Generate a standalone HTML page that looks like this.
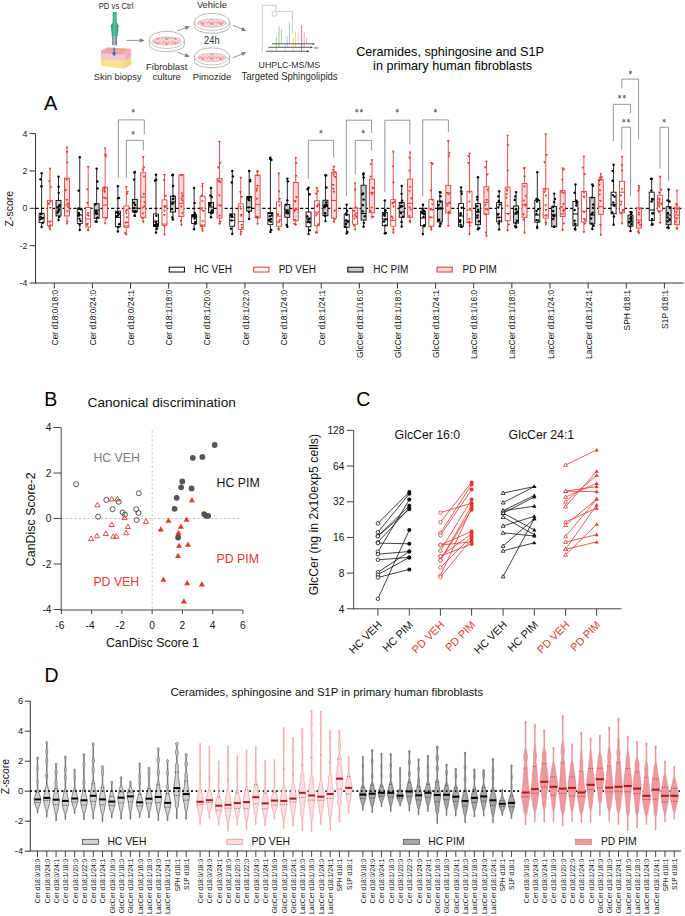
<!DOCTYPE html>
<html><head><meta charset="utf-8"><style>
html,body{margin:0;padding:0;background:#fff;overflow:hidden}
svg{display:block}
text{font-family:"Liberation Sans",sans-serif}
</style></head><body>
<svg width="685" height="916" viewBox="0 0 685 916" font-family="Liberation Sans, sans-serif">
<rect width="685" height="916" fill="#fff"/>
<text x="98.7" y="8.6" font-size="9.1" fill="#2a2a2a" text-anchor="start" textLength="34.7" lengthAdjust="spacingAndGlyphs">PD vs Ctrl</text>
<defs><linearGradient id="tg" x1="0" x2="1" y1="0" y2="0"><stop offset="0" stop-color="#2f8f74"/><stop offset="0.45" stop-color="#5cc4a2"/><stop offset="1" stop-color="#2f8f74"/></linearGradient><linearGradient id="mg" x1="0" x2="1" y1="0" y2="0"><stop offset="0" stop-color="#55707c"/><stop offset="0.45" stop-color="#b8cad2"/><stop offset="1" stop-color="#4a6470"/></linearGradient><pattern id="cells" width="9" height="5" patternUnits="userSpaceOnUse"><rect width="9" height="5" fill="#f7d3d6"/><circle cx="2.1" cy="2.7" r="0.6" fill="#ea7a84"/><circle cx="4.3" cy="2.9" r="0.7" fill="#f2a4ab"/><circle cx="2.3" cy="1.2" r="0.8" fill="#f2a4ab"/><circle cx="4.9" cy="2.7" r="0.6" fill="#ee8d95"/><circle cx="2.1" cy="0.8" r="0.8" fill="#f2a4ab"/><circle cx="6.7" cy="3.4" r="0.5" fill="#ea7a84"/><circle cx="0.4" cy="3.9" r="0.7" fill="#f2a4ab"/><circle cx="4.3" cy="3.6" r="0.8" fill="#ea7a84"/><circle cx="7.1" cy="2.1" r="0.7" fill="#ea7a84"/><circle cx="4.0" cy="4.7" r="0.8" fill="#ee8d95"/><circle cx="0.3" cy="2.5" r="0.5" fill="#ea7a84"/><circle cx="3.9" cy="3.1" r="0.6" fill="#ea7a84"/><circle cx="7.5" cy="2.9" r="0.6" fill="#f2a4ab"/><circle cx="5.3" cy="4.5" r="0.7" fill="#ee8d95"/><circle cx="7.7" cy="5.0" r="0.5" fill="#fdf3f4"/><circle cx="1.5" cy="4.3" r="0.6" fill="#fdf3f4"/><circle cx="8.1" cy="2.8" r="0.5" fill="#fdf3f4"/><circle cx="1.9" cy="4.2" r="0.5" fill="#fdf3f4"/><circle cx="2.6" cy="0.3" r="0.6" fill="#fdf3f4"/></pattern></defs>
<rect x="112.7" y="12" width="3.9" height="10.5" fill="url(#tg)"/>
<path d="M112.7,22 L110.9,25.6 L111.9,36.8 L117.6,36.8 L118.6,25.6 L116.6,22 Z" fill="url(#tg)"/>
<rect x="112.2" y="36.7" width="4.7" height="8.5" fill="url(#mg)"/>
<polygon points="101,50.5 107.5,47.6 131.2,48.8 124.6,52.2" fill="#f2a584"/>
<polygon points="101,50.5 124.6,52.2 124.6,68.6 101,65.8" fill="#f5c5cd"/>
<polygon points="101,50.5 124.6,52.2 124.6,54.6 101,53.2" fill="#ee9cbd"/>
<polygon points="101,59.8 105,59.2 110,60.3 115,59.6 120,60.6 124.6,60.2 124.6,68.6 101,65.8" fill="#f5e38e"/>
<polygon points="124.6,52.2 131.2,48.8 131.2,64.2 124.6,68.6" fill="#f0b2c0"/>
<polygon points="124.6,60.2 131.2,57.2 131.2,64.2 124.6,68.6" fill="#eedc82"/>
<line x1="114.2" y1="47.8" x2="114.2" y2="53.5" stroke="#3a66c4" stroke-width="1.4" />
<polygon points="111.9,52.6 116.5,52.6 114.2,56.6" fill="#3a66c4"/>
<line x1="126.3" y1="40.4" x2="139.6" y2="40.4" stroke="#7a7a7a" stroke-width="0.8" />
<polygon points="144.6,40.4 139.6,42.5 139.6,38.3" fill="#7a7a7a"/>
<line x1="177.2" y1="30.9" x2="185.31" y2="27.92" stroke="#7a7a7a" stroke-width="0.8" />
<polygon points="190,26.2 186.03,29.89 184.58,25.95" fill="#7a7a7a"/>
<line x1="177.2" y1="52.2" x2="185.29" y2="55.11" stroke="#7a7a7a" stroke-width="0.8" />
<polygon points="190,56.8 184.58,57.09 186,53.13" fill="#7a7a7a"/>
<line x1="232.9" y1="25.4" x2="241.76" y2="28.94" stroke="#7a7a7a" stroke-width="0.8" />
<polygon points="246.4,30.8 240.98,30.89 242.54,26.99" fill="#7a7a7a"/>
<line x1="232.9" y1="57.8" x2="241.78" y2="54.12" stroke="#7a7a7a" stroke-width="0.8" />
<polygon points="246.4,52.2 242.59,56.06 240.98,52.18" fill="#7a7a7a"/>
<text x="93.8" y="80.2" font-size="9.9" fill="#2a2a2a" text-anchor="start" textLength="47.8" lengthAdjust="spacingAndGlyphs">Skin biopsy</text>
<path d="M149.2,39.9 A17.6,8.6 0 0 1 184.4,39.9 L184.4,44.8 A17.6,6.9 0 0 1 149.2,44.8 Z" fill="#fff" stroke="#9a9a9a" stroke-width="0.7"/>
<path d="M149.2,39.9 A17.6,8.6 0 0 0 184.4,39.9" fill="none" stroke="#9a9a9a" stroke-width="0.6"/>
<ellipse cx="166.8" cy="41.1" rx="14.5" ry="4.2" fill="url(#cells)" stroke="#b0b0b0" stroke-width="0.5"/>
<path d="M194.4,21.9 A17.6,8.6 0 0 1 229.6,21.9 L229.6,26.4 A17.6,6.9 0 0 1 194.4,26.4 Z" fill="#fff" stroke="#9a9a9a" stroke-width="0.7"/>
<path d="M194.4,21.9 A17.6,8.6 0 0 0 229.6,21.9" fill="none" stroke="#9a9a9a" stroke-width="0.6"/>
<ellipse cx="212" cy="23.1" rx="14.5" ry="4.2" fill="url(#cells)" stroke="#b0b0b0" stroke-width="0.5"/>
<path d="M194.4,56.4 A17.6,8.6 0 0 1 229.6,56.4 L229.6,60.9 A17.6,6.9 0 0 1 194.4,60.9 Z" fill="#fff" stroke="#9a9a9a" stroke-width="0.7"/>
<path d="M194.4,56.4 A17.6,8.6 0 0 0 229.6,56.4" fill="none" stroke="#9a9a9a" stroke-width="0.6"/>
<ellipse cx="212" cy="57.6" rx="14.5" ry="4.2" fill="url(#cells)" stroke="#b0b0b0" stroke-width="0.5"/>
<text x="196.9" y="8" font-size="9.3" fill="#2a2a2a" text-anchor="start" textLength="30" lengthAdjust="spacingAndGlyphs">Vehicle</text>
<text x="204.1" y="43.8" font-size="10.3" fill="#2a2a2a" text-anchor="start" textLength="15.5" lengthAdjust="spacingAndGlyphs">24h</text>
<text x="146.1" y="69.6" font-size="9.8" fill="#2a2a2a" text-anchor="start" textLength="41.3" lengthAdjust="spacingAndGlyphs">Fibroblast</text>
<text x="152.4" y="79.6" font-size="9.8" fill="#2a2a2a" text-anchor="start" textLength="28.5" lengthAdjust="spacingAndGlyphs">culture</text>
<text x="192.8" y="79.6" font-size="9.8" fill="#2a2a2a" text-anchor="start" textLength="38.4" lengthAdjust="spacingAndGlyphs">Pimozide</text>
<polyline points="262.3,51.7 262.3,5.3 276,5.3 276,11.2" stroke="#bdbdbd" stroke-width="0.8" fill="none" />
<circle cx="274.5" cy="13.8" r="2.5" fill="none" stroke="#bdbdbd" stroke-width="0.8"/>
<polyline points="276.5,11.4 292.4,11.4 292.4,33" stroke="#bdbdbd" stroke-width="0.8" fill="none" />
<line x1="276.3" y1="36.8" x2="276.3" y2="51.3" stroke="#9fd39a" stroke-width="0.9" />
<line x1="279" y1="26.3" x2="279" y2="47.3" stroke="#8ccc88" stroke-width="0.9" />
<line x1="281.4" y1="28.9" x2="281.4" y2="43.8" stroke="#9fd39a" stroke-width="0.9" />
<line x1="285.1" y1="44.8" x2="285.1" y2="51.3" stroke="#a9d8ee" stroke-width="0.9" />
<line x1="287.2" y1="36" x2="287.2" y2="47.3" stroke="#a0d0ec" stroke-width="0.9" />
<line x1="289.5" y1="22.4" x2="289.5" y2="43.8" stroke="#9bcbe8" stroke-width="0.9" />
<line x1="293.3" y1="37.7" x2="293.3" y2="51.3" stroke="#f3d67a" stroke-width="0.9" />
<line x1="295.6" y1="31.2" x2="295.6" y2="47.3" stroke="#f0d070" stroke-width="0.9" />
<line x1="298.2" y1="33.3" x2="298.2" y2="43.8" stroke="#f3da88" stroke-width="0.9" />
<line x1="301.6" y1="25.4" x2="301.6" y2="51.3" stroke="#e35fb8" stroke-width="0.9" />
<line x1="304.2" y1="32.4" x2="304.2" y2="47.3" stroke="#f0a0d0" stroke-width="0.9" />
<line x1="306.5" y1="37.7" x2="306.5" y2="43.8" stroke="#f2a8d4" stroke-width="0.9" />
<line x1="272" y1="43.8" x2="312.5" y2="43.8" stroke="#333" stroke-width="0.8" />
<polygon points="315,43.8 312.5,44.9 312.5,42.7" fill="#333"/>
<line x1="268.4" y1="47.3" x2="310.5" y2="47.3" stroke="#333" stroke-width="0.8" />
<polygon points="313,47.3 310.5,48.4 310.5,46.2" fill="#333"/>
<line x1="266.2" y1="51.3" x2="307" y2="51.3" stroke="#333" stroke-width="0.8" />
<polygon points="309.5,51.3 307,52.4 307,50.2" fill="#333"/>
<text x="314" y="48.6" font-size="2.8" fill="#333" text-anchor="start" >m/z</text>
<text x="258.6" y="67.6" font-size="9.6" fill="#2a2a2a" text-anchor="start" textLength="61.5" lengthAdjust="spacingAndGlyphs">UHPLC-MS/MS</text>
<text x="241.6" y="79.7" font-size="10.3" fill="#2a2a2a" text-anchor="start" textLength="96" lengthAdjust="spacingAndGlyphs">Targeted Sphingolipids</text>
<text x="356.2" y="55.5" font-size="12.67" fill="#000" text-anchor="start" >Ceramides, sphingosine and S1P</text>
<text x="373.1" y="70.4" font-size="12.67" fill="#000" text-anchor="start" >in primary human fibroblasts</text>
<text x="43.9" y="109.7" font-size="20" fill="#000" text-anchor="start" >A</text>
<line x1="35.5" y1="133.58" x2="35.5" y2="283.5" stroke="#333" stroke-width="1" />
<line x1="35" y1="283" x2="683.7" y2="283" stroke="#333" stroke-width="1" />
<line x1="29.5" y1="133.58" x2="35.5" y2="133.58" stroke="#333" stroke-width="1" />
<text x="27.5" y="136.68" font-size="8.8" fill="#222" text-anchor="end" >4</text>
<line x1="29.5" y1="170.94" x2="35.5" y2="170.94" stroke="#333" stroke-width="1" />
<text x="27.5" y="174.04" font-size="8.8" fill="#222" text-anchor="end" >2</text>
<line x1="29.5" y1="208.3" x2="35.5" y2="208.3" stroke="#333" stroke-width="1" />
<text x="27.5" y="211.4" font-size="8.8" fill="#222" text-anchor="end" >0</text>
<line x1="29.5" y1="245.66" x2="35.5" y2="245.66" stroke="#333" stroke-width="1" />
<text x="27.5" y="248.76" font-size="8.8" fill="#222" text-anchor="end" >-2</text>
<line x1="29.5" y1="283.02" x2="35.5" y2="283.02" stroke="#333" stroke-width="1" />
<text x="27.5" y="286.12" font-size="8.8" fill="#222" text-anchor="end" >-4</text>
<text transform="translate(13.4,208.6) rotate(-90)" font-size="10.5" text-anchor="middle" fill="#111">Z-score</text>
<line x1="35.5" y1="208.3" x2="683.7" y2="208.3" stroke="#000" stroke-width="1.3" stroke-dasharray="3.2,2.2"/>
<line x1="54.3" y1="283" x2="54.3" y2="288.5" stroke="#333" stroke-width="1" />
<text transform="translate(57.9,289.8) rotate(-90) scale(0.85,1)" font-size="9.9" text-anchor="end" fill="#111">Cer d18:0/18:0</text>
<line x1="41.62" y1="173.3" x2="41.62" y2="213.3" stroke="#000" stroke-width="0.85" />
<line x1="41.62" y1="222.6" x2="41.62" y2="227" stroke="#000" stroke-width="0.85" />
<rect x="39.12" y="213.3" width="5.0" height="9.3" fill="#fff" stroke="#000" stroke-width="0.85"/>
<line x1="39.12" y1="217.7" x2="44.12" y2="217.7" stroke="#000" stroke-width="1" />
<circle cx="41.62" cy="173.3" r="1.2" fill="#000" stroke="none" stroke-width="0.8"/>
<circle cx="41.62" cy="227" r="1.2" fill="#000" stroke="none" stroke-width="0.8"/>
<circle cx="41.45" cy="186.25" r="1.2" fill="#000" stroke="none" stroke-width="0.8"/>
<circle cx="40.51" cy="179.33" r="1.2" fill="#000" stroke="none" stroke-width="0.8"/>
<circle cx="40.56" cy="219.35" r="1.2" fill="#000" stroke="none" stroke-width="0.8"/>
<circle cx="41.43" cy="213.97" r="1.2" fill="#000" stroke="none" stroke-width="0.8"/>
<circle cx="42.47" cy="218.28" r="1.2" fill="#000" stroke="none" stroke-width="0.8"/>
<circle cx="40.65" cy="216.7" r="1.2" fill="#000" stroke="none" stroke-width="0.8"/>
<circle cx="40.91" cy="213.84" r="1.2" fill="#000" stroke="none" stroke-width="0.8"/>
<circle cx="41.96" cy="218.02" r="1.2" fill="#000" stroke="none" stroke-width="0.8"/>
<circle cx="42.79" cy="222.76" r="1.2" fill="#000" stroke="none" stroke-width="0.8"/>
<line x1="50.07" y1="168.6" x2="50.07" y2="200.4" stroke="#e2392f" stroke-width="0.85" />
<line x1="50.07" y1="225.8" x2="50.07" y2="229.5" stroke="#e2392f" stroke-width="0.85" />
<rect x="47.57" y="200.4" width="5.0" height="25.4" fill="#fff" stroke="#e2392f" stroke-width="0.85"/>
<line x1="47.57" y1="221.2" x2="52.57" y2="221.2" stroke="#e2392f" stroke-width="1" />
<polygon points="48.67,167.79 51.47,167.79 50.07,170.22" fill="#e2392f" stroke="none" stroke-width="0.8"/>
<polygon points="48.67,228.69 51.47,228.69 50.07,231.12" fill="#e2392f" stroke="none" stroke-width="0.8"/>
<polygon points="49.5,186.14 52.3,186.14 50.9,188.57" fill="#e2392f" stroke="none" stroke-width="0.8"/>
<polygon points="47.84,180.41 50.64,180.41 49.24,182.83" fill="#e2392f" stroke="none" stroke-width="0.8"/>
<polygon points="48.89,224.39 51.69,224.39 50.29,226.81" fill="#e2392f" stroke="none" stroke-width="0.8"/>
<polygon points="49.04,200.77 51.84,200.77 50.44,203.2" fill="#e2392f" stroke="none" stroke-width="0.8"/>
<polygon points="48.34,221.4 51.14,221.4 49.74,223.82" fill="#e2392f" stroke="none" stroke-width="0.8"/>
<polygon points="48.8,206.95 51.6,206.95 50.2,209.37" fill="#e2392f" stroke="none" stroke-width="0.8"/>
<polygon points="47.54,203.26 50.34,203.26 48.94,205.68" fill="#e2392f" stroke="none" stroke-width="0.8"/>
<polygon points="47.53,202.58 50.33,202.58 48.93,205.01" fill="#e2392f" stroke="none" stroke-width="0.8"/>
<polygon points="47.91,226.13 50.71,226.13 49.31,228.56" fill="#e2392f" stroke="none" stroke-width="0.8"/>
<line x1="58.52" y1="176.6" x2="58.52" y2="200.5" stroke="#000" stroke-width="0.85" />
<line x1="58.52" y1="215.9" x2="58.52" y2="220" stroke="#000" stroke-width="0.85" />
<rect x="56.02" y="200.5" width="5.0" height="15.4" fill="#c9c9c9" stroke="#000" stroke-width="0.85"/>
<line x1="56.02" y1="207" x2="61.02" y2="207" stroke="#000" stroke-width="1" />
<circle cx="58.52" cy="176.6" r="1.2" fill="#000" stroke="none" stroke-width="0.8"/>
<circle cx="58.52" cy="220" r="1.2" fill="#000" stroke="none" stroke-width="0.8"/>
<circle cx="58.72" cy="192.86" r="1.2" fill="#000" stroke="none" stroke-width="0.8"/>
<circle cx="58.59" cy="186.82" r="1.2" fill="#000" stroke="none" stroke-width="0.8"/>
<circle cx="59.5" cy="205.34" r="1.2" fill="#000" stroke="none" stroke-width="0.8"/>
<circle cx="59.12" cy="209.52" r="1.2" fill="#000" stroke="none" stroke-width="0.8"/>
<circle cx="57.97" cy="207.48" r="1.2" fill="#000" stroke="none" stroke-width="0.8"/>
<circle cx="59.77" cy="205.12" r="1.2" fill="#000" stroke="none" stroke-width="0.8"/>
<circle cx="57.53" cy="212.73" r="1.2" fill="#000" stroke="none" stroke-width="0.8"/>
<circle cx="58.31" cy="211.26" r="1.2" fill="#000" stroke="none" stroke-width="0.8"/>
<circle cx="59.19" cy="216.9" r="1.2" fill="#000" stroke="none" stroke-width="0.8"/>
<line x1="66.97" y1="147.2" x2="66.97" y2="178.2" stroke="#e2392f" stroke-width="0.85" />
<line x1="66.97" y1="215.9" x2="66.97" y2="223.5" stroke="#e2392f" stroke-width="0.85" />
<rect x="64.47" y="178.2" width="5.0" height="37.7" fill="#f4d9dc" stroke="#e2392f" stroke-width="0.85"/>
<line x1="64.47" y1="205" x2="69.47" y2="205" stroke="#e2392f" stroke-width="1" />
<polygon points="65.57,146.39 68.38,146.39 66.97,148.82" fill="#e2392f" stroke="none" stroke-width="0.8"/>
<polygon points="65.57,222.69 68.38,222.69 66.97,225.12" fill="#e2392f" stroke="none" stroke-width="0.8"/>
<polygon points="65.82,151.1 68.62,151.1 67.22,153.53" fill="#e2392f" stroke="none" stroke-width="0.8"/>
<polygon points="65.78,161.55 68.58,161.55 67.18,163.97" fill="#e2392f" stroke="none" stroke-width="0.8"/>
<polygon points="65.46,178.87 68.26,178.87 66.86,181.29" fill="#e2392f" stroke="none" stroke-width="0.8"/>
<polygon points="66.46,202.58 69.26,202.58 67.86,205.01" fill="#e2392f" stroke="none" stroke-width="0.8"/>
<polygon points="66.73,206.22 69.53,206.22 68.13,208.64" fill="#e2392f" stroke="none" stroke-width="0.8"/>
<polygon points="65.51,198.99 68.31,198.99 66.91,201.42" fill="#e2392f" stroke="none" stroke-width="0.8"/>
<polygon points="66,210.4 68.8,210.4 67.4,212.82" fill="#e2392f" stroke="none" stroke-width="0.8"/>
<polygon points="64.43,189.22 67.23,189.22 65.83,191.64" fill="#e2392f" stroke="none" stroke-width="0.8"/>
<polygon points="66.1,220.38 68.9,220.38 67.5,222.8" fill="#e2392f" stroke="none" stroke-width="0.8"/>
<line x1="92.43" y1="283" x2="92.43" y2="288.5" stroke="#333" stroke-width="1" />
<text transform="translate(96.03,289.8) rotate(-90) scale(0.85,1)" font-size="9.9" text-anchor="end" fill="#111">Cer d18:0/24:0</text>
<line x1="79.76" y1="157.2" x2="79.76" y2="208.9" stroke="#000" stroke-width="0.85" />
<line x1="79.76" y1="223.5" x2="79.76" y2="230" stroke="#000" stroke-width="0.85" />
<rect x="77.26" y="208.9" width="5.0" height="14.6" fill="#fff" stroke="#000" stroke-width="0.85"/>
<line x1="77.26" y1="215" x2="82.26" y2="215" stroke="#000" stroke-width="1" />
<circle cx="79.76" cy="157.2" r="1.2" fill="#000" stroke="none" stroke-width="0.8"/>
<circle cx="79.76" cy="230" r="1.2" fill="#000" stroke="none" stroke-width="0.8"/>
<circle cx="78.76" cy="190.66" r="1.2" fill="#000" stroke="none" stroke-width="0.8"/>
<circle cx="78.61" cy="208.54" r="1.2" fill="#000" stroke="none" stroke-width="0.8"/>
<circle cx="80.45" cy="220.9" r="1.2" fill="#000" stroke="none" stroke-width="0.8"/>
<circle cx="78.79" cy="213.06" r="1.2" fill="#000" stroke="none" stroke-width="0.8"/>
<circle cx="79.1" cy="214.53" r="1.2" fill="#000" stroke="none" stroke-width="0.8"/>
<circle cx="79.47" cy="218.66" r="1.2" fill="#000" stroke="none" stroke-width="0.8"/>
<circle cx="80.72" cy="209.23" r="1.2" fill="#000" stroke="none" stroke-width="0.8"/>
<circle cx="78.66" cy="215.64" r="1.2" fill="#000" stroke="none" stroke-width="0.8"/>
<circle cx="79.62" cy="224.59" r="1.2" fill="#000" stroke="none" stroke-width="0.8"/>
<line x1="88.21" y1="166.9" x2="88.21" y2="207.5" stroke="#e2392f" stroke-width="0.85" />
<line x1="88.21" y1="227" x2="88.21" y2="230" stroke="#e2392f" stroke-width="0.85" />
<rect x="85.71" y="207.5" width="5.0" height="19.5" fill="#fff" stroke="#e2392f" stroke-width="0.85"/>
<line x1="85.71" y1="219" x2="90.71" y2="219" stroke="#e2392f" stroke-width="1" />
<polygon points="86.81,166.09 89.61,166.09 88.21,168.52" fill="#e2392f" stroke="none" stroke-width="0.8"/>
<polygon points="86.81,229.19 89.61,229.19 88.21,231.62" fill="#e2392f" stroke="none" stroke-width="0.8"/>
<polygon points="85.9,188.4 88.7,188.4 87.3,190.82" fill="#e2392f" stroke="none" stroke-width="0.8"/>
<polygon points="85.96,201.96 88.76,201.96 87.36,204.38" fill="#e2392f" stroke="none" stroke-width="0.8"/>
<polygon points="86.11,222.67 88.91,222.67 87.51,225.09" fill="#e2392f" stroke="none" stroke-width="0.8"/>
<polygon points="86.11,223.54 88.91,223.54 87.51,225.96" fill="#e2392f" stroke="none" stroke-width="0.8"/>
<polygon points="86.77,212.12 89.57,212.12 88.17,214.55" fill="#e2392f" stroke="none" stroke-width="0.8"/>
<polygon points="87.04,214.79 89.84,214.79 88.44,217.21" fill="#e2392f" stroke="none" stroke-width="0.8"/>
<polygon points="86.19,213.69 88.99,213.69 87.59,216.11" fill="#e2392f" stroke="none" stroke-width="0.8"/>
<polygon points="85.52,223.93 88.32,223.93 86.92,226.36" fill="#e2392f" stroke="none" stroke-width="0.8"/>
<polygon points="86.59,229.06 89.39,229.06 87.99,231.49" fill="#e2392f" stroke="none" stroke-width="0.8"/>
<line x1="96.66" y1="168.6" x2="96.66" y2="203.7" stroke="#000" stroke-width="0.85" />
<line x1="96.66" y1="218.3" x2="96.66" y2="221.8" stroke="#000" stroke-width="0.85" />
<rect x="94.16" y="203.7" width="5.0" height="14.6" fill="#c9c9c9" stroke="#000" stroke-width="0.85"/>
<line x1="94.16" y1="210" x2="99.16" y2="210" stroke="#000" stroke-width="1" />
<circle cx="96.66" cy="168.6" r="1.2" fill="#000" stroke="none" stroke-width="0.8"/>
<circle cx="96.66" cy="221.8" r="1.2" fill="#000" stroke="none" stroke-width="0.8"/>
<circle cx="97.38" cy="181.56" r="1.2" fill="#000" stroke="none" stroke-width="0.8"/>
<circle cx="97.63" cy="188.48" r="1.2" fill="#000" stroke="none" stroke-width="0.8"/>
<circle cx="97.43" cy="217.62" r="1.2" fill="#000" stroke="none" stroke-width="0.8"/>
<circle cx="96.38" cy="213.78" r="1.2" fill="#000" stroke="none" stroke-width="0.8"/>
<circle cx="96.39" cy="211.23" r="1.2" fill="#000" stroke="none" stroke-width="0.8"/>
<circle cx="95.62" cy="212.72" r="1.2" fill="#000" stroke="none" stroke-width="0.8"/>
<circle cx="97" cy="213.57" r="1.2" fill="#000" stroke="none" stroke-width="0.8"/>
<circle cx="95.52" cy="204.49" r="1.2" fill="#000" stroke="none" stroke-width="0.8"/>
<circle cx="95.53" cy="221.45" r="1.2" fill="#000" stroke="none" stroke-width="0.8"/>
<line x1="105.11" y1="148.2" x2="105.11" y2="187.3" stroke="#e2392f" stroke-width="0.85" />
<line x1="105.11" y1="217.7" x2="105.11" y2="223.2" stroke="#e2392f" stroke-width="0.85" />
<rect x="102.61" y="187.3" width="5.0" height="30.4" fill="#f4d9dc" stroke="#e2392f" stroke-width="0.85"/>
<line x1="102.61" y1="205" x2="107.61" y2="205" stroke="#e2392f" stroke-width="1" />
<polygon points="103.7,147.39 106.51,147.39 105.11,149.82" fill="#e2392f" stroke="none" stroke-width="0.8"/>
<polygon points="103.7,222.39 106.51,222.39 105.11,224.82" fill="#e2392f" stroke="none" stroke-width="0.8"/>
<polygon points="104.68,155.55 107.48,155.55 106.08,157.98" fill="#e2392f" stroke="none" stroke-width="0.8"/>
<polygon points="104,153.74 106.8,153.74 105.4,156.16" fill="#e2392f" stroke="none" stroke-width="0.8"/>
<polygon points="102.79,196.83 105.59,196.83 104.19,199.25" fill="#e2392f" stroke="none" stroke-width="0.8"/>
<polygon points="103.06,188.09 105.86,188.09 104.46,190.51" fill="#e2392f" stroke="none" stroke-width="0.8"/>
<polygon points="103.31,186.5 106.11,186.5 104.71,188.92" fill="#e2392f" stroke="none" stroke-width="0.8"/>
<polygon points="103.35,191.09 106.15,191.09 104.75,193.51" fill="#e2392f" stroke="none" stroke-width="0.8"/>
<polygon points="102.72,189.58 105.52,189.58 104.12,192" fill="#e2392f" stroke="none" stroke-width="0.8"/>
<polygon points="104.61,197.55 107.41,197.55 106.01,199.97" fill="#e2392f" stroke="none" stroke-width="0.8"/>
<polygon points="104.99,217.03 107.79,217.03 106.39,219.46" fill="#e2392f" stroke="none" stroke-width="0.8"/>
<line x1="130.56" y1="283" x2="130.56" y2="288.5" stroke="#333" stroke-width="1" />
<text transform="translate(134.16,289.8) rotate(-90) scale(0.85,1)" font-size="9.9" text-anchor="end" fill="#111">Cer d18:0/24:1</text>
<line x1="117.89" y1="186.3" x2="117.89" y2="211.2" stroke="#000" stroke-width="0.85" />
<line x1="117.89" y1="226.8" x2="117.89" y2="231.5" stroke="#000" stroke-width="0.85" />
<rect x="115.39" y="211.2" width="5.0" height="15.6" fill="#fff" stroke="#000" stroke-width="0.85"/>
<line x1="115.39" y1="217.3" x2="120.39" y2="217.3" stroke="#000" stroke-width="1" />
<circle cx="117.89" cy="186.3" r="1.2" fill="#000" stroke="none" stroke-width="0.8"/>
<circle cx="117.89" cy="231.5" r="1.2" fill="#000" stroke="none" stroke-width="0.8"/>
<circle cx="119.06" cy="197.9" r="1.2" fill="#000" stroke="none" stroke-width="0.8"/>
<circle cx="117.96" cy="198.35" r="1.2" fill="#000" stroke="none" stroke-width="0.8"/>
<circle cx="116.97" cy="212.54" r="1.2" fill="#000" stroke="none" stroke-width="0.8"/>
<circle cx="118" cy="212.79" r="1.2" fill="#000" stroke="none" stroke-width="0.8"/>
<circle cx="116.66" cy="216.55" r="1.2" fill="#000" stroke="none" stroke-width="0.8"/>
<circle cx="117.96" cy="215.33" r="1.2" fill="#000" stroke="none" stroke-width="0.8"/>
<circle cx="119.13" cy="224.13" r="1.2" fill="#000" stroke="none" stroke-width="0.8"/>
<circle cx="118.83" cy="213.72" r="1.2" fill="#000" stroke="none" stroke-width="0.8"/>
<circle cx="118.4" cy="226.91" r="1.2" fill="#000" stroke="none" stroke-width="0.8"/>
<line x1="126.34" y1="186.7" x2="126.34" y2="205.9" stroke="#e2392f" stroke-width="0.85" />
<line x1="126.34" y1="227.3" x2="126.34" y2="234.4" stroke="#e2392f" stroke-width="0.85" />
<rect x="123.84" y="205.9" width="5.0" height="21.4" fill="#fff" stroke="#e2392f" stroke-width="0.85"/>
<line x1="123.84" y1="226" x2="128.84" y2="226" stroke="#e2392f" stroke-width="1" />
<polygon points="124.94,185.89 127.74,185.89 126.34,188.32" fill="#e2392f" stroke="none" stroke-width="0.8"/>
<polygon points="124.94,233.59 127.74,233.59 126.34,236.02" fill="#e2392f" stroke="none" stroke-width="0.8"/>
<polygon points="126.2,190.91 129,190.91 127.6,193.33" fill="#e2392f" stroke="none" stroke-width="0.8"/>
<polygon points="125.85,192.93 128.65,192.93 127.25,195.36" fill="#e2392f" stroke="none" stroke-width="0.8"/>
<polygon points="125.73,208.67 128.53,208.67 127.13,211.09" fill="#e2392f" stroke="none" stroke-width="0.8"/>
<polygon points="125.76,221.61 128.56,221.61 127.16,224.04" fill="#e2392f" stroke="none" stroke-width="0.8"/>
<polygon points="125.56,216.49 128.36,216.49 126.96,218.91" fill="#e2392f" stroke="none" stroke-width="0.8"/>
<polygon points="124.22,221.76 127.02,221.76 125.62,224.19" fill="#e2392f" stroke="none" stroke-width="0.8"/>
<polygon points="124.98,212.15 127.78,212.15 126.38,214.57" fill="#e2392f" stroke="none" stroke-width="0.8"/>
<polygon points="124.56,209.86 127.36,209.86 125.96,212.29" fill="#e2392f" stroke="none" stroke-width="0.8"/>
<polygon points="123.71,232.25 126.51,232.25 125.11,234.68" fill="#e2392f" stroke="none" stroke-width="0.8"/>
<line x1="134.78" y1="171.9" x2="134.78" y2="199.4" stroke="#000" stroke-width="0.85" />
<line x1="134.78" y1="212" x2="134.78" y2="215.8" stroke="#000" stroke-width="0.85" />
<rect x="132.28" y="199.4" width="5.0" height="12.6" fill="#c9c9c9" stroke="#000" stroke-width="0.85"/>
<line x1="132.28" y1="208" x2="137.28" y2="208" stroke="#000" stroke-width="1" />
<circle cx="134.78" cy="171.9" r="1.2" fill="#000" stroke="none" stroke-width="0.8"/>
<circle cx="134.78" cy="215.8" r="1.2" fill="#000" stroke="none" stroke-width="0.8"/>
<circle cx="134.43" cy="172.67" r="1.2" fill="#000" stroke="none" stroke-width="0.8"/>
<circle cx="134.06" cy="179.58" r="1.2" fill="#000" stroke="none" stroke-width="0.8"/>
<circle cx="134.07" cy="202.67" r="1.2" fill="#000" stroke="none" stroke-width="0.8"/>
<circle cx="134" cy="208.13" r="1.2" fill="#000" stroke="none" stroke-width="0.8"/>
<circle cx="134.02" cy="211.45" r="1.2" fill="#000" stroke="none" stroke-width="0.8"/>
<circle cx="135.11" cy="205.04" r="1.2" fill="#000" stroke="none" stroke-width="0.8"/>
<circle cx="135.83" cy="211.21" r="1.2" fill="#000" stroke="none" stroke-width="0.8"/>
<circle cx="135.67" cy="211.85" r="1.2" fill="#000" stroke="none" stroke-width="0.8"/>
<circle cx="134.73" cy="215.63" r="1.2" fill="#000" stroke="none" stroke-width="0.8"/>
<line x1="143.24" y1="156.9" x2="143.24" y2="172.7" stroke="#e2392f" stroke-width="0.85" />
<line x1="143.24" y1="217.3" x2="143.24" y2="221.9" stroke="#e2392f" stroke-width="0.85" />
<rect x="140.74" y="172.7" width="5.0" height="44.6" fill="#f4d9dc" stroke="#e2392f" stroke-width="0.85"/>
<line x1="140.74" y1="197.1" x2="145.74" y2="197.1" stroke="#e2392f" stroke-width="1" />
<polygon points="141.84,156.09 144.64,156.09 143.24,158.52" fill="#e2392f" stroke="none" stroke-width="0.8"/>
<polygon points="141.84,221.09 144.64,221.09 143.24,223.52" fill="#e2392f" stroke="none" stroke-width="0.8"/>
<polygon points="142.59,166.41 145.39,166.41 143.99,168.83" fill="#e2392f" stroke="none" stroke-width="0.8"/>
<polygon points="141.4,168.73 144.2,168.73 142.8,171.15" fill="#e2392f" stroke="none" stroke-width="0.8"/>
<polygon points="142.62,175.67 145.42,175.67 144.02,178.1" fill="#e2392f" stroke="none" stroke-width="0.8"/>
<polygon points="143.06,201.35 145.86,201.35 144.46,203.78" fill="#e2392f" stroke="none" stroke-width="0.8"/>
<polygon points="141.56,212.47 144.36,212.47 142.96,214.89" fill="#e2392f" stroke="none" stroke-width="0.8"/>
<polygon points="141.58,206.78 144.38,206.78 142.98,209.21" fill="#e2392f" stroke="none" stroke-width="0.8"/>
<polygon points="143,205.35 145.8,205.35 144.4,207.77" fill="#e2392f" stroke="none" stroke-width="0.8"/>
<polygon points="142.42,193.21 145.22,193.21 143.82,195.64" fill="#e2392f" stroke="none" stroke-width="0.8"/>
<polygon points="140.98,217.31 143.78,217.31 142.38,219.74" fill="#e2392f" stroke="none" stroke-width="0.8"/>
<line x1="168.69" y1="283" x2="168.69" y2="288.5" stroke="#333" stroke-width="1" />
<text transform="translate(172.29,289.8) rotate(-90) scale(0.85,1)" font-size="9.9" text-anchor="end" fill="#111">Cer d18:1/18:0</text>
<line x1="156.01" y1="174.8" x2="156.01" y2="214" stroke="#000" stroke-width="0.85" />
<line x1="156.01" y1="226.5" x2="156.01" y2="232.6" stroke="#000" stroke-width="0.85" />
<rect x="153.51" y="214" width="5.0" height="12.5" fill="#fff" stroke="#000" stroke-width="0.85"/>
<line x1="153.51" y1="221" x2="158.51" y2="221" stroke="#000" stroke-width="1" />
<circle cx="156.01" cy="174.8" r="1.2" fill="#000" stroke="none" stroke-width="0.8"/>
<circle cx="156.01" cy="232.6" r="1.2" fill="#000" stroke="none" stroke-width="0.8"/>
<circle cx="156.14" cy="179.78" r="1.2" fill="#000" stroke="none" stroke-width="0.8"/>
<circle cx="155.06" cy="180.73" r="1.2" fill="#000" stroke="none" stroke-width="0.8"/>
<circle cx="154.75" cy="225.31" r="1.2" fill="#000" stroke="none" stroke-width="0.8"/>
<circle cx="157.24" cy="224.08" r="1.2" fill="#000" stroke="none" stroke-width="0.8"/>
<circle cx="156.4" cy="215.83" r="1.2" fill="#000" stroke="none" stroke-width="0.8"/>
<circle cx="156.08" cy="224.33" r="1.2" fill="#000" stroke="none" stroke-width="0.8"/>
<circle cx="157.14" cy="226.25" r="1.2" fill="#000" stroke="none" stroke-width="0.8"/>
<circle cx="155.84" cy="222.22" r="1.2" fill="#000" stroke="none" stroke-width="0.8"/>
<circle cx="156.98" cy="228.64" r="1.2" fill="#000" stroke="none" stroke-width="0.8"/>
<line x1="164.47" y1="174.8" x2="164.47" y2="199.9" stroke="#e2392f" stroke-width="0.85" />
<line x1="164.47" y1="225.3" x2="164.47" y2="234.5" stroke="#e2392f" stroke-width="0.85" />
<rect x="161.97" y="199.9" width="5.0" height="25.4" fill="#fff" stroke="#e2392f" stroke-width="0.85"/>
<line x1="161.97" y1="224" x2="166.97" y2="224" stroke="#e2392f" stroke-width="1" />
<polygon points="163.06,173.99 165.87,173.99 164.47,176.42" fill="#e2392f" stroke="none" stroke-width="0.8"/>
<polygon points="163.06,233.69 165.87,233.69 164.47,236.12" fill="#e2392f" stroke="none" stroke-width="0.8"/>
<polygon points="164.13,194.73 166.93,194.73 165.53,197.15" fill="#e2392f" stroke="none" stroke-width="0.8"/>
<polygon points="162.68,179.29 165.48,179.29 164.08,181.71" fill="#e2392f" stroke="none" stroke-width="0.8"/>
<polygon points="162.96,205.49 165.76,205.49 164.36,207.91" fill="#e2392f" stroke="none" stroke-width="0.8"/>
<polygon points="163.28,206.53 166.08,206.53 164.68,208.96" fill="#e2392f" stroke="none" stroke-width="0.8"/>
<polygon points="164.12,205.2 166.92,205.2 165.52,207.63" fill="#e2392f" stroke="none" stroke-width="0.8"/>
<polygon points="162.86,213.99 165.66,213.99 164.26,216.41" fill="#e2392f" stroke="none" stroke-width="0.8"/>
<polygon points="164.15,205.68 166.95,205.68 165.55,208.1" fill="#e2392f" stroke="none" stroke-width="0.8"/>
<polygon points="163.07,209.73 165.87,209.73 164.47,212.16" fill="#e2392f" stroke="none" stroke-width="0.8"/>
<polygon points="163.15,225.7 165.95,225.7 164.55,228.12" fill="#e2392f" stroke="none" stroke-width="0.8"/>
<line x1="172.91" y1="174.8" x2="172.91" y2="196.2" stroke="#000" stroke-width="0.85" />
<line x1="172.91" y1="212" x2="172.91" y2="219.6" stroke="#000" stroke-width="0.85" />
<rect x="170.41" y="196.2" width="5.0" height="15.8" fill="#c9c9c9" stroke="#000" stroke-width="0.85"/>
<line x1="170.41" y1="202" x2="175.41" y2="202" stroke="#000" stroke-width="1" />
<circle cx="172.91" cy="174.8" r="1.2" fill="#000" stroke="none" stroke-width="0.8"/>
<circle cx="172.91" cy="219.6" r="1.2" fill="#000" stroke="none" stroke-width="0.8"/>
<circle cx="173.06" cy="186" r="1.2" fill="#000" stroke="none" stroke-width="0.8"/>
<circle cx="172.46" cy="175.2" r="1.2" fill="#000" stroke="none" stroke-width="0.8"/>
<circle cx="172.96" cy="203.15" r="1.2" fill="#000" stroke="none" stroke-width="0.8"/>
<circle cx="173.06" cy="199.09" r="1.2" fill="#000" stroke="none" stroke-width="0.8"/>
<circle cx="173.65" cy="196.26" r="1.2" fill="#000" stroke="none" stroke-width="0.8"/>
<circle cx="171.89" cy="208.83" r="1.2" fill="#000" stroke="none" stroke-width="0.8"/>
<circle cx="173.07" cy="198.92" r="1.2" fill="#000" stroke="none" stroke-width="0.8"/>
<circle cx="172.26" cy="203.68" r="1.2" fill="#000" stroke="none" stroke-width="0.8"/>
<circle cx="172.33" cy="217.51" r="1.2" fill="#000" stroke="none" stroke-width="0.8"/>
<line x1="181.37" y1="174.8" x2="181.37" y2="174.8" stroke="#e2392f" stroke-width="0.85" />
<line x1="181.37" y1="216.6" x2="181.37" y2="225" stroke="#e2392f" stroke-width="0.85" />
<rect x="178.87" y="174.8" width="5.0" height="41.8" fill="#f4d9dc" stroke="#e2392f" stroke-width="0.85"/>
<line x1="178.87" y1="203.3" x2="183.87" y2="203.3" stroke="#e2392f" stroke-width="1" />
<polygon points="179.97,173.99 182.77,173.99 181.37,176.42" fill="#e2392f" stroke="none" stroke-width="0.8"/>
<polygon points="179.97,224.19 182.77,224.19 181.37,226.62" fill="#e2392f" stroke="none" stroke-width="0.8"/>
<polygon points="180.47,173.99 183.27,173.99 181.87,176.42" fill="#e2392f" stroke="none" stroke-width="0.8"/>
<polygon points="179.84,173.99 182.64,173.99 181.24,176.42" fill="#e2392f" stroke="none" stroke-width="0.8"/>
<polygon points="180.05,197.47 182.85,197.47 181.45,199.9" fill="#e2392f" stroke="none" stroke-width="0.8"/>
<polygon points="179.91,205.76 182.71,205.76 181.31,208.18" fill="#e2392f" stroke="none" stroke-width="0.8"/>
<polygon points="181.11,212.13 183.91,212.13 182.51,214.56" fill="#e2392f" stroke="none" stroke-width="0.8"/>
<polygon points="180.48,192.52 183.28,192.52 181.88,194.94" fill="#e2392f" stroke="none" stroke-width="0.8"/>
<polygon points="180.94,199.6 183.74,199.6 182.34,202.02" fill="#e2392f" stroke="none" stroke-width="0.8"/>
<polygon points="181.11,195.12 183.91,195.12 182.51,197.55" fill="#e2392f" stroke="none" stroke-width="0.8"/>
<polygon points="179.34,220.09 182.14,220.09 180.74,222.52" fill="#e2392f" stroke="none" stroke-width="0.8"/>
<line x1="206.82" y1="283" x2="206.82" y2="288.5" stroke="#333" stroke-width="1" />
<text transform="translate(210.42,289.8) rotate(-90) scale(0.85,1)" font-size="9.9" text-anchor="end" fill="#111">Cer d18:1/20:0</text>
<line x1="194.14" y1="188" x2="194.14" y2="214.6" stroke="#000" stroke-width="0.85" />
<line x1="194.14" y1="223.4" x2="194.14" y2="229.3" stroke="#000" stroke-width="0.85" />
<rect x="191.64" y="214.6" width="5.0" height="8.8" fill="#fff" stroke="#000" stroke-width="0.85"/>
<line x1="191.64" y1="217" x2="196.64" y2="217" stroke="#000" stroke-width="1" />
<circle cx="194.14" cy="188" r="1.2" fill="#000" stroke="none" stroke-width="0.8"/>
<circle cx="194.14" cy="229.3" r="1.2" fill="#000" stroke="none" stroke-width="0.8"/>
<circle cx="194.59" cy="202.88" r="1.2" fill="#000" stroke="none" stroke-width="0.8"/>
<circle cx="194.88" cy="213.09" r="1.2" fill="#000" stroke="none" stroke-width="0.8"/>
<circle cx="195.18" cy="221.99" r="1.2" fill="#000" stroke="none" stroke-width="0.8"/>
<circle cx="193.25" cy="215.81" r="1.2" fill="#000" stroke="none" stroke-width="0.8"/>
<circle cx="194.71" cy="215.67" r="1.2" fill="#000" stroke="none" stroke-width="0.8"/>
<circle cx="194.56" cy="218.49" r="1.2" fill="#000" stroke="none" stroke-width="0.8"/>
<circle cx="193.22" cy="215.24" r="1.2" fill="#000" stroke="none" stroke-width="0.8"/>
<circle cx="195.14" cy="216.72" r="1.2" fill="#000" stroke="none" stroke-width="0.8"/>
<circle cx="195.36" cy="223.83" r="1.2" fill="#000" stroke="none" stroke-width="0.8"/>
<line x1="202.59" y1="183.7" x2="202.59" y2="196.2" stroke="#e2392f" stroke-width="0.85" />
<line x1="202.59" y1="226.2" x2="202.59" y2="231" stroke="#e2392f" stroke-width="0.85" />
<rect x="200.09" y="196.2" width="5.0" height="30" fill="#fff" stroke="#e2392f" stroke-width="0.85"/>
<line x1="200.09" y1="225" x2="205.09" y2="225" stroke="#e2392f" stroke-width="1" />
<polygon points="201.19,182.89 204,182.89 202.59,185.32" fill="#e2392f" stroke="none" stroke-width="0.8"/>
<polygon points="201.19,230.19 204,230.19 202.59,232.62" fill="#e2392f" stroke="none" stroke-width="0.8"/>
<polygon points="200.78,185.64 203.58,185.64 202.18,188.06" fill="#e2392f" stroke="none" stroke-width="0.8"/>
<polygon points="200.4,194.8 203.2,194.8 201.8,197.22" fill="#e2392f" stroke="none" stroke-width="0.8"/>
<polygon points="200.72,207.34 203.52,207.34 202.12,209.76" fill="#e2392f" stroke="none" stroke-width="0.8"/>
<polygon points="201.77,210.01 204.57,210.01 203.17,212.43" fill="#e2392f" stroke="none" stroke-width="0.8"/>
<polygon points="199.95,225.09 202.75,225.09 201.35,227.51" fill="#e2392f" stroke="none" stroke-width="0.8"/>
<polygon points="201.34,220.37 204.14,220.37 202.74,222.79" fill="#e2392f" stroke="none" stroke-width="0.8"/>
<polygon points="201.04,200.24 203.84,200.24 202.44,202.66" fill="#e2392f" stroke="none" stroke-width="0.8"/>
<polygon points="199.94,208.34 202.74,208.34 201.34,210.76" fill="#e2392f" stroke="none" stroke-width="0.8"/>
<polygon points="200.76,227.87 203.56,227.87 202.16,230.29" fill="#e2392f" stroke="none" stroke-width="0.8"/>
<line x1="211.04" y1="188" x2="211.04" y2="202.5" stroke="#000" stroke-width="0.85" />
<line x1="211.04" y1="212.7" x2="211.04" y2="217.3" stroke="#000" stroke-width="0.85" />
<rect x="208.54" y="202.5" width="5.0" height="10.2" fill="#c9c9c9" stroke="#000" stroke-width="0.85"/>
<line x1="208.54" y1="207" x2="213.54" y2="207" stroke="#000" stroke-width="1" />
<circle cx="211.04" cy="188" r="1.2" fill="#000" stroke="none" stroke-width="0.8"/>
<circle cx="211.04" cy="217.3" r="1.2" fill="#000" stroke="none" stroke-width="0.8"/>
<circle cx="211.77" cy="197.05" r="1.2" fill="#000" stroke="none" stroke-width="0.8"/>
<circle cx="210.45" cy="195.43" r="1.2" fill="#000" stroke="none" stroke-width="0.8"/>
<circle cx="210.08" cy="203.16" r="1.2" fill="#000" stroke="none" stroke-width="0.8"/>
<circle cx="210.84" cy="212.55" r="1.2" fill="#000" stroke="none" stroke-width="0.8"/>
<circle cx="212.11" cy="210.54" r="1.2" fill="#000" stroke="none" stroke-width="0.8"/>
<circle cx="211.87" cy="212.41" r="1.2" fill="#000" stroke="none" stroke-width="0.8"/>
<circle cx="210.42" cy="203.57" r="1.2" fill="#000" stroke="none" stroke-width="0.8"/>
<circle cx="210.13" cy="205.21" r="1.2" fill="#000" stroke="none" stroke-width="0.8"/>
<circle cx="212.13" cy="212.88" r="1.2" fill="#000" stroke="none" stroke-width="0.8"/>
<line x1="219.5" y1="141.9" x2="219.5" y2="178.3" stroke="#e2392f" stroke-width="0.85" />
<line x1="219.5" y1="218.1" x2="219.5" y2="223.7" stroke="#e2392f" stroke-width="0.85" />
<rect x="217" y="178.3" width="5.0" height="39.8" fill="#f4d9dc" stroke="#e2392f" stroke-width="0.85"/>
<line x1="217" y1="205" x2="222" y2="205" stroke="#e2392f" stroke-width="1" />
<polygon points="218.09,141.09 220.9,141.09 219.5,143.52" fill="#e2392f" stroke="none" stroke-width="0.8"/>
<polygon points="218.09,222.89 220.9,222.89 219.5,225.32" fill="#e2392f" stroke="none" stroke-width="0.8"/>
<polygon points="218.88,161.86 221.68,161.86 220.28,164.29" fill="#e2392f" stroke="none" stroke-width="0.8"/>
<polygon points="217.01,166.59 219.81,166.59 218.41,169.01" fill="#e2392f" stroke="none" stroke-width="0.8"/>
<polygon points="219.02,181.05 221.82,181.05 220.42,183.48" fill="#e2392f" stroke="none" stroke-width="0.8"/>
<polygon points="216.97,179.78 219.77,179.78 218.37,182.21" fill="#e2392f" stroke="none" stroke-width="0.8"/>
<polygon points="219.04,204.88 221.84,204.88 220.44,207.31" fill="#e2392f" stroke="none" stroke-width="0.8"/>
<polygon points="217.97,194.42 220.77,194.42 219.37,196.84" fill="#e2392f" stroke="none" stroke-width="0.8"/>
<polygon points="217.68,180.37 220.48,180.37 219.08,182.8" fill="#e2392f" stroke="none" stroke-width="0.8"/>
<polygon points="218.23,214.84 221.03,214.84 219.63,217.26" fill="#e2392f" stroke="none" stroke-width="0.8"/>
<polygon points="219.2,220.84 222,220.84 220.6,223.27" fill="#e2392f" stroke="none" stroke-width="0.8"/>
<line x1="244.95" y1="283" x2="244.95" y2="288.5" stroke="#333" stroke-width="1" />
<text transform="translate(248.55,289.8) rotate(-90) scale(0.85,1)" font-size="9.9" text-anchor="end" fill="#111">Cer d18:1/22:0</text>
<line x1="232.27" y1="171" x2="232.27" y2="214" stroke="#000" stroke-width="0.85" />
<line x1="232.27" y1="226.2" x2="232.27" y2="234" stroke="#000" stroke-width="0.85" />
<rect x="229.77" y="214" width="5.0" height="12.2" fill="#fff" stroke="#000" stroke-width="0.85"/>
<line x1="229.77" y1="220.4" x2="234.77" y2="220.4" stroke="#000" stroke-width="1" />
<circle cx="232.27" cy="171" r="1.2" fill="#000" stroke="none" stroke-width="0.8"/>
<circle cx="232.27" cy="234" r="1.2" fill="#000" stroke="none" stroke-width="0.8"/>
<circle cx="231.77" cy="182.52" r="1.2" fill="#000" stroke="none" stroke-width="0.8"/>
<circle cx="232.95" cy="176.56" r="1.2" fill="#000" stroke="none" stroke-width="0.8"/>
<circle cx="231.73" cy="220.43" r="1.2" fill="#000" stroke="none" stroke-width="0.8"/>
<circle cx="232.28" cy="216.91" r="1.2" fill="#000" stroke="none" stroke-width="0.8"/>
<circle cx="231.44" cy="215.34" r="1.2" fill="#000" stroke="none" stroke-width="0.8"/>
<circle cx="231.88" cy="215.97" r="1.2" fill="#000" stroke="none" stroke-width="0.8"/>
<circle cx="231.02" cy="214.61" r="1.2" fill="#000" stroke="none" stroke-width="0.8"/>
<circle cx="231.63" cy="216.46" r="1.2" fill="#000" stroke="none" stroke-width="0.8"/>
<circle cx="231.01" cy="228.63" r="1.2" fill="#000" stroke="none" stroke-width="0.8"/>
<line x1="240.72" y1="177.6" x2="240.72" y2="203.9" stroke="#e2392f" stroke-width="0.85" />
<line x1="240.72" y1="229.3" x2="240.72" y2="234.5" stroke="#e2392f" stroke-width="0.85" />
<rect x="238.22" y="203.9" width="5.0" height="25.4" fill="#fff" stroke="#e2392f" stroke-width="0.85"/>
<line x1="238.22" y1="221.6" x2="243.22" y2="221.6" stroke="#e2392f" stroke-width="1" />
<polygon points="239.32,176.79 242.12,176.79 240.72,179.22" fill="#e2392f" stroke="none" stroke-width="0.8"/>
<polygon points="239.32,233.69 242.12,233.69 240.72,236.12" fill="#e2392f" stroke="none" stroke-width="0.8"/>
<polygon points="240.19,196.07 242.99,196.07 241.59,198.5" fill="#e2392f" stroke="none" stroke-width="0.8"/>
<polygon points="239.05,191.28 241.85,191.28 240.45,193.71" fill="#e2392f" stroke="none" stroke-width="0.8"/>
<polygon points="239.34,207.9 242.14,207.9 240.74,210.33" fill="#e2392f" stroke="none" stroke-width="0.8"/>
<polygon points="239.81,215.15 242.61,215.15 241.21,217.58" fill="#e2392f" stroke="none" stroke-width="0.8"/>
<polygon points="240.58,226.83 243.38,226.83 241.98,229.26" fill="#e2392f" stroke="none" stroke-width="0.8"/>
<polygon points="238.92,205.79 241.72,205.79 240.32,208.22" fill="#e2392f" stroke="none" stroke-width="0.8"/>
<polygon points="240.19,223.89 242.99,223.89 241.59,226.32" fill="#e2392f" stroke="none" stroke-width="0.8"/>
<polygon points="239.86,214.07 242.66,214.07 241.26,216.49" fill="#e2392f" stroke="none" stroke-width="0.8"/>
<polygon points="239.68,231.07 242.48,231.07 241.08,233.49" fill="#e2392f" stroke="none" stroke-width="0.8"/>
<line x1="249.17" y1="171" x2="249.17" y2="196.4" stroke="#000" stroke-width="0.85" />
<line x1="249.17" y1="211.2" x2="249.17" y2="218.9" stroke="#000" stroke-width="0.85" />
<rect x="246.67" y="196.4" width="5.0" height="14.8" fill="#c9c9c9" stroke="#000" stroke-width="0.85"/>
<line x1="246.67" y1="207.4" x2="251.67" y2="207.4" stroke="#000" stroke-width="1" />
<circle cx="249.17" cy="171" r="1.2" fill="#000" stroke="none" stroke-width="0.8"/>
<circle cx="249.17" cy="218.9" r="1.2" fill="#000" stroke="none" stroke-width="0.8"/>
<circle cx="250.06" cy="181.28" r="1.2" fill="#000" stroke="none" stroke-width="0.8"/>
<circle cx="250.14" cy="179.83" r="1.2" fill="#000" stroke="none" stroke-width="0.8"/>
<circle cx="249.62" cy="197.2" r="1.2" fill="#000" stroke="none" stroke-width="0.8"/>
<circle cx="248.61" cy="198.32" r="1.2" fill="#000" stroke="none" stroke-width="0.8"/>
<circle cx="248.5" cy="197.45" r="1.2" fill="#000" stroke="none" stroke-width="0.8"/>
<circle cx="248.64" cy="207.37" r="1.2" fill="#000" stroke="none" stroke-width="0.8"/>
<circle cx="249.07" cy="200.18" r="1.2" fill="#000" stroke="none" stroke-width="0.8"/>
<circle cx="248.28" cy="198.82" r="1.2" fill="#000" stroke="none" stroke-width="0.8"/>
<circle cx="249.03" cy="211.85" r="1.2" fill="#000" stroke="none" stroke-width="0.8"/>
<line x1="257.62" y1="171" x2="257.62" y2="175.3" stroke="#e2392f" stroke-width="0.85" />
<line x1="257.62" y1="218" x2="257.62" y2="223.7" stroke="#e2392f" stroke-width="0.85" />
<rect x="255.12" y="175.3" width="5.0" height="42.7" fill="#f4d9dc" stroke="#e2392f" stroke-width="0.85"/>
<line x1="255.12" y1="204.3" x2="260.12" y2="204.3" stroke="#e2392f" stroke-width="1" />
<polygon points="256.23,170.19 259.02,170.19 257.62,172.62" fill="#e2392f" stroke="none" stroke-width="0.8"/>
<polygon points="256.23,222.89 259.02,222.89 257.62,225.32" fill="#e2392f" stroke="none" stroke-width="0.8"/>
<polygon points="255.92,171.32 258.72,171.32 257.32,173.75" fill="#e2392f" stroke="none" stroke-width="0.8"/>
<polygon points="256.16,174.33 258.96,174.33 257.56,176.75" fill="#e2392f" stroke="none" stroke-width="0.8"/>
<polygon points="256.23,216.02 259.03,216.02 257.63,218.45" fill="#e2392f" stroke="none" stroke-width="0.8"/>
<polygon points="255.45,197.85 258.25,197.85 256.85,200.28" fill="#e2392f" stroke="none" stroke-width="0.8"/>
<polygon points="256.24,184.93 259.04,184.93 257.64,187.35" fill="#e2392f" stroke="none" stroke-width="0.8"/>
<polygon points="254.94,215.73 257.74,215.73 256.34,218.15" fill="#e2392f" stroke="none" stroke-width="0.8"/>
<polygon points="255.61,187.71 258.41,187.71 257.01,190.13" fill="#e2392f" stroke="none" stroke-width="0.8"/>
<polygon points="255.16,189.72 257.96,189.72 256.56,192.14" fill="#e2392f" stroke="none" stroke-width="0.8"/>
<polygon points="255.96,217.2 258.76,217.2 257.36,219.62" fill="#e2392f" stroke="none" stroke-width="0.8"/>
<line x1="283.08" y1="283" x2="283.08" y2="288.5" stroke="#333" stroke-width="1" />
<text transform="translate(286.68,289.8) rotate(-90) scale(0.85,1)" font-size="9.9" text-anchor="end" fill="#111">Cer d18:1/24:0</text>
<line x1="270.41" y1="157.7" x2="270.41" y2="212.4" stroke="#000" stroke-width="0.85" />
<line x1="270.41" y1="224.7" x2="270.41" y2="231.9" stroke="#000" stroke-width="0.85" />
<rect x="267.91" y="212.4" width="5.0" height="12.3" fill="#fff" stroke="#000" stroke-width="0.85"/>
<line x1="267.91" y1="213.5" x2="272.91" y2="213.5" stroke="#000" stroke-width="1" />
<circle cx="270.41" cy="157.7" r="1.2" fill="#000" stroke="none" stroke-width="0.8"/>
<circle cx="270.41" cy="231.9" r="1.2" fill="#000" stroke="none" stroke-width="0.8"/>
<circle cx="271.39" cy="159.98" r="1.2" fill="#000" stroke="none" stroke-width="0.8"/>
<circle cx="270.12" cy="158.93" r="1.2" fill="#000" stroke="none" stroke-width="0.8"/>
<circle cx="269.95" cy="216.14" r="1.2" fill="#000" stroke="none" stroke-width="0.8"/>
<circle cx="271.67" cy="215.26" r="1.2" fill="#000" stroke="none" stroke-width="0.8"/>
<circle cx="269.49" cy="219.6" r="1.2" fill="#000" stroke="none" stroke-width="0.8"/>
<circle cx="270.99" cy="218.91" r="1.2" fill="#000" stroke="none" stroke-width="0.8"/>
<circle cx="270.78" cy="221.63" r="1.2" fill="#000" stroke="none" stroke-width="0.8"/>
<circle cx="269.22" cy="220.49" r="1.2" fill="#000" stroke="none" stroke-width="0.8"/>
<circle cx="271.28" cy="229.86" r="1.2" fill="#000" stroke="none" stroke-width="0.8"/>
<line x1="278.86" y1="173.3" x2="278.86" y2="202" stroke="#e2392f" stroke-width="0.85" />
<line x1="278.86" y1="226.2" x2="278.86" y2="229.6" stroke="#e2392f" stroke-width="0.85" />
<rect x="276.36" y="202" width="5.0" height="24.2" fill="#fff" stroke="#e2392f" stroke-width="0.85"/>
<line x1="276.36" y1="216.1" x2="281.36" y2="216.1" stroke="#e2392f" stroke-width="1" />
<polygon points="277.46,172.49 280.25,172.49 278.86,174.92" fill="#e2392f" stroke="none" stroke-width="0.8"/>
<polygon points="277.46,228.79 280.25,228.79 278.86,231.22" fill="#e2392f" stroke="none" stroke-width="0.8"/>
<polygon points="278.3,198.09 281.1,198.09 279.7,200.52" fill="#e2392f" stroke="none" stroke-width="0.8"/>
<polygon points="277.67,190.5 280.47,190.5 279.07,192.92" fill="#e2392f" stroke="none" stroke-width="0.8"/>
<polygon points="278.48,218.95 281.28,218.95 279.88,221.38" fill="#e2392f" stroke="none" stroke-width="0.8"/>
<polygon points="277.93,220.85 280.73,220.85 279.33,223.27" fill="#e2392f" stroke="none" stroke-width="0.8"/>
<polygon points="277.96,204.56 280.76,204.56 279.36,206.99" fill="#e2392f" stroke="none" stroke-width="0.8"/>
<polygon points="276.75,213.87 279.55,213.87 278.15,216.29" fill="#e2392f" stroke="none" stroke-width="0.8"/>
<polygon points="276.24,213.4 279.04,213.4 277.64,215.82" fill="#e2392f" stroke="none" stroke-width="0.8"/>
<polygon points="276.5,221.4 279.3,221.4 277.9,223.82" fill="#e2392f" stroke="none" stroke-width="0.8"/>
<polygon points="277.09,228.13 279.89,228.13 278.49,230.55" fill="#e2392f" stroke="none" stroke-width="0.8"/>
<line x1="287.31" y1="178.6" x2="287.31" y2="204.6" stroke="#000" stroke-width="0.85" />
<line x1="287.31" y1="217.3" x2="287.31" y2="226.8" stroke="#000" stroke-width="0.85" />
<rect x="284.81" y="204.6" width="5.0" height="12.7" fill="#c9c9c9" stroke="#000" stroke-width="0.85"/>
<line x1="284.81" y1="210" x2="289.81" y2="210" stroke="#000" stroke-width="1" />
<circle cx="287.31" cy="178.6" r="1.2" fill="#000" stroke="none" stroke-width="0.8"/>
<circle cx="287.31" cy="226.8" r="1.2" fill="#000" stroke="none" stroke-width="0.8"/>
<circle cx="287.95" cy="181.33" r="1.2" fill="#000" stroke="none" stroke-width="0.8"/>
<circle cx="287.31" cy="200.33" r="1.2" fill="#000" stroke="none" stroke-width="0.8"/>
<circle cx="287.4" cy="211.69" r="1.2" fill="#000" stroke="none" stroke-width="0.8"/>
<circle cx="287.72" cy="212.57" r="1.2" fill="#000" stroke="none" stroke-width="0.8"/>
<circle cx="286.18" cy="212.55" r="1.2" fill="#000" stroke="none" stroke-width="0.8"/>
<circle cx="287.92" cy="213.24" r="1.2" fill="#000" stroke="none" stroke-width="0.8"/>
<circle cx="286.66" cy="210.81" r="1.2" fill="#000" stroke="none" stroke-width="0.8"/>
<circle cx="286.2" cy="204.64" r="1.2" fill="#000" stroke="none" stroke-width="0.8"/>
<circle cx="286.7" cy="224.88" r="1.2" fill="#000" stroke="none" stroke-width="0.8"/>
<line x1="295.76" y1="157.7" x2="295.76" y2="182.5" stroke="#e2392f" stroke-width="0.85" />
<line x1="295.76" y1="220.7" x2="295.76" y2="224.7" stroke="#e2392f" stroke-width="0.85" />
<rect x="293.26" y="182.5" width="5.0" height="38.2" fill="#f4d9dc" stroke="#e2392f" stroke-width="0.85"/>
<line x1="293.26" y1="209.4" x2="298.26" y2="209.4" stroke="#e2392f" stroke-width="1" />
<polygon points="294.36,156.89 297.16,156.89 295.76,159.32" fill="#e2392f" stroke="none" stroke-width="0.8"/>
<polygon points="294.36,223.89 297.16,223.89 295.76,226.32" fill="#e2392f" stroke="none" stroke-width="0.8"/>
<polygon points="294.66,174.98 297.46,174.98 296.06,177.4" fill="#e2392f" stroke="none" stroke-width="0.8"/>
<polygon points="294.73,161.98 297.53,161.98 296.13,164.41" fill="#e2392f" stroke="none" stroke-width="0.8"/>
<polygon points="293.26,209.95 296.06,209.95 294.66,212.38" fill="#e2392f" stroke="none" stroke-width="0.8"/>
<polygon points="293.44,218.96 296.24,218.96 294.84,221.39" fill="#e2392f" stroke="none" stroke-width="0.8"/>
<polygon points="293.72,200.56 296.52,200.56 295.12,202.99" fill="#e2392f" stroke="none" stroke-width="0.8"/>
<polygon points="294.99,196.31 297.79,196.31 296.39,198.73" fill="#e2392f" stroke="none" stroke-width="0.8"/>
<polygon points="293.85,199.99 296.65,199.99 295.25,202.41" fill="#e2392f" stroke="none" stroke-width="0.8"/>
<polygon points="294.53,207.81 297.33,207.81 295.93,210.23" fill="#e2392f" stroke="none" stroke-width="0.8"/>
<polygon points="293.09,222.96 295.89,222.96 294.49,225.38" fill="#e2392f" stroke="none" stroke-width="0.8"/>
<line x1="321.21" y1="283" x2="321.21" y2="288.5" stroke="#333" stroke-width="1" />
<text transform="translate(324.81,289.8) rotate(-90) scale(0.85,1)" font-size="9.9" text-anchor="end" fill="#111">Cer d18:1/24:1</text>
<line x1="308.54" y1="187.8" x2="308.54" y2="212" stroke="#000" stroke-width="0.85" />
<line x1="308.54" y1="226.8" x2="308.54" y2="234.1" stroke="#000" stroke-width="0.85" />
<rect x="306.04" y="212" width="5.0" height="14.8" fill="#fff" stroke="#000" stroke-width="0.85"/>
<line x1="306.04" y1="218" x2="311.04" y2="218" stroke="#000" stroke-width="1" />
<circle cx="308.54" cy="187.8" r="1.2" fill="#000" stroke="none" stroke-width="0.8"/>
<circle cx="308.54" cy="234.1" r="1.2" fill="#000" stroke="none" stroke-width="0.8"/>
<circle cx="307.54" cy="189.27" r="1.2" fill="#000" stroke="none" stroke-width="0.8"/>
<circle cx="309.56" cy="194.3" r="1.2" fill="#000" stroke="none" stroke-width="0.8"/>
<circle cx="307.75" cy="221.95" r="1.2" fill="#000" stroke="none" stroke-width="0.8"/>
<circle cx="309.78" cy="222.24" r="1.2" fill="#000" stroke="none" stroke-width="0.8"/>
<circle cx="309.67" cy="222" r="1.2" fill="#000" stroke="none" stroke-width="0.8"/>
<circle cx="307.28" cy="216.3" r="1.2" fill="#000" stroke="none" stroke-width="0.8"/>
<circle cx="308.43" cy="219.64" r="1.2" fill="#000" stroke="none" stroke-width="0.8"/>
<circle cx="309.37" cy="218.88" r="1.2" fill="#000" stroke="none" stroke-width="0.8"/>
<circle cx="309.75" cy="230.2" r="1.2" fill="#000" stroke="none" stroke-width="0.8"/>
<line x1="316.99" y1="187.8" x2="316.99" y2="200.8" stroke="#e2392f" stroke-width="0.85" />
<line x1="316.99" y1="225.7" x2="316.99" y2="232.6" stroke="#e2392f" stroke-width="0.85" />
<rect x="314.49" y="200.8" width="5.0" height="24.9" fill="#fff" stroke="#e2392f" stroke-width="0.85"/>
<line x1="314.49" y1="212" x2="319.49" y2="212" stroke="#e2392f" stroke-width="1" />
<polygon points="315.59,186.99 318.38,186.99 316.99,189.42" fill="#e2392f" stroke="none" stroke-width="0.8"/>
<polygon points="315.59,231.79 318.38,231.79 316.99,234.22" fill="#e2392f" stroke="none" stroke-width="0.8"/>
<polygon points="314.63,192.83 317.43,192.83 316.03,195.26" fill="#e2392f" stroke="none" stroke-width="0.8"/>
<polygon points="316.42,190.48 319.22,190.48 317.82,192.91" fill="#e2392f" stroke="none" stroke-width="0.8"/>
<polygon points="315.61,205.22 318.41,205.22 317.01,207.64" fill="#e2392f" stroke="none" stroke-width="0.8"/>
<polygon points="316.59,223.54 319.39,223.54 317.99,225.96" fill="#e2392f" stroke="none" stroke-width="0.8"/>
<polygon points="316.11,205.24 318.91,205.24 317.51,207.66" fill="#e2392f" stroke="none" stroke-width="0.8"/>
<polygon points="314.89,214.47 317.69,214.47 316.29,216.9" fill="#e2392f" stroke="none" stroke-width="0.8"/>
<polygon points="316.62,203.52 319.42,203.52 318.02,205.95" fill="#e2392f" stroke="none" stroke-width="0.8"/>
<polygon points="315.55,213.04 318.35,213.04 316.95,215.47" fill="#e2392f" stroke="none" stroke-width="0.8"/>
<polygon points="314.35,231.47 317.15,231.47 315.75,233.89" fill="#e2392f" stroke="none" stroke-width="0.8"/>
<line x1="325.44" y1="175.3" x2="325.44" y2="200.2" stroke="#000" stroke-width="0.85" />
<line x1="325.44" y1="215.8" x2="325.44" y2="221.1" stroke="#000" stroke-width="0.85" />
<rect x="322.94" y="200.2" width="5.0" height="15.6" fill="#c9c9c9" stroke="#000" stroke-width="0.85"/>
<line x1="322.94" y1="206.6" x2="327.94" y2="206.6" stroke="#000" stroke-width="1" />
<circle cx="325.44" cy="175.3" r="1.2" fill="#000" stroke="none" stroke-width="0.8"/>
<circle cx="325.44" cy="221.1" r="1.2" fill="#000" stroke="none" stroke-width="0.8"/>
<circle cx="326.09" cy="175.39" r="1.2" fill="#000" stroke="none" stroke-width="0.8"/>
<circle cx="326.32" cy="187.54" r="1.2" fill="#000" stroke="none" stroke-width="0.8"/>
<circle cx="324.45" cy="207.23" r="1.2" fill="#000" stroke="none" stroke-width="0.8"/>
<circle cx="326.54" cy="204.91" r="1.2" fill="#000" stroke="none" stroke-width="0.8"/>
<circle cx="325.99" cy="202.4" r="1.2" fill="#000" stroke="none" stroke-width="0.8"/>
<circle cx="326.48" cy="205.57" r="1.2" fill="#000" stroke="none" stroke-width="0.8"/>
<circle cx="324.89" cy="205.13" r="1.2" fill="#000" stroke="none" stroke-width="0.8"/>
<circle cx="325.1" cy="213.31" r="1.2" fill="#000" stroke="none" stroke-width="0.8"/>
<circle cx="325.16" cy="215.81" r="1.2" fill="#000" stroke="none" stroke-width="0.8"/>
<line x1="333.89" y1="166.6" x2="333.89" y2="172.2" stroke="#e2392f" stroke-width="0.85" />
<line x1="333.89" y1="218.1" x2="333.89" y2="221.9" stroke="#e2392f" stroke-width="0.85" />
<rect x="331.39" y="172.2" width="5.0" height="45.9" fill="#f4d9dc" stroke="#e2392f" stroke-width="0.85"/>
<line x1="331.39" y1="200.5" x2="336.39" y2="200.5" stroke="#e2392f" stroke-width="1" />
<polygon points="332.49,165.79 335.29,165.79 333.89,168.22" fill="#e2392f" stroke="none" stroke-width="0.8"/>
<polygon points="332.49,221.09 335.29,221.09 333.89,223.52" fill="#e2392f" stroke="none" stroke-width="0.8"/>
<polygon points="333.62,171.38 336.42,171.38 335.02,173.81" fill="#e2392f" stroke="none" stroke-width="0.8"/>
<polygon points="331.83,169.09 334.63,169.09 333.23,171.52" fill="#e2392f" stroke="none" stroke-width="0.8"/>
<polygon points="331.88,187.95 334.68,187.95 333.28,190.37" fill="#e2392f" stroke="none" stroke-width="0.8"/>
<polygon points="332.51,191.04 335.31,191.04 333.91,193.46" fill="#e2392f" stroke="none" stroke-width="0.8"/>
<polygon points="331.68,184.02 334.48,184.02 333.08,186.45" fill="#e2392f" stroke="none" stroke-width="0.8"/>
<polygon points="332.16,173.61 334.96,173.61 333.56,176.03" fill="#e2392f" stroke="none" stroke-width="0.8"/>
<polygon points="333.67,176.06 336.47,176.06 335.07,178.49" fill="#e2392f" stroke="none" stroke-width="0.8"/>
<polygon points="333.48,209.7 336.28,209.7 334.88,212.13" fill="#e2392f" stroke="none" stroke-width="0.8"/>
<polygon points="333.3,218.38 336.1,218.38 334.7,220.8" fill="#e2392f" stroke="none" stroke-width="0.8"/>
<line x1="359.34" y1="283" x2="359.34" y2="288.5" stroke="#333" stroke-width="1" />
<text transform="translate(362.94,289.8) rotate(-90) scale(0.85,1)" font-size="9.9" text-anchor="end" fill="#111">GlcCer d18:1/16:0</text>
<line x1="346.67" y1="204.6" x2="346.67" y2="214.3" stroke="#000" stroke-width="0.85" />
<line x1="346.67" y1="227.3" x2="346.67" y2="233.4" stroke="#000" stroke-width="0.85" />
<rect x="344.17" y="214.3" width="5.0" height="13" fill="#fff" stroke="#000" stroke-width="0.85"/>
<line x1="344.17" y1="221" x2="349.17" y2="221" stroke="#000" stroke-width="1" />
<circle cx="346.67" cy="204.6" r="1.2" fill="#000" stroke="none" stroke-width="0.8"/>
<circle cx="346.67" cy="233.4" r="1.2" fill="#000" stroke="none" stroke-width="0.8"/>
<circle cx="347.04" cy="210.72" r="1.2" fill="#000" stroke="none" stroke-width="0.8"/>
<circle cx="346.11" cy="213.46" r="1.2" fill="#000" stroke="none" stroke-width="0.8"/>
<circle cx="345.49" cy="226.53" r="1.2" fill="#000" stroke="none" stroke-width="0.8"/>
<circle cx="347.77" cy="221.44" r="1.2" fill="#000" stroke="none" stroke-width="0.8"/>
<circle cx="345.7" cy="223.65" r="1.2" fill="#000" stroke="none" stroke-width="0.8"/>
<circle cx="346.59" cy="214.94" r="1.2" fill="#000" stroke="none" stroke-width="0.8"/>
<circle cx="346.26" cy="223.82" r="1.2" fill="#000" stroke="none" stroke-width="0.8"/>
<circle cx="346.14" cy="220.16" r="1.2" fill="#000" stroke="none" stroke-width="0.8"/>
<circle cx="347.29" cy="231.89" r="1.2" fill="#000" stroke="none" stroke-width="0.8"/>
<line x1="355.12" y1="183.2" x2="355.12" y2="208.1" stroke="#e2392f" stroke-width="0.85" />
<line x1="355.12" y1="224.2" x2="355.12" y2="229.6" stroke="#e2392f" stroke-width="0.85" />
<rect x="352.62" y="208.1" width="5.0" height="16.1" fill="#fff" stroke="#e2392f" stroke-width="0.85"/>
<line x1="352.62" y1="216" x2="357.62" y2="216" stroke="#e2392f" stroke-width="1" />
<polygon points="353.72,182.39 356.51,182.39 355.12,184.82" fill="#e2392f" stroke="none" stroke-width="0.8"/>
<polygon points="353.72,228.79 356.51,228.79 355.12,231.22" fill="#e2392f" stroke="none" stroke-width="0.8"/>
<polygon points="354.77,206.7 357.57,206.7 356.17,209.13" fill="#e2392f" stroke="none" stroke-width="0.8"/>
<polygon points="353.71,188.87 356.51,188.87 355.11,191.29" fill="#e2392f" stroke="none" stroke-width="0.8"/>
<polygon points="352.99,217.85 355.79,217.85 354.39,220.28" fill="#e2392f" stroke="none" stroke-width="0.8"/>
<polygon points="354.77,212.14 357.57,212.14 356.17,214.56" fill="#e2392f" stroke="none" stroke-width="0.8"/>
<polygon points="355.01,216.26 357.81,216.26 356.41,218.69" fill="#e2392f" stroke="none" stroke-width="0.8"/>
<polygon points="353.58,213.64 356.38,213.64 354.98,216.07" fill="#e2392f" stroke="none" stroke-width="0.8"/>
<polygon points="352.78,209.99 355.58,209.99 354.18,212.41" fill="#e2392f" stroke="none" stroke-width="0.8"/>
<polygon points="352.92,209.89 355.72,209.89 354.32,212.32" fill="#e2392f" stroke="none" stroke-width="0.8"/>
<polygon points="352.65,224.51 355.45,224.51 354.05,226.94" fill="#e2392f" stroke="none" stroke-width="0.8"/>
<line x1="363.57" y1="173.4" x2="363.57" y2="185.2" stroke="#000" stroke-width="0.85" />
<line x1="363.57" y1="220.1" x2="363.57" y2="226.8" stroke="#000" stroke-width="0.85" />
<rect x="361.07" y="185.2" width="5.0" height="34.9" fill="#c9c9c9" stroke="#000" stroke-width="0.85"/>
<line x1="361.07" y1="213.5" x2="366.07" y2="213.5" stroke="#000" stroke-width="1" />
<circle cx="363.57" cy="173.4" r="1.2" fill="#000" stroke="none" stroke-width="0.8"/>
<circle cx="363.57" cy="226.8" r="1.2" fill="#000" stroke="none" stroke-width="0.8"/>
<circle cx="363.63" cy="177.44" r="1.2" fill="#000" stroke="none" stroke-width="0.8"/>
<circle cx="363.24" cy="174.47" r="1.2" fill="#000" stroke="none" stroke-width="0.8"/>
<circle cx="363.14" cy="193.55" r="1.2" fill="#000" stroke="none" stroke-width="0.8"/>
<circle cx="362.43" cy="194.22" r="1.2" fill="#000" stroke="none" stroke-width="0.8"/>
<circle cx="362.99" cy="205.08" r="1.2" fill="#000" stroke="none" stroke-width="0.8"/>
<circle cx="364.78" cy="216.17" r="1.2" fill="#000" stroke="none" stroke-width="0.8"/>
<circle cx="362.59" cy="211.36" r="1.2" fill="#000" stroke="none" stroke-width="0.8"/>
<circle cx="363.57" cy="199.61" r="1.2" fill="#000" stroke="none" stroke-width="0.8"/>
<circle cx="363.9" cy="222.87" r="1.2" fill="#000" stroke="none" stroke-width="0.8"/>
<line x1="372.02" y1="160" x2="372.02" y2="179.1" stroke="#e2392f" stroke-width="0.85" />
<line x1="372.02" y1="212.7" x2="372.02" y2="217.3" stroke="#e2392f" stroke-width="0.85" />
<rect x="369.52" y="179.1" width="5.0" height="33.6" fill="#f4d9dc" stroke="#e2392f" stroke-width="0.85"/>
<line x1="369.52" y1="192.9" x2="374.52" y2="192.9" stroke="#e2392f" stroke-width="1" />
<polygon points="370.62,159.19 373.42,159.19 372.02,161.62" fill="#e2392f" stroke="none" stroke-width="0.8"/>
<polygon points="370.62,216.49 373.42,216.49 372.02,218.92" fill="#e2392f" stroke="none" stroke-width="0.8"/>
<polygon points="369.37,175.67 372.17,175.67 370.77,178.1" fill="#e2392f" stroke="none" stroke-width="0.8"/>
<polygon points="369.4,163.32 372.2,163.32 370.8,165.74" fill="#e2392f" stroke="none" stroke-width="0.8"/>
<polygon points="371.16,187.4 373.96,187.4 372.56,189.82" fill="#e2392f" stroke="none" stroke-width="0.8"/>
<polygon points="371.64,186.64 374.44,186.64 373.04,189.06" fill="#e2392f" stroke="none" stroke-width="0.8"/>
<polygon points="370.55,191.72 373.35,191.72 371.95,194.15" fill="#e2392f" stroke="none" stroke-width="0.8"/>
<polygon points="370.84,193.27 373.64,193.27 372.24,195.7" fill="#e2392f" stroke="none" stroke-width="0.8"/>
<polygon points="369.32,210.34 372.12,210.34 370.72,212.77" fill="#e2392f" stroke="none" stroke-width="0.8"/>
<polygon points="370.33,206.81 373.13,206.81 371.73,209.23" fill="#e2392f" stroke="none" stroke-width="0.8"/>
<polygon points="371.72,215.91 374.52,215.91 373.12,218.33" fill="#e2392f" stroke="none" stroke-width="0.8"/>
<line x1="397.47" y1="283" x2="397.47" y2="288.5" stroke="#333" stroke-width="1" />
<text transform="translate(401.07,289.8) rotate(-90) scale(0.85,1)" font-size="9.9" text-anchor="end" fill="#111">GlcCer d18:1/18:0</text>
<line x1="384.8" y1="200.5" x2="384.8" y2="212.4" stroke="#000" stroke-width="0.85" />
<line x1="384.8" y1="225.7" x2="384.8" y2="233.4" stroke="#000" stroke-width="0.85" />
<rect x="382.3" y="212.4" width="5.0" height="13.3" fill="#fff" stroke="#000" stroke-width="0.85"/>
<line x1="382.3" y1="219" x2="387.3" y2="219" stroke="#000" stroke-width="1" />
<circle cx="384.8" cy="200.5" r="1.2" fill="#000" stroke="none" stroke-width="0.8"/>
<circle cx="384.8" cy="233.4" r="1.2" fill="#000" stroke="none" stroke-width="0.8"/>
<circle cx="385.37" cy="210.32" r="1.2" fill="#000" stroke="none" stroke-width="0.8"/>
<circle cx="385.18" cy="210.68" r="1.2" fill="#000" stroke="none" stroke-width="0.8"/>
<circle cx="385.48" cy="225.33" r="1.2" fill="#000" stroke="none" stroke-width="0.8"/>
<circle cx="384.68" cy="215.7" r="1.2" fill="#000" stroke="none" stroke-width="0.8"/>
<circle cx="384.93" cy="213.85" r="1.2" fill="#000" stroke="none" stroke-width="0.8"/>
<circle cx="383.6" cy="214.45" r="1.2" fill="#000" stroke="none" stroke-width="0.8"/>
<circle cx="385.53" cy="219.35" r="1.2" fill="#000" stroke="none" stroke-width="0.8"/>
<circle cx="384.1" cy="221.47" r="1.2" fill="#000" stroke="none" stroke-width="0.8"/>
<circle cx="385.89" cy="232.95" r="1.2" fill="#000" stroke="none" stroke-width="0.8"/>
<line x1="393.25" y1="151.6" x2="393.25" y2="199.7" stroke="#e2392f" stroke-width="0.85" />
<line x1="393.25" y1="226.2" x2="393.25" y2="232.6" stroke="#e2392f" stroke-width="0.85" />
<rect x="390.75" y="199.7" width="5.0" height="26.5" fill="#fff" stroke="#e2392f" stroke-width="0.85"/>
<line x1="390.75" y1="220.4" x2="395.75" y2="220.4" stroke="#e2392f" stroke-width="1" />
<polygon points="391.85,150.79 394.64,150.79 393.25,153.22" fill="#e2392f" stroke="none" stroke-width="0.8"/>
<polygon points="391.85,231.79 394.64,231.79 393.25,234.22" fill="#e2392f" stroke="none" stroke-width="0.8"/>
<polygon points="392.06,181.84 394.86,181.84 393.46,184.27" fill="#e2392f" stroke="none" stroke-width="0.8"/>
<polygon points="391.55,165.4 394.35,165.4 392.95,167.83" fill="#e2392f" stroke="none" stroke-width="0.8"/>
<polygon points="391.13,202.28 393.93,202.28 392.53,204.71" fill="#e2392f" stroke="none" stroke-width="0.8"/>
<polygon points="392.11,205.56 394.91,205.56 393.51,207.99" fill="#e2392f" stroke="none" stroke-width="0.8"/>
<polygon points="390.57,215.75 393.37,215.75 391.97,218.18" fill="#e2392f" stroke="none" stroke-width="0.8"/>
<polygon points="391.33,217.4 394.13,217.4 392.73,219.83" fill="#e2392f" stroke="none" stroke-width="0.8"/>
<polygon points="391.74,201.86 394.54,201.86 393.14,204.29" fill="#e2392f" stroke="none" stroke-width="0.8"/>
<polygon points="393.04,200.76 395.84,200.76 394.44,203.18" fill="#e2392f" stroke="none" stroke-width="0.8"/>
<polygon points="392.22,228.75 395.02,228.75 393.62,231.17" fill="#e2392f" stroke="none" stroke-width="0.8"/>
<line x1="401.7" y1="186" x2="401.7" y2="202.5" stroke="#000" stroke-width="0.85" />
<line x1="401.7" y1="217.3" x2="401.7" y2="226.5" stroke="#000" stroke-width="0.85" />
<rect x="399.2" y="202.5" width="5.0" height="14.8" fill="#c9c9c9" stroke="#000" stroke-width="0.85"/>
<line x1="399.2" y1="212" x2="404.2" y2="212" stroke="#000" stroke-width="1" />
<circle cx="401.7" cy="186" r="1.2" fill="#000" stroke="none" stroke-width="0.8"/>
<circle cx="401.7" cy="226.5" r="1.2" fill="#000" stroke="none" stroke-width="0.8"/>
<circle cx="402.15" cy="200.58" r="1.2" fill="#000" stroke="none" stroke-width="0.8"/>
<circle cx="401.49" cy="193.84" r="1.2" fill="#000" stroke="none" stroke-width="0.8"/>
<circle cx="401.06" cy="205.97" r="1.2" fill="#000" stroke="none" stroke-width="0.8"/>
<circle cx="402.13" cy="206.16" r="1.2" fill="#000" stroke="none" stroke-width="0.8"/>
<circle cx="402.8" cy="216.72" r="1.2" fill="#000" stroke="none" stroke-width="0.8"/>
<circle cx="400.98" cy="212.93" r="1.2" fill="#000" stroke="none" stroke-width="0.8"/>
<circle cx="400.48" cy="207.05" r="1.2" fill="#000" stroke="none" stroke-width="0.8"/>
<circle cx="401.27" cy="202.82" r="1.2" fill="#000" stroke="none" stroke-width="0.8"/>
<circle cx="401.49" cy="221.88" r="1.2" fill="#000" stroke="none" stroke-width="0.8"/>
<line x1="410.15" y1="152.3" x2="410.15" y2="179.1" stroke="#e2392f" stroke-width="0.85" />
<line x1="410.15" y1="217.3" x2="410.15" y2="221.9" stroke="#e2392f" stroke-width="0.85" />
<rect x="407.65" y="179.1" width="5.0" height="38.2" fill="#f4d9dc" stroke="#e2392f" stroke-width="0.85"/>
<line x1="407.65" y1="203.3" x2="412.65" y2="203.3" stroke="#e2392f" stroke-width="1" />
<polygon points="408.75,151.49 411.55,151.49 410.15,153.92" fill="#e2392f" stroke="none" stroke-width="0.8"/>
<polygon points="408.75,221.09 411.55,221.09 410.15,223.52" fill="#e2392f" stroke="none" stroke-width="0.8"/>
<polygon points="408.05,169.78 410.85,169.78 409.45,172.21" fill="#e2392f" stroke="none" stroke-width="0.8"/>
<polygon points="408.02,156.8 410.82,156.8 409.42,159.23" fill="#e2392f" stroke="none" stroke-width="0.8"/>
<polygon points="409.42,208.74 412.22,208.74 410.82,211.16" fill="#e2392f" stroke="none" stroke-width="0.8"/>
<polygon points="408.21,206.53 411.01,206.53 409.61,208.95" fill="#e2392f" stroke="none" stroke-width="0.8"/>
<polygon points="409.92,197.58 412.72,197.58 411.32,200" fill="#e2392f" stroke="none" stroke-width="0.8"/>
<polygon points="408.73,186.13 411.53,186.13 410.13,188.56" fill="#e2392f" stroke="none" stroke-width="0.8"/>
<polygon points="407.93,215.34 410.73,215.34 409.33,217.77" fill="#e2392f" stroke="none" stroke-width="0.8"/>
<polygon points="408.03,190.2 410.83,190.2 409.43,192.62" fill="#e2392f" stroke="none" stroke-width="0.8"/>
<polygon points="408.53,220.26 411.33,220.26 409.93,222.69" fill="#e2392f" stroke="none" stroke-width="0.8"/>
<line x1="435.6" y1="283" x2="435.6" y2="288.5" stroke="#333" stroke-width="1" />
<text transform="translate(439.2,289.8) rotate(-90) scale(0.85,1)" font-size="9.9" text-anchor="end" fill="#111">GlcCer d18:1/24:1</text>
<line x1="422.93" y1="204.8" x2="422.93" y2="211.2" stroke="#000" stroke-width="0.85" />
<line x1="422.93" y1="225.7" x2="422.93" y2="234.1" stroke="#000" stroke-width="0.85" />
<rect x="420.43" y="211.2" width="5.0" height="14.5" fill="#fff" stroke="#000" stroke-width="0.85"/>
<line x1="420.43" y1="218" x2="425.43" y2="218" stroke="#000" stroke-width="1" />
<circle cx="422.93" cy="204.8" r="1.2" fill="#000" stroke="none" stroke-width="0.8"/>
<circle cx="422.93" cy="234.1" r="1.2" fill="#000" stroke="none" stroke-width="0.8"/>
<circle cx="422.65" cy="209.06" r="1.2" fill="#000" stroke="none" stroke-width="0.8"/>
<circle cx="423.96" cy="210.87" r="1.2" fill="#000" stroke="none" stroke-width="0.8"/>
<circle cx="423.92" cy="213.32" r="1.2" fill="#000" stroke="none" stroke-width="0.8"/>
<circle cx="423.53" cy="216.91" r="1.2" fill="#000" stroke="none" stroke-width="0.8"/>
<circle cx="424.22" cy="214.29" r="1.2" fill="#000" stroke="none" stroke-width="0.8"/>
<circle cx="424.05" cy="225.32" r="1.2" fill="#000" stroke="none" stroke-width="0.8"/>
<circle cx="422.48" cy="213.26" r="1.2" fill="#000" stroke="none" stroke-width="0.8"/>
<circle cx="422.11" cy="211.95" r="1.2" fill="#000" stroke="none" stroke-width="0.8"/>
<circle cx="424.06" cy="226.21" r="1.2" fill="#000" stroke="none" stroke-width="0.8"/>
<line x1="431.38" y1="162.7" x2="431.38" y2="199.7" stroke="#e2392f" stroke-width="0.85" />
<line x1="431.38" y1="226.2" x2="431.38" y2="229.6" stroke="#e2392f" stroke-width="0.85" />
<rect x="428.88" y="199.7" width="5.0" height="26.5" fill="#fff" stroke="#e2392f" stroke-width="0.85"/>
<line x1="428.88" y1="217.3" x2="433.88" y2="217.3" stroke="#e2392f" stroke-width="1" />
<polygon points="429.98,161.89 432.77,161.89 431.38,164.32" fill="#e2392f" stroke="none" stroke-width="0.8"/>
<polygon points="429.98,228.79 432.77,228.79 431.38,231.22" fill="#e2392f" stroke="none" stroke-width="0.8"/>
<polygon points="429.59,189.51 432.39,189.51 430.99,191.93" fill="#e2392f" stroke="none" stroke-width="0.8"/>
<polygon points="431.16,163.07 433.96,163.07 432.56,165.5" fill="#e2392f" stroke="none" stroke-width="0.8"/>
<polygon points="429,216.5 431.8,216.5 430.4,218.92" fill="#e2392f" stroke="none" stroke-width="0.8"/>
<polygon points="431.18,208.93 433.98,208.93 432.58,211.35" fill="#e2392f" stroke="none" stroke-width="0.8"/>
<polygon points="429.21,208.8 432.01,208.8 430.61,211.22" fill="#e2392f" stroke="none" stroke-width="0.8"/>
<polygon points="429.6,207.68 432.4,207.68 431,210.11" fill="#e2392f" stroke="none" stroke-width="0.8"/>
<polygon points="430.81,203.38 433.61,203.38 432.21,205.8" fill="#e2392f" stroke="none" stroke-width="0.8"/>
<polygon points="430.81,198.97 433.61,198.97 432.21,201.39" fill="#e2392f" stroke="none" stroke-width="0.8"/>
<polygon points="429.8,226.34 432.6,226.34 431.2,228.77" fill="#e2392f" stroke="none" stroke-width="0.8"/>
<line x1="439.83" y1="192.1" x2="439.83" y2="201" stroke="#000" stroke-width="0.85" />
<line x1="439.83" y1="221.9" x2="439.83" y2="226.2" stroke="#000" stroke-width="0.85" />
<rect x="437.33" y="201" width="5.0" height="20.9" fill="#c9c9c9" stroke="#000" stroke-width="0.85"/>
<line x1="437.33" y1="208" x2="442.33" y2="208" stroke="#000" stroke-width="1" />
<circle cx="439.83" cy="192.1" r="1.2" fill="#000" stroke="none" stroke-width="0.8"/>
<circle cx="439.83" cy="226.2" r="1.2" fill="#000" stroke="none" stroke-width="0.8"/>
<circle cx="440.64" cy="192.54" r="1.2" fill="#000" stroke="none" stroke-width="0.8"/>
<circle cx="440.52" cy="196.31" r="1.2" fill="#000" stroke="none" stroke-width="0.8"/>
<circle cx="438.63" cy="208.79" r="1.2" fill="#000" stroke="none" stroke-width="0.8"/>
<circle cx="438.62" cy="220.22" r="1.2" fill="#000" stroke="none" stroke-width="0.8"/>
<circle cx="438.69" cy="205.03" r="1.2" fill="#000" stroke="none" stroke-width="0.8"/>
<circle cx="440.92" cy="208.61" r="1.2" fill="#000" stroke="none" stroke-width="0.8"/>
<circle cx="439.19" cy="219.75" r="1.2" fill="#000" stroke="none" stroke-width="0.8"/>
<circle cx="440.47" cy="201.63" r="1.2" fill="#000" stroke="none" stroke-width="0.8"/>
<circle cx="440.86" cy="223.67" r="1.2" fill="#000" stroke="none" stroke-width="0.8"/>
<line x1="448.28" y1="140.9" x2="448.28" y2="185.5" stroke="#e2392f" stroke-width="0.85" />
<line x1="448.28" y1="213" x2="448.28" y2="225.7" stroke="#e2392f" stroke-width="0.85" />
<rect x="445.78" y="185.5" width="5.0" height="27.5" fill="#f4d9dc" stroke="#e2392f" stroke-width="0.85"/>
<line x1="445.78" y1="203.3" x2="450.78" y2="203.3" stroke="#e2392f" stroke-width="1" />
<polygon points="446.88,140.09 449.68,140.09 448.28,142.52" fill="#e2392f" stroke="none" stroke-width="0.8"/>
<polygon points="446.88,224.89 449.68,224.89 448.28,227.32" fill="#e2392f" stroke="none" stroke-width="0.8"/>
<polygon points="447.54,155.21 450.34,155.21 448.94,157.64" fill="#e2392f" stroke="none" stroke-width="0.8"/>
<polygon points="447.96,152.24 450.76,152.24 449.36,154.66" fill="#e2392f" stroke="none" stroke-width="0.8"/>
<polygon points="447.22,211.03 450.02,211.03 448.62,213.45" fill="#e2392f" stroke="none" stroke-width="0.8"/>
<polygon points="448.03,201.66 450.83,201.66 449.43,204.08" fill="#e2392f" stroke="none" stroke-width="0.8"/>
<polygon points="445.64,191.9 448.44,191.9 447.04,194.33" fill="#e2392f" stroke="none" stroke-width="0.8"/>
<polygon points="446.18,204.4 448.98,204.4 447.58,206.82" fill="#e2392f" stroke="none" stroke-width="0.8"/>
<polygon points="446.81,193.4 449.61,193.4 448.21,195.82" fill="#e2392f" stroke="none" stroke-width="0.8"/>
<polygon points="448.06,192.27 450.86,192.27 449.46,194.7" fill="#e2392f" stroke="none" stroke-width="0.8"/>
<polygon points="448.06,212.24 450.86,212.24 449.46,214.66" fill="#e2392f" stroke="none" stroke-width="0.8"/>
<line x1="473.73" y1="283" x2="473.73" y2="288.5" stroke="#333" stroke-width="1" />
<text transform="translate(477.33,289.8) rotate(-90) scale(0.85,1)" font-size="9.9" text-anchor="end" fill="#111">LacCer d18:1/16:0</text>
<line x1="461.06" y1="187.5" x2="461.06" y2="203.6" stroke="#000" stroke-width="0.85" />
<line x1="461.06" y1="226.2" x2="461.06" y2="226.8" stroke="#000" stroke-width="0.85" />
<rect x="458.56" y="203.6" width="5.0" height="22.6" fill="#fff" stroke="#000" stroke-width="0.85"/>
<line x1="458.56" y1="216" x2="463.56" y2="216" stroke="#000" stroke-width="1" />
<circle cx="461.06" cy="187.5" r="1.2" fill="#000" stroke="none" stroke-width="0.8"/>
<circle cx="461.06" cy="226.8" r="1.2" fill="#000" stroke="none" stroke-width="0.8"/>
<circle cx="461.76" cy="193.72" r="1.2" fill="#000" stroke="none" stroke-width="0.8"/>
<circle cx="461.33" cy="191.54" r="1.2" fill="#000" stroke="none" stroke-width="0.8"/>
<circle cx="460.61" cy="213.32" r="1.2" fill="#000" stroke="none" stroke-width="0.8"/>
<circle cx="460.59" cy="214.75" r="1.2" fill="#000" stroke="none" stroke-width="0.8"/>
<circle cx="460.7" cy="224.58" r="1.2" fill="#000" stroke="none" stroke-width="0.8"/>
<circle cx="461.79" cy="207.73" r="1.2" fill="#000" stroke="none" stroke-width="0.8"/>
<circle cx="459.96" cy="221.74" r="1.2" fill="#000" stroke="none" stroke-width="0.8"/>
<circle cx="460.27" cy="220.29" r="1.2" fill="#000" stroke="none" stroke-width="0.8"/>
<circle cx="461.71" cy="226.69" r="1.2" fill="#000" stroke="none" stroke-width="0.8"/>
<line x1="469.5" y1="153.6" x2="469.5" y2="191.3" stroke="#e2392f" stroke-width="0.85" />
<line x1="469.5" y1="222.7" x2="469.5" y2="234.1" stroke="#e2392f" stroke-width="0.85" />
<rect x="467" y="191.3" width="5.0" height="31.4" fill="#fff" stroke="#e2392f" stroke-width="0.85"/>
<line x1="467" y1="210" x2="472" y2="210" stroke="#e2392f" stroke-width="1" />
<polygon points="468.11,152.79 470.9,152.79 469.5,155.22" fill="#e2392f" stroke="none" stroke-width="0.8"/>
<polygon points="468.11,233.29 470.9,233.29 469.5,235.72" fill="#e2392f" stroke="none" stroke-width="0.8"/>
<polygon points="467.02,162.12 469.82,162.12 468.42,164.54" fill="#e2392f" stroke="none" stroke-width="0.8"/>
<polygon points="467.06,155.23 469.86,155.23 468.46,157.66" fill="#e2392f" stroke="none" stroke-width="0.8"/>
<polygon points="468.1,191.56 470.9,191.56 469.5,193.98" fill="#e2392f" stroke="none" stroke-width="0.8"/>
<polygon points="468.65,207.84 471.45,207.84 470.05,210.27" fill="#e2392f" stroke="none" stroke-width="0.8"/>
<polygon points="467.97,200.72 470.77,200.72 469.37,203.15" fill="#e2392f" stroke="none" stroke-width="0.8"/>
<polygon points="467.41,221.27 470.21,221.27 468.81,223.7" fill="#e2392f" stroke="none" stroke-width="0.8"/>
<polygon points="467.89,218.23 470.69,218.23 469.29,220.66" fill="#e2392f" stroke="none" stroke-width="0.8"/>
<polygon points="468.42,221.51 471.22,221.51 469.82,223.93" fill="#e2392f" stroke="none" stroke-width="0.8"/>
<polygon points="468.56,224.91 471.36,224.91 469.96,227.34" fill="#e2392f" stroke="none" stroke-width="0.8"/>
<line x1="477.96" y1="177.3" x2="477.96" y2="203.6" stroke="#000" stroke-width="0.85" />
<line x1="477.96" y1="224.7" x2="477.96" y2="229.3" stroke="#000" stroke-width="0.85" />
<rect x="475.46" y="203.6" width="5.0" height="21.1" fill="#c9c9c9" stroke="#000" stroke-width="0.85"/>
<line x1="475.46" y1="212" x2="480.46" y2="212" stroke="#000" stroke-width="1" />
<circle cx="477.96" cy="177.3" r="1.2" fill="#000" stroke="none" stroke-width="0.8"/>
<circle cx="477.96" cy="229.3" r="1.2" fill="#000" stroke="none" stroke-width="0.8"/>
<circle cx="477.17" cy="196.97" r="1.2" fill="#000" stroke="none" stroke-width="0.8"/>
<circle cx="477.3" cy="199.58" r="1.2" fill="#000" stroke="none" stroke-width="0.8"/>
<circle cx="477.29" cy="217.62" r="1.2" fill="#000" stroke="none" stroke-width="0.8"/>
<circle cx="477.05" cy="206.16" r="1.2" fill="#000" stroke="none" stroke-width="0.8"/>
<circle cx="478.95" cy="221.34" r="1.2" fill="#000" stroke="none" stroke-width="0.8"/>
<circle cx="478.16" cy="209.8" r="1.2" fill="#000" stroke="none" stroke-width="0.8"/>
<circle cx="477.5" cy="215.56" r="1.2" fill="#000" stroke="none" stroke-width="0.8"/>
<circle cx="477.68" cy="211.47" r="1.2" fill="#000" stroke="none" stroke-width="0.8"/>
<circle cx="479.24" cy="228.1" r="1.2" fill="#000" stroke="none" stroke-width="0.8"/>
<line x1="486.41" y1="161.5" x2="486.41" y2="186.7" stroke="#e2392f" stroke-width="0.85" />
<line x1="486.41" y1="214.3" x2="486.41" y2="236" stroke="#e2392f" stroke-width="0.85" />
<rect x="483.91" y="186.7" width="5.0" height="27.6" fill="#f4d9dc" stroke="#e2392f" stroke-width="0.85"/>
<line x1="483.91" y1="202.3" x2="488.91" y2="202.3" stroke="#e2392f" stroke-width="1" />
<polygon points="485.01,160.69 487.81,160.69 486.41,163.12" fill="#e2392f" stroke="none" stroke-width="0.8"/>
<polygon points="485.01,235.19 487.81,235.19 486.41,237.62" fill="#e2392f" stroke="none" stroke-width="0.8"/>
<polygon points="486.08,173.48 488.88,173.48 487.48,175.9" fill="#e2392f" stroke="none" stroke-width="0.8"/>
<polygon points="483.81,166.52 486.61,166.52 485.21,168.95" fill="#e2392f" stroke="none" stroke-width="0.8"/>
<polygon points="484.47,208.2 487.27,208.2 485.87,210.63" fill="#e2392f" stroke="none" stroke-width="0.8"/>
<polygon points="484.01,203.92 486.81,203.92 485.41,206.35" fill="#e2392f" stroke="none" stroke-width="0.8"/>
<polygon points="484.2,213.24 487,213.24 485.6,215.67" fill="#e2392f" stroke="none" stroke-width="0.8"/>
<polygon points="486.23,188.72 489.03,188.72 487.63,191.14" fill="#e2392f" stroke="none" stroke-width="0.8"/>
<polygon points="485.22,199 488.02,199 486.62,201.42" fill="#e2392f" stroke="none" stroke-width="0.8"/>
<polygon points="486.12,208.5 488.92,208.5 487.52,210.92" fill="#e2392f" stroke="none" stroke-width="0.8"/>
<polygon points="484.67,231.73 487.47,231.73 486.07,234.16" fill="#e2392f" stroke="none" stroke-width="0.8"/>
<line x1="511.86" y1="283" x2="511.86" y2="288.5" stroke="#333" stroke-width="1" />
<text transform="translate(515.46,289.8) rotate(-90) scale(0.85,1)" font-size="9.9" text-anchor="end" fill="#111">LacCer d18:1/18:0</text>
<line x1="499.19" y1="191.3" x2="499.19" y2="202.5" stroke="#000" stroke-width="0.85" />
<line x1="499.19" y1="221.9" x2="499.19" y2="229.6" stroke="#000" stroke-width="0.85" />
<rect x="496.69" y="202.5" width="5.0" height="19.4" fill="#fff" stroke="#000" stroke-width="0.85"/>
<line x1="496.69" y1="217.3" x2="501.69" y2="217.3" stroke="#000" stroke-width="1" />
<circle cx="499.19" cy="191.3" r="1.2" fill="#000" stroke="none" stroke-width="0.8"/>
<circle cx="499.19" cy="229.6" r="1.2" fill="#000" stroke="none" stroke-width="0.8"/>
<circle cx="498.84" cy="201" r="1.2" fill="#000" stroke="none" stroke-width="0.8"/>
<circle cx="498.25" cy="196.33" r="1.2" fill="#000" stroke="none" stroke-width="0.8"/>
<circle cx="498.42" cy="207.54" r="1.2" fill="#000" stroke="none" stroke-width="0.8"/>
<circle cx="498.55" cy="217.59" r="1.2" fill="#000" stroke="none" stroke-width="0.8"/>
<circle cx="499.44" cy="220.85" r="1.2" fill="#000" stroke="none" stroke-width="0.8"/>
<circle cx="499.58" cy="204.55" r="1.2" fill="#000" stroke="none" stroke-width="0.8"/>
<circle cx="498.41" cy="214.07" r="1.2" fill="#000" stroke="none" stroke-width="0.8"/>
<circle cx="497.91" cy="214.53" r="1.2" fill="#000" stroke="none" stroke-width="0.8"/>
<circle cx="498.74" cy="223.58" r="1.2" fill="#000" stroke="none" stroke-width="0.8"/>
<line x1="507.64" y1="135.5" x2="507.64" y2="187.2" stroke="#e2392f" stroke-width="0.85" />
<line x1="507.64" y1="220.7" x2="507.64" y2="230.3" stroke="#e2392f" stroke-width="0.85" />
<rect x="505.14" y="187.2" width="5.0" height="33.5" fill="#fff" stroke="#e2392f" stroke-width="0.85"/>
<line x1="505.14" y1="213.5" x2="510.14" y2="213.5" stroke="#e2392f" stroke-width="1" />
<polygon points="506.24,134.69 509.04,134.69 507.64,137.12" fill="#e2392f" stroke="none" stroke-width="0.8"/>
<polygon points="506.24,229.49 509.04,229.49 507.64,231.92" fill="#e2392f" stroke="none" stroke-width="0.8"/>
<polygon points="506.37,169.76 509.17,169.76 507.77,172.19" fill="#e2392f" stroke="none" stroke-width="0.8"/>
<polygon points="506.6,144.26 509.4,144.26 508,146.69" fill="#e2392f" stroke="none" stroke-width="0.8"/>
<polygon points="505.17,196.85 507.97,196.85 506.57,199.28" fill="#e2392f" stroke="none" stroke-width="0.8"/>
<polygon points="505.36,193.21 508.16,193.21 506.76,195.63" fill="#e2392f" stroke="none" stroke-width="0.8"/>
<polygon points="506.74,213.03 509.54,213.03 508.14,215.46" fill="#e2392f" stroke="none" stroke-width="0.8"/>
<polygon points="506,204.75 508.8,204.75 507.4,207.18" fill="#e2392f" stroke="none" stroke-width="0.8"/>
<polygon points="505.67,188.51 508.47,188.51 507.07,190.94" fill="#e2392f" stroke="none" stroke-width="0.8"/>
<polygon points="505.73,189.79 508.53,189.79 507.13,192.21" fill="#e2392f" stroke="none" stroke-width="0.8"/>
<polygon points="507.41,223.69 510.21,223.69 508.81,226.11" fill="#e2392f" stroke="none" stroke-width="0.8"/>
<line x1="516.09" y1="192.1" x2="516.09" y2="205.9" stroke="#000" stroke-width="0.85" />
<line x1="516.09" y1="223.1" x2="516.09" y2="227.3" stroke="#000" stroke-width="0.85" />
<rect x="513.59" y="205.9" width="5.0" height="17.2" fill="#c9c9c9" stroke="#000" stroke-width="0.85"/>
<line x1="513.59" y1="214" x2="518.59" y2="214" stroke="#000" stroke-width="1" />
<circle cx="516.09" cy="192.1" r="1.2" fill="#000" stroke="none" stroke-width="0.8"/>
<circle cx="516.09" cy="227.3" r="1.2" fill="#000" stroke="none" stroke-width="0.8"/>
<circle cx="515.31" cy="196.41" r="1.2" fill="#000" stroke="none" stroke-width="0.8"/>
<circle cx="514.8" cy="199.92" r="1.2" fill="#000" stroke="none" stroke-width="0.8"/>
<circle cx="517.13" cy="212.04" r="1.2" fill="#000" stroke="none" stroke-width="0.8"/>
<circle cx="515.89" cy="213.06" r="1.2" fill="#000" stroke="none" stroke-width="0.8"/>
<circle cx="516.92" cy="220.77" r="1.2" fill="#000" stroke="none" stroke-width="0.8"/>
<circle cx="515.84" cy="223.04" r="1.2" fill="#000" stroke="none" stroke-width="0.8"/>
<circle cx="517.08" cy="212.16" r="1.2" fill="#000" stroke="none" stroke-width="0.8"/>
<circle cx="515.98" cy="209.29" r="1.2" fill="#000" stroke="none" stroke-width="0.8"/>
<circle cx="515.21" cy="226.16" r="1.2" fill="#000" stroke="none" stroke-width="0.8"/>
<line x1="524.54" y1="168.1" x2="524.54" y2="183.4" stroke="#e2392f" stroke-width="0.85" />
<line x1="524.54" y1="217.3" x2="524.54" y2="232.6" stroke="#e2392f" stroke-width="0.85" />
<rect x="522.04" y="183.4" width="5.0" height="33.9" fill="#f4d9dc" stroke="#e2392f" stroke-width="0.85"/>
<line x1="522.04" y1="205" x2="527.04" y2="205" stroke="#e2392f" stroke-width="1" />
<polygon points="523.14,167.29 525.94,167.29 524.54,169.72" fill="#e2392f" stroke="none" stroke-width="0.8"/>
<polygon points="523.14,231.79 525.94,231.79 524.54,234.22" fill="#e2392f" stroke="none" stroke-width="0.8"/>
<polygon points="522.57,167.52 525.37,167.52 523.97,169.94" fill="#e2392f" stroke="none" stroke-width="0.8"/>
<polygon points="523.19,175.73 525.99,175.73 524.59,178.16" fill="#e2392f" stroke="none" stroke-width="0.8"/>
<polygon points="524.24,204.31 527.04,204.31 525.64,206.74" fill="#e2392f" stroke="none" stroke-width="0.8"/>
<polygon points="522.12,213.43 524.92,213.43 523.52,215.86" fill="#e2392f" stroke="none" stroke-width="0.8"/>
<polygon points="523.11,185.61 525.91,185.61 524.51,188.03" fill="#e2392f" stroke="none" stroke-width="0.8"/>
<polygon points="523.93,203.68 526.73,203.68 525.33,206.11" fill="#e2392f" stroke="none" stroke-width="0.8"/>
<polygon points="524.35,195.16 527.15,195.16 525.75,197.59" fill="#e2392f" stroke="none" stroke-width="0.8"/>
<polygon points="522.35,199.69 525.15,199.69 523.75,202.12" fill="#e2392f" stroke="none" stroke-width="0.8"/>
<polygon points="522.16,218.72 524.96,218.72 523.56,221.15" fill="#e2392f" stroke="none" stroke-width="0.8"/>
<line x1="549.99" y1="283" x2="549.99" y2="288.5" stroke="#333" stroke-width="1" />
<text transform="translate(553.59,289.8) rotate(-90) scale(0.85,1)" font-size="9.9" text-anchor="end" fill="#111">LacCer d18:1/24:0</text>
<line x1="537.32" y1="172.2" x2="537.32" y2="200.5" stroke="#000" stroke-width="0.85" />
<line x1="537.32" y1="222.2" x2="537.32" y2="228" stroke="#000" stroke-width="0.85" />
<rect x="534.82" y="200.5" width="5.0" height="21.7" fill="#fff" stroke="#000" stroke-width="0.85"/>
<line x1="534.82" y1="215" x2="539.82" y2="215" stroke="#000" stroke-width="1" />
<circle cx="537.32" cy="172.2" r="1.2" fill="#000" stroke="none" stroke-width="0.8"/>
<circle cx="537.32" cy="228" r="1.2" fill="#000" stroke="none" stroke-width="0.8"/>
<circle cx="536.43" cy="198.89" r="1.2" fill="#000" stroke="none" stroke-width="0.8"/>
<circle cx="538.06" cy="199.81" r="1.2" fill="#000" stroke="none" stroke-width="0.8"/>
<circle cx="536.59" cy="210.98" r="1.2" fill="#000" stroke="none" stroke-width="0.8"/>
<circle cx="537.07" cy="201.66" r="1.2" fill="#000" stroke="none" stroke-width="0.8"/>
<circle cx="538.22" cy="220.6" r="1.2" fill="#000" stroke="none" stroke-width="0.8"/>
<circle cx="538.17" cy="208.92" r="1.2" fill="#000" stroke="none" stroke-width="0.8"/>
<circle cx="536.49" cy="220.12" r="1.2" fill="#000" stroke="none" stroke-width="0.8"/>
<circle cx="536.58" cy="213.96" r="1.2" fill="#000" stroke="none" stroke-width="0.8"/>
<circle cx="537.05" cy="226.98" r="1.2" fill="#000" stroke="none" stroke-width="0.8"/>
<line x1="545.76" y1="134" x2="545.76" y2="188.3" stroke="#e2392f" stroke-width="0.85" />
<line x1="545.76" y1="218.1" x2="545.76" y2="224.2" stroke="#e2392f" stroke-width="0.85" />
<rect x="543.26" y="188.3" width="5.0" height="29.8" fill="#fff" stroke="#e2392f" stroke-width="0.85"/>
<line x1="543.26" y1="215.8" x2="548.26" y2="215.8" stroke="#e2392f" stroke-width="1" />
<polygon points="544.37,133.19 547.16,133.19 545.76,135.62" fill="#e2392f" stroke="none" stroke-width="0.8"/>
<polygon points="544.37,223.39 547.16,223.39 545.76,225.82" fill="#e2392f" stroke="none" stroke-width="0.8"/>
<polygon points="543.16,161.31 545.96,161.31 544.56,163.74" fill="#e2392f" stroke="none" stroke-width="0.8"/>
<polygon points="545.24,154.02 548.04,154.02 546.64,156.44" fill="#e2392f" stroke="none" stroke-width="0.8"/>
<polygon points="543.37,191.16 546.17,191.16 544.77,193.58" fill="#e2392f" stroke="none" stroke-width="0.8"/>
<polygon points="544.62,194.85 547.42,194.85 546.02,197.28" fill="#e2392f" stroke="none" stroke-width="0.8"/>
<polygon points="544.5,209.09 547.3,209.09 545.9,211.52" fill="#e2392f" stroke="none" stroke-width="0.8"/>
<polygon points="544.7,214.23 547.5,214.23 546.1,216.66" fill="#e2392f" stroke="none" stroke-width="0.8"/>
<polygon points="543.86,188.72 546.66,188.72 545.26,191.14" fill="#e2392f" stroke="none" stroke-width="0.8"/>
<polygon points="544.16,204.25 546.96,204.25 545.56,206.67" fill="#e2392f" stroke="none" stroke-width="0.8"/>
<polygon points="544.58,221.91 547.38,221.91 545.98,224.34" fill="#e2392f" stroke="none" stroke-width="0.8"/>
<line x1="554.22" y1="193.6" x2="554.22" y2="206.3" stroke="#000" stroke-width="0.85" />
<line x1="554.22" y1="226.8" x2="554.22" y2="226.8" stroke="#000" stroke-width="0.85" />
<rect x="551.72" y="206.3" width="5.0" height="20.5" fill="#c9c9c9" stroke="#000" stroke-width="0.85"/>
<line x1="551.72" y1="215" x2="556.72" y2="215" stroke="#000" stroke-width="1" />
<circle cx="554.22" cy="193.6" r="1.2" fill="#000" stroke="none" stroke-width="0.8"/>
<circle cx="554.22" cy="226.8" r="1.2" fill="#000" stroke="none" stroke-width="0.8"/>
<circle cx="554.94" cy="199.01" r="1.2" fill="#000" stroke="none" stroke-width="0.8"/>
<circle cx="554.11" cy="201.97" r="1.2" fill="#000" stroke="none" stroke-width="0.8"/>
<circle cx="553.38" cy="215.46" r="1.2" fill="#000" stroke="none" stroke-width="0.8"/>
<circle cx="554.15" cy="215.29" r="1.2" fill="#000" stroke="none" stroke-width="0.8"/>
<circle cx="553.19" cy="206.78" r="1.2" fill="#000" stroke="none" stroke-width="0.8"/>
<circle cx="553.25" cy="218.99" r="1.2" fill="#000" stroke="none" stroke-width="0.8"/>
<circle cx="554.03" cy="216.33" r="1.2" fill="#000" stroke="none" stroke-width="0.8"/>
<circle cx="553.15" cy="211.12" r="1.2" fill="#000" stroke="none" stroke-width="0.8"/>
<circle cx="554.06" cy="226.8" r="1.2" fill="#000" stroke="none" stroke-width="0.8"/>
<line x1="562.66" y1="168.4" x2="562.66" y2="190.6" stroke="#e2392f" stroke-width="0.85" />
<line x1="562.66" y1="216.6" x2="562.66" y2="229.9" stroke="#e2392f" stroke-width="0.85" />
<rect x="560.16" y="190.6" width="5.0" height="26" fill="#f4d9dc" stroke="#e2392f" stroke-width="0.85"/>
<line x1="560.16" y1="214" x2="565.16" y2="214" stroke="#e2392f" stroke-width="1" />
<polygon points="561.26,167.59 564.06,167.59 562.66,170.02" fill="#e2392f" stroke="none" stroke-width="0.8"/>
<polygon points="561.26,229.09 564.06,229.09 562.66,231.52" fill="#e2392f" stroke="none" stroke-width="0.8"/>
<polygon points="560.95,178.92 563.75,178.92 562.35,181.34" fill="#e2392f" stroke="none" stroke-width="0.8"/>
<polygon points="562.44,168.5 565.24,168.5 563.84,170.92" fill="#e2392f" stroke="none" stroke-width="0.8"/>
<polygon points="560.32,206.34 563.12,206.34 561.72,208.76" fill="#e2392f" stroke="none" stroke-width="0.8"/>
<polygon points="562.19,191.93 564.99,191.93 563.59,194.35" fill="#e2392f" stroke="none" stroke-width="0.8"/>
<polygon points="562.55,208.86 565.35,208.86 563.95,211.29" fill="#e2392f" stroke="none" stroke-width="0.8"/>
<polygon points="561.87,210.01 564.67,210.01 563.27,212.44" fill="#e2392f" stroke="none" stroke-width="0.8"/>
<polygon points="562.08,203.09 564.88,203.09 563.48,205.52" fill="#e2392f" stroke="none" stroke-width="0.8"/>
<polygon points="560.47,191.2 563.27,191.2 561.87,193.63" fill="#e2392f" stroke="none" stroke-width="0.8"/>
<polygon points="562.52,222.49 565.32,222.49 563.92,224.92" fill="#e2392f" stroke="none" stroke-width="0.8"/>
<line x1="588.12" y1="283" x2="588.12" y2="288.5" stroke="#333" stroke-width="1" />
<text transform="translate(591.72,289.8) rotate(-90) scale(0.85,1)" font-size="9.9" text-anchor="end" fill="#111">LacCer d18:1/24:1</text>
<line x1="575.45" y1="184.5" x2="575.45" y2="201.4" stroke="#000" stroke-width="0.85" />
<line x1="575.45" y1="225.8" x2="575.45" y2="229.6" stroke="#000" stroke-width="0.85" />
<rect x="572.95" y="201.4" width="5.0" height="24.4" fill="#fff" stroke="#000" stroke-width="0.85"/>
<line x1="572.95" y1="214" x2="577.95" y2="214" stroke="#000" stroke-width="1" />
<circle cx="575.45" cy="184.5" r="1.2" fill="#000" stroke="none" stroke-width="0.8"/>
<circle cx="575.45" cy="229.6" r="1.2" fill="#000" stroke="none" stroke-width="0.8"/>
<circle cx="574.56" cy="192.81" r="1.2" fill="#000" stroke="none" stroke-width="0.8"/>
<circle cx="576.48" cy="200.67" r="1.2" fill="#000" stroke="none" stroke-width="0.8"/>
<circle cx="574.86" cy="223.75" r="1.2" fill="#000" stroke="none" stroke-width="0.8"/>
<circle cx="576.27" cy="205.43" r="1.2" fill="#000" stroke="none" stroke-width="0.8"/>
<circle cx="574.52" cy="220.64" r="1.2" fill="#000" stroke="none" stroke-width="0.8"/>
<circle cx="575.45" cy="224.11" r="1.2" fill="#000" stroke="none" stroke-width="0.8"/>
<circle cx="576.54" cy="203" r="1.2" fill="#000" stroke="none" stroke-width="0.8"/>
<circle cx="574.69" cy="209.96" r="1.2" fill="#000" stroke="none" stroke-width="0.8"/>
<circle cx="574.83" cy="228.67" r="1.2" fill="#000" stroke="none" stroke-width="0.8"/>
<line x1="583.89" y1="156.5" x2="583.89" y2="191.4" stroke="#e2392f" stroke-width="0.85" />
<line x1="583.89" y1="222" x2="583.89" y2="232" stroke="#e2392f" stroke-width="0.85" />
<rect x="581.39" y="191.4" width="5.0" height="30.6" fill="#fff" stroke="#e2392f" stroke-width="0.85"/>
<line x1="581.39" y1="211.3" x2="586.39" y2="211.3" stroke="#e2392f" stroke-width="1" />
<polygon points="582.5,155.69 585.29,155.69 583.89,158.12" fill="#e2392f" stroke="none" stroke-width="0.8"/>
<polygon points="582.5,231.19 585.29,231.19 583.89,233.62" fill="#e2392f" stroke="none" stroke-width="0.8"/>
<polygon points="583.24,173.35 586.04,173.35 584.64,175.78" fill="#e2392f" stroke="none" stroke-width="0.8"/>
<polygon points="581.49,166.83 584.29,166.83 582.89,169.25" fill="#e2392f" stroke="none" stroke-width="0.8"/>
<polygon points="582.57,191.72 585.37,191.72 583.97,194.14" fill="#e2392f" stroke="none" stroke-width="0.8"/>
<polygon points="582.85,196.16 585.65,196.16 584.25,198.59" fill="#e2392f" stroke="none" stroke-width="0.8"/>
<polygon points="582.13,195.53 584.93,195.53 583.53,197.95" fill="#e2392f" stroke="none" stroke-width="0.8"/>
<polygon points="583.46,219.25 586.26,219.25 584.86,221.67" fill="#e2392f" stroke="none" stroke-width="0.8"/>
<polygon points="582.64,211.39 585.44,211.39 584.04,213.81" fill="#e2392f" stroke="none" stroke-width="0.8"/>
<polygon points="582.7,217.99 585.5,217.99 584.1,220.42" fill="#e2392f" stroke="none" stroke-width="0.8"/>
<polygon points="583.49,222.88 586.29,222.88 584.89,225.3" fill="#e2392f" stroke="none" stroke-width="0.8"/>
<line x1="592.35" y1="184.5" x2="592.35" y2="197.5" stroke="#000" stroke-width="0.85" />
<line x1="592.35" y1="223.9" x2="592.35" y2="229" stroke="#000" stroke-width="0.85" />
<rect x="589.85" y="197.5" width="5.0" height="26.4" fill="#c9c9c9" stroke="#000" stroke-width="0.85"/>
<line x1="589.85" y1="215" x2="594.85" y2="215" stroke="#000" stroke-width="1" />
<circle cx="592.35" cy="184.5" r="1.2" fill="#000" stroke="none" stroke-width="0.8"/>
<circle cx="592.35" cy="229" r="1.2" fill="#000" stroke="none" stroke-width="0.8"/>
<circle cx="593.03" cy="185.86" r="1.2" fill="#000" stroke="none" stroke-width="0.8"/>
<circle cx="592.19" cy="197.41" r="1.2" fill="#000" stroke="none" stroke-width="0.8"/>
<circle cx="591.5" cy="214.13" r="1.2" fill="#000" stroke="none" stroke-width="0.8"/>
<circle cx="592.98" cy="207.91" r="1.2" fill="#000" stroke="none" stroke-width="0.8"/>
<circle cx="591.17" cy="218.56" r="1.2" fill="#000" stroke="none" stroke-width="0.8"/>
<circle cx="593.18" cy="204.49" r="1.2" fill="#000" stroke="none" stroke-width="0.8"/>
<circle cx="591.7" cy="223.65" r="1.2" fill="#000" stroke="none" stroke-width="0.8"/>
<circle cx="592.71" cy="212.74" r="1.2" fill="#000" stroke="none" stroke-width="0.8"/>
<circle cx="593.6" cy="225.74" r="1.2" fill="#000" stroke="none" stroke-width="0.8"/>
<line x1="600.79" y1="173.7" x2="600.79" y2="179.4" stroke="#e2392f" stroke-width="0.85" />
<line x1="600.79" y1="214.3" x2="600.79" y2="234.8" stroke="#e2392f" stroke-width="0.85" />
<rect x="598.29" y="179.4" width="5.0" height="34.9" fill="#f4d9dc" stroke="#e2392f" stroke-width="0.85"/>
<line x1="598.29" y1="206.7" x2="603.29" y2="206.7" stroke="#e2392f" stroke-width="1" />
<polygon points="599.39,172.89 602.19,172.89 600.79,175.32" fill="#e2392f" stroke="none" stroke-width="0.8"/>
<polygon points="599.39,233.99 602.19,233.99 600.79,236.42" fill="#e2392f" stroke="none" stroke-width="0.8"/>
<polygon points="600.42,176.23 603.22,176.23 601.82,178.66" fill="#e2392f" stroke="none" stroke-width="0.8"/>
<polygon points="598.44,176.67 601.24,176.67 599.84,179.1" fill="#e2392f" stroke="none" stroke-width="0.8"/>
<polygon points="598.69,189.5 601.49,189.5 600.09,191.93" fill="#e2392f" stroke="none" stroke-width="0.8"/>
<polygon points="599.79,178.65 602.59,178.65 601.19,181.08" fill="#e2392f" stroke="none" stroke-width="0.8"/>
<polygon points="598.15,179.77 600.95,179.77 599.55,182.2" fill="#e2392f" stroke="none" stroke-width="0.8"/>
<polygon points="598.1,183.8 600.9,183.8 599.5,186.23" fill="#e2392f" stroke="none" stroke-width="0.8"/>
<polygon points="599.02,200.09 601.82,200.09 600.42,202.52" fill="#e2392f" stroke="none" stroke-width="0.8"/>
<polygon points="598.37,193.68 601.17,193.68 599.77,196.1" fill="#e2392f" stroke="none" stroke-width="0.8"/>
<polygon points="599.02,224 601.82,224 600.42,226.43" fill="#e2392f" stroke="none" stroke-width="0.8"/>
<line x1="626.25" y1="283" x2="626.25" y2="288.5" stroke="#333" stroke-width="1" />
<text transform="translate(629.85,289.8) rotate(-90) scale(0.85,1)" font-size="9.9" text-anchor="end" fill="#111">SPH d18:1</text>
<line x1="613.58" y1="164.7" x2="613.58" y2="192.2" stroke="#000" stroke-width="0.85" />
<line x1="613.58" y1="213.8" x2="613.58" y2="224.7" stroke="#000" stroke-width="0.85" />
<rect x="611.08" y="192.2" width="5.0" height="21.6" fill="#fff" stroke="#000" stroke-width="0.85"/>
<line x1="611.08" y1="204.8" x2="616.08" y2="204.8" stroke="#000" stroke-width="1" />
<circle cx="613.58" cy="164.7" r="1.2" fill="#000" stroke="none" stroke-width="0.8"/>
<circle cx="613.58" cy="224.7" r="1.2" fill="#000" stroke="none" stroke-width="0.8"/>
<circle cx="612.66" cy="170.87" r="1.2" fill="#000" stroke="none" stroke-width="0.8"/>
<circle cx="612.52" cy="180.75" r="1.2" fill="#000" stroke="none" stroke-width="0.8"/>
<circle cx="613.93" cy="204.92" r="1.2" fill="#000" stroke="none" stroke-width="0.8"/>
<circle cx="614.54" cy="196.61" r="1.2" fill="#000" stroke="none" stroke-width="0.8"/>
<circle cx="614.31" cy="205.68" r="1.2" fill="#000" stroke="none" stroke-width="0.8"/>
<circle cx="613.32" cy="202.46" r="1.2" fill="#000" stroke="none" stroke-width="0.8"/>
<circle cx="612.96" cy="195.11" r="1.2" fill="#000" stroke="none" stroke-width="0.8"/>
<circle cx="612.3" cy="212.43" r="1.2" fill="#000" stroke="none" stroke-width="0.8"/>
<circle cx="613.95" cy="216.46" r="1.2" fill="#000" stroke="none" stroke-width="0.8"/>
<line x1="622.02" y1="156.5" x2="622.02" y2="181.3" stroke="#e2392f" stroke-width="0.85" />
<line x1="622.02" y1="212.8" x2="622.02" y2="223.3" stroke="#e2392f" stroke-width="0.85" />
<rect x="619.52" y="181.3" width="5.0" height="31.5" fill="#fff" stroke="#e2392f" stroke-width="0.85"/>
<line x1="619.52" y1="192.2" x2="624.52" y2="192.2" stroke="#e2392f" stroke-width="1" />
<polygon points="620.62,155.69 623.42,155.69 622.02,158.12" fill="#e2392f" stroke="none" stroke-width="0.8"/>
<polygon points="620.62,222.49 623.42,222.49 622.02,224.92" fill="#e2392f" stroke="none" stroke-width="0.8"/>
<polygon points="620.71,169.64 623.51,169.64 622.11,172.06" fill="#e2392f" stroke="none" stroke-width="0.8"/>
<polygon points="620.38,164.38 623.18,164.38 621.78,166.8" fill="#e2392f" stroke="none" stroke-width="0.8"/>
<polygon points="619.94,200.83 622.74,200.83 621.34,203.25" fill="#e2392f" stroke="none" stroke-width="0.8"/>
<polygon points="619.48,194.47 622.28,194.47 620.88,196.89" fill="#e2392f" stroke="none" stroke-width="0.8"/>
<polygon points="621.35,210.01 624.15,210.01 622.75,212.44" fill="#e2392f" stroke="none" stroke-width="0.8"/>
<polygon points="619.36,203.6 622.16,203.6 620.76,206.02" fill="#e2392f" stroke="none" stroke-width="0.8"/>
<polygon points="620.76,188.32 623.56,188.32 622.16,190.74" fill="#e2392f" stroke="none" stroke-width="0.8"/>
<polygon points="621.77,208.95 624.57,208.95 623.17,211.38" fill="#e2392f" stroke="none" stroke-width="0.8"/>
<polygon points="619.69,212.45 622.49,212.45 621.09,214.88" fill="#e2392f" stroke="none" stroke-width="0.8"/>
<line x1="630.48" y1="211.9" x2="630.48" y2="215.1" stroke="#000" stroke-width="0.85" />
<line x1="630.48" y1="226.2" x2="630.48" y2="231" stroke="#000" stroke-width="0.85" />
<rect x="627.98" y="215.1" width="5.0" height="11.1" fill="#c9c9c9" stroke="#000" stroke-width="0.85"/>
<line x1="627.98" y1="222" x2="632.98" y2="222" stroke="#000" stroke-width="1" />
<circle cx="630.48" cy="211.9" r="1.2" fill="#000" stroke="none" stroke-width="0.8"/>
<circle cx="630.48" cy="231" r="1.2" fill="#000" stroke="none" stroke-width="0.8"/>
<circle cx="631.49" cy="212.54" r="1.2" fill="#000" stroke="none" stroke-width="0.8"/>
<circle cx="631.21" cy="213.85" r="1.2" fill="#000" stroke="none" stroke-width="0.8"/>
<circle cx="631.04" cy="220.73" r="1.2" fill="#000" stroke="none" stroke-width="0.8"/>
<circle cx="629.19" cy="222.22" r="1.2" fill="#000" stroke="none" stroke-width="0.8"/>
<circle cx="631.37" cy="224.13" r="1.2" fill="#000" stroke="none" stroke-width="0.8"/>
<circle cx="631.11" cy="217.04" r="1.2" fill="#000" stroke="none" stroke-width="0.8"/>
<circle cx="630.38" cy="218.53" r="1.2" fill="#000" stroke="none" stroke-width="0.8"/>
<circle cx="631.1" cy="218.43" r="1.2" fill="#000" stroke="none" stroke-width="0.8"/>
<circle cx="630.35" cy="226.43" r="1.2" fill="#000" stroke="none" stroke-width="0.8"/>
<line x1="638.92" y1="185.7" x2="638.92" y2="208" stroke="#e2392f" stroke-width="0.85" />
<line x1="638.92" y1="228.1" x2="638.92" y2="232.9" stroke="#e2392f" stroke-width="0.85" />
<rect x="636.42" y="208" width="5.0" height="20.1" fill="#f4d9dc" stroke="#e2392f" stroke-width="0.85"/>
<line x1="636.42" y1="220" x2="641.42" y2="220" stroke="#e2392f" stroke-width="1" />
<polygon points="637.52,184.89 640.32,184.89 638.92,187.32" fill="#e2392f" stroke="none" stroke-width="0.8"/>
<polygon points="637.52,232.09 640.32,232.09 638.92,234.52" fill="#e2392f" stroke="none" stroke-width="0.8"/>
<polygon points="636.92,189.93 639.72,189.93 638.32,192.36" fill="#e2392f" stroke="none" stroke-width="0.8"/>
<polygon points="637.66,187.24 640.46,187.24 639.06,189.66" fill="#e2392f" stroke="none" stroke-width="0.8"/>
<polygon points="637.36,211.86 640.16,211.86 638.76,214.29" fill="#e2392f" stroke="none" stroke-width="0.8"/>
<polygon points="638.27,207.97 641.07,207.97 639.67,210.4" fill="#e2392f" stroke="none" stroke-width="0.8"/>
<polygon points="637.59,213.94 640.39,213.94 638.99,216.36" fill="#e2392f" stroke="none" stroke-width="0.8"/>
<polygon points="636.91,222.26 639.71,222.26 638.31,224.68" fill="#e2392f" stroke="none" stroke-width="0.8"/>
<polygon points="637.89,221.16 640.69,221.16 639.29,223.59" fill="#e2392f" stroke="none" stroke-width="0.8"/>
<polygon points="638.73,224.18 641.53,224.18 640.13,226.61" fill="#e2392f" stroke="none" stroke-width="0.8"/>
<polygon points="636.79,230.71 639.59,230.71 638.19,233.13" fill="#e2392f" stroke="none" stroke-width="0.8"/>
<line x1="664.38" y1="283" x2="664.38" y2="288.5" stroke="#333" stroke-width="1" />
<text transform="translate(667.98,289.8) rotate(-90) scale(0.85,1)" font-size="9.9" text-anchor="end" fill="#111">S1P d18:1</text>
<line x1="651.71" y1="178.8" x2="651.71" y2="192.2" stroke="#000" stroke-width="0.85" />
<line x1="651.71" y1="220.5" x2="651.71" y2="224.7" stroke="#000" stroke-width="0.85" />
<rect x="649.21" y="192.2" width="5.0" height="28.3" fill="#fff" stroke="#000" stroke-width="0.85"/>
<line x1="649.21" y1="210" x2="654.21" y2="210" stroke="#000" stroke-width="1" />
<circle cx="651.71" cy="178.8" r="1.2" fill="#000" stroke="none" stroke-width="0.8"/>
<circle cx="651.71" cy="224.7" r="1.2" fill="#000" stroke="none" stroke-width="0.8"/>
<circle cx="651.26" cy="190.59" r="1.2" fill="#000" stroke="none" stroke-width="0.8"/>
<circle cx="651.03" cy="179" r="1.2" fill="#000" stroke="none" stroke-width="0.8"/>
<circle cx="652.76" cy="199.57" r="1.2" fill="#000" stroke="none" stroke-width="0.8"/>
<circle cx="652.04" cy="198.88" r="1.2" fill="#000" stroke="none" stroke-width="0.8"/>
<circle cx="652.21" cy="213.25" r="1.2" fill="#000" stroke="none" stroke-width="0.8"/>
<circle cx="652.13" cy="218.93" r="1.2" fill="#000" stroke="none" stroke-width="0.8"/>
<circle cx="652.95" cy="213.32" r="1.2" fill="#000" stroke="none" stroke-width="0.8"/>
<circle cx="651.63" cy="201.45" r="1.2" fill="#000" stroke="none" stroke-width="0.8"/>
<circle cx="652.59" cy="224.2" r="1.2" fill="#000" stroke="none" stroke-width="0.8"/>
<line x1="660.15" y1="176.5" x2="660.15" y2="195.2" stroke="#e2392f" stroke-width="0.85" />
<line x1="660.15" y1="210.9" x2="660.15" y2="222.8" stroke="#e2392f" stroke-width="0.85" />
<rect x="657.65" y="195.2" width="5.0" height="15.7" fill="#fff" stroke="#e2392f" stroke-width="0.85"/>
<line x1="657.65" y1="203" x2="662.65" y2="203" stroke="#e2392f" stroke-width="1" />
<polygon points="658.75,175.69 661.55,175.69 660.15,178.12" fill="#e2392f" stroke="none" stroke-width="0.8"/>
<polygon points="658.75,221.99 661.55,221.99 660.15,224.42" fill="#e2392f" stroke="none" stroke-width="0.8"/>
<polygon points="659.82,188.74 662.62,188.74 661.22,191.16" fill="#e2392f" stroke="none" stroke-width="0.8"/>
<polygon points="657.83,191.73 660.63,191.73 659.23,194.15" fill="#e2392f" stroke="none" stroke-width="0.8"/>
<polygon points="657.52,201.26 660.32,201.26 658.92,203.68" fill="#e2392f" stroke="none" stroke-width="0.8"/>
<polygon points="657.73,205.77 660.53,205.77 659.13,208.19" fill="#e2392f" stroke="none" stroke-width="0.8"/>
<polygon points="659.87,203.35 662.67,203.35 661.27,205.77" fill="#e2392f" stroke="none" stroke-width="0.8"/>
<polygon points="658.35,199.22 661.15,199.22 659.75,201.65" fill="#e2392f" stroke="none" stroke-width="0.8"/>
<polygon points="657.82,197.72 660.62,197.72 659.22,200.14" fill="#e2392f" stroke="none" stroke-width="0.8"/>
<polygon points="657.53,204.17 660.33,204.17 658.93,206.59" fill="#e2392f" stroke="none" stroke-width="0.8"/>
<polygon points="657.56,211.02 660.36,211.02 658.96,213.44" fill="#e2392f" stroke="none" stroke-width="0.8"/>
<line x1="668.61" y1="189.5" x2="668.61" y2="206.7" stroke="#000" stroke-width="0.85" />
<line x1="668.61" y1="224.7" x2="668.61" y2="228" stroke="#000" stroke-width="0.85" />
<rect x="666.11" y="206.7" width="5.0" height="18" fill="#c9c9c9" stroke="#000" stroke-width="0.85"/>
<line x1="666.11" y1="215" x2="671.11" y2="215" stroke="#000" stroke-width="1" />
<circle cx="668.61" cy="189.5" r="1.2" fill="#000" stroke="none" stroke-width="0.8"/>
<circle cx="668.61" cy="228" r="1.2" fill="#000" stroke="none" stroke-width="0.8"/>
<circle cx="669.62" cy="201.41" r="1.2" fill="#000" stroke="none" stroke-width="0.8"/>
<circle cx="667.48" cy="200.4" r="1.2" fill="#000" stroke="none" stroke-width="0.8"/>
<circle cx="669.56" cy="219.25" r="1.2" fill="#000" stroke="none" stroke-width="0.8"/>
<circle cx="669.68" cy="219.96" r="1.2" fill="#000" stroke="none" stroke-width="0.8"/>
<circle cx="669.76" cy="207.88" r="1.2" fill="#000" stroke="none" stroke-width="0.8"/>
<circle cx="667.58" cy="217.33" r="1.2" fill="#000" stroke="none" stroke-width="0.8"/>
<circle cx="667.84" cy="213.24" r="1.2" fill="#000" stroke="none" stroke-width="0.8"/>
<circle cx="667.6" cy="221.42" r="1.2" fill="#000" stroke="none" stroke-width="0.8"/>
<circle cx="667.39" cy="227.4" r="1.2" fill="#000" stroke="none" stroke-width="0.8"/>
<line x1="677.05" y1="190.5" x2="677.05" y2="207.1" stroke="#e2392f" stroke-width="0.85" />
<line x1="677.05" y1="224.7" x2="677.05" y2="229" stroke="#e2392f" stroke-width="0.85" />
<rect x="674.55" y="207.1" width="5.0" height="17.6" fill="#f4d9dc" stroke="#e2392f" stroke-width="0.85"/>
<line x1="674.55" y1="215" x2="679.55" y2="215" stroke="#e2392f" stroke-width="1" />
<polygon points="675.65,189.69 678.45,189.69 677.05,192.12" fill="#e2392f" stroke="none" stroke-width="0.8"/>
<polygon points="675.65,228.19 678.45,228.19 677.05,230.62" fill="#e2392f" stroke="none" stroke-width="0.8"/>
<polygon points="674.89,203.76 677.69,203.76 676.29,206.19" fill="#e2392f" stroke="none" stroke-width="0.8"/>
<polygon points="675.18,203.17 677.98,203.17 676.58,205.6" fill="#e2392f" stroke="none" stroke-width="0.8"/>
<polygon points="675.46,217.45 678.26,217.45 676.86,219.88" fill="#e2392f" stroke="none" stroke-width="0.8"/>
<polygon points="674.41,220.81 677.21,220.81 675.81,223.24" fill="#e2392f" stroke="none" stroke-width="0.8"/>
<polygon points="675.02,217.41 677.82,217.41 676.42,219.83" fill="#e2392f" stroke="none" stroke-width="0.8"/>
<polygon points="675.09,211.35 677.89,211.35 676.49,213.77" fill="#e2392f" stroke="none" stroke-width="0.8"/>
<polygon points="676.22,208.05 679.02,208.05 677.62,210.47" fill="#e2392f" stroke="none" stroke-width="0.8"/>
<polygon points="675.31,208.01 678.11,208.01 676.71,210.44" fill="#e2392f" stroke="none" stroke-width="0.8"/>
<polygon points="675.19,227.15 677.99,227.15 676.59,229.57" fill="#e2392f" stroke="none" stroke-width="0.8"/>
<polyline points="118.4,177.6 118.4,119.9 144.3,119.9 144.3,134.4" stroke="#8a8a8a" stroke-width="0.9" fill="none" />
<line x1="133.2" y1="108.9" x2="133.2" y2="112.5" stroke="#6e6e6e" stroke-width="1.0" />
<line x1="131.64" y1="109.8" x2="134.76" y2="111.6" stroke="#6e6e6e" stroke-width="1.0" />
<line x1="134.76" y1="109.8" x2="131.64" y2="111.6" stroke="#6e6e6e" stroke-width="1.0" />
<polyline points="126.4,177.6 126.4,140.3 143.3,140.3 143.3,150.4" stroke="#8a8a8a" stroke-width="0.9" fill="none" />
<line x1="133.2" y1="131" x2="133.2" y2="134.6" stroke="#6e6e6e" stroke-width="1.0" />
<line x1="131.64" y1="131.9" x2="134.76" y2="133.7" stroke="#6e6e6e" stroke-width="1.0" />
<line x1="134.76" y1="131.9" x2="131.64" y2="133.7" stroke="#6e6e6e" stroke-width="1.0" />
<polyline points="308.3,179.1 308.3,140.3 333.6,140.3 333.6,157.7" stroke="#8a8a8a" stroke-width="0.9" fill="none" />
<line x1="321" y1="129.9" x2="321" y2="133.5" stroke="#6e6e6e" stroke-width="1.0" />
<line x1="319.44" y1="130.8" x2="322.56" y2="132.6" stroke="#6e6e6e" stroke-width="1.0" />
<line x1="322.56" y1="130.8" x2="319.44" y2="132.6" stroke="#6e6e6e" stroke-width="1.0" />
<polyline points="346.4,195.9 346.4,120.2 371.6,120.2 371.6,132.9" stroke="#8a8a8a" stroke-width="0.9" fill="none" />
<line x1="356.8" y1="108.9" x2="356.8" y2="112.5" stroke="#6e6e6e" stroke-width="1.0" />
<line x1="355.24" y1="109.8" x2="358.36" y2="111.6" stroke="#6e6e6e" stroke-width="1.0" />
<line x1="358.36" y1="109.8" x2="355.24" y2="111.6" stroke="#6e6e6e" stroke-width="1.0" />
<line x1="361.4" y1="108.9" x2="361.4" y2="112.5" stroke="#6e6e6e" stroke-width="1.0" />
<line x1="359.84" y1="109.8" x2="362.96" y2="111.6" stroke="#6e6e6e" stroke-width="1.0" />
<line x1="362.96" y1="109.8" x2="359.84" y2="111.6" stroke="#6e6e6e" stroke-width="1.0" />
<polyline points="355.3,174.5 355.3,140.4 371.6,140.4 371.6,150.4" stroke="#8a8a8a" stroke-width="0.9" fill="none" />
<line x1="363.2" y1="129.9" x2="363.2" y2="133.5" stroke="#6e6e6e" stroke-width="1.0" />
<line x1="361.64" y1="130.8" x2="364.76" y2="132.6" stroke="#6e6e6e" stroke-width="1.0" />
<line x1="364.76" y1="130.8" x2="361.64" y2="132.6" stroke="#6e6e6e" stroke-width="1.0" />
<polyline points="384.9,192.1 384.9,120.2 409.9,120.2 409.9,144.7" stroke="#8a8a8a" stroke-width="0.9" fill="none" />
<line x1="397.3" y1="108.9" x2="397.3" y2="112.5" stroke="#6e6e6e" stroke-width="1.0" />
<line x1="395.74" y1="109.8" x2="398.86" y2="111.6" stroke="#6e6e6e" stroke-width="1.0" />
<line x1="398.86" y1="109.8" x2="395.74" y2="111.6" stroke="#6e6e6e" stroke-width="1.0" />
<polyline points="422.7,196.7 422.7,119.9 448.4,119.9 448.4,132.2" stroke="#8a8a8a" stroke-width="0.9" fill="none" />
<line x1="435.4" y1="108.9" x2="435.4" y2="112.5" stroke="#6e6e6e" stroke-width="1.0" />
<line x1="433.84" y1="109.8" x2="436.96" y2="111.6" stroke="#6e6e6e" stroke-width="1.0" />
<line x1="436.96" y1="109.8" x2="433.84" y2="111.6" stroke="#6e6e6e" stroke-width="1.0" />
<polyline points="621.8,88.3 621.8,79.1 638.6,79.1 638.6,139.3" stroke="#8a8a8a" stroke-width="0.9" fill="none" />
<line x1="630.4" y1="70.6" x2="630.4" y2="74.2" stroke="#6e6e6e" stroke-width="1.0" />
<line x1="628.84" y1="71.5" x2="631.96" y2="73.3" stroke="#6e6e6e" stroke-width="1.0" />
<line x1="631.96" y1="71.5" x2="628.84" y2="73.3" stroke="#6e6e6e" stroke-width="1.0" />
<polyline points="613.4,141.2 613.4,104.3 630.6,104.3 630.6,113.1" stroke="#8a8a8a" stroke-width="0.9" fill="none" />
<line x1="619.7" y1="94.9" x2="619.7" y2="98.5" stroke="#6e6e6e" stroke-width="1.0" />
<line x1="618.14" y1="95.8" x2="621.26" y2="97.6" stroke="#6e6e6e" stroke-width="1.0" />
<line x1="621.26" y1="95.8" x2="618.14" y2="97.6" stroke="#6e6e6e" stroke-width="1.0" />
<line x1="624.3" y1="94.9" x2="624.3" y2="98.5" stroke="#6e6e6e" stroke-width="1.0" />
<line x1="622.74" y1="95.8" x2="625.86" y2="97.6" stroke="#6e6e6e" stroke-width="1.0" />
<line x1="625.86" y1="95.8" x2="622.74" y2="97.6" stroke="#6e6e6e" stroke-width="1.0" />
<polyline points="621.8,149.8 621.8,127.2 630.6,127.2 630.6,196" stroke="#8a8a8a" stroke-width="0.9" fill="none" />
<line x1="623.9" y1="118.9" x2="623.9" y2="122.5" stroke="#6e6e6e" stroke-width="1.0" />
<line x1="622.34" y1="119.8" x2="625.46" y2="121.6" stroke="#6e6e6e" stroke-width="1.0" />
<line x1="625.46" y1="119.8" x2="622.34" y2="121.6" stroke="#6e6e6e" stroke-width="1.0" />
<line x1="628.5" y1="118.9" x2="628.5" y2="122.5" stroke="#6e6e6e" stroke-width="1.0" />
<line x1="626.94" y1="119.8" x2="630.06" y2="121.6" stroke="#6e6e6e" stroke-width="1.0" />
<line x1="630.06" y1="119.8" x2="626.94" y2="121.6" stroke="#6e6e6e" stroke-width="1.0" />
<polyline points="660,168.5 660,127.2 668.6,127.2 668.6,180.7" stroke="#8a8a8a" stroke-width="0.9" fill="none" />
<line x1="664.2" y1="118.9" x2="664.2" y2="122.5" stroke="#6e6e6e" stroke-width="1.0" />
<line x1="662.64" y1="119.8" x2="665.76" y2="121.6" stroke="#6e6e6e" stroke-width="1.0" />
<line x1="665.76" y1="119.8" x2="662.64" y2="121.6" stroke="#6e6e6e" stroke-width="1.0" />
<rect x="169.2" y="267.2" width="15.2" height="4.8" fill="#fff" stroke="#000" stroke-width="1"/>
<text x="194.3" y="272.7" font-size="10" fill="#111" text-anchor="start" >HC VEH</text>
<rect x="253.7" y="267.2" width="15.2" height="4.8" fill="#fff" stroke="#e2392f" stroke-width="1"/>
<text x="278.7" y="272.7" font-size="10" fill="#111" text-anchor="start" >PD VEH</text>
<rect x="347.8" y="267.2" width="15.2" height="4.8" fill="#c9c9c9" stroke="#000" stroke-width="1"/>
<text x="373.3" y="272.7" font-size="10" fill="#111" text-anchor="start" >HC PIM</text>
<rect x="437.0" y="267.2" width="15.2" height="4.8" fill="#f4d9dc" stroke="#e2392f" stroke-width="1"/>
<text x="462.5" y="272.7" font-size="10" fill="#111" text-anchor="start" >PD PIM</text>
<text x="44.3" y="405.8" font-size="19.5" fill="#000" text-anchor="start" >B</text>
<text x="87.5" y="407.4" font-size="13.7" fill="#111" text-anchor="start" >Canonical discrimination</text>
<line x1="152.15" y1="430.5" x2="152.15" y2="610" stroke="#c4c4c4" stroke-width="1" stroke-dasharray="2.2,2.2"/>
<line x1="61.2" y1="518.5" x2="241" y2="518.5" stroke="#c4c4c4" stroke-width="1" stroke-dasharray="2.2,2.2"/>
<line x1="61.2" y1="427.5" x2="61.2" y2="610.5" stroke="#444" stroke-width="1" />
<line x1="60.7" y1="610" x2="242.8" y2="610" stroke="#444" stroke-width="1" />
<line x1="53.5" y1="427.5" x2="61.2" y2="427.5" stroke="#444" stroke-width="1" />
<text x="51.3" y="431.2" font-size="10.2" fill="#111" text-anchor="end" >4</text>
<line x1="53.5" y1="473" x2="61.2" y2="473" stroke="#444" stroke-width="1" />
<text x="51.3" y="476.7" font-size="10.2" fill="#111" text-anchor="end" >2</text>
<line x1="53.5" y1="518.5" x2="61.2" y2="518.5" stroke="#444" stroke-width="1" />
<text x="51.3" y="522.2" font-size="10.2" fill="#111" text-anchor="end" >0</text>
<line x1="53.5" y1="564" x2="61.2" y2="564" stroke="#444" stroke-width="1" />
<text x="51.3" y="567.7" font-size="10.2" fill="#111" text-anchor="end" >-2</text>
<line x1="53.5" y1="609.5" x2="61.2" y2="609.5" stroke="#444" stroke-width="1" />
<text x="51.3" y="613.2" font-size="10.2" fill="#111" text-anchor="end" >-4</text>
<line x1="61.37" y1="610" x2="61.37" y2="614" stroke="#444" stroke-width="1" />
<text x="59.77" y="629.3" font-size="10.2" fill="#111" text-anchor="middle" >-6</text>
<line x1="91.63" y1="610" x2="91.63" y2="614" stroke="#444" stroke-width="1" />
<text x="90.03" y="629.3" font-size="10.2" fill="#111" text-anchor="middle" >-4</text>
<line x1="121.89" y1="610" x2="121.89" y2="614" stroke="#444" stroke-width="1" />
<text x="120.29" y="629.3" font-size="10.2" fill="#111" text-anchor="middle" >-2</text>
<line x1="152.15" y1="610" x2="152.15" y2="614" stroke="#444" stroke-width="1" />
<text x="152.15" y="629.3" font-size="10.2" fill="#111" text-anchor="middle" >0</text>
<line x1="182.41" y1="610" x2="182.41" y2="614" stroke="#444" stroke-width="1" />
<text x="182.41" y="629.3" font-size="10.2" fill="#111" text-anchor="middle" >2</text>
<line x1="212.67" y1="610" x2="212.67" y2="614" stroke="#444" stroke-width="1" />
<text x="212.67" y="629.3" font-size="10.2" fill="#111" text-anchor="middle" >4</text>
<line x1="242.93" y1="610" x2="242.93" y2="614" stroke="#444" stroke-width="1" />
<text x="242.93" y="629.3" font-size="10.2" fill="#111" text-anchor="middle" >6</text>
<text x="152.4" y="646.6" font-size="12.4" fill="#111" text-anchor="middle" >CanDisc Score 1</text>
<text transform="translate(35.4,519.3) rotate(-90)" font-size="12.4" text-anchor="middle" fill="#111">CanDisc Score-2</text>
<text x="93.4" y="461.6" font-size="12.3" fill="#7d7d7d" text-anchor="start" >HC VEH</text>
<text x="93.4" y="585.8" font-size="12.3" fill="#e2392f" text-anchor="start" >PD VEH</text>
<text x="216.6" y="487.3" font-size="12.3" fill="#111" text-anchor="start" >HC PIM</text>
<text x="216.6" y="562.5" font-size="12.3" fill="#e2392f" text-anchor="start" >PD PIM</text>
<circle cx="76.1" cy="484.2" r="2.5" fill="none" stroke="#444" stroke-width="0.9"/>
<circle cx="106.3" cy="499.9" r="2.5" fill="none" stroke="#444" stroke-width="0.9"/>
<circle cx="118.7" cy="501.8" r="2.5" fill="none" stroke="#444" stroke-width="0.9"/>
<circle cx="112.6" cy="509.2" r="2.5" fill="none" stroke="#444" stroke-width="0.9"/>
<circle cx="98.1" cy="516.7" r="2.5" fill="none" stroke="#444" stroke-width="0.9"/>
<circle cx="122.6" cy="512.5" r="2.5" fill="none" stroke="#444" stroke-width="0.9"/>
<circle cx="125" cy="514.6" r="2.5" fill="none" stroke="#444" stroke-width="0.9"/>
<circle cx="136.2" cy="509.2" r="2.5" fill="none" stroke="#444" stroke-width="0.9"/>
<circle cx="138.5" cy="513" r="2.5" fill="none" stroke="#444" stroke-width="0.9"/>
<circle cx="138.8" cy="493.3" r="2.5" fill="none" stroke="#444" stroke-width="0.9"/>
<circle cx="136.7" cy="520" r="2.5" fill="none" stroke="#444" stroke-width="0.9"/>
<polygon points="94.8,506.8 100,506.8 97.4,502.3" fill="none" stroke="#e2392f" stroke-width="0.9"/>
<polygon points="109.1,500.9 114.3,500.9 111.7,496.4" fill="none" stroke="#e2392f" stroke-width="0.9"/>
<polygon points="114.7,500.9 119.9,500.9 117.3,496.4" fill="none" stroke="#e2392f" stroke-width="0.9"/>
<polygon points="109.1,526.6 114.3,526.6 111.7,522.1" fill="none" stroke="#e2392f" stroke-width="0.9"/>
<polygon points="121.9,519.6 127.1,519.6 124.5,515.1" fill="none" stroke="#e2392f" stroke-width="0.9"/>
<polygon points="125.4,528.5 130.6,528.5 128,524" fill="none" stroke="#e2392f" stroke-width="0.9"/>
<polygon points="123.5,534.8 128.7,534.8 126.1,530.3" fill="none" stroke="#e2392f" stroke-width="0.9"/>
<polygon points="143.4,523.3 148.6,523.3 146,518.8" fill="none" stroke="#e2392f" stroke-width="0.9"/>
<polygon points="103.2,535.5 108.4,535.5 105.8,531" fill="none" stroke="#e2392f" stroke-width="0.9"/>
<polygon points="94.3,537.8 99.5,537.8 96.9,533.3" fill="none" stroke="#e2392f" stroke-width="0.9"/>
<polygon points="88.5,540.6 93.7,540.6 91.1,536.1" fill="none" stroke="#e2392f" stroke-width="0.9"/>
<polygon points="110.7,538.3 115.9,538.3 113.3,533.8" fill="none" stroke="#e2392f" stroke-width="0.9"/>
<polygon points="113.7,538.3 118.9,538.3 116.3,533.8" fill="none" stroke="#e2392f" stroke-width="0.9"/>
<circle cx="214.7" cy="445" r="2.9" fill="#555" stroke="none" stroke-width="0.8"/>
<circle cx="192.8" cy="457.8" r="2.9" fill="#555" stroke="none" stroke-width="0.8"/>
<circle cx="202.4" cy="456.9" r="2.9" fill="#555" stroke="none" stroke-width="0.8"/>
<circle cx="182.3" cy="481.4" r="2.9" fill="#555" stroke="none" stroke-width="0.8"/>
<circle cx="181.1" cy="487.3" r="2.9" fill="#555" stroke="none" stroke-width="0.8"/>
<circle cx="191.6" cy="488.4" r="2.9" fill="#555" stroke="none" stroke-width="0.8"/>
<circle cx="176.7" cy="497.8" r="2.9" fill="#555" stroke="none" stroke-width="0.8"/>
<circle cx="174.6" cy="508.8" r="2.9" fill="#555" stroke="none" stroke-width="0.8"/>
<circle cx="204.2" cy="514.1" r="2.9" fill="#555" stroke="none" stroke-width="0.8"/>
<circle cx="208.2" cy="515.8" r="2.9" fill="#555" stroke="none" stroke-width="0.8"/>
<circle cx="206.1" cy="515.8" r="2.9" fill="#555" stroke="none" stroke-width="0.8"/>
<circle cx="178.1" cy="537.5" r="2.9" fill="#555" stroke="none" stroke-width="0.8"/>
<polygon points="188.9,502.33 194.9,502.33 191.9,497.14" fill="#e2392f" stroke="none" stroke-width="0.8"/>
<polygon points="165.5,522.63 171.5,522.63 168.5,517.44" fill="#e2392f" stroke="none" stroke-width="0.8"/>
<polygon points="183.7,521.73 189.7,521.73 186.7,516.54" fill="#e2392f" stroke="none" stroke-width="0.8"/>
<polygon points="157.8,531.53 163.8,531.53 160.8,526.34" fill="#e2392f" stroke="none" stroke-width="0.8"/>
<polygon points="177.9,528.73 183.9,528.73 180.9,523.54" fill="#e2392f" stroke="none" stroke-width="0.8"/>
<polygon points="175.5,535.03 181.5,535.03 178.5,529.84" fill="#e2392f" stroke="none" stroke-width="0.8"/>
<polygon points="176,547.83 182,547.83 179,542.64" fill="#e2392f" stroke="none" stroke-width="0.8"/>
<polygon points="184.9,546.73 190.9,546.73 187.9,541.54" fill="#e2392f" stroke="none" stroke-width="0.8"/>
<polygon points="175.1,557.93 181.1,557.93 178.1,552.74" fill="#e2392f" stroke="none" stroke-width="0.8"/>
<polygon points="160.4,581.73 166.4,581.73 163.4,576.54" fill="#e2392f" stroke="none" stroke-width="0.8"/>
<polygon points="184.2,585.23 190.2,585.23 187.2,580.04" fill="#e2392f" stroke="none" stroke-width="0.8"/>
<polygon points="198.9,586.43 204.9,586.43 201.9,581.24" fill="#e2392f" stroke="none" stroke-width="0.8"/>
<polygon points="180.9,603.43 186.9,603.43 183.9,598.24" fill="#e2392f" stroke="none" stroke-width="0.8"/>
<text x="356.3" y="406.3" font-size="19.5" fill="#000" text-anchor="start" >C</text>
<text x="394.6" y="439.1" font-size="12.3" fill="#111" text-anchor="start" >GlcCer 16:0</text>
<text x="508.6" y="439.1" font-size="12.3" fill="#111" text-anchor="start" >GlcCer 24:1</text>
<line x1="353.7" y1="430.4" x2="353.7" y2="609.3" stroke="#444" stroke-width="1" />
<line x1="353.2" y1="608.8" x2="621.6" y2="608.8" stroke="#444" stroke-width="1" />
<line x1="346.9" y1="430.4" x2="353.7" y2="430.4" stroke="#444" stroke-width="1" />
<text x="344.4" y="434.1" font-size="10.2" fill="#111" text-anchor="end" >128</text>
<line x1="346.9" y1="466.08" x2="353.7" y2="466.08" stroke="#444" stroke-width="1" />
<text x="344.4" y="469.78" font-size="10.2" fill="#111" text-anchor="end" >64</text>
<line x1="346.9" y1="501.76" x2="353.7" y2="501.76" stroke="#444" stroke-width="1" />
<text x="344.4" y="505.46" font-size="10.2" fill="#111" text-anchor="end" >32</text>
<line x1="346.9" y1="537.44" x2="353.7" y2="537.44" stroke="#444" stroke-width="1" />
<text x="344.4" y="541.14" font-size="10.2" fill="#111" text-anchor="end" >16</text>
<line x1="346.9" y1="573.12" x2="353.7" y2="573.12" stroke="#444" stroke-width="1" />
<text x="344.4" y="576.82" font-size="10.2" fill="#111" text-anchor="end" >8</text>
<line x1="346.9" y1="608.8" x2="353.7" y2="608.8" stroke="#444" stroke-width="1" />
<text x="344.4" y="612.5" font-size="10.2" fill="#111" text-anchor="end" >4</text>
<text transform="translate(317.6,514.6) rotate(-90)" font-size="12.3" text-anchor="middle" fill="#111">GlcCer (ng in 2x10exp5 cells)</text>
<line x1="377.9" y1="608.8" x2="377.9" y2="615.8" stroke="#444" stroke-width="1" />
<text transform="translate(382.5,625.5) rotate(-45)" font-size="10.9" text-anchor="end" fill="#111">HC VEH</text>
<line x1="409.3" y1="608.8" x2="409.3" y2="615.8" stroke="#444" stroke-width="1" />
<text transform="translate(413.9,625.5) rotate(-45)" font-size="10.9" text-anchor="end" fill="#111">HC PIM</text>
<line x1="440.4" y1="608.8" x2="440.4" y2="615.8" stroke="#444" stroke-width="1" />
<text transform="translate(445,625.5) rotate(-45)" font-size="10.9" text-anchor="end" fill="#e2392f">PD VEH</text>
<line x1="471.6" y1="608.8" x2="471.6" y2="615.8" stroke="#444" stroke-width="1" />
<text transform="translate(476.2,625.5) rotate(-45)" font-size="10.9" text-anchor="end" fill="#e2392f">PD PIM</text>
<line x1="503.1" y1="608.8" x2="503.1" y2="615.8" stroke="#444" stroke-width="1" />
<text transform="translate(507.7,625.5) rotate(-45)" font-size="10.9" text-anchor="end" fill="#111">HC VEH</text>
<line x1="534.3" y1="608.8" x2="534.3" y2="615.8" stroke="#444" stroke-width="1" />
<text transform="translate(538.9,625.5) rotate(-45)" font-size="10.9" text-anchor="end" fill="#111">HC PIM</text>
<line x1="565.6" y1="608.8" x2="565.6" y2="615.8" stroke="#444" stroke-width="1" />
<text transform="translate(570.2,625.5) rotate(-45)" font-size="10.9" text-anchor="end" fill="#e2392f">PD VEH</text>
<line x1="596.7" y1="608.8" x2="596.7" y2="615.8" stroke="#444" stroke-width="1" />
<text transform="translate(601.3,625.5) rotate(-45)" font-size="10.9" text-anchor="end" fill="#e2392f">PD PIM</text>
<line x1="377.9" y1="523.4" x2="409.3" y2="492" stroke="#111" stroke-width="0.8" />
<line x1="377.9" y1="532.2" x2="409.3" y2="493.7" stroke="#111" stroke-width="0.8" />
<line x1="377.9" y1="536.2" x2="409.3" y2="505.7" stroke="#111" stroke-width="0.8" />
<line x1="377.9" y1="542.3" x2="409.3" y2="508.1" stroke="#111" stroke-width="0.8" />
<line x1="377.9" y1="543.1" x2="409.3" y2="543.8" stroke="#111" stroke-width="0.8" />
<line x1="377.9" y1="551.8" x2="409.3" y2="499.6" stroke="#111" stroke-width="0.8" />
<line x1="377.9" y1="554.2" x2="409.3" y2="551.5" stroke="#111" stroke-width="0.8" />
<line x1="377.9" y1="559.8" x2="409.3" y2="557.4" stroke="#111" stroke-width="0.8" />
<line x1="377.9" y1="572.3" x2="409.3" y2="551.5" stroke="#111" stroke-width="0.8" />
<line x1="377.9" y1="574.7" x2="409.3" y2="557.4" stroke="#111" stroke-width="0.8" />
<line x1="377.9" y1="577.5" x2="409.3" y2="569.4" stroke="#111" stroke-width="0.8" />
<line x1="377.9" y1="598.8" x2="409.3" y2="530.1" stroke="#111" stroke-width="0.8" />
<line x1="377.9" y1="536.2" x2="409.3" y2="509.2" stroke="#111" stroke-width="0.8" />
<circle cx="377.9" cy="523.4" r="1.75" fill="#fff" stroke="#111" stroke-width="0.8"/>
<circle cx="409.3" cy="492" r="2" fill="#111" stroke="none" stroke-width="0.8"/>
<circle cx="377.9" cy="532.2" r="1.75" fill="#fff" stroke="#111" stroke-width="0.8"/>
<circle cx="409.3" cy="493.7" r="2" fill="#111" stroke="none" stroke-width="0.8"/>
<circle cx="377.9" cy="536.2" r="1.75" fill="#fff" stroke="#111" stroke-width="0.8"/>
<circle cx="409.3" cy="505.7" r="2" fill="#111" stroke="none" stroke-width="0.8"/>
<circle cx="377.9" cy="542.3" r="1.75" fill="#fff" stroke="#111" stroke-width="0.8"/>
<circle cx="409.3" cy="508.1" r="2" fill="#111" stroke="none" stroke-width="0.8"/>
<circle cx="377.9" cy="543.1" r="1.75" fill="#fff" stroke="#111" stroke-width="0.8"/>
<circle cx="409.3" cy="543.8" r="2" fill="#111" stroke="none" stroke-width="0.8"/>
<circle cx="377.9" cy="551.8" r="1.75" fill="#fff" stroke="#111" stroke-width="0.8"/>
<circle cx="409.3" cy="499.6" r="2" fill="#111" stroke="none" stroke-width="0.8"/>
<circle cx="377.9" cy="554.2" r="1.75" fill="#fff" stroke="#111" stroke-width="0.8"/>
<circle cx="409.3" cy="551.5" r="2" fill="#111" stroke="none" stroke-width="0.8"/>
<circle cx="377.9" cy="559.8" r="1.75" fill="#fff" stroke="#111" stroke-width="0.8"/>
<circle cx="409.3" cy="557.4" r="2" fill="#111" stroke="none" stroke-width="0.8"/>
<circle cx="377.9" cy="572.3" r="1.75" fill="#fff" stroke="#111" stroke-width="0.8"/>
<circle cx="409.3" cy="551.5" r="2" fill="#111" stroke="none" stroke-width="0.8"/>
<circle cx="377.9" cy="574.7" r="1.75" fill="#fff" stroke="#111" stroke-width="0.8"/>
<circle cx="409.3" cy="557.4" r="2" fill="#111" stroke="none" stroke-width="0.8"/>
<circle cx="377.9" cy="577.5" r="1.75" fill="#fff" stroke="#111" stroke-width="0.8"/>
<circle cx="409.3" cy="569.4" r="2" fill="#111" stroke="none" stroke-width="0.8"/>
<circle cx="377.9" cy="598.8" r="1.75" fill="#fff" stroke="#111" stroke-width="0.8"/>
<circle cx="409.3" cy="530.1" r="2" fill="#111" stroke="none" stroke-width="0.8"/>
<circle cx="377.9" cy="536.2" r="1.75" fill="#fff" stroke="#111" stroke-width="0.8"/>
<circle cx="409.3" cy="509.2" r="2" fill="#111" stroke="none" stroke-width="0.8"/>
<line x1="440.4" y1="512.6" x2="471.6" y2="503.3" stroke="#e2392f" stroke-width="0.8" />
<line x1="440.4" y1="522.2" x2="471.6" y2="482.4" stroke="#e2392f" stroke-width="0.8" />
<line x1="440.4" y1="533" x2="471.6" y2="484.5" stroke="#e2392f" stroke-width="0.8" />
<line x1="440.4" y1="535.4" x2="471.6" y2="489.6" stroke="#e2392f" stroke-width="0.8" />
<line x1="440.4" y1="545" x2="471.6" y2="531.4" stroke="#e2392f" stroke-width="0.8" />
<line x1="440.4" y1="550.7" x2="471.6" y2="499.6" stroke="#e2392f" stroke-width="0.8" />
<line x1="440.4" y1="556.3" x2="471.6" y2="533.8" stroke="#e2392f" stroke-width="0.8" />
<line x1="440.4" y1="560.3" x2="471.6" y2="505.7" stroke="#e2392f" stroke-width="0.8" />
<line x1="440.4" y1="567.5" x2="471.6" y2="536.2" stroke="#e2392f" stroke-width="0.8" />
<line x1="440.4" y1="575.6" x2="471.6" y2="508.1" stroke="#e2392f" stroke-width="0.8" />
<line x1="440.4" y1="577.2" x2="471.6" y2="539.1" stroke="#e2392f" stroke-width="0.8" />
<line x1="440.4" y1="545" x2="471.6" y2="541.8" stroke="#e2392f" stroke-width="0.8" />
<line x1="440.4" y1="556.3" x2="471.6" y2="543.9" stroke="#e2392f" stroke-width="0.8" />
<line x1="440.4" y1="560.3" x2="471.6" y2="509.7" stroke="#e2392f" stroke-width="0.8" />
<circle cx="440.4" cy="512.6" r="1.75" fill="#fff" stroke="#e2392f" stroke-width="0.8"/>
<circle cx="471.6" cy="503.3" r="2" fill="#e2392f" stroke="none" stroke-width="0.8"/>
<circle cx="440.4" cy="522.2" r="1.75" fill="#fff" stroke="#e2392f" stroke-width="0.8"/>
<circle cx="471.6" cy="482.4" r="2" fill="#e2392f" stroke="none" stroke-width="0.8"/>
<circle cx="440.4" cy="533" r="1.75" fill="#fff" stroke="#e2392f" stroke-width="0.8"/>
<circle cx="471.6" cy="484.5" r="2" fill="#e2392f" stroke="none" stroke-width="0.8"/>
<circle cx="440.4" cy="535.4" r="1.75" fill="#fff" stroke="#e2392f" stroke-width="0.8"/>
<circle cx="471.6" cy="489.6" r="2" fill="#e2392f" stroke="none" stroke-width="0.8"/>
<circle cx="440.4" cy="545" r="1.75" fill="#fff" stroke="#e2392f" stroke-width="0.8"/>
<circle cx="471.6" cy="531.4" r="2" fill="#e2392f" stroke="none" stroke-width="0.8"/>
<circle cx="440.4" cy="550.7" r="1.75" fill="#fff" stroke="#e2392f" stroke-width="0.8"/>
<circle cx="471.6" cy="499.6" r="2" fill="#e2392f" stroke="none" stroke-width="0.8"/>
<circle cx="440.4" cy="556.3" r="1.75" fill="#fff" stroke="#e2392f" stroke-width="0.8"/>
<circle cx="471.6" cy="533.8" r="2" fill="#e2392f" stroke="none" stroke-width="0.8"/>
<circle cx="440.4" cy="560.3" r="1.75" fill="#fff" stroke="#e2392f" stroke-width="0.8"/>
<circle cx="471.6" cy="505.7" r="2" fill="#e2392f" stroke="none" stroke-width="0.8"/>
<circle cx="440.4" cy="567.5" r="1.75" fill="#fff" stroke="#e2392f" stroke-width="0.8"/>
<circle cx="471.6" cy="536.2" r="2" fill="#e2392f" stroke="none" stroke-width="0.8"/>
<circle cx="440.4" cy="575.6" r="1.75" fill="#fff" stroke="#e2392f" stroke-width="0.8"/>
<circle cx="471.6" cy="508.1" r="2" fill="#e2392f" stroke="none" stroke-width="0.8"/>
<circle cx="440.4" cy="577.2" r="1.75" fill="#fff" stroke="#e2392f" stroke-width="0.8"/>
<circle cx="471.6" cy="539.1" r="2" fill="#e2392f" stroke="none" stroke-width="0.8"/>
<circle cx="440.4" cy="545" r="1.75" fill="#fff" stroke="#e2392f" stroke-width="0.8"/>
<circle cx="471.6" cy="541.8" r="2" fill="#e2392f" stroke="none" stroke-width="0.8"/>
<circle cx="440.4" cy="556.3" r="1.75" fill="#fff" stroke="#e2392f" stroke-width="0.8"/>
<circle cx="471.6" cy="543.9" r="2" fill="#e2392f" stroke="none" stroke-width="0.8"/>
<circle cx="440.4" cy="560.3" r="1.75" fill="#fff" stroke="#e2392f" stroke-width="0.8"/>
<circle cx="471.6" cy="509.7" r="2" fill="#e2392f" stroke="none" stroke-width="0.8"/>
<line x1="503.1" y1="493" x2="534.3" y2="486.6" stroke="#111" stroke-width="0.8" />
<line x1="503.1" y1="502.6" x2="534.3" y2="486.6" stroke="#111" stroke-width="0.8" />
<line x1="503.1" y1="510.7" x2="534.3" y2="495.4" stroke="#111" stroke-width="0.8" />
<line x1="503.1" y1="513.1" x2="534.3" y2="497" stroke="#111" stroke-width="0.8" />
<line x1="503.1" y1="510.7" x2="534.3" y2="506.2" stroke="#111" stroke-width="0.8" />
<line x1="503.1" y1="513.1" x2="534.3" y2="529.9" stroke="#111" stroke-width="0.8" />
<line x1="503.1" y1="517.1" x2="534.3" y2="534.7" stroke="#111" stroke-width="0.8" />
<line x1="503.1" y1="525.9" x2="534.3" y2="516.3" stroke="#111" stroke-width="0.8" />
<line x1="503.1" y1="532.8" x2="534.3" y2="536" stroke="#111" stroke-width="0.8" />
<line x1="503.1" y1="546" x2="534.3" y2="518.7" stroke="#111" stroke-width="0.8" />
<line x1="503.1" y1="550.8" x2="534.3" y2="542.8" stroke="#111" stroke-width="0.8" />
<line x1="503.1" y1="576.5" x2="534.3" y2="518.7" stroke="#111" stroke-width="0.8" />
<polygon points="501.15,494.43 505.05,494.43 503.1,491.05" fill="#fff" stroke="#111" stroke-width="0.8"/>
<polygon points="532.2,488.11 536.4,488.11 534.3,484.48" fill="#111" stroke="none" stroke-width="0.8"/>
<polygon points="501.15,504.03 505.05,504.03 503.1,500.65" fill="#fff" stroke="#111" stroke-width="0.8"/>
<polygon points="532.2,488.11 536.4,488.11 534.3,484.48" fill="#111" stroke="none" stroke-width="0.8"/>
<polygon points="501.15,512.13 505.05,512.13 503.1,508.75" fill="#fff" stroke="#111" stroke-width="0.8"/>
<polygon points="532.2,496.91 536.4,496.91 534.3,493.28" fill="#111" stroke="none" stroke-width="0.8"/>
<polygon points="501.15,514.53 505.05,514.53 503.1,511.15" fill="#fff" stroke="#111" stroke-width="0.8"/>
<polygon points="532.2,498.51 536.4,498.51 534.3,494.88" fill="#111" stroke="none" stroke-width="0.8"/>
<polygon points="501.15,512.13 505.05,512.13 503.1,508.75" fill="#fff" stroke="#111" stroke-width="0.8"/>
<polygon points="532.2,507.71 536.4,507.71 534.3,504.08" fill="#111" stroke="none" stroke-width="0.8"/>
<polygon points="501.15,514.53 505.05,514.53 503.1,511.15" fill="#fff" stroke="#111" stroke-width="0.8"/>
<polygon points="532.2,531.41 536.4,531.41 534.3,527.78" fill="#111" stroke="none" stroke-width="0.8"/>
<polygon points="501.15,518.53 505.05,518.53 503.1,515.15" fill="#fff" stroke="#111" stroke-width="0.8"/>
<polygon points="532.2,536.21 536.4,536.21 534.3,532.58" fill="#111" stroke="none" stroke-width="0.8"/>
<polygon points="501.15,527.33 505.05,527.33 503.1,523.95" fill="#fff" stroke="#111" stroke-width="0.8"/>
<polygon points="532.2,517.81 536.4,517.81 534.3,514.18" fill="#111" stroke="none" stroke-width="0.8"/>
<polygon points="501.15,534.23 505.05,534.23 503.1,530.85" fill="#fff" stroke="#111" stroke-width="0.8"/>
<polygon points="532.2,537.51 536.4,537.51 534.3,533.88" fill="#111" stroke="none" stroke-width="0.8"/>
<polygon points="501.15,547.43 505.05,547.43 503.1,544.05" fill="#fff" stroke="#111" stroke-width="0.8"/>
<polygon points="532.2,520.21 536.4,520.21 534.3,516.58" fill="#111" stroke="none" stroke-width="0.8"/>
<polygon points="501.15,552.23 505.05,552.23 503.1,548.85" fill="#fff" stroke="#111" stroke-width="0.8"/>
<polygon points="532.2,544.31 536.4,544.31 534.3,540.68" fill="#111" stroke="none" stroke-width="0.8"/>
<polygon points="501.15,577.93 505.05,577.93 503.1,574.55" fill="#fff" stroke="#111" stroke-width="0.8"/>
<polygon points="532.2,520.21 536.4,520.21 534.3,516.58" fill="#111" stroke="none" stroke-width="0.8"/>
<line x1="565.6" y1="464.9" x2="596.7" y2="450" stroke="#e2392f" stroke-width="0.8" />
<line x1="565.6" y1="491.1" x2="596.7" y2="486.6" stroke="#e2392f" stroke-width="0.8" />
<line x1="565.6" y1="497" x2="596.7" y2="483.4" stroke="#e2392f" stroke-width="0.8" />
<line x1="565.6" y1="501.8" x2="596.7" y2="475.3" stroke="#e2392f" stroke-width="0.8" />
<line x1="565.6" y1="506.6" x2="596.7" y2="471.3" stroke="#e2392f" stroke-width="0.8" />
<line x1="565.6" y1="521.9" x2="596.7" y2="508.2" stroke="#e2392f" stroke-width="0.8" />
<line x1="565.6" y1="525.1" x2="596.7" y2="499.1" stroke="#e2392f" stroke-width="0.8" />
<line x1="565.6" y1="536.4" x2="596.7" y2="499.1" stroke="#e2392f" stroke-width="0.8" />
<line x1="565.6" y1="542" x2="596.7" y2="534.7" stroke="#e2392f" stroke-width="0.8" />
<line x1="565.6" y1="549.2" x2="596.7" y2="505" stroke="#e2392f" stroke-width="0.8" />
<line x1="565.6" y1="554.8" x2="596.7" y2="524.3" stroke="#e2392f" stroke-width="0.8" />
<line x1="565.6" y1="549.2" x2="596.7" y2="542" stroke="#e2392f" stroke-width="0.8" />
<line x1="565.6" y1="491.1" x2="596.7" y2="491.7" stroke="#e2392f" stroke-width="0.8" />
<polygon points="563.65,466.33 567.55,466.33 565.6,462.95" fill="#fff" stroke="#e2392f" stroke-width="0.8"/>
<polygon points="594.6,451.51 598.8,451.51 596.7,447.88" fill="#e2392f" stroke="none" stroke-width="0.8"/>
<polygon points="563.65,492.53 567.55,492.53 565.6,489.15" fill="#fff" stroke="#e2392f" stroke-width="0.8"/>
<polygon points="594.6,488.11 598.8,488.11 596.7,484.48" fill="#e2392f" stroke="none" stroke-width="0.8"/>
<polygon points="563.65,498.43 567.55,498.43 565.6,495.05" fill="#fff" stroke="#e2392f" stroke-width="0.8"/>
<polygon points="594.6,484.91 598.8,484.91 596.7,481.28" fill="#e2392f" stroke="none" stroke-width="0.8"/>
<polygon points="563.65,503.23 567.55,503.23 565.6,499.85" fill="#fff" stroke="#e2392f" stroke-width="0.8"/>
<polygon points="594.6,476.81 598.8,476.81 596.7,473.18" fill="#e2392f" stroke="none" stroke-width="0.8"/>
<polygon points="563.65,508.03 567.55,508.03 565.6,504.65" fill="#fff" stroke="#e2392f" stroke-width="0.8"/>
<polygon points="594.6,472.81 598.8,472.81 596.7,469.18" fill="#e2392f" stroke="none" stroke-width="0.8"/>
<polygon points="563.65,523.33 567.55,523.33 565.6,519.95" fill="#fff" stroke="#e2392f" stroke-width="0.8"/>
<polygon points="594.6,509.71 598.8,509.71 596.7,506.08" fill="#e2392f" stroke="none" stroke-width="0.8"/>
<polygon points="563.65,526.53 567.55,526.53 565.6,523.15" fill="#fff" stroke="#e2392f" stroke-width="0.8"/>
<polygon points="594.6,500.61 598.8,500.61 596.7,496.98" fill="#e2392f" stroke="none" stroke-width="0.8"/>
<polygon points="563.65,537.83 567.55,537.83 565.6,534.45" fill="#fff" stroke="#e2392f" stroke-width="0.8"/>
<polygon points="594.6,500.61 598.8,500.61 596.7,496.98" fill="#e2392f" stroke="none" stroke-width="0.8"/>
<polygon points="563.65,543.43 567.55,543.43 565.6,540.05" fill="#fff" stroke="#e2392f" stroke-width="0.8"/>
<polygon points="594.6,536.21 598.8,536.21 596.7,532.58" fill="#e2392f" stroke="none" stroke-width="0.8"/>
<polygon points="563.65,550.63 567.55,550.63 565.6,547.25" fill="#fff" stroke="#e2392f" stroke-width="0.8"/>
<polygon points="594.6,506.51 598.8,506.51 596.7,502.88" fill="#e2392f" stroke="none" stroke-width="0.8"/>
<polygon points="563.65,556.23 567.55,556.23 565.6,552.85" fill="#fff" stroke="#e2392f" stroke-width="0.8"/>
<polygon points="594.6,525.81 598.8,525.81 596.7,522.18" fill="#e2392f" stroke="none" stroke-width="0.8"/>
<polygon points="563.65,550.63 567.55,550.63 565.6,547.25" fill="#fff" stroke="#e2392f" stroke-width="0.8"/>
<polygon points="594.6,543.51 598.8,543.51 596.7,539.88" fill="#e2392f" stroke="none" stroke-width="0.8"/>
<polygon points="563.65,492.53 567.55,492.53 565.6,489.15" fill="#fff" stroke="#e2392f" stroke-width="0.8"/>
<polygon points="594.6,493.21 598.8,493.21 596.7,489.58" fill="#e2392f" stroke="none" stroke-width="0.8"/>
<text x="44.6" y="681.8" font-size="19.5" fill="#000" text-anchor="start" >D</text>
<text x="170.6" y="695.9" font-size="11.3" fill="#111" text-anchor="start" >Ceramides, sphingosine and S1P in primary human fibroblasts</text>
<line x1="30.3" y1="701.2" x2="30.3" y2="851.5" stroke="#333" stroke-width="1" />
<line x1="29.8" y1="851" x2="681" y2="851" stroke="#333" stroke-width="1" />
<line x1="24.8" y1="701.2" x2="30.3" y2="701.2" stroke="#333" stroke-width="1" />
<text x="23" y="704.4" font-size="9.2" fill="#222" text-anchor="end" >6</text>
<line x1="24.8" y1="731.2" x2="30.3" y2="731.2" stroke="#333" stroke-width="1" />
<text x="23" y="734.4" font-size="9.2" fill="#222" text-anchor="end" >4</text>
<line x1="24.8" y1="761.2" x2="30.3" y2="761.2" stroke="#333" stroke-width="1" />
<text x="23" y="764.4" font-size="9.2" fill="#222" text-anchor="end" >2</text>
<line x1="24.8" y1="791.2" x2="30.3" y2="791.2" stroke="#333" stroke-width="1" />
<text x="23" y="794.4" font-size="9.2" fill="#222" text-anchor="end" >0</text>
<line x1="24.8" y1="821.2" x2="30.3" y2="821.2" stroke="#333" stroke-width="1" />
<text x="23" y="824.4" font-size="9.2" fill="#222" text-anchor="end" >-2</text>
<line x1="24.8" y1="851.2" x2="30.3" y2="851.2" stroke="#333" stroke-width="1" />
<text x="23" y="854.4" font-size="9.2" fill="#222" text-anchor="end" >-4</text>
<text transform="translate(9.3,776.6) rotate(-90)" font-size="10.4" text-anchor="middle" fill="#111">Z-score</text>
<line x1="30.3" y1="791.2" x2="681" y2="791.2" stroke="#111" stroke-width="1.7" stroke-dasharray="1.6,2.87"/>
<path d="M37.2,757L36.8,757.8L36.9,758.6L37.1,759.4L37.2,760.2L37.2,761L37.2,761.8L37.2,762.6L37.2,763.4L37.2,764.2L37.2,765L37.1,765.8L37,766.6L36.8,767.4L36.8,768.2L36.8,769L36.9,769.8L37,770.6L37.2,771.4L37.2,772.2L37.2,773L37.2,773.8L37.2,774.6L37.2,775.4L37.2,776.2L37.2,777L37.2,777.8L37.1,778.6L37,779.4L36.9,780.2L36.8,781L36.8,781.8L36.9,782.6L37,783.4L37.1,784.2L37.2,785L37.2,785.8L37.2,786.6L37.2,787.4L37.2,788.2L37.2,789L37,789.8L36.8,790.6L36.5,791.4L36.2,792.2L36,793L35.7,793.8L35.5,794.6L35.2,795.4L35,796.2L34.7,797L34.5,797.8L34.3,798.6L34.2,799.4L34.2,800.2L34.2,801L34.4,801.8L34.6,802.6L34.8,803.4L35.1,804.2L35.3,805L35.6,805.8L35.9,806.6L36.2,807.4L36.5,808.2L36.8,809L37.1,809.8L37.2,810.6L37.2,811.4L37.2,812.2L37.2,812.9L37.8,812.9L37.8,812.2L37.8,811.4L37.8,810.6L37.9,809.8L38.2,809L38.5,808.2L38.8,807.4L39.1,806.6L39.4,805.8L39.7,805L39.9,804.2L40.2,803.4L40.4,802.6L40.6,801.8L40.8,801L40.8,800.2L40.8,799.4L40.7,798.6L40.5,797.8L40.3,797L40,796.2L39.8,795.4L39.5,794.6L39.3,793.8L39,793L38.8,792.2L38.5,791.4L38.2,790.6L38,789.8L37.8,789L37.8,788.2L37.8,787.4L37.8,786.6L37.8,785.8L37.8,785L37.9,784.2L38,783.4L38.1,782.6L38.2,781.8L38.2,781L38.1,780.2L38,779.4L37.9,778.6L37.8,777.8L37.8,777L37.8,776.2L37.8,775.4L37.8,774.6L37.8,773.8L37.8,773L37.8,772.2L37.8,771.4L38,770.6L38.1,769.8L38.2,769L38.2,768.2L38.2,767.4L38,766.6L37.9,765.8L37.8,765L37.8,764.2L37.8,763.4L37.8,762.6L37.8,761.8L37.8,761L37.8,760.2L37.9,759.4L38.1,758.6L38.2,757.8L37.8,757Z" fill="#d3d3d3" stroke="#3a3a3a" stroke-width="0.6"/>
<line x1="34.23" y1="799.4" x2="40.77" y2="799.4" stroke="#000" stroke-width="2.0" />
<line x1="34.57" y1="802.62" x2="40.43" y2="802.62" stroke="#222" stroke-width="0.8" stroke-dasharray="0.9,0.9"/>
<line x1="36.23" y1="792.42" x2="38.77" y2="792.42" stroke="#222" stroke-width="0.8" stroke-dasharray="0.9,0.9"/>
<path d="M46.5,741.4L45.9,742.2L46,743L46.2,743.8L46.4,744.6L46.5,745.4L46.5,746.2L46.5,747L46.5,747.8L46.4,748.6L46.2,749.4L46,750.2L45.9,751L45.8,751.8L45.9,752.6L46,753.4L46.2,754.2L46.3,755L46.4,755.8L46.4,756.6L46.4,757.4L46.2,758.2L46,759L45.9,759.8L45.8,760.6L45.9,761.4L46,762.2L46.2,763L46.4,763.8L46.5,764.6L46.5,765.4L46.5,766.2L46.5,767L46.5,767.8L46.5,768.6L46.5,769.4L46.5,770.2L46.5,771L46.5,771.8L46.4,772.6L46.2,773.4L46,774.2L45.9,775L45.8,775.8L45.9,776.6L46,777.4L46.2,778.2L46.4,779L46.5,779.8L46.5,780.6L46.5,781.4L46.5,782.2L46.5,783L46.5,783.8L46.4,784.6L46.2,785.4L45.9,786.2L45.7,787L45.5,787.8L45.3,788.6L45.2,789.4L45.1,790.2L45,791L44.8,791.8L44.6,792.6L44.4,793.4L44.3,794.2L44.1,795L43.9,795.8L43.7,796.6L43.6,797.4L43.5,798.2L43.5,799L43.5,799.8L43.6,800.6L43.8,801.4L43.9,802.2L44.1,803L44.3,803.8L44.5,804.6L44.7,805.4L44.8,806.2L45,807L45.2,807.8L45.4,808.6L45.6,809.4L45.9,810.2L46.1,811L46.4,811.8L46.5,812.6L46.5,813.4L46.5,814.2L46.5,815L46.5,815.8L46.5,816.6L46.5,817.1L47,817.1L47.1,816.6L47.1,815.8L47.1,815L47.1,814.2L47.1,813.4L47.1,812.6L47.2,811.8L47.5,811L47.7,810.2L48,809.4L48.2,808.6L48.4,807.8L48.6,807L48.8,806.2L48.9,805.4L49.1,804.6L49.3,803.8L49.5,803L49.7,802.2L49.8,801.4L50,800.6L50.1,799.8L50.1,799L50.1,798.2L50,797.4L49.8,796.6L49.7,795.8L49.5,795L49.3,794.2L49.1,793.4L48.9,792.6L48.8,791.8L48.6,791L48.5,790.2L48.4,789.4L48.3,788.6L48.1,787.8L47.9,787L47.7,786.2L47.4,785.4L47.2,784.6L47.1,783.8L47.1,783L47.1,782.2L47.1,781.4L47.1,780.6L47.1,779.8L47.2,779L47.4,778.2L47.6,777.4L47.7,776.6L47.7,775.8L47.7,775L47.5,774.2L47.3,773.4L47.2,772.6L47.1,771.8L47.1,771L47.1,770.2L47.1,769.4L47.1,768.6L47.1,767.8L47.1,767L47.1,766.2L47.1,765.4L47.1,764.6L47.2,763.8L47.4,763L47.6,762.2L47.7,761.4L47.7,760.6L47.7,759.8L47.5,759L47.4,758.2L47.2,757.4L47.1,756.6L47.1,755.8L47.2,755L47.4,754.2L47.6,753.4L47.7,752.6L47.7,751.8L47.7,751L47.6,750.2L47.4,749.4L47.2,748.6L47.1,747.8L47.1,747L47.1,746.2L47.1,745.4L47.2,744.6L47.4,743.8L47.5,743L47.7,742.2L47,741.4Z" fill="#d3d3d3" stroke="#3a3a3a" stroke-width="0.6"/>
<line x1="43.52" y1="797.9" x2="50.06" y2="797.9" stroke="#000" stroke-width="2.0" />
<line x1="43.62" y1="800.36" x2="49.96" y2="800.36" stroke="#222" stroke-width="0.8" stroke-dasharray="0.9,0.9"/>
<line x1="45.84" y1="775.87" x2="47.74" y2="775.87" stroke="#222" stroke-width="0.8" stroke-dasharray="0.9,0.9"/>
<path d="M55.8,763L55.1,763.8L55.3,764.6L55.4,765.4L55.6,766.2L55.7,767L55.8,767.8L55.7,768.6L55.6,769.4L55.4,770.2L55.2,771L55.1,771.8L55.1,772.6L55.1,773.4L55.3,774.2L55.5,775L55.7,775.8L55.8,776.6L55.8,777.4L55.8,778.2L55.7,779L55.6,779.8L55.4,780.6L55.2,781.4L55,782.2L55,783L55.1,783.8L55.1,784.6L55.2,785.4L55.1,786.2L55,787L54.9,787.8L54.7,788.6L54.6,789.4L54.5,790.2L54.5,791L54.4,791.8L54.2,792.6L54.1,793.4L53.9,794.2L53.7,795L53.6,795.8L53.4,796.6L53.2,797.4L53.1,798.2L52.9,799L52.8,799.8L52.8,800.6L52.8,801.4L52.9,802.2L53,803L53.1,803.8L53.3,804.6L53.5,805.4L53.6,806.2L53.8,807L54,807.8L54.1,808.6L54.3,809.4L54.4,810.2L54.5,811L54.7,811.8L55,812.6L55.3,813.4L55.5,814.2L55.7,815L55.8,815.8L55.8,816.6L55.8,817.4L55.8,818.2L55.8,819L55.8,819.8L55.8,820.6L55.8,820.7L56.3,820.7L56.4,820.6L56.4,819.8L56.4,819L56.4,818.2L56.4,817.4L56.4,816.6L56.4,815.8L56.4,815L56.7,814.2L56.9,813.4L57.2,812.6L57.4,811.8L57.6,811L57.8,810.2L57.9,809.4L58,808.6L58.2,807.8L58.4,807L58.5,806.2L58.7,805.4L58.9,804.6L59,803.8L59.2,803L59.3,802.2L59.4,801.4L59.4,800.6L59.3,799.8L59.2,799L59.1,798.2L58.9,797.4L58.8,796.6L58.6,795.8L58.4,795L58.3,794.2L58.1,793.4L57.9,792.6L57.8,791.8L57.7,791L57.6,790.2L57.6,789.4L57.4,788.6L57.3,787.8L57.2,787L57,786.2L57,785.4L57,784.6L57.1,783.8L57.1,783L57.1,782.2L57,781.4L56.8,780.6L56.6,779.8L56.4,779L56.4,778.2L56.4,777.4L56.4,776.6L56.5,775.8L56.7,775L56.9,774.2L57,773.4L57.1,772.6L57.1,771.8L56.9,771L56.8,770.2L56.6,769.4L56.4,768.6L56.4,767.8L56.4,767L56.5,766.2L56.7,765.4L56.9,764.6L57,763.8L56.3,763Z" fill="#d3d3d3" stroke="#3a3a3a" stroke-width="0.6"/>
<line x1="52.83" y1="799.7" x2="59.33" y2="799.7" stroke="#000" stroke-width="2.0" />
<line x1="53.28" y1="804.71" x2="58.88" y2="804.71" stroke="#222" stroke-width="0.8" stroke-dasharray="0.9,0.9"/>
<line x1="54.72" y1="788.84" x2="57.44" y2="788.84" stroke="#222" stroke-width="0.8" stroke-dasharray="0.9,0.9"/>
<path d="M65.1,755.8L64.5,756.6L64.6,757.4L64.8,758.2L65,759L65.1,759.8L65.1,760.6L65.1,761.4L65.1,762.2L65.1,763L65.1,763.8L65.1,764.6L65.1,765.4L65,766.2L64.8,767L64.6,767.8L64.5,768.6L64.4,769.4L64.5,770.2L64.6,771L64.8,771.8L64.9,772.6L65,773.4L64.9,774.2L64.8,775L64.7,775.8L64.5,776.6L64.4,777.4L64.5,778.2L64.6,779L64.8,779.8L64.9,780.6L65.1,781.4L65.1,782.2L65.1,783L65.1,783.8L65.1,784.6L65.1,785.4L65.1,786.2L65.1,787L65,787.8L64.8,788.6L64.6,789.4L64.3,790.2L64.1,791L63.9,791.8L63.8,792.6L63.7,793.4L63.5,794.2L63.4,795L63.2,795.8L63,796.6L62.8,797.4L62.6,798.2L62.4,799L62.3,799.8L62.1,800.6L62.1,801.4L62.1,802.2L62.1,803L62.2,803.8L62.4,804.6L62.6,805.4L62.8,806.2L62.9,807L63.1,807.8L63.3,808.6L63.5,809.4L63.7,810.2L63.9,811L64.1,811.8L64.4,812.6L64.6,813.4L64.9,814.2L65.1,815L65.1,815.8L65.1,816.6L65.1,817.4L65.1,818.2L65.1,819L65.1,819.5L65.6,819.5L65.7,819L65.7,818.2L65.7,817.4L65.7,816.6L65.7,815.8L65.7,815L65.9,814.2L66.1,813.4L66.4,812.6L66.6,811.8L66.9,811L67.1,810.2L67.2,809.4L67.4,808.6L67.6,807.8L67.8,807L68,806.2L68.2,805.4L68.4,804.6L68.5,803.8L68.6,803L68.7,802.2L68.7,801.4L68.6,800.6L68.5,799.8L68.3,799L68.1,798.2L67.9,797.4L67.7,796.6L67.6,795.8L67.4,795L67.2,794.2L67.1,793.4L67,792.6L66.8,791.8L66.6,791L66.4,790.2L66.2,789.4L65.9,788.6L65.7,787.8L65.7,787L65.7,786.2L65.7,785.4L65.7,784.6L65.7,783.8L65.7,783L65.7,782.2L65.7,781.4L65.8,780.6L66,779.8L66.2,779L66.3,778.2L66.3,777.4L66.2,776.6L66.1,775.8L65.9,775L65.8,774.2L65.8,773.4L65.8,772.6L65.9,771.8L66.1,771L66.2,770.2L66.3,769.4L66.3,768.6L66.1,767.8L66,767L65.8,766.2L65.7,765.4L65.7,764.6L65.7,763.8L65.7,763L65.7,762.2L65.7,761.4L65.7,760.6L65.7,759.8L65.8,759L65.9,758.2L66.1,757.4L66.2,756.6L65.6,755.8Z" fill="#d3d3d3" stroke="#3a3a3a" stroke-width="0.6"/>
<line x1="62.15" y1="800.9" x2="68.59" y2="800.9" stroke="#000" stroke-width="2.0" />
<line x1="62.56" y1="805.33" x2="68.18" y2="805.33" stroke="#222" stroke-width="0.8" stroke-dasharray="0.9,0.9"/>
<line x1="64.1" y1="791.28" x2="66.64" y2="791.28" stroke="#222" stroke-width="0.8" stroke-dasharray="0.9,0.9"/>
<path d="M74.4,769L73.9,769.8L74,770.6L74.1,771.4L74.2,772.2L74.3,773L74.2,773.8L74.1,774.6L74,775.4L73.9,776.2L73.9,777L73.9,777.8L74,778.6L74.2,779.4L74.3,780.2L74.4,781L74.4,781.8L74.4,782.6L74.4,783.4L74.4,784.2L74.4,785L74.4,785.8L74.4,786.6L74.3,787.4L74.1,788.2L73.9,789L73.6,789.8L73.4,790.6L73.1,791.4L72.9,792.2L72.7,793L72.5,793.8L72.3,794.6L72.1,795.4L71.9,796.2L71.7,797L71.5,797.8L71.4,798.6L71.4,799.4L71.4,800.2L71.5,801L71.7,801.8L71.9,802.6L72.1,803.4L72.4,804.2L72.6,805L72.9,805.8L73.1,806.6L73.4,807.4L73.7,808.2L74,809L74.2,809.8L74.4,810.6L74.4,811.4L74.4,812.2L74.4,813L74.4,813.5L74.9,813.5L75,813L75,812.2L75,811.4L75,810.6L75.1,809.8L75.3,809L75.6,808.2L75.9,807.4L76.2,806.6L76.5,805.8L76.7,805L77,804.2L77.2,803.4L77.4,802.6L77.6,801.8L77.8,801L77.9,800.2L78,799.4L77.9,798.6L77.8,797.8L77.7,797L77.5,796.2L77.2,795.4L77,794.6L76.8,793.8L76.6,793L76.4,792.2L76.2,791.4L75.9,790.6L75.7,789.8L75.4,789L75.2,788.2L75,787.4L75,786.6L75,785.8L75,785L75,784.2L75,783.4L75,782.6L75,781.8L75,781L75,780.2L75.1,779.4L75.3,778.6L75.4,777.8L75.4,777L75.4,776.2L75.3,775.4L75.2,774.6L75.1,773.8L75,773L75.1,772.2L75.2,771.4L75.3,770.6L75.4,769.8L74.9,769Z" fill="#d3d3d3" stroke="#3a3a3a" stroke-width="0.6"/>
<line x1="71.39" y1="798.5" x2="77.93" y2="798.5" stroke="#000" stroke-width="2.0" />
<line x1="71.7" y1="802.08" x2="77.62" y2="802.08" stroke="#222" stroke-width="0.8" stroke-dasharray="0.9,0.9"/>
<line x1="73.37" y1="790.74" x2="75.95" y2="790.74" stroke="#222" stroke-width="0.8" stroke-dasharray="0.9,0.9"/>
<path d="M83.7,753.4L83.1,754.2L83.2,755L83.4,755.8L83.6,756.6L83.6,757.4L83.6,758.2L83.6,759L83.6,759.8L83.6,760.6L83.6,761.4L83.4,762.2L83.2,763L83.1,763.8L83,764.6L83,765.4L83.2,766.2L83.3,767L83.5,767.8L83.6,768.6L83.6,769.4L83.6,770.2L83.6,771L83.6,771.8L83.6,772.6L83.6,773.4L83.6,774.2L83.6,775L83.6,775.8L83.6,776.6L83.6,777.4L83.6,778.2L83.6,779L83.4,779.8L83.2,780.6L83.1,781.4L83,782.2L83,783L83.1,783.8L83.3,784.6L83.4,785.4L83.4,786.2L83.4,787L83.3,787.8L83.1,788.6L82.8,789.4L82.6,790.2L82.5,791L82.4,791.8L82.3,792.6L82.1,793.4L82,794.2L81.8,795L81.6,795.8L81.4,796.6L81.2,797.4L81.1,798.2L80.9,799L80.8,799.8L80.7,800.6L80.6,801.4L80.7,802.2L80.8,803L80.9,803.8L81.1,804.6L81.3,805.4L81.5,806.2L81.6,807L81.8,807.8L82,808.6L82.2,809.4L82.3,810.2L82.5,811L82.8,811.8L83,812.6L83.3,813.4L83.5,814.2L83.6,815L83.6,815.8L83.6,816.6L83.6,817.4L83.6,818.2L83.6,819L83.7,819.5L84.2,819.5L84.2,819L84.2,818.2L84.2,817.4L84.2,816.6L84.2,815.8L84.2,815L84.4,814.2L84.6,813.4L84.9,812.6L85.1,811.8L85.4,811L85.6,810.2L85.7,809.4L85.9,808.6L86.1,807.8L86.3,807L86.4,806.2L86.6,805.4L86.8,804.6L87,803.8L87.1,803L87.2,802.2L87.2,801.4L87.2,800.6L87.1,799.8L87,799L86.8,798.2L86.7,797.4L86.5,796.6L86.3,795.8L86.1,795L85.9,794.2L85.8,793.4L85.6,792.6L85.5,791.8L85.4,791L85.3,790.2L85.1,789.4L84.8,788.6L84.6,787.8L84.5,787L84.5,786.2L84.5,785.4L84.6,784.6L84.8,783.8L84.9,783L84.9,782.2L84.8,781.4L84.7,780.6L84.5,779.8L84.3,779L84.2,778.2L84.2,777.4L84.2,776.6L84.2,775.8L84.2,775L84.2,774.2L84.2,773.4L84.2,772.6L84.2,771.8L84.2,771L84.2,770.2L84.2,769.4L84.2,768.6L84.4,767.8L84.6,767L84.7,766.2L84.9,765.4L84.9,764.6L84.8,763.8L84.7,763L84.5,762.2L84.3,761.4L84.2,760.6L84.2,759.8L84.2,759L84.2,758.2L84.2,757.4L84.3,756.6L84.5,755.8L84.7,755L84.8,754.2L84.2,753.4Z" fill="#d3d3d3" stroke="#3a3a3a" stroke-width="0.6"/>
<line x1="80.68" y1="800.3" x2="87.22" y2="800.3" stroke="#000" stroke-width="2.0" />
<line x1="81.08" y1="804.88" x2="86.82" y2="804.88" stroke="#222" stroke-width="0.8" stroke-dasharray="0.9,0.9"/>
<line x1="82.64" y1="790.37" x2="85.26" y2="790.37" stroke="#222" stroke-width="0.8" stroke-dasharray="0.9,0.9"/>
<path d="M93,742.6L92.2,743.4L92.4,744.2L92.6,745L92.8,745.8L92.9,746.6L92.9,747.4L92.9,748.2L92.9,749L92.9,749.8L92.9,750.6L92.9,751.4L92.9,752.2L92.9,753L92.9,753.8L92.9,754.6L92.9,755.4L92.9,756.2L92.9,757L92.7,757.8L92.5,758.6L92.3,759.4L92.2,760.2L92.1,761L92.2,761.8L92.4,762.6L92.6,763.4L92.8,764.2L92.9,765L92.9,765.8L92.8,766.6L92.6,767.4L92.4,768.2L92.2,769L92.1,769.8L92.2,770.6L92.3,771.4L92.5,772.2L92.7,773L92.9,773.8L92.9,774.6L92.9,775.4L92.9,776.2L92.9,777L92.9,777.8L92.9,778.6L92.9,779.4L92.9,780.2L92.6,781L92.4,781.8L92.1,782.6L91.9,783.4L91.8,784.2L91.7,785L91.7,785.8L91.6,786.6L91.5,787.4L91.4,788.2L91.2,789L91.1,789.8L90.9,790.6L90.8,791.4L90.6,792.2L90.5,793L90.3,793.8L90.2,794.6L90,795.4L90,796.2L89.9,797L90,797.8L90,798.6L90.2,799.4L90.3,800.2L90.4,801L90.6,801.8L90.8,802.6L90.9,803.4L91.1,804.2L91.2,805L91.4,805.8L91.5,806.6L91.6,807.4L91.7,808.2L91.8,809L92.1,809.8L92.3,810.6L92.6,811.4L92.8,812.2L92.9,813L92.9,813.8L92.9,814.6L92.9,815.4L92.9,816.2L92.9,817L92.9,817.8L92.9,818.6L93,818.9L93.5,818.9L93.5,818.6L93.5,817.8L93.5,817L93.5,816.2L93.5,815.4L93.5,814.6L93.5,813.8L93.5,813L93.6,812.2L93.9,811.4L94.1,810.6L94.4,809.8L94.6,809L94.8,808.2L94.9,807.4L95,806.6L95.1,805.8L95.2,805L95.4,804.2L95.6,803.4L95.7,802.6L95.9,801.8L96,801L96.2,800.2L96.3,799.4L96.4,798.6L96.5,797.8L96.5,797L96.5,796.2L96.4,795.4L96.3,794.6L96.2,793.8L96,793L95.9,792.2L95.7,791.4L95.6,790.6L95.4,789.8L95.2,789L95.1,788.2L94.9,787.4L94.8,786.6L94.8,785.8L94.7,785L94.7,784.2L94.6,783.4L94.4,782.6L94.1,781.8L93.9,781L93.6,780.2L93.5,779.4L93.5,778.6L93.5,777.8L93.5,777L93.5,776.2L93.5,775.4L93.5,774.6L93.6,773.8L93.8,773L94,772.2L94.2,771.4L94.3,770.6L94.3,769.8L94.2,769L94.1,768.2L93.9,767.4L93.7,766.6L93.6,765.8L93.6,765L93.7,764.2L93.9,763.4L94.1,762.6L94.3,761.8L94.3,761L94.3,760.2L94.2,759.4L94,758.6L93.7,757.8L93.6,757L93.5,756.2L93.5,755.4L93.5,754.6L93.5,753.8L93.5,753L93.5,752.2L93.5,751.4L93.5,750.6L93.5,749.8L93.5,749L93.5,748.2L93.5,747.4L93.5,746.6L93.7,745.8L93.9,745L94.1,744.2L94.3,743.4L93.5,742.6Z" fill="#d3d3d3" stroke="#3a3a3a" stroke-width="0.6"/>
<line x1="89.97" y1="795.8" x2="96.51" y2="795.8" stroke="#000" stroke-width="2.0" />
<line x1="90.45" y1="801.31" x2="96.03" y2="801.31" stroke="#222" stroke-width="0.8" stroke-dasharray="0.9,0.9"/>
<line x1="91.79" y1="783.85" x2="94.69" y2="783.85" stroke="#222" stroke-width="0.8" stroke-dasharray="0.9,0.9"/>
<path d="M102.3,765.4L101.5,766.2L101.6,767L101.8,767.8L101.9,768.6L101.9,769.4L101.9,770.2L101.7,771L101.6,771.8L101.5,772.6L101.5,773.4L101.6,774.2L101.7,775L101.9,775.8L102.2,776.6L102.2,777.4L102.2,778.2L102.2,779L102.2,779.8L102.2,780.6L102.2,781.4L102.2,782.2L102.2,783L102.2,783.8L102,784.6L101.8,785.4L101.5,786.2L101.3,787L101.1,787.8L101,788.6L101,789.4L100.9,790.2L100.8,791L100.7,791.8L100.5,792.6L100.4,793.4L100.2,794.2L100.1,795L99.9,795.8L99.8,796.6L99.6,797.4L99.5,798.2L99.3,799L99.3,799.8L99.2,800.6L99.3,801.4L99.3,802.2L99.5,803L99.6,803.8L99.8,804.6L99.9,805.4L100.1,806.2L100.2,807L100.4,807.8L100.6,808.6L100.7,809.4L100.8,810.2L100.9,811L101,811.8L101.2,812.6L101.5,813.4L101.8,814.2L102,815L102.2,815.8L102.2,816.6L102.2,817.4L102.2,818.2L102.2,819L102.2,819.8L102.2,820.6L102.2,821.4L102.3,821.9L102.8,821.9L102.8,821.4L102.8,820.6L102.8,819.8L102.8,819L102.8,818.2L102.8,817.4L102.8,816.6L102.8,815.8L103,815L103.3,814.2L103.6,813.4L103.8,812.6L104,811.8L104.2,811L104.3,810.2L104.4,809.4L104.5,808.6L104.7,807.8L104.8,807L105,806.2L105.2,805.4L105.3,804.6L105.5,803.8L105.6,803L105.7,802.2L105.8,801.4L105.8,800.6L105.8,799.8L105.7,799L105.6,798.2L105.5,797.4L105.3,796.6L105.1,795.8L105,795L104.8,794.2L104.7,793.4L104.5,792.6L104.4,791.8L104.2,791L104.1,790.2L104.1,789.4L104,788.6L103.9,787.8L103.8,787L103.5,786.2L103.3,785.4L103,784.6L102.8,783.8L102.8,783L102.8,782.2L102.8,781.4L102.8,780.6L102.8,779.8L102.8,779L102.8,778.2L102.8,777.4L102.9,776.6L103.1,775.8L103.3,775L103.5,774.2L103.6,773.4L103.6,772.6L103.5,771.8L103.3,771L103.2,770.2L103.1,769.4L103.2,768.6L103.3,767.8L103.4,767L103.6,766.2L102.8,765.4Z" fill="#d3d3d3" stroke="#3a3a3a" stroke-width="0.6"/>
<line x1="99.26" y1="799.4" x2="105.8" y2="799.4" stroke="#000" stroke-width="2.0" />
<line x1="99.75" y1="804.76" x2="105.31" y2="804.76" stroke="#222" stroke-width="0.8" stroke-dasharray="0.9,0.9"/>
<line x1="101.13" y1="787.76" x2="103.93" y2="787.76" stroke="#222" stroke-width="0.8" stroke-dasharray="0.9,0.9"/>
<path d="M111.6,781.2L111,782L111.2,782.8L111.3,783.6L111.5,784.4L111.5,785.2L111.5,786L111.5,786.8L111.5,787.6L111.5,788.4L111.5,789.2L111.4,790L111.2,790.8L110.9,791.6L110.7,792.4L110.5,793.2L110.3,794L110.1,794.8L109.9,795.6L109.7,796.4L109.5,797.2L109.3,798L109.1,798.8L108.9,799.6L108.7,800.4L108.6,801.2L108.5,802L108.5,802.8L108.6,803.6L108.7,804.4L108.9,805.2L109.1,806L109.3,806.8L109.5,807.6L109.7,808.4L109.9,809.2L110.2,810L110.4,810.8L110.7,811.6L111,812.4L111.2,813.2L111.4,814L111.5,814.8L111.5,815.6L111.5,816.4L111.5,817.2L111.5,818L111.6,818L112.1,818L112.1,818L112.1,817.2L112.1,816.4L112.1,815.6L112.1,814.8L112.2,814L112.4,813.2L112.7,812.4L113,811.6L113.2,810.8L113.5,810L113.7,809.2L113.9,808.4L114.1,807.6L114.4,806.8L114.6,806L114.8,805.2L114.9,804.4L115.1,803.6L115.1,802.8L115.1,802L115,801.2L114.9,800.4L114.7,799.6L114.5,798.8L114.3,798L114.1,797.2L113.9,796.4L113.7,795.6L113.5,794.8L113.4,794L113.2,793.2L112.9,792.4L112.7,791.6L112.5,790.8L112.2,790L112.1,789.2L112.1,788.4L112.1,787.6L112.1,786.8L112.1,786L112.1,785.2L112.2,784.4L112.3,783.6L112.5,782.8L112.6,782L112.1,781.2Z" fill="#d3d3d3" stroke="#3a3a3a" stroke-width="0.6"/>
<line x1="108.53" y1="801.6" x2="115.11" y2="801.6" stroke="#000" stroke-width="2.0" />
<line x1="108.88" y1="805.51" x2="114.76" y2="805.51" stroke="#222" stroke-width="0.8" stroke-dasharray="0.9,0.9"/>
<line x1="109.74" y1="796.51" x2="113.9" y2="796.51" stroke="#222" stroke-width="0.8" stroke-dasharray="0.9,0.9"/>
<path d="M120.9,776.6L120.2,777.4L120.3,778.2L120.5,779L120.7,779.8L120.8,780.6L120.8,781.4L120.8,782.2L120.8,783L120.8,783.8L120.7,784.6L120.5,785.4L120.3,786.2L120,787L119.8,787.8L119.6,788.6L119.4,789.4L119.3,790.2L119.1,791L118.9,791.8L118.8,792.6L118.6,793.4L118.4,794.2L118.2,795L118,795.8L117.9,796.6L117.8,797.4L117.8,798.2L117.8,799L117.9,799.8L118,800.6L118.2,801.4L118.3,802.2L118.5,803L118.7,803.8L118.8,804.6L119,805.4L119.1,806.2L119.3,807L119.4,807.8L119.5,808.6L119.7,809.4L119.8,810.2L120.1,811L120.3,811.8L120.6,812.6L120.8,813.4L120.8,814.2L120.8,815L120.8,815.8L120.8,816.6L120.8,817.4L120.8,818.2L120.8,819L120.9,819.3L121.4,819.3L121.4,819L121.4,818.2L121.4,817.4L121.4,816.6L121.4,815.8L121.4,815L121.4,814.2L121.4,813.4L121.6,812.6L121.9,811.8L122.1,811L122.4,810.2L122.6,809.4L122.7,808.6L122.8,807.8L122.9,807L123.1,806.2L123.2,805.4L123.4,804.6L123.6,803.8L123.7,803L123.9,802.2L124,801.4L124.2,800.6L124.3,799.8L124.4,799L124.4,798.2L124.4,797.4L124.3,796.6L124.2,795.8L124,795L123.8,794.2L123.7,793.4L123.5,792.6L123.3,791.8L123.1,791L123,790.2L122.8,789.4L122.7,788.6L122.5,787.8L122.2,787L122,786.2L121.7,785.4L121.5,784.6L121.4,783.8L121.4,783L121.4,782.2L121.4,781.4L121.4,780.6L121.5,779.8L121.7,779L121.9,778.2L122.1,777.4L121.4,776.6Z" fill="#d3d3d3" stroke="#3a3a3a" stroke-width="0.6"/>
<line x1="117.84" y1="797.7" x2="124.38" y2="797.7" stroke="#000" stroke-width="2.0" />
<line x1="118.5" y1="802.85" x2="123.72" y2="802.85" stroke="#222" stroke-width="0.8" stroke-dasharray="0.9,0.9"/>
<line x1="118.94" y1="791.97" x2="123.28" y2="791.97" stroke="#222" stroke-width="0.8" stroke-dasharray="0.9,0.9"/>
<path d="M130.1,781.2L129.6,782L129.7,782.8L129.8,783.6L129.9,784.4L130,785.2L129.9,786L129.7,786.8L129.5,787.6L129.2,788.4L128.8,789.2L128.5,790L128.2,790.8L127.9,791.6L127.7,792.4L127.5,793.2L127.3,794L127.1,794.8L127.1,795.6L127.1,796.4L127.2,797.2L127.4,798L127.5,798.8L127.7,799.6L127.9,800.4L128.1,801.2L128.2,802L128.3,802.8L128.5,803.6L128.6,804.4L128.7,805.2L128.9,806L128.9,806.8L129,807.6L129.1,808.4L129.2,809.2L129.4,810L129.6,810.8L129.8,811.6L130,812.4L130.1,813.2L130.1,814L130.1,814.8L130.1,815.6L130.1,816.4L130.1,817.2L130.1,818L130.1,818.8L130.1,819.3L130.6,819.3L130.7,818.8L130.7,818L130.7,817.2L130.7,816.4L130.7,815.6L130.7,814.8L130.7,814L130.7,813.2L130.8,812.4L131,811.6L131.2,810.8L131.4,810L131.6,809.2L131.7,808.4L131.8,807.6L131.9,806.8L131.9,806L132.1,805.2L132.2,804.4L132.3,803.6L132.5,802.8L132.6,802L132.7,801.2L132.9,800.4L133.1,799.6L133.3,798.8L133.4,798L133.6,797.2L133.7,796.4L133.7,795.6L133.7,794.8L133.5,794L133.3,793.2L133.1,792.4L132.9,791.6L132.6,790.8L132.3,790L132,789.2L131.6,788.4L131.3,787.6L131.1,786.8L130.9,786L130.8,785.2L130.9,784.4L131,783.6L131.1,782.8L131.2,782L130.6,781.2Z" fill="#d3d3d3" stroke="#3a3a3a" stroke-width="0.6"/>
<line x1="127.13" y1="796.4" x2="133.67" y2="796.4" stroke="#000" stroke-width="2.0" />
<line x1="128.2" y1="801.86" x2="132.6" y2="801.86" stroke="#222" stroke-width="0.8" stroke-dasharray="0.9,0.9"/>
<line x1="127.68" y1="792.28" x2="133.12" y2="792.28" stroke="#222" stroke-width="0.8" stroke-dasharray="0.9,0.9"/>
<path d="M139.4,762.8L139,763.6L139.1,764.4L139.2,765.2L139.4,766L139.4,766.8L139.4,767.6L139.4,768.4L139.4,769.2L139.4,770L139.4,770.8L139.4,771.6L139.4,772.4L139.3,773.2L139.1,774L139,774.8L138.9,775.6L138.9,776.4L139,777.2L139.1,778L139.1,778.8L139.2,779.6L139.1,780.4L139,781.2L139,782L138.9,782.8L138.9,783.6L139,784.4L139.2,785.2L139.3,786L139.4,786.8L139.4,787.6L139.4,788.4L139.4,789.2L139.4,790L139.4,790.8L139.2,791.6L139,792.4L138.8,793.2L138.5,794L138.3,794.8L138.1,795.6L137.9,796.4L137.7,797.2L137.4,798L137.2,798.8L137,799.6L136.8,800.4L136.6,801.2L136.5,802L136.4,802.8L136.4,803.6L136.5,804.4L136.6,805.2L136.8,806L137,806.8L137.3,807.6L137.5,808.4L137.8,809.2L138,810L138.3,810.8L138.6,811.6L138.9,812.4L139.1,813.2L139.3,814L139.4,814.8L139.4,815.6L139.4,816.4L139.4,817.2L139.4,817.4L139.9,817.4L140,817.2L140,816.4L140,815.6L140,814.8L140.1,814L140.3,813.2L140.5,812.4L140.8,811.6L141.1,810.8L141.4,810L141.6,809.2L141.9,808.4L142.1,807.6L142.3,806.8L142.6,806L142.8,805.2L142.9,804.4L143,803.6L143,802.8L142.9,802L142.8,801.2L142.6,800.4L142.4,799.6L142.2,798.8L141.9,798L141.7,797.2L141.5,796.4L141.3,795.6L141.1,794.8L140.9,794L140.6,793.2L140.4,792.4L140.2,791.6L140,790.8L140,790L140,789.2L140,788.4L140,787.6L140,786.8L140.1,786L140.2,785.2L140.4,784.4L140.5,783.6L140.5,782.8L140.4,782L140.3,781.2L140.2,780.4L140.2,779.6L140.2,778.8L140.3,778L140.4,777.2L140.5,776.4L140.5,775.6L140.4,774.8L140.3,774L140.1,773.2L140,772.4L140,771.6L140,770.8L140,770L140,769.2L140,768.4L140,767.6L140,766.8L140,766L140.2,765.2L140.3,764.4L140.4,763.6L139.9,762.8Z" fill="#d3d3d3" stroke="#3a3a3a" stroke-width="0.6"/>
<line x1="136.46" y1="802.3" x2="142.92" y2="802.3" stroke="#000" stroke-width="2.0" />
<line x1="136.82" y1="805.9" x2="142.56" y2="805.9" stroke="#222" stroke-width="0.8" stroke-dasharray="0.9,0.9"/>
<line x1="138.27" y1="794.49" x2="141.11" y2="794.49" stroke="#222" stroke-width="0.8" stroke-dasharray="0.9,0.9"/>
<path d="M148.7,767.4L148,768.2L148.1,769L148.2,769.8L148.3,770.6L148.3,771.4L148.2,772.2L148.1,773L148,773.8L148,774.6L148.1,775.4L148.3,776.2L148.5,777L148.6,777.8L148.7,778.6L148.7,779.4L148.7,780.2L148.7,781L148.7,781.8L148.7,782.6L148.7,783.4L148.7,784.2L148.7,785L148.5,785.8L148.2,786.6L148,787.4L147.8,788.2L147.6,789L147.4,789.8L147.3,790.6L147.2,791.4L147.1,792.2L146.9,793L146.7,793.8L146.5,794.6L146.4,795.4L146.2,796.2L146,797L145.8,797.8L145.7,798.6L145.7,799.4L145.7,800.2L145.8,801L145.9,801.8L146,802.6L146.2,803.4L146.4,804.2L146.6,805L146.8,805.8L146.9,806.6L147.1,807.4L147.3,808.2L147.4,809L147.6,809.8L147.9,810.6L148.2,811.4L148.4,812.2L148.6,813L148.7,813.8L148.7,814.6L148.7,815.4L148.7,816.2L148.7,817L148.7,817.8L148.7,818L149.2,818L149.3,817.8L149.3,817L149.3,816.2L149.3,815.4L149.3,814.6L149.3,813.8L149.3,813L149.5,812.2L149.8,811.4L150.1,810.6L150.3,809.8L150.5,809L150.7,808.2L150.9,807.4L151,806.6L151.2,805.8L151.4,805L151.6,804.2L151.8,803.4L151.9,802.6L152.1,801.8L152.2,801L152.3,800.2L152.3,799.4L152.2,798.6L152.1,797.8L152,797L151.8,796.2L151.6,795.4L151.4,794.6L151.2,793.8L151.1,793L150.9,792.2L150.7,791.4L150.6,790.6L150.5,789.8L150.4,789L150.2,788.2L150,787.4L149.7,786.6L149.5,785.8L149.3,785L149.3,784.2L149.3,783.4L149.3,782.6L149.3,781.8L149.3,781L149.3,780.2L149.3,779.4L149.3,778.6L149.3,777.8L149.5,777L149.7,776.2L149.8,775.4L149.9,774.6L149.9,773.8L149.9,773L149.7,772.2L149.7,771.4L149.7,770.6L149.7,769.8L149.8,769L149.9,768.2L149.2,767.4Z" fill="#d3d3d3" stroke="#3a3a3a" stroke-width="0.6"/>
<line x1="145.74" y1="798.7" x2="152.22" y2="798.7" stroke="#000" stroke-width="2.0" />
<line x1="146.19" y1="803.3" x2="151.77" y2="803.3" stroke="#222" stroke-width="0.8" stroke-dasharray="0.9,0.9"/>
<line x1="147.58" y1="788.72" x2="150.38" y2="788.72" stroke="#222" stroke-width="0.8" stroke-dasharray="0.9,0.9"/>
<path d="M158,747.7L157.2,748.5L157.4,749.3L157.6,750.1L157.8,750.9L158,751.7L158,752.5L158,753.3L158,754.1L158,754.9L158,755.7L157.8,756.5L157.6,757.3L157.4,758.1L157.2,758.9L157.1,759.7L157.2,760.5L157.3,761.3L157.5,762.1L157.8,762.9L158,763.7L158,764.5L158,765.3L158,766.1L158,766.9L158,767.7L158,768.5L157.8,769.3L157.6,770.1L157.4,770.9L157.2,771.7L157.1,772.5L157.2,773.3L157.4,774.1L157.6,774.9L157.8,775.7L158,776.5L158,777.3L158,778.1L158,778.9L158,779.7L158,780.5L157.8,781.3L157.6,782.1L157.3,782.9L157.1,783.7L156.9,784.5L156.8,785.3L156.8,786.1L156.7,786.9L156.7,787.7L156.6,788.5L156.4,789.3L156.3,790.1L156.1,790.9L156,791.7L155.8,792.5L155.7,793.3L155.5,794.1L155.4,794.9L155.2,795.7L155.1,796.5L155,797.3L155,798.1L155,798.9L155.1,799.7L155.2,800.5L155.3,801.3L155.4,802.1L155.6,802.9L155.7,803.7L155.9,804.5L156.1,805.3L156.2,806.1L156.4,806.9L156.5,807.7L156.6,808.5L156.6,809.3L156.8,810.1L157,810.9L157.2,811.7L157.5,812.5L157.7,813.3L158,814.1L158,814.9L158,815.7L158,816.5L158,817.3L158,818.1L158,818.9L158,819.7L158,820.5L158,820.7L158.5,820.7L158.6,820.5L158.6,819.7L158.6,818.9L158.6,818.1L158.6,817.3L158.6,816.5L158.6,815.7L158.6,814.9L158.6,814.1L158.8,813.3L159.1,812.5L159.3,811.7L159.6,810.9L159.8,810.1L159.9,809.3L160,808.5L160.1,807.7L160.2,806.9L160.3,806.1L160.5,805.3L160.6,804.5L160.8,803.7L161,802.9L161.1,802.1L161.2,801.3L161.4,800.5L161.5,799.7L161.6,798.9L161.6,798.1L161.5,797.3L161.4,796.5L161.3,795.7L161.2,794.9L161,794.1L160.9,793.3L160.7,792.5L160.6,791.7L160.4,790.9L160.3,790.1L160.1,789.3L160,788.5L159.9,787.7L159.8,786.9L159.8,786.1L159.7,785.3L159.6,784.5L159.5,783.7L159.2,782.9L159,782.1L158.7,781.3L158.6,780.5L158.6,779.7L158.6,778.9L158.6,778.1L158.6,777.3L158.6,776.5L158.7,775.7L158.9,774.9L159.2,774.1L159.3,773.3L159.4,772.5L159.3,771.7L159.2,770.9L159,770.1L158.7,769.3L158.6,768.5L158.6,767.7L158.6,766.9L158.6,766.1L158.6,765.3L158.6,764.5L158.6,763.7L158.8,762.9L159,762.1L159.2,761.3L159.4,760.5L159.4,759.7L159.3,758.9L159.1,758.1L158.9,757.3L158.7,756.5L158.6,755.7L158.6,754.9L158.6,754.1L158.6,753.3L158.6,752.5L158.6,751.7L158.7,750.9L159,750.1L159.2,749.3L159.3,748.5L158.5,747.7Z" fill="#d3d3d3" stroke="#3a3a3a" stroke-width="0.6"/>
<line x1="155.01" y1="797" x2="161.53" y2="797" stroke="#000" stroke-width="2.0" />
<line x1="155.59" y1="802.65" x2="160.95" y2="802.65" stroke="#222" stroke-width="0.8" stroke-dasharray="0.9,0.9"/>
<line x1="156.89" y1="784.74" x2="159.65" y2="784.74" stroke="#222" stroke-width="0.8" stroke-dasharray="0.9,0.9"/>
<path d="M167.3,759.6L166.7,760.4L166.8,761.2L167,762L167.2,762.8L167.3,763.6L167.3,764.4L167.3,765.2L167.3,766L167.3,766.8L167.3,767.6L167.3,768.4L167.3,769.2L167.2,770L167,770.8L166.8,771.6L166.7,772.4L166.7,773.2L166.7,774L166.9,774.8L167.1,775.6L167.2,776.4L167.3,777.2L167.3,778L167.3,778.8L167.3,779.6L167.3,780.4L167.3,781.2L167.3,782L167.3,782.8L167.1,783.6L167,784.4L166.8,785.2L166.7,786L166.7,786.8L166.7,787.6L166.8,788.4L166.9,789.2L166.9,790L166.9,790.8L166.7,791.6L166.5,792.4L166.3,793.2L166.2,794L166,794.8L165.9,795.6L165.7,796.4L165.5,797.2L165.4,798L165.2,798.8L165,799.6L164.8,800.4L164.6,801.2L164.4,802L164.3,802.8L164.3,803.6L164.3,804.4L164.3,805.2L164.5,806L164.6,806.8L164.8,807.6L165,808.4L165.2,809.2L165.4,810L165.6,810.8L165.8,811.6L166,812.4L166.3,813.2L166.5,814L166.8,814.8L167,815.6L167.2,816.4L167.3,817.2L167.3,818L167.3,818.8L167.3,819.6L167.3,820.4L167.3,820.7L167.8,820.7L167.9,820.4L167.9,819.6L167.9,818.8L167.9,818L167.9,817.2L167.9,816.4L168.1,815.6L168.3,814.8L168.6,814L168.9,813.2L169.1,812.4L169.3,811.6L169.5,810.8L169.7,810L169.9,809.2L170.1,808.4L170.3,807.6L170.5,806.8L170.6,806L170.8,805.2L170.8,804.4L170.9,803.6L170.8,802.8L170.7,802L170.5,801.2L170.4,800.4L170.2,799.6L170,798.8L169.8,798L169.6,797.2L169.4,796.4L169.3,795.6L169.1,794.8L169,794L168.8,793.2L168.6,792.4L168.4,791.6L168.3,790.8L168.2,790L168.2,789.2L168.3,788.4L168.4,787.6L168.5,786.8L168.4,786L168.3,785.2L168.1,784.4L168,783.6L167.9,782.8L167.9,782L167.9,781.2L167.9,780.4L167.9,779.6L167.9,778.8L167.9,778L167.9,777.2L167.9,776.4L168.1,775.6L168.2,774.8L168.4,774L168.4,773.2L168.4,772.4L168.3,771.6L168.1,770.8L168,770L167.9,769.2L167.9,768.4L167.9,767.6L167.9,766.8L167.9,766L167.9,765.2L167.9,764.4L167.9,763.6L167.9,762.8L168.1,762L168.3,761.2L168.4,760.4L167.8,759.6Z" fill="#d3d3d3" stroke="#3a3a3a" stroke-width="0.6"/>
<line x1="164.31" y1="802.9" x2="170.81" y2="802.9" stroke="#000" stroke-width="2.0" />
<line x1="164.64" y1="807.14" x2="170.48" y2="807.14" stroke="#222" stroke-width="0.8" stroke-dasharray="0.9,0.9"/>
<line x1="166.15" y1="793.69" x2="168.97" y2="793.69" stroke="#222" stroke-width="0.8" stroke-dasharray="0.9,0.9"/>
<path d="M176.6,742.5L175.5,743.3L175.7,744.1L176,744.9L176.2,745.7L176.4,746.5L176.5,747.3L176.5,748.1L176.3,748.9L176.1,749.7L175.8,750.5L175.6,751.3L175.4,752.1L175.5,752.9L175.6,753.7L175.9,754.5L176.2,755.3L176.4,756.1L176.5,756.9L176.5,757.7L176.5,758.5L176.5,759.3L176.5,760.1L176.5,760.9L176.5,761.7L176.4,762.5L176.1,763.3L175.8,764.1L175.6,764.9L175.4,765.7L175.4,766.5L175.5,767.3L175.5,768.1L175.6,768.9L175.5,769.7L175.4,770.5L175.3,771.3L175.2,772.1L175.2,772.9L175.3,773.7L175.5,774.5L175.5,775.3L175.5,776.1L175.3,776.9L175.1,777.7L175,778.5L174.8,779.3L174.7,780.1L174.7,780.9L174.6,781.7L174.5,782.5L174.4,783.3L174.2,784.1L174.1,784.9L174,785.7L173.9,786.5L173.7,787.3L173.6,788.1L173.6,788.9L173.5,789.7L173.6,790.5L173.6,791.3L173.7,792.1L173.9,792.9L174,793.7L174.1,794.5L174.2,795.3L174.3,796.1L174.4,796.9L174.5,797.7L174.6,798.5L174.8,799.3L174.9,800.1L175.1,800.9L175.2,801.7L175.3,802.5L175.2,803.3L175.2,804.1L175.2,804.9L175.3,805.7L175.5,806.5L175.8,807.3L176.2,808.1L176.4,808.9L176.5,809.7L176.5,810.5L176.5,811.3L176.5,812.1L176.5,812.9L176.5,813.7L176.5,814.5L176.5,815.3L176.5,816.1L176.5,816.9L176.5,817.7L176.5,818.5L176.6,818.7L177.1,818.7L177.2,818.5L177.2,817.7L177.2,816.9L177.2,816.1L177.2,815.3L177.2,814.5L177.2,813.7L177.2,812.9L177.2,812.1L177.2,811.3L177.2,810.5L177.2,809.7L177.3,808.9L177.5,808.1L177.9,807.3L178.2,806.5L178.4,805.7L178.5,804.9L178.5,804.1L178.5,803.3L178.4,802.5L178.5,801.7L178.6,800.9L178.8,800.1L178.9,799.3L179.1,798.5L179.2,797.7L179.3,796.9L179.4,796.1L179.5,795.3L179.6,794.5L179.7,793.7L179.8,792.9L180,792.1L180.1,791.3L180.1,790.5L180.2,789.7L180.1,788.9L180.1,788.1L180,787.3L179.8,786.5L179.7,785.7L179.6,784.9L179.5,784.1L179.3,783.3L179.2,782.5L179.1,781.7L179,780.9L179,780.1L178.9,779.3L178.7,778.5L178.6,777.7L178.4,776.9L178.2,776.1L178.2,775.3L178.2,774.5L178.4,773.7L178.5,772.9L178.5,772.1L178.4,771.3L178.3,770.5L178.2,769.7L178.1,768.9L178.2,768.1L178.2,767.3L178.3,766.5L178.3,765.7L178.1,764.9L177.9,764.1L177.6,763.3L177.3,762.5L177.2,761.7L177.2,760.9L177.2,760.1L177.2,759.3L177.2,758.5L177.2,757.7L177.2,756.9L177.3,756.1L177.5,755.3L177.8,754.5L178.1,753.7L178.2,752.9L178.3,752.1L178.1,751.3L177.9,750.5L177.6,749.7L177.4,748.9L177.2,748.1L177.2,747.3L177.3,746.5L177.5,745.7L177.7,744.9L178,744.1L178.2,743.3L177.1,742.5Z" fill="#d3d3d3" stroke="#3a3a3a" stroke-width="0.6"/>
<line x1="173.64" y1="788.1" x2="180.06" y2="788.1" stroke="#000" stroke-width="2.0" />
<line x1="174.22" y1="795.4" x2="179.48" y2="795.4" stroke="#222" stroke-width="0.8" stroke-dasharray="0.9,0.9"/>
<line x1="175.2" y1="772.27" x2="178.5" y2="772.27" stroke="#222" stroke-width="0.8" stroke-dasharray="0.9,0.9"/>
<path d="M185.9,753.6L185,754.4L185.2,755.2L185.4,756L185.6,756.8L185.8,757.6L185.8,758.4L185.8,759.2L185.8,760L185.7,760.8L185.4,761.6L185.2,762.4L185,763.2L184.9,764L185,764.8L185.2,765.6L185.4,766.4L185.6,767.2L185.8,768L185.8,768.8L185.8,769.6L185.8,770.4L185.8,771.2L185.6,772L185.3,772.8L185.1,773.6L185,774.4L184.9,775.2L184.9,776L185,776.8L185,777.6L185,778.4L184.9,779.2L184.8,780L184.7,780.8L184.6,781.6L184.6,782.4L184.6,783.2L184.6,784L184.5,784.8L184.4,785.6L184.2,786.4L184.1,787.2L183.9,788L183.8,788.8L183.7,789.6L183.5,790.4L183.4,791.2L183.2,792L183.1,792.8L183,793.6L182.9,794.4L182.8,795.2L182.9,796L182.9,796.8L183,797.6L183.1,798.4L183.3,799.2L183.4,800L183.6,800.8L183.7,801.6L183.8,802.4L184,803.2L184.2,804L184.3,804.8L184.4,805.6L184.5,806.4L184.5,807.2L184.6,808L184.8,808.8L185,809.6L185.3,810.4L185.6,811.2L185.8,812L185.8,812.8L185.8,813.6L185.8,814.4L185.8,815.2L185.8,816L185.8,816.8L185.8,817.6L185.8,818.4L185.8,819.2L185.9,819.3L186.4,819.3L186.4,819.2L186.4,818.4L186.4,817.6L186.4,816.8L186.4,816L186.4,815.2L186.4,814.4L186.4,813.6L186.4,812.8L186.5,812L186.7,811.2L187,810.4L187.3,809.6L187.5,808.8L187.7,808L187.8,807.2L187.8,806.4L187.9,805.6L188,804.8L188.1,804L188.3,803.2L188.4,802.4L188.6,801.6L188.7,800.8L188.9,800L189,799.2L189.1,798.4L189.3,797.6L189.4,796.8L189.4,796L189.4,795.2L189.4,794.4L189.3,793.6L189.2,792.8L189,792L188.9,791.2L188.8,790.4L188.6,789.6L188.5,788.8L188.4,788L188.2,787.2L188.1,786.4L187.9,785.6L187.8,784.8L187.7,784L187.6,783.2L187.7,782.4L187.7,781.6L187.6,780.8L187.5,780L187.4,779.2L187.3,778.4L187.3,777.6L187.3,776.8L187.4,776L187.4,775.2L187.3,774.4L187.2,773.6L186.9,772.8L186.7,772L186.5,771.2L186.4,770.4L186.4,769.6L186.4,768.8L186.5,768L186.7,767.2L186.9,766.4L187.1,765.6L187.3,764.8L187.3,764L187.3,763.2L187.1,762.4L186.8,761.6L186.6,760.8L186.5,760L186.4,759.2L186.4,758.4L186.5,757.6L186.6,756.8L186.9,756L187.1,755.2L187.3,754.4L186.4,753.6Z" fill="#d3d3d3" stroke="#3a3a3a" stroke-width="0.6"/>
<line x1="182.88" y1="794.1" x2="189.4" y2="794.1" stroke="#000" stroke-width="2.0" />
<line x1="183.42" y1="800.11" x2="188.86" y2="800.11" stroke="#222" stroke-width="0.8" stroke-dasharray="0.9,0.9"/>
<line x1="184.66" y1="781.07" x2="187.62" y2="781.07" stroke="#222" stroke-width="0.8" stroke-dasharray="0.9,0.9"/>
<path d="M199.8,743.3L199.7,744.1L199.7,744.9L199.8,745.7L199.8,746.5L199.8,747.3L199.8,748.1L199.8,748.9L199.8,749.7L199.8,750.5L199.8,751.3L199.8,752.1L199.8,752.9L199.7,753.7L199.6,754.5L199.6,755.3L199.6,756.1L199.6,756.9L199.6,757.7L199.6,758.5L199.6,759.3L199.6,760.1L199.6,760.9L199.6,761.7L199.6,762.5L199.7,763.3L199.7,764.1L199.8,764.9L199.8,765.7L199.8,766.5L199.8,767.3L199.8,768.1L199.8,768.9L199.8,769.7L199.8,770.5L199.8,771.3L199.7,772.1L199.7,772.9L199.6,773.7L199.6,774.5L199.7,775.3L199.7,776.1L199.8,776.9L199.8,777.7L199.8,778.5L199.8,779.3L199.8,780.1L199.8,780.9L199.8,781.7L199.8,782.5L199.8,783.3L199.8,784.1L199.8,784.9L199.8,785.7L199.8,786.5L199.7,787.3L199.5,788.1L199.3,788.9L199.1,789.7L198.9,790.5L198.7,791.3L198.5,792.1L198.3,792.9L198.2,793.7L198,794.5L197.9,795.3L197.7,796.1L197.5,796.9L197.3,797.7L197.2,798.5L197,799.3L196.9,800.1L196.8,800.9L196.7,801.7L196.7,802.5L196.7,803.3L196.8,804.1L196.9,804.9L197,805.7L197.2,806.5L197.3,807.3L197.5,808.1L197.6,808.9L197.8,809.7L197.9,810.5L198.1,811.3L198.2,812.1L198.4,812.9L198.5,813.7L198.7,814.5L198.9,815.3L199.1,816.1L199.3,816.9L199.5,817.7L199.7,818.5L199.8,819.3L199.8,820.1L199.8,820.9L199.8,821.7L199.8,822.5L199.8,823.3L199.8,824.1L199.8,824.7L200.3,824.7L200.4,824.1L200.4,823.3L200.4,822.5L200.4,821.7L200.4,820.9L200.4,820.1L200.4,819.3L200.5,818.5L200.7,817.7L200.9,816.9L201.1,816.1L201.3,815.3L201.5,814.5L201.7,813.7L201.8,812.9L202,812.1L202.1,811.3L202.3,810.5L202.4,809.7L202.6,808.9L202.7,808.1L202.9,807.3L203,806.5L203.2,805.7L203.3,804.9L203.4,804.1L203.5,803.3L203.5,802.5L203.5,801.7L203.4,800.9L203.3,800.1L203.2,799.3L203,798.5L202.9,797.7L202.7,796.9L202.5,796.1L202.3,795.3L202.2,794.5L202,793.7L201.9,792.9L201.7,792.1L201.5,791.3L201.3,790.5L201.1,789.7L200.9,788.9L200.7,788.1L200.5,787.3L200.4,786.5L200.4,785.7L200.4,784.9L200.4,784.1L200.4,783.3L200.4,782.5L200.4,781.7L200.4,780.9L200.4,780.1L200.4,779.3L200.4,778.5L200.4,777.7L200.4,776.9L200.5,776.1L200.5,775.3L200.6,774.5L200.6,773.7L200.5,772.9L200.5,772.1L200.4,771.3L200.4,770.5L200.4,769.7L200.4,768.9L200.4,768.1L200.4,767.3L200.4,766.5L200.4,765.7L200.4,764.9L200.5,764.1L200.5,763.3L200.6,762.5L200.6,761.7L200.6,760.9L200.6,760.1L200.6,759.3L200.6,758.5L200.6,757.7L200.6,756.9L200.6,756.1L200.6,755.3L200.6,754.5L200.5,753.7L200.4,752.9L200.4,752.1L200.4,751.3L200.4,750.5L200.4,749.7L200.4,748.9L200.4,748.1L200.4,747.3L200.4,746.5L200.4,745.7L200.5,744.9L200.5,744.1L200.3,743.3Z" fill="#f8dfe1" stroke="#ec8f8d" stroke-width="0.6"/>
<line x1="196.72" y1="801.8" x2="203.48" y2="801.8" stroke="#a61c1c" stroke-width="2.0" />
<line x1="196.89" y1="804.74" x2="203.31" y2="804.74" stroke="#c23a3a" stroke-width="0.8" stroke-dasharray="0.9,0.9"/>
<line x1="199.64" y1="774.02" x2="200.56" y2="774.02" stroke="#c23a3a" stroke-width="0.8" stroke-dasharray="0.9,0.9"/>
<path d="M209.1,746.2L209,747L209.1,747.8L209.1,748.6L209.1,749.4L209.1,750.2L209.1,751L209.1,751.8L209.1,752.6L209.1,753.4L209.1,754.2L209,755L209,755.8L209,756.6L209,757.4L209.1,758.2L209.1,759L209.1,759.8L209.1,760.6L209.1,761.4L209.1,762.2L209.1,763L209.1,763.8L209.1,764.6L209,765.4L209,766.2L209,767L209.1,767.8L209.1,768.6L209.1,769.4L209.1,770.2L209.1,771L209.1,771.8L209.1,772.6L209.1,773.4L209.1,774.2L209.1,775L209.1,775.8L209,776.6L209,777.4L209,778.2L209,779L209.1,779.8L209.1,780.6L209.1,781.4L209.1,782.2L209.1,783L209.1,783.8L209.1,784.6L209.1,785.4L209.1,786.2L209.1,787L209,787.8L208.9,788.6L208.7,789.4L208.5,790.2L208.2,791L208,791.8L207.7,792.6L207.5,793.4L207.3,794.2L207,795L206.8,795.8L206.6,796.6L206.4,797.4L206.3,798.2L206.1,799L206,799.8L206,800.6L206,801.4L206.1,802.2L206.2,803L206.3,803.8L206.5,804.6L206.7,805.4L206.9,806.2L207.1,807L207.3,807.8L207.5,808.6L207.7,809.4L207.9,810.2L208.2,811L208.4,811.8L208.6,812.6L208.8,813.4L209,814.2L209.1,815L209.1,815.8L209.1,816.6L209.1,817.4L209.1,818.2L209.1,818.4L209.6,818.4L209.7,818.2L209.7,817.4L209.7,816.6L209.7,815.8L209.7,815L209.8,814.2L209.9,813.4L210.2,812.6L210.4,811.8L210.6,811L210.9,810.2L211.1,809.4L211.3,808.6L211.5,807.8L211.7,807L211.9,806.2L212.1,805.4L212.3,804.6L212.4,803.8L212.6,803L212.7,802.2L212.8,801.4L212.8,800.6L212.8,799.8L212.7,799L212.5,798.2L212.4,797.4L212.2,796.6L211.9,795.8L211.7,795L211.5,794.2L211.3,793.4L211.1,792.6L210.8,791.8L210.6,791L210.3,790.2L210.1,789.4L209.9,788.6L209.7,787.8L209.7,787L209.7,786.2L209.7,785.4L209.7,784.6L209.7,783.8L209.7,783L209.7,782.2L209.7,781.4L209.7,780.6L209.7,779.8L209.7,779L209.8,778.2L209.8,777.4L209.7,776.6L209.7,775.8L209.7,775L209.7,774.2L209.7,773.4L209.7,772.6L209.7,771.8L209.7,771L209.7,770.2L209.7,769.4L209.7,768.6L209.7,767.8L209.8,767L209.8,766.2L209.8,765.4L209.7,764.6L209.7,763.8L209.7,763L209.7,762.2L209.7,761.4L209.7,760.6L209.7,759.8L209.7,759L209.7,758.2L209.7,757.4L209.8,756.6L209.8,755.8L209.8,755L209.7,754.2L209.7,753.4L209.7,752.6L209.7,751.8L209.7,751L209.7,750.2L209.7,749.4L209.7,748.6L209.7,747.8L209.8,747L209.6,746.2Z" fill="#f8dfe1" stroke="#ec8f8d" stroke-width="0.6"/>
<line x1="205.99" y1="800.2" x2="212.79" y2="800.2" stroke="#a61c1c" stroke-width="2.0" />
<line x1="206.07" y1="802.53" x2="212.71" y2="802.53" stroke="#c23a3a" stroke-width="0.8" stroke-dasharray="0.9,0.9"/>
<line x1="209.01" y1="777.9" x2="209.77" y2="777.9" stroke="#c23a3a" stroke-width="0.8" stroke-dasharray="0.9,0.9"/>
<path d="M218.4,760.8L218.3,761.6L218.3,762.4L218.4,763.2L218.4,764L218.4,764.8L218.4,765.6L218.4,766.4L218.4,767.2L218.4,768L218.4,768.8L218.4,769.6L218.4,770.4L218.3,771.2L218.3,772L218.3,772.8L218.3,773.6L218.3,774.4L218.4,775.2L218.4,776L218.4,776.8L218.4,777.6L218.4,778.4L218.4,779.2L218.4,780L218.4,780.8L218.4,781.6L218.3,782.4L218.3,783.2L218.3,784L218.3,784.8L218.3,785.6L218.4,786.4L218.4,787.2L218.4,788L218.4,788.8L218.4,789.6L218.4,790.4L218.4,791.2L218.4,792L218.4,792.8L218.2,793.6L218,794.4L217.8,795.2L217.5,796L217.3,796.8L217.1,797.6L216.8,798.4L216.6,799.2L216.4,800L216.2,800.8L216,801.6L215.8,802.4L215.6,803.2L215.5,804L215.4,804.8L215.3,805.6L215.3,806.4L215.3,807.2L215.4,808L215.5,808.8L215.7,809.6L215.8,810.4L216,811.2L216.2,812L216.4,812.8L216.6,813.6L216.8,814.4L217,815.2L217.2,816L217.4,816.8L217.6,817.6L217.9,818.4L218.1,819.2L218.3,820L218.4,820.8L218.4,821.6L218.4,822.4L218.4,823.2L218.4,824L218.4,824.7L218.9,824.7L219,824L219,823.2L219,822.4L219,821.6L219,820.8L219.1,820L219.3,819.2L219.5,818.4L219.7,817.6L220,816.8L220.2,816L220.4,815.2L220.6,814.4L220.8,813.6L221,812.8L221.1,812L221.3,811.2L221.5,810.4L221.7,809.6L221.8,808.8L222,808L222,807.2L222.1,806.4L222.1,805.6L222,804.8L221.9,804L221.7,803.2L221.5,802.4L221.3,801.6L221.1,800.8L220.9,800L220.7,799.2L220.5,798.4L220.3,797.6L220.1,796.8L219.8,796L219.6,795.2L219.4,794.4L219.2,793.6L219,792.8L219,792L219,791.2L219,790.4L219,789.6L219,788.8L219,788L219,787.2L219,786.4L219,785.6L219.1,784.8L219.1,784L219.1,783.2L219,782.4L219,781.6L219,780.8L219,780L219,779.2L219,778.4L219,777.6L219,776.8L219,776L219,775.2L219,774.4L219.1,773.6L219.1,772.8L219.1,772L219,771.2L219,770.4L219,769.6L219,768.8L219,768L219,767.2L219,766.4L219,765.6L219,764.8L219,764L219,763.2L219,762.4L219.1,761.6L218.9,760.8Z" fill="#f8dfe1" stroke="#ec8f8d" stroke-width="0.6"/>
<line x1="215.3" y1="805.7" x2="222.06" y2="805.7" stroke="#a61c1c" stroke-width="2.0" />
<line x1="215.84" y1="810.23" x2="221.52" y2="810.23" stroke="#c23a3a" stroke-width="0.8" stroke-dasharray="0.9,0.9"/>
<line x1="217.3" y1="797.1" x2="220.06" y2="797.1" stroke="#c23a3a" stroke-width="0.8" stroke-dasharray="0.9,0.9"/>
<path d="M227.7,746.2L227.4,747L227.5,747.8L227.5,748.6L227.5,749.4L227.6,750.2L227.5,751L227.5,751.8L227.5,752.6L227.4,753.4L227.4,754.2L227.4,755L227.5,755.8L227.5,756.6L227.6,757.4L227.6,758.2L227.6,759L227.5,759.8L227.5,760.6L227.4,761.4L227.4,762.2L227.5,763L227.5,763.8L227.6,764.6L227.7,765.4L227.7,766.2L227.7,767L227.7,767.8L227.7,768.6L227.7,769.4L227.7,770.2L227.7,771L227.7,771.8L227.7,772.6L227.7,773.4L227.7,774.2L227.7,775L227.7,775.8L227.7,776.6L227.7,777.4L227.6,778.2L227.5,779L227.5,779.8L227.4,780.6L227.5,781.4L227.5,782.2L227.6,783L227.7,783.8L227.7,784.6L227.7,785.4L227.7,786.2L227.7,787L227.7,787.8L227.5,788.6L227.4,789.4L227.1,790.2L226.9,791L226.7,791.8L226.5,792.6L226.4,793.4L226.3,794.2L226.2,795L226,795.8L225.9,796.6L225.8,797.4L225.6,798.2L225.5,799L225.3,799.8L225.2,800.6L225,801.4L224.9,802.2L224.8,803L224.7,803.8L224.6,804.6L224.6,805.4L224.6,806.2L224.6,807L224.7,807.8L224.8,808.6L224.9,809.4L225.1,810.2L225.2,811L225.3,811.8L225.5,812.6L225.6,813.4L225.8,814.2L225.9,815L226,815.8L226.1,816.6L226.2,817.4L226.3,818.2L226.4,819L226.6,819.8L226.8,820.6L227,821.4L227.2,822.2L227.4,823L227.6,823.8L227.7,824.6L227.7,825.4L227.7,826.2L227.7,827L227.7,827.8L227.7,828.6L227.7,829.4L227.7,830.2L227.7,831L227.7,831.3L228.2,831.3L228.3,831L228.3,830.2L228.3,829.4L228.3,828.6L228.3,827.8L228.3,827L228.3,826.2L228.3,825.4L228.3,824.6L228.4,823.8L228.5,823L228.7,822.2L229,821.4L229.2,820.6L229.4,819.8L229.5,819L229.6,818.2L229.7,817.4L229.8,816.6L229.9,815.8L230,815L230.2,814.2L230.3,813.4L230.5,812.6L230.6,811.8L230.7,811L230.9,810.2L231,809.4L231.1,808.6L231.2,807.8L231.3,807L231.4,806.2L231.4,805.4L231.3,804.6L231.3,803.8L231.2,803L231.1,802.2L230.9,801.4L230.8,800.6L230.6,799.8L230.5,799L230.3,798.2L230.2,797.4L230,796.6L229.9,795.8L229.8,795L229.7,794.2L229.6,793.4L229.4,792.6L229.2,791.8L229,791L228.8,790.2L228.6,789.4L228.4,788.6L228.3,787.8L228.3,787L228.3,786.2L228.3,785.4L228.3,784.6L228.3,783.8L228.3,783L228.4,782.2L228.5,781.4L228.5,780.6L228.5,779.8L228.4,779L228.3,778.2L228.3,777.4L228.3,776.6L228.3,775.8L228.3,775L228.3,774.2L228.3,773.4L228.3,772.6L228.3,771.8L228.3,771L228.3,770.2L228.3,769.4L228.3,768.6L228.3,767.8L228.3,767L228.3,766.2L228.3,765.4L228.3,764.6L228.4,763.8L228.5,763L228.5,762.2L228.5,761.4L228.5,760.6L228.4,759.8L228.4,759L228.4,758.2L228.4,757.4L228.4,756.6L228.5,755.8L228.5,755L228.5,754.2L228.5,753.4L228.5,752.6L228.4,751.8L228.4,751L228.4,750.2L228.4,749.4L228.4,748.6L228.5,747.8L228.5,747L228.2,746.2Z" fill="#f8dfe1" stroke="#ec8f8d" stroke-width="0.6"/>
<line x1="224.6" y1="804.8" x2="231.34" y2="804.8" stroke="#a61c1c" stroke-width="2.0" />
<line x1="224.72" y1="808.2" x2="231.22" y2="808.2" stroke="#c23a3a" stroke-width="0.8" stroke-dasharray="0.9,0.9"/>
<line x1="227.45" y1="780.57" x2="228.49" y2="780.57" stroke="#c23a3a" stroke-width="0.8" stroke-dasharray="0.9,0.9"/>
<path d="M237,755.6L236.8,756.4L236.9,757.2L236.9,758L237,758.8L237,759.6L237,760.4L237,761.2L237,762L237,762.8L237,763.6L237,764.4L237,765.2L237,766L237,766.8L237,767.6L237,768.4L237,769.2L236.9,770L236.8,770.8L236.8,771.6L236.8,772.4L236.7,773.2L236.7,774L236.8,774.8L236.8,775.6L236.8,776.4L236.7,777.2L236.8,778L236.8,778.8L236.8,779.6L236.9,780.4L237,781.2L237,782L237,782.8L237,783.6L237,784.4L237,785.2L237,786L237,786.8L237,787.6L237,788.4L236.8,789.2L236.6,790L236.4,790.8L236.2,791.6L236,792.4L235.8,793.2L235.6,794L235.4,794.8L235.2,795.6L235.1,796.4L234.9,797.2L234.7,798L234.6,798.8L234.4,799.6L234.2,800.4L234.1,801.2L234,802L233.9,802.8L233.9,803.6L233.9,804.4L233.9,805.2L234,806L234.2,806.8L234.3,807.6L234.4,808.4L234.6,809.2L234.8,810L234.9,810.8L235.1,811.6L235.2,812.4L235.4,813.2L235.5,814L235.7,814.8L235.9,815.6L236.1,816.4L236.3,817.2L236.5,818L236.7,818.8L236.9,819.6L237,820.4L237,821.2L237,822L237,822.8L237,823.6L237,824.4L237,825.2L237,825.4L237.5,825.4L237.6,825.2L237.6,824.4L237.6,823.6L237.6,822.8L237.6,822L237.6,821.2L237.6,820.4L237.6,819.6L237.8,818.8L238,818L238.2,817.2L238.5,816.4L238.7,815.6L238.8,814.8L239,814L239.1,813.2L239.3,812.4L239.4,811.6L239.6,810.8L239.7,810L239.9,809.2L240.1,808.4L240.2,807.6L240.4,806.8L240.5,806L240.6,805.2L240.6,804.4L240.7,803.6L240.6,802.8L240.6,802L240.4,801.2L240.3,800.4L240.1,799.6L240,798.8L239.8,798L239.6,797.2L239.4,796.4L239.3,795.6L239.1,794.8L238.9,794L238.8,793.2L238.6,792.4L238.3,791.6L238.1,790.8L237.9,790L237.7,789.2L237.6,788.4L237.6,787.6L237.6,786.8L237.6,786L237.6,785.2L237.6,784.4L237.6,783.6L237.6,782.8L237.6,782L237.6,781.2L237.6,780.4L237.7,779.6L237.7,778.8L237.8,778L237.8,777.2L237.8,776.4L237.8,775.6L237.8,774.8L237.8,774L237.8,773.2L237.8,772.4L237.7,771.6L237.7,770.8L237.6,770L237.6,769.2L237.6,768.4L237.6,767.6L237.6,766.8L237.6,766L237.6,765.2L237.6,764.4L237.6,763.6L237.6,762.8L237.6,762L237.6,761.2L237.6,760.4L237.6,759.6L237.6,758.8L237.6,758L237.6,757.2L237.7,756.4L237.5,755.6Z" fill="#f8dfe1" stroke="#ec8f8d" stroke-width="0.6"/>
<line x1="233.89" y1="803.1" x2="240.63" y2="803.1" stroke="#a61c1c" stroke-width="2.0" />
<line x1="234.45" y1="808.42" x2="240.07" y2="808.42" stroke="#c23a3a" stroke-width="0.8" stroke-dasharray="0.9,0.9"/>
<line x1="235.75" y1="793.01" x2="238.77" y2="793.01" stroke="#c23a3a" stroke-width="0.8" stroke-dasharray="0.9,0.9"/>
<path d="M246.3,749.8L246,750.6L246.1,751.4L246.2,752.2L246.2,753L246.2,753.8L246.2,754.6L246.2,755.4L246.2,756.2L246.2,757L246.2,757.8L246.2,758.6L246.2,759.4L246.2,760.2L246.1,761L246.1,761.8L246,762.6L246,763.4L246.1,764.2L246.1,765L246.2,765.8L246.2,766.6L246.2,767.4L246.2,768.2L246.2,769L246.2,769.8L246.2,770.6L246.2,771.4L246.2,772.2L246.1,773L246,773.8L246,774.6L246,775.4L246.1,776.2L246.2,777L246.2,777.8L246.2,778.6L246.2,779.4L246.2,780.2L246.2,781L246.2,781.8L246.2,782.6L246.2,783.4L246.2,784.2L246.2,785L246.1,785.8L245.9,786.6L245.7,787.4L245.4,788.2L245.2,789L245.1,789.8L244.9,790.6L244.8,791.4L244.7,792.2L244.6,793L244.5,793.8L244.4,794.6L244.2,795.4L244,796.2L243.9,797L243.7,797.8L243.6,798.6L243.5,799.4L243.3,800.2L243.2,801L243.2,801.8L243.1,802.6L243.2,803.4L243.2,804.2L243.3,805L243.4,805.8L243.5,806.6L243.6,807.4L243.8,808.2L243.9,809L244,809.8L244.2,810.6L244.3,811.4L244.4,812.2L244.6,813L244.7,813.8L244.8,814.6L244.9,815.4L244.9,816.2L245.1,817L245.2,817.8L245.4,818.6L245.6,819.4L245.8,820.2L246,821L246.2,821.8L246.2,822.6L246.2,823.4L246.2,824.2L246.2,825L246.2,825.8L246.2,826.6L246.2,827.4L246.2,828.2L246.2,829L246.3,829.3L246.8,829.3L246.8,829L246.8,828.2L246.8,827.4L246.8,826.6L246.8,825.8L246.8,825L246.8,824.2L246.8,823.4L246.8,822.6L246.9,821.8L247.1,821L247.3,820.2L247.5,819.4L247.7,818.6L247.9,817.8L248,817L248.2,816.2L248.2,815.4L248.3,814.6L248.4,813.8L248.5,813L248.7,812.2L248.8,811.4L248.9,810.6L249.1,809.8L249.2,809L249.3,808.2L249.5,807.4L249.6,806.6L249.7,805.8L249.8,805L249.9,804.2L249.9,803.4L249.9,802.6L249.9,801.8L249.9,801L249.8,800.2L249.6,799.4L249.5,798.6L249.4,797.8L249.2,797L249.1,796.2L248.9,795.4L248.7,794.6L248.6,793.8L248.5,793L248.4,792.2L248.3,791.4L248.2,790.6L248,789.8L247.9,789L247.7,788.2L247.4,787.4L247.2,786.6L247,785.8L246.9,785L246.8,784.2L246.8,783.4L246.8,782.6L246.8,781.8L246.8,781L246.8,780.2L246.8,779.4L246.8,778.6L246.8,777.8L246.9,777L247,776.2L247.1,775.4L247.1,774.6L247.1,773.8L247,773L246.9,772.2L246.9,771.4L246.8,770.6L246.8,769.8L246.8,769L246.8,768.2L246.8,767.4L246.8,766.6L246.9,765.8L247,765L247,764.2L247.1,763.4L247.1,762.6L247,761.8L247,761L246.9,760.2L246.8,759.4L246.8,758.6L246.8,757.8L246.8,757L246.8,756.2L246.8,755.4L246.8,754.6L246.8,753.8L246.8,753L246.9,752.2L247,751.4L247.1,750.6L246.8,749.8Z" fill="#f8dfe1" stroke="#ec8f8d" stroke-width="0.6"/>
<line x1="243.18" y1="802.1" x2="249.92" y2="802.1" stroke="#a61c1c" stroke-width="2.0" />
<line x1="243.76" y1="808.59" x2="249.34" y2="808.59" stroke="#c23a3a" stroke-width="0.8" stroke-dasharray="0.9,0.9"/>
<line x1="245.06" y1="789.79" x2="248.04" y2="789.79" stroke="#c23a3a" stroke-width="0.8" stroke-dasharray="0.9,0.9"/>
<path d="M255.6,746.2L255.3,747L255.4,747.8L255.5,748.6L255.5,749.4L255.5,750.2L255.5,751L255.5,751.8L255.5,752.6L255.5,753.4L255.5,754.2L255.5,755L255.5,755.8L255.5,756.6L255.5,757.4L255.5,758.2L255.5,759L255.5,759.8L255.4,760.6L255.3,761.4L255.3,762.2L255.3,763L255.4,763.8L255.4,764.6L255.5,765.4L255.5,766.2L255.5,767L255.5,767.8L255.5,768.6L255.5,769.4L255.4,770.2L255.3,771L255.3,771.8L255.3,772.6L255.3,773.4L255.4,774.2L255.5,775L255.5,775.8L255.5,776.6L255.5,777.4L255.5,778.2L255.5,779L255.5,779.8L255.4,780.6L255.2,781.4L255,782.2L254.8,783L254.5,783.8L254.4,784.6L254.2,785.4L254.1,786.2L254,787L253.9,787.8L253.8,788.6L253.7,789.4L253.5,790.2L253.4,791L253.2,791.8L253.1,792.6L252.9,793.4L252.8,794.2L252.7,795L252.6,795.8L252.5,796.6L252.4,797.4L252.4,798.2L252.5,799L252.5,799.8L252.6,800.6L252.7,801.4L252.9,802.2L253,803L253.1,803.8L253.3,804.6L253.4,805.4L253.5,806.2L253.7,807L253.8,807.8L253.9,808.6L254,809.4L254.1,810.2L254.2,811L254.3,811.8L254.4,812.6L254.6,813.4L254.8,814.2L255,815L255.2,815.8L255.4,816.6L255.5,817.4L255.5,818.2L255.5,819L255.5,819.8L255.5,820.6L255.5,821.4L255.5,822.2L255.5,823L255.5,823.8L255.5,824.6L255.6,824.7L256.1,824.7L256.1,824.6L256.1,823.8L256.1,823L256.1,822.2L256.1,821.4L256.1,820.6L256.1,819.8L256.1,819L256.1,818.2L256.1,817.4L256.3,816.6L256.5,815.8L256.7,815L256.9,814.2L257.1,813.4L257.3,812.6L257.4,811.8L257.5,811L257.6,810.2L257.7,809.4L257.8,808.6L257.9,807.8L258,807L258.2,806.2L258.3,805.4L258.4,804.6L258.6,803.8L258.7,803L258.8,802.2L258.9,801.4L259.1,800.6L259.1,799.8L259.2,799L259.2,798.2L259.2,797.4L259.2,796.6L259.1,795.8L259,795L258.9,794.2L258.7,793.4L258.6,792.6L258.4,791.8L258.3,791L258.1,790.2L258,789.4L257.9,788.6L257.7,787.8L257.6,787L257.5,786.2L257.4,785.4L257.3,784.6L257.1,783.8L256.9,783L256.7,782.2L256.5,781.4L256.3,780.6L256.1,779.8L256.1,779L256.1,778.2L256.1,777.4L256.1,776.6L256.1,775.8L256.2,775L256.3,774.2L256.3,773.4L256.4,772.6L256.4,771.8L256.3,771L256.3,770.2L256.2,769.4L256.1,768.6L256.1,767.8L256.1,767L256.1,766.2L256.2,765.4L256.2,764.6L256.3,763.8L256.4,763L256.4,762.2L256.4,761.4L256.3,760.6L256.2,759.8L256.1,759L256.1,758.2L256.1,757.4L256.1,756.6L256.1,755.8L256.1,755L256.1,754.2L256.1,753.4L256.1,752.6L256.1,751.8L256.1,751L256.1,750.2L256.1,749.4L256.2,748.6L256.3,747.8L256.4,747L256.1,746.2Z" fill="#f8dfe1" stroke="#ec8f8d" stroke-width="0.6"/>
<line x1="252.45" y1="797.2" x2="259.23" y2="797.2" stroke="#a61c1c" stroke-width="2.0" />
<line x1="253.12" y1="803.76" x2="258.56" y2="803.76" stroke="#c23a3a" stroke-width="0.8" stroke-dasharray="0.9,0.9"/>
<line x1="254.37" y1="784.76" x2="257.31" y2="784.76" stroke="#c23a3a" stroke-width="0.8" stroke-dasharray="0.9,0.9"/>
<path d="M264.9,759.9L264.7,760.7L264.7,761.5L264.8,762.3L264.8,763.1L264.8,763.9L264.8,764.7L264.8,765.5L264.8,766.3L264.8,767.1L264.8,767.9L264.8,768.7L264.8,769.5L264.8,770.3L264.7,771.1L264.7,771.9L264.7,772.7L264.7,773.5L264.8,774.3L264.8,775.1L264.8,775.9L264.8,776.7L264.8,777.5L264.8,778.3L264.8,779.1L264.8,779.9L264.7,780.7L264.7,781.5L264.7,782.3L264.7,783.1L264.8,783.9L264.8,784.7L264.8,785.5L264.8,786.3L264.8,787.1L264.8,787.9L264.8,788.7L264.6,789.5L264.4,790.3L264.2,791.1L264,791.9L263.8,792.7L263.6,793.5L263.4,794.3L263.3,795.1L263.1,795.9L262.9,796.7L262.8,797.5L262.6,798.3L262.4,799.1L262.2,799.9L262.1,800.7L261.9,801.5L261.8,802.3L261.8,803.1L261.7,803.9L261.7,804.7L261.8,805.5L261.9,806.3L262,807.1L262.2,807.9L262.3,808.7L262.5,809.5L262.6,810.3L262.8,811.1L262.9,811.9L263.1,812.7L263.2,813.5L263.4,814.3L263.5,815.1L263.7,815.9L263.9,816.7L264.1,817.5L264.3,818.3L264.5,819.1L264.7,819.9L264.8,820.7L264.8,821.5L264.8,822.3L264.8,823.1L264.8,823.9L264.8,824.7L264.8,825.5L264.9,826L265.4,826L265.4,825.5L265.4,824.7L265.4,823.9L265.4,823.1L265.4,822.3L265.4,821.5L265.4,820.7L265.5,819.9L265.7,819.1L265.9,818.3L266.2,817.5L266.4,816.7L266.6,815.9L266.7,815.1L266.9,814.3L267,813.5L267.2,812.7L267.3,811.9L267.5,811.1L267.6,810.3L267.8,809.5L267.9,808.7L268.1,807.9L268.2,807.1L268.4,806.3L268.5,805.5L268.5,804.7L268.5,803.9L268.5,803.1L268.4,802.3L268.3,801.5L268.2,800.7L268,799.9L267.8,799.1L267.7,798.3L267.5,797.5L267.3,796.7L267.2,795.9L267,795.1L266.8,794.3L266.7,793.5L266.5,792.7L266.3,791.9L266,791.1L265.8,790.3L265.6,789.5L265.5,788.7L265.4,787.9L265.4,787.1L265.4,786.3L265.4,785.5L265.4,784.7L265.5,783.9L265.6,783.1L265.6,782.3L265.6,781.5L265.6,780.7L265.5,779.9L265.4,779.1L265.4,778.3L265.4,777.5L265.4,776.7L265.4,775.9L265.4,775.1L265.5,774.3L265.6,773.5L265.6,772.7L265.6,771.9L265.6,771.1L265.5,770.3L265.4,769.5L265.4,768.7L265.4,767.9L265.4,767.1L265.4,766.3L265.4,765.5L265.4,764.7L265.4,763.9L265.4,763.1L265.5,762.3L265.5,761.5L265.6,760.7L265.4,759.9Z" fill="#f8dfe1" stroke="#ec8f8d" stroke-width="0.6"/>
<line x1="261.76" y1="803.4" x2="268.5" y2="803.4" stroke="#a61c1c" stroke-width="2.0" />
<line x1="262.31" y1="808.79" x2="267.95" y2="808.79" stroke="#c23a3a" stroke-width="0.8" stroke-dasharray="0.9,0.9"/>
<line x1="263.59" y1="793.17" x2="266.67" y2="793.17" stroke="#c23a3a" stroke-width="0.8" stroke-dasharray="0.9,0.9"/>
<path d="M274.2,759.6L274,760.4L274.1,761.2L274.1,762L274.1,762.8L274.1,763.6L274.1,764.4L274.1,765.2L274.1,766L274.1,766.8L274.1,767.6L274.1,768.4L274.1,769.2L274.1,770L274.1,770.8L274,771.6L274,772.4L274,773.2L274.1,774L274.1,774.8L274.1,775.6L274.1,776.4L274.1,777.2L274.1,778L274.1,778.8L274.1,779.6L274.1,780.4L274,781.2L274,782L274,782.8L274.1,783.6L274.1,784.4L274.1,785.2L274.1,786L274.1,786.8L274.1,787.6L274,788.4L273.8,789.2L273.6,790L273.4,790.8L273.1,791.6L272.9,792.4L272.7,793.2L272.4,794L272.2,794.8L272,795.6L271.8,796.4L271.6,797.2L271.4,798L271.2,798.8L271.1,799.6L271,800.4L271,801.2L271,802L271.1,802.8L271.2,803.6L271.4,804.4L271.6,805.2L271.8,806L272,806.8L272.1,807.6L272.3,808.4L272.5,809.2L272.7,810L273,810.8L273.2,811.6L273.4,812.4L273.6,813.2L273.9,814L274,814.8L274.1,815.6L274.1,816.4L274.1,817.2L274.1,818L274.1,818.8L274.2,819.2L274.7,819.2L274.7,818.8L274.7,818L274.7,817.2L274.7,816.4L274.7,815.6L274.8,814.8L275,814L275.2,813.2L275.4,812.4L275.7,811.6L275.9,810.8L276.1,810L276.3,809.2L276.5,808.4L276.7,807.6L276.9,806.8L277.1,806L277.3,805.2L277.4,804.4L277.6,803.6L277.7,802.8L277.8,802L277.8,801.2L277.8,800.4L277.7,799.6L277.6,798.8L277.4,798L277.2,797.2L277,796.4L276.8,795.6L276.6,794.8L276.4,794L276.2,793.2L276,792.4L275.7,791.6L275.5,790.8L275.2,790L275,789.2L274.9,788.4L274.7,787.6L274.7,786.8L274.7,786L274.7,785.2L274.7,784.4L274.8,783.6L274.8,782.8L274.8,782L274.8,781.2L274.8,780.4L274.7,779.6L274.7,778.8L274.7,778L274.7,777.2L274.7,776.4L274.7,775.6L274.7,774.8L274.8,774L274.8,773.2L274.8,772.4L274.8,771.6L274.8,770.8L274.7,770L274.7,769.2L274.7,768.4L274.7,767.6L274.7,766.8L274.7,766L274.7,765.2L274.7,764.4L274.7,763.6L274.7,762.8L274.7,762L274.8,761.2L274.8,760.4L274.7,759.6Z" fill="#f8dfe1" stroke="#ec8f8d" stroke-width="0.6"/>
<line x1="271.04" y1="800.6" x2="277.8" y2="800.6" stroke="#a61c1c" stroke-width="2.0" />
<line x1="271.58" y1="805.03" x2="277.26" y2="805.03" stroke="#c23a3a" stroke-width="0.8" stroke-dasharray="0.9,0.9"/>
<line x1="272.88" y1="792.18" x2="275.96" y2="792.18" stroke="#c23a3a" stroke-width="0.8" stroke-dasharray="0.9,0.9"/>
<path d="M283.5,727.5L283.2,728.3L283.2,729.1L283.3,729.9L283.4,730.7L283.4,731.5L283.4,732.3L283.4,733.1L283.4,733.9L283.4,734.7L283.4,735.5L283.3,736.3L283.2,737.1L283.2,737.9L283.2,738.7L283.2,739.5L283.2,740.3L283.3,741.1L283.4,741.9L283.4,742.7L283.4,743.5L283.4,744.3L283.3,745.1L283.2,745.9L283.2,746.7L283.2,747.5L283.2,748.3L283.2,749.1L283.3,749.9L283.4,750.7L283.4,751.5L283.4,752.3L283.4,753.1L283.4,753.9L283.4,754.7L283.4,755.5L283.4,756.3L283.4,757.1L283.4,757.9L283.4,758.7L283.4,759.5L283.4,760.3L283.4,761.1L283.4,761.9L283.4,762.7L283.4,763.5L283.4,764.3L283.4,765.1L283.4,765.9L283.3,766.7L283.3,767.5L283.2,768.3L283.2,769.1L283.2,769.9L283.2,770.7L283.3,771.5L283.4,772.3L283.4,773.1L283.4,773.9L283.4,774.7L283.4,775.5L283.4,776.3L283.4,777.1L283.4,777.9L283.4,778.7L283.4,779.5L283.4,780.3L283.4,781.1L283.4,781.9L283.4,782.7L283.4,783.5L283.3,784.3L283.1,785.1L282.9,785.9L282.6,786.7L282.4,787.5L282.2,788.3L282.1,789.1L282,789.9L281.9,790.7L281.8,791.5L281.7,792.3L281.6,793.1L281.4,793.9L281.3,794.7L281.1,795.5L280.9,796.3L280.8,797.1L280.7,797.9L280.5,798.7L280.4,799.5L280.4,800.3L280.3,801.1L280.3,801.9L280.3,802.7L280.4,803.5L280.5,804.3L280.6,805.1L280.7,805.9L280.9,806.7L281,807.5L281.1,808.3L281.3,809.1L281.4,809.9L281.5,810.7L281.7,811.5L281.8,812.3L281.9,813.1L282,813.9L282.1,814.7L282.1,815.5L282.3,816.3L282.4,817.1L282.6,817.9L282.9,818.7L283.1,819.5L283.3,820.3L283.4,821.1L283.4,821.9L283.4,822.7L283.4,823.5L283.4,824.3L283.4,825.1L283.4,825.9L283.4,826.7L283.4,827.5L283.4,828.3L283.5,828.4L284,828.4L284,828.3L284,827.5L284,826.7L284,825.9L284,825.1L284,824.3L284,823.5L284,822.7L284,821.9L284,821.1L284.1,820.3L284.3,819.5L284.6,818.7L284.8,817.9L285,817.1L285.1,816.3L285.3,815.5L285.4,814.7L285.5,813.9L285.5,813.1L285.6,812.3L285.8,811.5L285.9,810.7L286,809.9L286.2,809.1L286.3,808.3L286.4,807.5L286.6,806.7L286.7,805.9L286.8,805.1L286.9,804.3L287,803.5L287.1,802.7L287.1,801.9L287.1,801.1L287.1,800.3L287,799.5L286.9,798.7L286.8,797.9L286.6,797.1L286.5,796.3L286.3,795.5L286.2,794.7L286,793.9L285.9,793.1L285.7,792.3L285.6,791.5L285.5,790.7L285.4,789.9L285.3,789.1L285.2,788.3L285,787.5L284.8,786.7L284.6,785.9L284.3,785.1L284.1,784.3L284,783.5L284,782.7L284,781.9L284,781.1L284,780.3L284,779.5L284,778.7L284,777.9L284,777.1L284,776.3L284,775.5L284,774.7L284,773.9L284,773.1L284,772.3L284.1,771.5L284.2,770.7L284.2,769.9L284.3,769.1L284.2,768.3L284.2,767.5L284.1,766.7L284,765.9L284,765.1L284,764.3L284,763.5L284,762.7L284,761.9L284,761.1L284,760.3L284,759.5L284,758.7L284,757.9L284,757.1L284,756.3L284,755.5L284,754.7L284,753.9L284,753.1L284,752.3L284,751.5L284,750.7L284.1,749.9L284.2,749.1L284.2,748.3L284.3,747.5L284.2,746.7L284.2,745.9L284.1,745.1L284.1,744.3L284,743.5L284,742.7L284.1,741.9L284.1,741.1L284.2,740.3L284.2,739.5L284.3,738.7L284.2,737.9L284.2,737.1L284.1,736.3L284,735.5L284,734.7L284,733.9L284,733.1L284,732.3L284,731.5L284,730.7L284.1,729.9L284.2,729.1L284.2,728.3L284,727.5Z" fill="#f8dfe1" stroke="#ec8f8d" stroke-width="0.6"/>
<line x1="280.32" y1="800.9" x2="287.1" y2="800.9" stroke="#a61c1c" stroke-width="2.0" />
<line x1="280.5" y1="804.43" x2="286.92" y2="804.43" stroke="#c23a3a" stroke-width="0.8" stroke-dasharray="0.9,0.9"/>
<line x1="283.17" y1="769.27" x2="284.25" y2="769.27" stroke="#c23a3a" stroke-width="0.8" stroke-dasharray="0.9,0.9"/>
<path d="M292.8,737L292.5,737.8L292.5,738.6L292.6,739.4L292.7,740.2L292.7,741L292.7,741.8L292.7,742.6L292.7,743.4L292.7,744.2L292.6,745L292.5,745.8L292.4,746.6L292.3,747.4L292.3,748.2L292.3,749L292.2,749.8L292.2,750.6L292.3,751.4L292.3,752.2L292.4,753L292.4,753.8L292.5,754.6L292.7,755.4L292.7,756.2L292.7,757L292.7,757.8L292.7,758.6L292.7,759.4L292.7,760.2L292.7,761L292.7,761.8L292.7,762.6L292.7,763.4L292.7,764.2L292.7,765L292.7,765.8L292.7,766.6L292.7,767.4L292.7,768.2L292.7,769L292.7,769.8L292.7,770.6L292.7,771.4L292.6,772.2L292.5,773L292.5,773.8L292.5,774.6L292.5,775.4L292.5,776.2L292.6,777L292.7,777.8L292.7,778.6L292.7,779.4L292.7,780.2L292.7,781L292.6,781.8L292.4,782.6L292.2,783.4L292,784.2L291.8,785L291.6,785.8L291.4,786.6L291.3,787.4L291.2,788.2L291.1,789L291,789.8L290.9,790.6L290.7,791.4L290.6,792.2L290.4,793L290.3,793.8L290.1,794.6L290,795.4L289.9,796.2L289.8,797L289.7,797.8L289.6,798.6L289.6,799.4L289.6,800.2L289.7,801L289.8,801.8L289.9,802.6L290,803.4L290.1,804.2L290.3,805L290.4,805.8L290.5,806.6L290.6,807.4L290.8,808.2L290.9,809L291,809.8L291.2,810.6L291.2,811.4L291.3,812.2L291.4,813L291.5,813.8L291.7,814.6L291.9,815.4L292.1,816.2L292.3,817L292.5,817.8L292.7,818.6L292.7,819.4L292.7,820.2L292.7,821L292.7,821.8L292.7,822.6L292.7,823.4L292.7,824.2L292.7,825L292.7,825.8L292.8,826.1L293.2,826.1L293.3,825.8L293.3,825L293.3,824.2L293.3,823.4L293.3,822.6L293.3,821.8L293.3,821L293.3,820.2L293.3,819.4L293.3,818.6L293.5,817.8L293.7,817L293.9,816.2L294.1,815.4L294.3,814.6L294.5,813.8L294.6,813L294.7,812.2L294.8,811.4L294.8,810.6L295,809.8L295.1,809L295.2,808.2L295.4,807.4L295.5,806.6L295.6,805.8L295.7,805L295.9,804.2L296,803.4L296.1,802.6L296.2,801.8L296.3,801L296.4,800.2L296.4,799.4L296.4,798.6L296.3,797.8L296.2,797L296.1,796.2L296,795.4L295.9,794.6L295.7,793.8L295.6,793L295.4,792.2L295.3,791.4L295.1,790.6L295,789.8L294.9,789L294.8,788.2L294.7,787.4L294.6,786.6L294.4,785.8L294.2,785L294,784.2L293.8,783.4L293.6,782.6L293.4,781.8L293.3,781L293.3,780.2L293.3,779.4L293.3,778.6L293.3,777.8L293.4,777L293.5,776.2L293.5,775.4L293.5,774.6L293.5,773.8L293.5,773L293.4,772.2L293.3,771.4L293.3,770.6L293.3,769.8L293.3,769L293.3,768.2L293.3,767.4L293.3,766.6L293.3,765.8L293.3,765L293.3,764.2L293.3,763.4L293.3,762.6L293.3,761.8L293.3,761L293.3,760.2L293.3,759.4L293.3,758.6L293.3,757.8L293.3,757L293.3,756.2L293.3,755.4L293.5,754.6L293.6,753.8L293.6,753L293.7,752.2L293.7,751.4L293.8,750.6L293.8,749.8L293.7,749L293.7,748.2L293.7,747.4L293.6,746.6L293.5,745.8L293.4,745L293.3,744.2L293.3,743.4L293.3,742.6L293.3,741.8L293.3,741L293.3,740.2L293.4,739.4L293.5,738.6L293.5,737.8L293.2,737Z" fill="#f8dfe1" stroke="#ec8f8d" stroke-width="0.6"/>
<line x1="289.62" y1="798.6" x2="296.38" y2="798.6" stroke="#a61c1c" stroke-width="2.0" />
<line x1="289.76" y1="802.13" x2="296.24" y2="802.13" stroke="#c23a3a" stroke-width="0.8" stroke-dasharray="0.9,0.9"/>
<line x1="292.46" y1="774.54" x2="293.54" y2="774.54" stroke="#c23a3a" stroke-width="0.8" stroke-dasharray="0.9,0.9"/>
<path d="M302,728.3L301.6,729.1L301.6,729.9L301.7,730.7L301.8,731.5L301.8,732.3L301.9,733.1L301.8,733.9L301.7,734.7L301.7,735.5L301.6,736.3L301.6,737.1L301.6,737.9L301.6,738.7L301.7,739.5L301.8,740.3L301.9,741.1L302,741.9L302,742.7L301.9,743.5L301.8,744.3L301.7,745.1L301.6,745.9L301.6,746.7L301.6,747.5L301.6,748.3L301.7,749.1L301.8,749.9L301.9,750.7L302,751.5L302,752.3L302,753.1L302,753.9L302,754.7L302,755.5L302,756.3L302,757.1L302,757.9L302,758.7L302,759.5L302,760.3L302,761.1L301.9,761.9L301.8,762.7L301.7,763.5L301.6,764.3L301.6,765.1L301.6,765.9L301.7,766.7L301.8,767.5L301.9,768.3L301.9,769.1L301.9,769.9L301.8,770.7L301.7,771.5L301.4,772.3L301.2,773.1L300.9,773.9L300.7,774.7L300.6,775.5L300.6,776.3L300.6,777.1L300.7,777.9L300.7,778.7L300.7,779.5L300.6,780.3L300.4,781.1L300.3,781.9L300.1,782.7L300,783.5L299.9,784.3L299.8,785.1L299.7,785.9L299.6,786.7L299.5,787.5L299.4,788.3L299.3,789.1L299.2,789.9L299.1,790.7L299,791.5L298.9,792.3L298.9,793.1L298.9,793.9L298.9,794.7L298.9,795.5L299,796.3L299.1,797.1L299.2,797.9L299.3,798.7L299.4,799.5L299.5,800.3L299.6,801.1L299.7,801.9L299.8,802.7L299.9,803.5L299.9,804.3L300,805.1L300.1,805.9L300.2,806.7L300.4,807.5L300.5,808.3L300.6,809.1L300.7,809.9L300.7,810.7L300.7,811.5L300.6,812.3L300.6,813.1L300.6,813.9L300.7,814.7L300.9,815.5L301.2,816.3L301.5,817.1L301.7,817.9L301.9,818.7L302,819.5L302,820.3L302,821.1L302,821.9L302,822.7L302,823.5L302,824.3L302,825.1L302,825.9L302,826.7L302,827.5L302,828.3L302,829.1L302,829.9L302,830.7L302,830.7L302.5,830.7L302.6,830.7L302.6,829.9L302.6,829.1L302.6,828.3L302.6,827.5L302.6,826.7L302.6,825.9L302.6,825.1L302.6,824.3L302.6,823.5L302.6,822.7L302.6,821.9L302.6,821.1L302.6,820.3L302.6,819.5L302.7,818.7L302.9,817.9L303.1,817.1L303.4,816.3L303.6,815.5L303.8,814.7L304,813.9L304,813.1L303.9,812.3L303.9,811.5L303.8,810.7L303.9,809.9L303.9,809.1L304.1,808.3L304.2,807.5L304.4,806.7L304.5,805.9L304.6,805.1L304.6,804.3L304.7,803.5L304.8,802.7L304.9,801.9L305,801.1L305.1,800.3L305.2,799.5L305.3,798.7L305.4,797.9L305.5,797.1L305.6,796.3L305.6,795.5L305.7,794.7L305.7,793.9L305.7,793.1L305.6,792.3L305.6,791.5L305.5,790.7L305.4,789.9L305.3,789.1L305.2,788.3L305.1,787.5L305,786.7L304.9,785.9L304.8,785.1L304.7,784.3L304.6,783.5L304.4,782.7L304.3,781.9L304.1,781.1L304,780.3L303.9,779.5L303.9,778.7L303.9,777.9L304,777.1L304,776.3L304,775.5L303.8,774.7L303.6,773.9L303.4,773.1L303.1,772.3L302.9,771.5L302.8,770.7L302.7,769.9L302.7,769.1L302.7,768.3L302.8,767.5L302.9,766.7L303,765.9L303,765.1L303,764.3L302.9,763.5L302.8,762.7L302.7,761.9L302.6,761.1L302.6,760.3L302.6,759.5L302.6,758.7L302.6,757.9L302.6,757.1L302.6,756.3L302.6,755.5L302.6,754.7L302.6,753.9L302.6,753.1L302.6,752.3L302.6,751.5L302.6,750.7L302.8,749.9L302.9,749.1L303,748.3L303,747.5L303,746.7L302.9,745.9L302.9,745.1L302.8,744.3L302.7,743.5L302.6,742.7L302.6,741.9L302.7,741.1L302.7,740.3L302.8,739.5L302.9,738.7L303,737.9L303,737.1L303,736.3L302.9,735.5L302.8,734.7L302.8,733.9L302.7,733.1L302.7,732.3L302.8,731.5L302.9,730.7L302.9,729.9L303,729.1L302.5,728.3Z" fill="#f8dfe1" stroke="#ec8f8d" stroke-width="0.6"/>
<line x1="298.91" y1="792.8" x2="305.67" y2="792.8" stroke="#a61c1c" stroke-width="2.0" />
<line x1="299.21" y1="797.66" x2="305.37" y2="797.66" stroke="#c23a3a" stroke-width="0.8" stroke-dasharray="0.9,0.9"/>
<line x1="301.57" y1="764.99" x2="303.01" y2="764.99" stroke="#c23a3a" stroke-width="0.8" stroke-dasharray="0.9,0.9"/>
<path d="M311.3,710.4L310.9,711.2L311,712L311.1,712.8L311.2,713.6L311.3,714.4L311.3,715.2L311.3,716L311.3,716.8L311.3,717.6L311.3,718.4L311.3,719.2L311.2,720L311.1,720.8L311,721.6L310.9,722.4L310.9,723.2L310.9,724L311,724.8L311.1,725.6L311.2,726.4L311.3,727.2L311.3,728L311.3,728.8L311.3,729.6L311.3,730.4L311.3,731.2L311.2,732L311.1,732.8L311,733.6L310.9,734.4L310.9,735.2L310.9,736L311,736.8L311.1,737.6L311.2,738.4L311.3,739.2L311.3,740L311.3,740.8L311.3,741.6L311.3,742.4L311.3,743.2L311.3,744L311.3,744.8L311.3,745.6L311.3,746.4L311.3,747.2L311.3,748L311.3,748.8L311.3,749.6L311.3,750.4L311.3,751.2L311.3,752L311.3,752.8L311.3,753.6L311.2,754.4L311.1,755.2L311,756L310.9,756.8L310.9,757.6L310.9,758.4L311,759.2L311.1,760L311.2,760.8L311.3,761.6L311.3,762.4L311.3,763.2L311.3,764L311.3,764.8L311.3,765.6L311.3,766.4L311.3,767.2L311.3,768L311.3,768.8L311.3,769.6L311.3,770.4L311.3,771.2L311.3,772L311.3,772.8L311.3,773.6L311.2,774.4L311,775.2L310.8,776L310.5,776.8L310.3,777.6L310.1,778.4L309.9,779.2L309.9,780L309.9,780.8L309.9,781.6L309.9,782.4L309.9,783.2L309.8,784L309.6,784.8L309.5,785.6L309.3,786.4L309.2,787.2L309.1,788L309,788.8L308.9,789.6L308.8,790.4L308.7,791.2L308.6,792L308.5,792.8L308.4,793.6L308.3,794.4L308.2,795.2L308.2,796L308.2,796.8L308.2,797.6L308.3,798.4L308.3,799.2L308.4,800L308.5,800.8L308.7,801.6L308.8,802.4L308.9,803.2L309,804L309,804.8L309.1,805.6L309.2,806.4L309.3,807.2L309.4,808L309.5,808.8L309.7,809.6L309.8,810.4L309.9,811.2L310,812L310,812.8L309.9,813.6L309.9,814.4L309.9,815.2L310,816L310.2,816.8L310.4,817.6L310.7,818.4L311,819.2L311.2,820L311.3,820.8L311.3,821.6L311.3,822.4L311.3,823.2L311.3,824L311.3,824.8L311.3,825.6L311.3,826.4L311.3,827.2L311.3,828L311.3,828.8L311.3,829.6L311.3,830.4L311.3,831.2L311.3,831.4L311.8,831.4L311.9,831.2L311.9,830.4L311.9,829.6L311.9,828.8L311.9,828L311.9,827.2L311.9,826.4L311.9,825.6L311.9,824.8L311.9,824L311.9,823.2L311.9,822.4L311.9,821.6L311.9,820.8L312,820L312.2,819.2L312.5,818.4L312.7,817.6L312.9,816.8L313.1,816L313.2,815.2L313.2,814.4L313.2,813.6L313.2,812.8L313.2,812L313.2,811.2L313.3,810.4L313.5,809.6L313.6,808.8L313.8,808L313.9,807.2L313.9,806.4L314,805.6L314.1,804.8L314.2,804L314.3,803.2L314.4,802.4L314.5,801.6L314.6,800.8L314.7,800L314.8,799.2L314.9,798.4L315,797.6L315,796.8L315,796L314.9,795.2L314.9,794.4L314.8,793.6L314.7,792.8L314.6,792L314.5,791.2L314.4,790.4L314.3,789.6L314.2,788.8L314.1,788L313.9,787.2L313.8,786.4L313.7,785.6L313.5,784.8L313.4,784L313.3,783.2L313.2,782.4L313.2,781.6L313.3,780.8L313.3,780L313.2,779.2L313.1,778.4L312.9,777.6L312.7,776.8L312.4,776L312.2,775.2L312,774.4L311.9,773.6L311.9,772.8L311.9,772L311.9,771.2L311.9,770.4L311.9,769.6L311.9,768.8L311.9,768L311.9,767.2L311.9,766.4L311.9,765.6L311.9,764.8L311.9,764L311.9,763.2L311.9,762.4L311.9,761.6L311.9,760.8L312,760L312.2,759.2L312.2,758.4L312.3,757.6L312.2,756.8L312.2,756L312.1,755.2L312,754.4L311.9,753.6L311.9,752.8L311.9,752L311.9,751.2L311.9,750.4L311.9,749.6L311.9,748.8L311.9,748L311.9,747.2L311.9,746.4L311.9,745.6L311.9,744.8L311.9,744L311.9,743.2L311.9,742.4L311.9,741.6L311.9,740.8L311.9,740L311.9,739.2L311.9,738.4L312,737.6L312.1,736.8L312.2,736L312.3,735.2L312.3,734.4L312.2,733.6L312.1,732.8L312,732L311.9,731.2L311.9,730.4L311.9,729.6L311.9,728.8L311.9,728L311.9,727.2L312,726.4L312.1,725.6L312.2,724.8L312.3,724L312.3,723.2L312.2,722.4L312.1,721.6L312,720.8L311.9,720L311.9,719.2L311.9,718.4L311.9,717.6L311.9,716.8L311.9,716L311.9,715.2L311.9,714.4L312,713.6L312.1,712.8L312.2,712L312.2,711.2L311.8,710.4Z" fill="#f8dfe1" stroke="#ec8f8d" stroke-width="0.6"/>
<line x1="308.22" y1="795.5" x2="314.94" y2="795.5" stroke="#a61c1c" stroke-width="2.0" />
<line x1="308.44" y1="800.1" x2="314.72" y2="800.1" stroke="#c23a3a" stroke-width="0.8" stroke-dasharray="0.9,0.9"/>
<line x1="310.9" y1="757.48" x2="312.26" y2="757.48" stroke="#c23a3a" stroke-width="0.8" stroke-dasharray="0.9,0.9"/>
<path d="M320.6,711L320.3,711.8L320.4,712.6L320.5,713.4L320.6,714.2L320.6,715L320.6,715.8L320.6,716.6L320.6,717.4L320.6,718.2L320.6,719L320.6,719.8L320.6,720.6L320.6,721.4L320.6,722.2L320.5,723L320.4,723.8L320.3,724.6L320.3,725.4L320.3,726.2L320.4,727L320.5,727.8L320.6,728.6L320.6,729.4L320.6,730.2L320.6,731L320.6,731.8L320.6,732.6L320.6,733.4L320.6,734.2L320.6,735L320.6,735.8L320.6,736.6L320.5,737.4L320.4,738.2L320.4,739L320.3,739.8L320.3,740.6L320.4,741.4L320.4,742.2L320.5,743L320.6,743.8L320.6,744.6L320.6,745.4L320.6,746.2L320.6,747L320.6,747.8L320.6,748.6L320.6,749.4L320.6,750.2L320.6,751L320.6,751.8L320.5,752.6L320.4,753.4L320.3,754.2L320.3,755L320.3,755.8L320.4,756.6L320.5,757.4L320.6,758.2L320.6,759L320.6,759.8L320.6,760.6L320.6,761.4L320.6,762.2L320.6,763L320.6,763.8L320.6,764.6L320.6,765.4L320.6,766.2L320.6,767L320.6,767.8L320.6,768.6L320.6,769.4L320.6,770.2L320.6,771L320.6,771.8L320.6,772.6L320.6,773.4L320.6,774.2L320.6,775L320.6,775.8L320.6,776.6L320.6,777.4L320.6,778.2L320.6,779L320.5,779.8L320.3,780.6L320.1,781.4L319.8,782.2L319.6,783L319.4,783.8L319.3,784.6L319.2,785.4L319.1,786.2L319,787L318.9,787.8L318.8,788.6L318.6,789.4L318.5,790.2L318.3,791L318.2,791.8L318,792.6L317.9,793.4L317.7,794.2L317.6,795L317.6,795.8L317.5,796.6L317.5,797.4L317.5,798.2L317.5,799L317.6,799.8L317.7,800.6L317.8,801.4L318,802.2L318.1,803L318.2,803.8L318.4,804.6L318.5,805.4L318.6,806.2L318.8,807L318.9,807.8L319,808.6L319.1,809.4L319.2,810.2L319.2,811L319.4,811.8L319.5,812.6L319.7,813.4L319.9,814.2L320.1,815L320.3,815.8L320.5,816.6L320.6,817.4L320.6,818.2L320.6,819L320.6,819.8L320.6,820.6L320.6,821.4L320.6,822.2L320.6,823L320.6,823.8L320.6,824.5L321.1,824.5L321.2,823.8L321.2,823L321.2,822.2L321.2,821.4L321.2,820.6L321.2,819.8L321.2,819L321.2,818.2L321.2,817.4L321.2,816.6L321.4,815.8L321.6,815L321.8,814.2L322.1,813.4L322.2,812.6L322.4,811.8L322.5,811L322.6,810.2L322.7,809.4L322.7,808.6L322.9,807.8L323,807L323.1,806.2L323.3,805.4L323.4,804.6L323.5,803.8L323.6,803L323.8,802.2L323.9,801.4L324,800.6L324.1,799.8L324.2,799L324.3,798.2L324.3,797.4L324.2,796.6L324.2,795.8L324.1,795L324,794.2L323.9,793.4L323.7,792.6L323.6,791.8L323.4,791L323.3,790.2L323.1,789.4L323,788.6L322.8,787.8L322.7,787L322.6,786.2L322.6,785.4L322.4,784.6L322.3,783.8L322.1,783L321.9,782.2L321.7,781.4L321.5,780.6L321.3,779.8L321.2,779L321.2,778.2L321.2,777.4L321.2,776.6L321.2,775.8L321.2,775L321.2,774.2L321.2,773.4L321.2,772.6L321.2,771.8L321.2,771L321.2,770.2L321.2,769.4L321.2,768.6L321.2,767.8L321.2,767L321.2,766.2L321.2,765.4L321.2,764.6L321.2,763.8L321.2,763L321.2,762.2L321.2,761.4L321.2,760.6L321.2,759.8L321.2,759L321.2,758.2L321.2,757.4L321.3,756.6L321.4,755.8L321.4,755L321.4,754.2L321.3,753.4L321.3,752.6L321.2,751.8L321.2,751L321.2,750.2L321.2,749.4L321.2,748.6L321.2,747.8L321.2,747L321.2,746.2L321.2,745.4L321.2,744.6L321.2,743.8L321.2,743L321.3,742.2L321.4,741.4L321.4,740.6L321.4,739.8L321.4,739L321.3,738.2L321.2,737.4L321.2,736.6L321.2,735.8L321.2,735L321.2,734.2L321.2,733.4L321.2,732.6L321.2,731.8L321.2,731L321.2,730.2L321.2,729.4L321.2,728.6L321.3,727.8L321.3,727L321.4,726.2L321.4,725.4L321.4,724.6L321.3,723.8L321.3,723L321.2,722.2L321.2,721.4L321.2,720.6L321.2,719.8L321.2,719L321.2,718.2L321.2,717.4L321.2,716.6L321.2,715.8L321.2,715L321.2,714.2L321.3,713.4L321.3,712.6L321.4,711.8L321.1,711Z" fill="#f8dfe1" stroke="#ec8f8d" stroke-width="0.6"/>
<line x1="317.49" y1="796.7" x2="324.25" y2="796.7" stroke="#a61c1c" stroke-width="2.0" />
<line x1="317.72" y1="800.26" x2="324.02" y2="800.26" stroke="#c23a3a" stroke-width="0.8" stroke-dasharray="0.9,0.9"/>
<line x1="320.32" y1="754.93" x2="321.42" y2="754.93" stroke="#c23a3a" stroke-width="0.8" stroke-dasharray="0.9,0.9"/>
<path d="M329.9,730.3L329.4,731.1L329.5,731.9L329.5,732.7L329.5,733.5L329.5,734.3L329.5,735.1L329.5,735.9L329.4,736.7L329.4,737.5L329.5,738.3L329.6,739.1L329.7,739.9L329.8,740.7L329.9,741.5L329.9,742.3L329.9,743.1L329.9,743.9L329.8,744.7L329.7,745.5L329.6,746.3L329.5,747.1L329.5,747.9L329.5,748.7L329.5,749.5L329.6,750.3L329.7,751.1L329.8,751.9L329.9,752.7L329.9,753.5L329.9,754.3L329.9,755.1L329.9,755.9L329.9,756.7L329.9,757.5L329.9,758.3L329.7,759.1L329.6,759.9L329.5,760.7L329.5,761.5L329.5,762.3L329.5,763.1L329.6,763.9L329.7,764.7L329.8,765.5L329.9,766.3L329.9,767.1L329.9,767.9L329.9,768.7L329.9,769.5L329.9,770.3L329.9,771.1L329.9,771.9L329.8,772.7L329.6,773.5L329.4,774.3L329.2,775.1L328.9,775.9L328.7,776.7L328.6,777.5L328.5,778.3L328.5,779.1L328.5,779.9L328.5,780.7L328.5,781.5L328.4,782.3L328.2,783.1L328.1,783.9L328,784.7L327.8,785.5L327.7,786.3L327.6,787.1L327.5,787.9L327.4,788.7L327.3,789.5L327.2,790.3L327.1,791.1L327,791.9L326.9,792.7L326.8,793.5L326.8,794.3L326.8,795.1L326.8,795.9L326.8,796.7L326.9,797.5L327,798.3L327.1,799.1L327.2,799.9L327.3,800.7L327.4,801.5L327.5,802.3L327.6,803.1L327.7,803.9L327.8,804.7L327.9,805.5L328,806.3L328.1,807.1L328.2,807.9L328.4,808.7L328.5,809.5L328.5,810.3L328.6,811.1L328.5,811.9L328.5,812.7L328.5,813.5L328.6,814.3L328.7,815.1L329,815.9L329.2,816.7L329.5,817.5L329.7,818.3L329.9,819.1L329.9,819.9L329.9,820.7L329.9,821.5L329.9,822.3L329.9,823.1L329.9,823.9L329.9,824.7L329.9,825.5L329.9,826.3L329.9,827.1L329.9,827.9L329.9,828.7L329.9,829.5L329.9,829.9L330.4,829.9L330.5,829.5L330.5,828.7L330.5,827.9L330.5,827.1L330.5,826.3L330.5,825.5L330.5,824.7L330.5,823.9L330.5,823.1L330.5,822.3L330.5,821.5L330.5,820.7L330.5,819.9L330.5,819.1L330.6,818.3L330.8,817.5L331.1,816.7L331.4,815.9L331.6,815.1L331.7,814.3L331.8,813.5L331.8,812.7L331.8,811.9L331.8,811.1L331.8,810.3L331.8,809.5L332,808.7L332.1,807.9L332.2,807.1L332.4,806.3L332.5,805.5L332.5,804.7L332.6,803.9L332.7,803.1L332.8,802.3L332.9,801.5L333,800.7L333.1,799.9L333.2,799.1L333.3,798.3L333.4,797.5L333.5,796.7L333.5,795.9L333.6,795.1L333.5,794.3L333.5,793.5L333.4,792.7L333.4,791.9L333.3,791.1L333.1,790.3L333,789.5L332.9,788.7L332.8,787.9L332.7,787.1L332.6,786.3L332.5,785.5L332.4,784.7L332.2,783.9L332.1,783.1L331.9,782.3L331.8,781.5L331.8,780.7L331.8,779.9L331.8,779.1L331.8,778.3L331.8,777.5L331.6,776.7L331.4,775.9L331.2,775.1L330.9,774.3L330.7,773.5L330.5,772.7L330.5,771.9L330.5,771.1L330.5,770.3L330.5,769.5L330.5,768.7L330.5,767.9L330.5,767.1L330.5,766.3L330.5,765.5L330.6,764.7L330.7,763.9L330.8,763.1L330.8,762.3L330.8,761.5L330.8,760.7L330.7,759.9L330.6,759.1L330.5,758.3L330.5,757.5L330.5,756.7L330.5,755.9L330.5,755.1L330.5,754.3L330.5,753.5L330.5,752.7L330.5,751.9L330.6,751.1L330.7,750.3L330.8,749.5L330.8,748.7L330.8,747.9L330.8,747.1L330.7,746.3L330.6,745.5L330.5,744.7L330.5,743.9L330.5,743.1L330.5,742.3L330.5,741.5L330.6,740.7L330.7,739.9L330.8,739.1L330.8,738.3L330.9,737.5L330.9,736.7L330.8,735.9L330.8,735.1L330.8,734.3L330.8,733.5L330.8,732.7L330.9,731.9L330.9,731.1L330.4,730.3Z" fill="#f8dfe1" stroke="#ec8f8d" stroke-width="0.6"/>
<line x1="326.77" y1="794" x2="333.55" y2="794" stroke="#a61c1c" stroke-width="2.0" />
<line x1="326.99" y1="798.6" x2="333.33" y2="798.6" stroke="#c23a3a" stroke-width="0.8" stroke-dasharray="0.9,0.9"/>
<line x1="329.48" y1="761.99" x2="330.84" y2="761.99" stroke="#c23a3a" stroke-width="0.8" stroke-dasharray="0.9,0.9"/>
<path d="M339.2,730.3L338.7,731.1L338.8,731.9L338.9,732.7L339,733.5L339.1,734.3L339.1,735.1L339.1,735.9L339.1,736.7L339.1,737.5L339.1,738.3L338.9,739.1L338.8,739.9L338.7,740.7L338.6,741.5L338.5,742.3L338.5,743.1L338.4,743.9L338.4,744.7L338.4,745.5L338.5,746.3L338.5,747.1L338.6,747.9L338.7,748.7L338.8,749.5L338.9,750.3L339,751.1L339.1,751.9L339.1,752.7L339.1,753.5L338.9,754.3L338.7,755.1L338.4,755.9L338.1,756.7L337.9,757.5L337.7,758.3L337.6,759.1L337.6,759.9L337.7,760.7L337.9,761.5L338,762.3L338,763.1L337.9,763.9L337.8,764.7L337.6,765.5L337.4,766.3L337.3,767.1L337.2,767.9L337.1,768.7L337,769.5L337,770.3L336.9,771.1L336.8,771.9L336.7,772.7L336.6,773.5L336.5,774.3L336.4,775.1L336.3,775.9L336.2,776.7L336.2,777.5L336.1,778.3L336.1,779.1L336.1,779.9L336.1,780.7L336.1,781.5L336.1,782.3L336.2,783.1L336.3,783.9L336.4,784.7L336.5,785.5L336.6,786.3L336.7,787.1L336.8,787.9L336.9,788.7L336.9,789.5L337,790.3L337.1,791.1L337.1,791.9L337.2,792.7L337.2,793.5L337.3,794.3L337.4,795.1L337.6,795.9L337.8,796.7L337.9,797.5L338.1,798.3L338.1,799.1L338,799.9L337.8,800.7L337.7,801.5L337.6,802.3L337.6,803.1L337.8,803.9L338,804.7L338.3,805.5L338.6,806.3L338.9,807.1L339.1,807.9L339.1,808.7L339.1,809.5L339.1,810.3L339.1,811.1L339.1,811.9L339.1,812.7L339.1,813.5L339.1,814.3L339.1,815.1L339.1,815.9L339.1,816.7L339.1,817.5L339.1,818.3L339.1,819.1L339.1,819.9L339.1,820.7L339.1,821.5L339.2,822.2L339.7,822.2L339.8,821.5L339.8,820.7L339.8,819.9L339.8,819.1L339.8,818.3L339.8,817.5L339.8,816.7L339.8,815.9L339.8,815.1L339.8,814.3L339.8,813.5L339.8,812.7L339.8,811.9L339.8,811.1L339.8,810.3L339.8,809.5L339.8,808.7L339.8,807.9L340,807.1L340.3,806.3L340.6,805.5L340.9,804.7L341.1,803.9L341.3,803.1L341.3,802.3L341.2,801.5L341.1,800.7L340.9,799.9L340.8,799.1L340.8,798.3L341,797.5L341.1,796.7L341.3,795.9L341.5,795.1L341.6,794.3L341.7,793.5L341.7,792.7L341.8,791.9L341.8,791.1L341.9,790.3L342,789.5L342,788.7L342.1,787.9L342.2,787.1L342.3,786.3L342.4,785.5L342.5,784.7L342.6,783.9L342.7,783.1L342.8,782.3L342.8,781.5L342.8,780.7L342.8,779.9L342.8,779.1L342.8,778.3L342.7,777.5L342.7,776.7L342.6,775.9L342.5,775.1L342.4,774.3L342.3,773.5L342.2,772.7L342.1,771.9L342,771.1L341.9,770.3L341.9,769.5L341.8,768.7L341.7,767.9L341.6,767.1L341.5,766.3L341.3,765.5L341.1,764.7L341,763.9L340.9,763.1L340.9,762.3L341,761.5L341.2,760.7L341.3,759.9L341.3,759.1L341.2,758.3L341,757.5L340.8,756.7L340.5,755.9L340.2,755.1L340,754.3L339.8,753.5L339.8,752.7L339.8,751.9L339.9,751.1L340,750.3L340.1,749.5L340.2,748.7L340.3,747.9L340.4,747.1L340.4,746.3L340.5,745.5L340.5,744.7L340.5,743.9L340.4,743.1L340.4,742.3L340.3,741.5L340.2,740.7L340.1,739.9L340,739.1L339.8,738.3L339.8,737.5L339.8,736.7L339.8,735.9L339.8,735.1L339.8,734.3L339.9,733.5L340,732.7L340.1,731.9L340.2,731.1L339.7,730.3Z" fill="#f8dfe1" stroke="#ec8f8d" stroke-width="0.6"/>
<line x1="336.07" y1="778.7" x2="342.83" y2="778.7" stroke="#a61c1c" stroke-width="2.0" />
<line x1="336.86" y1="789.07" x2="342.04" y2="789.07" stroke="#c23a3a" stroke-width="0.8" stroke-dasharray="0.9,0.9"/>
<line x1="337.6" y1="759.02" x2="341.3" y2="759.02" stroke="#c23a3a" stroke-width="0.8" stroke-dasharray="0.9,0.9"/>
<path d="M348.5,755.8L348.2,756.6L348.3,757.4L348.3,758.2L348.3,759L348.3,759.8L348.3,760.6L348.3,761.4L348.3,762.2L348.2,763L348.2,763.8L348.3,764.6L348.3,765.4L348.4,766.2L348.4,767L348.4,767.8L348.4,768.6L348.4,769.4L348.4,770.2L348.4,771L348.4,771.8L348.3,772.6L348.1,773.4L347.9,774.2L347.6,775L347.4,775.8L347.2,776.6L347.1,777.4L347,778.2L346.8,779L346.7,779.8L346.6,780.6L346.4,781.4L346.3,782.2L346.1,783L345.9,783.8L345.8,784.6L345.6,785.4L345.5,786.2L345.4,787L345.4,787.8L345.3,788.6L345.4,789.4L345.4,790.2L345.5,791L345.6,791.8L345.8,792.6L345.9,793.4L346,794.2L346.2,795L346.3,795.8L346.5,796.6L346.6,797.4L346.7,798.2L346.9,799L347,799.8L347.1,800.6L347.2,801.4L347.4,802.2L347.6,803L347.8,803.8L348,804.6L348.2,805.4L348.4,806.2L348.4,807L348.4,807.8L348.4,808.6L348.4,809.4L348.4,810.2L348.4,811L348.4,811.8L348.4,812.6L348.5,813.1L349,813.1L349,812.6L349,811.8L349,811L349,810.2L349,809.4L349,808.6L349,807.8L349,807L349.1,806.2L349.3,805.4L349.5,804.6L349.7,803.8L349.9,803L350.1,802.2L350.3,801.4L350.4,800.6L350.5,799.8L350.6,799L350.7,798.2L350.9,797.4L351,796.6L351.2,795.8L351.3,795L351.4,794.2L351.6,793.4L351.7,792.6L351.9,791.8L352,791L352.1,790.2L352.1,789.4L352.1,788.6L352.1,787.8L352.1,787L352,786.2L351.8,785.4L351.7,784.6L351.6,783.8L351.4,783L351.2,782.2L351.1,781.4L350.9,780.6L350.8,779.8L350.6,779L350.5,778.2L350.4,777.4L350.2,776.6L350.1,775.8L349.9,775L349.6,774.2L349.4,773.4L349.2,772.6L349.1,771.8L349,771L349,770.2L349,769.4L349,768.6L349,767.8L349,767L349.1,766.2L349.2,765.4L349.2,764.6L349.3,763.8L349.2,763L349.2,762.2L349.2,761.4L349.1,760.6L349.1,759.8L349.1,759L349.2,758.2L349.2,757.4L349.2,756.6L349,755.8Z" fill="#f8dfe1" stroke="#ec8f8d" stroke-width="0.6"/>
<line x1="345.36" y1="787.9" x2="352.12" y2="787.9" stroke="#a61c1c" stroke-width="2.0" />
<line x1="346.04" y1="793.91" x2="351.44" y2="793.91" stroke="#c23a3a" stroke-width="0.8" stroke-dasharray="0.9,0.9"/>
<line x1="347.24" y1="776.5" x2="350.24" y2="776.5" stroke="#c23a3a" stroke-width="0.8" stroke-dasharray="0.9,0.9"/>
<path d="M362.6,756.3L362.2,757.1L362.3,757.9L362.5,758.7L362.6,759.5L362.6,760.3L362.6,761.1L362.6,761.9L362.6,762.7L362.5,763.5L362.4,764.3L362.3,765.1L362.2,765.9L362.2,766.7L362.3,767.5L362.4,768.3L362.5,769.1L362.6,769.9L362.6,770.7L362.6,771.5L362.6,772.3L362.6,773.1L362.6,773.9L362.6,774.7L362.6,775.5L362.5,776.3L362.4,777.1L362.3,777.9L362.2,778.7L362.2,779.5L362.3,780.3L362.4,781.1L362.5,781.9L362.6,782.7L362.6,783.5L362.4,784.3L362.2,785.1L362,785.9L361.7,786.7L361.5,787.5L361.2,788.3L360.9,789.1L360.7,789.9L360.5,790.7L360.2,791.5L360,792.3L359.8,793.1L359.7,793.9L359.6,794.7L359.6,795.5L359.7,796.3L359.8,797.1L360,797.9L360.2,798.7L360.4,799.5L360.6,800.3L360.9,801.1L361.1,801.9L361.3,802.7L361.6,803.5L361.8,804.3L362.1,805.1L362.3,805.9L362.5,806.7L362.6,807.5L362.6,808.3L362.6,809.1L362.6,809.9L362.6,810.4L363.1,810.4L363.2,809.9L363.2,809.1L363.2,808.3L363.2,807.5L363.3,806.7L363.5,805.9L363.7,805.1L364,804.3L364.2,803.5L364.5,802.7L364.7,801.9L364.9,801.1L365.2,800.3L365.4,799.5L365.6,798.7L365.8,797.9L366,797.1L366.1,796.3L366.2,795.5L366.2,794.7L366.1,793.9L366,793.1L365.8,792.3L365.6,791.5L365.3,790.7L365.1,789.9L364.9,789.1L364.6,788.3L364.3,787.5L364.1,786.7L363.8,785.9L363.6,785.1L363.4,784.3L363.2,783.5L363.2,782.7L363.3,781.9L363.4,781.1L363.5,780.3L363.6,779.5L363.6,778.7L363.5,777.9L363.4,777.1L363.3,776.3L363.2,775.5L363.2,774.7L363.2,773.9L363.2,773.1L363.2,772.3L363.2,771.5L363.2,770.7L363.2,769.9L363.3,769.1L363.4,768.3L363.5,767.5L363.6,766.7L363.6,765.9L363.5,765.1L363.4,764.3L363.3,763.5L363.2,762.7L363.2,761.9L363.2,761.1L363.2,760.3L363.2,759.5L363.3,758.7L363.5,757.9L363.6,757.1L363.1,756.3Z" fill="#a8a8a8" stroke="#4a4a4a" stroke-width="0.6"/>
<line x1="359.6" y1="794.6" x2="366.2" y2="794.6" stroke="#000" stroke-width="2.0" />
<line x1="360.19" y1="798.37" x2="365.61" y2="798.37" stroke="#222" stroke-width="0.8" stroke-dasharray="0.9,0.9"/>
<line x1="361.45" y1="787.45" x2="364.35" y2="787.45" stroke="#222" stroke-width="0.8" stroke-dasharray="0.9,0.9"/>
<path d="M371.9,749.4L371.4,750.2L371.6,751L371.7,751.8L371.9,752.6L371.9,753.4L371.9,754.2L371.9,755L371.9,755.8L371.9,756.6L371.9,757.4L371.8,758.2L371.6,759L371.5,759.8L371.4,760.6L371.4,761.4L371.5,762.2L371.6,763L371.8,763.8L371.9,764.6L371.9,765.4L371.9,766.2L371.9,767L371.9,767.8L371.9,768.6L371.9,769.4L371.9,770.2L371.9,771L371.9,771.8L371.9,772.6L371.7,773.4L371.6,774.2L371.5,775L371.4,775.8L371.4,776.6L371.5,777.4L371.7,778.2L371.8,779L371.9,779.8L371.9,780.6L371.8,781.4L371.7,782.2L371.5,783L371.2,783.8L370.9,784.6L370.7,785.4L370.5,786.2L370.3,787L370.1,787.8L370,788.6L369.7,789.4L369.5,790.2L369.3,791L369.2,791.8L369,792.6L368.9,793.4L368.9,794.2L368.9,795L369,795.8L369.1,796.6L369.3,797.4L369.5,798.2L369.7,799L369.9,799.8L370,800.6L370.2,801.4L370.4,802.2L370.5,803L370.7,803.8L370.9,804.6L371.2,805.4L371.4,806.2L371.7,807L371.9,807.8L371.9,808.6L371.9,809.4L371.9,810.2L371.9,811L371.9,811.8L371.9,812.5L372.4,812.5L372.5,811.8L372.5,811L372.5,810.2L372.5,809.4L372.5,808.6L372.5,807.8L372.7,807L372.9,806.2L373.2,805.4L373.4,804.6L373.7,803.8L373.8,803L374,802.2L374.2,801.4L374.3,800.6L374.5,799.8L374.7,799L374.9,798.2L375.1,797.4L375.2,796.6L375.4,795.8L375.5,795L375.5,794.2L375.5,793.4L375.4,792.6L375.2,791.8L375,791L374.8,790.2L374.6,789.4L374.4,788.6L374.2,787.8L374.1,787L373.9,786.2L373.7,785.4L373.4,784.6L373.2,783.8L372.9,783L372.7,782.2L372.5,781.4L372.5,780.6L372.5,779.8L372.6,779L372.7,778.2L372.9,777.4L373,776.6L373,775.8L372.9,775L372.8,774.2L372.6,773.4L372.5,772.6L372.5,771.8L372.5,771L372.5,770.2L372.5,769.4L372.5,768.6L372.5,767.8L372.5,767L372.5,766.2L372.5,765.4L372.5,764.6L372.6,763.8L372.8,763L372.9,762.2L373,761.4L373,760.6L372.9,759.8L372.7,759L372.6,758.2L372.5,757.4L372.5,756.6L372.5,755.8L372.5,755L372.5,754.2L372.5,753.4L372.5,752.6L372.7,751.8L372.8,751L372.9,750.2L372.4,749.4Z" fill="#a8a8a8" stroke="#4a4a4a" stroke-width="0.6"/>
<line x1="368.92" y1="793.7" x2="375.46" y2="793.7" stroke="#000" stroke-width="2.0" />
<line x1="369.48" y1="798.18" x2="374.9" y2="798.18" stroke="#222" stroke-width="0.8" stroke-dasharray="0.9,0.9"/>
<line x1="370.71" y1="785.19" x2="373.67" y2="785.19" stroke="#222" stroke-width="0.8" stroke-dasharray="0.9,0.9"/>
<path d="M381.2,753L380.9,753.8L381,754.6L381.1,755.4L381.2,756.2L381.2,757L381.2,757.8L381.2,758.6L381.2,759.4L381.2,760.2L381.2,761L381.2,761.8L381.2,762.6L381.1,763.4L381,764.2L380.9,765L380.9,765.8L380.9,766.6L380.9,767.4L381.1,768.2L381.2,769L381.2,769.8L381.2,770.6L381.2,771.4L381.2,772.2L381.1,773L381,773.8L380.9,774.6L380.8,775.4L380.9,776.2L380.9,777L381.1,777.8L381.2,778.6L381.2,779.4L381.2,780.2L381.2,781L381.2,781.8L381.2,782.6L381.1,783.4L380.8,784.2L380.6,785L380.3,785.8L380,786.6L379.7,787.4L379.4,788.2L379.1,789L378.8,789.8L378.6,790.6L378.4,791.4L378.2,792.2L378.2,793L378.2,793.8L378.3,794.6L378.4,795.4L378.7,796.2L378.9,797L379.1,797.8L379.4,798.6L379.7,799.4L379.9,800.2L380.2,801L380.5,801.8L380.8,802.6L381,803.4L381.2,804.2L381.2,805L381.2,805.8L381.2,806.6L381.2,806.9L381.7,806.9L381.8,806.6L381.8,805.8L381.8,805L381.8,804.2L382,803.4L382.2,802.6L382.5,801.8L382.7,801L383,800.2L383.3,799.4L383.6,798.6L383.8,797.8L384.1,797L384.3,796.2L384.5,795.4L384.7,794.6L384.8,793.8L384.8,793L384.7,792.2L384.6,791.4L384.4,790.6L384.1,789.8L383.9,789L383.6,788.2L383.3,787.4L383,786.6L382.7,785.8L382.4,785L382.1,784.2L381.9,783.4L381.8,782.6L381.8,781.8L381.8,781L381.8,780.2L381.8,779.4L381.8,778.6L381.9,777.8L382,777L382.1,776.2L382.1,775.4L382.1,774.6L382,773.8L381.8,773L381.8,772.2L381.8,771.4L381.8,770.6L381.8,769.8L381.8,769L381.9,768.2L382,767.4L382.1,766.6L382.1,765.8L382.1,765L381.9,764.2L381.8,763.4L381.8,762.6L381.8,761.8L381.8,761L381.8,760.2L381.8,759.4L381.8,758.6L381.8,757.8L381.8,757L381.8,756.2L381.9,755.4L382,754.6L382.1,753.8L381.7,753Z" fill="#a8a8a8" stroke="#4a4a4a" stroke-width="0.6"/>
<line x1="378.18" y1="792.8" x2="384.78" y2="792.8" stroke="#000" stroke-width="2.0" />
<line x1="378.65" y1="796.16" x2="384.31" y2="796.16" stroke="#222" stroke-width="0.8" stroke-dasharray="0.9,0.9"/>
<line x1="379.96" y1="786.42" x2="383" y2="786.42" stroke="#222" stroke-width="0.8" stroke-dasharray="0.9,0.9"/>
<path d="M390.5,753.4L390,754.2L390.1,755L390.3,755.8L390.4,756.6L390.5,757.4L390.5,758.2L390.5,759L390.5,759.8L390.5,760.6L390.5,761.4L390.5,762.2L390.3,763L390.2,763.8L390,764.6L390,765.4L390,766.2L390.1,767L390.3,767.8L390.4,768.6L390.5,769.4L390.5,770.2L390.5,771L390.5,771.8L390.4,772.6L390.2,773.4L390.1,774.2L390,775L390,775.8L390.1,776.6L390.2,777.4L390.3,778.2L390.4,779L390.4,779.8L390.4,780.6L390.2,781.4L390,782.2L389.8,783L389.5,783.8L389.3,784.6L389.1,785.4L388.9,786.2L388.7,787L388.5,787.8L388.3,788.6L388.1,789.4L387.9,790.2L387.7,791L387.6,791.8L387.5,792.6L387.5,793.4L387.5,794.2L387.6,795L387.7,795.8L387.9,796.6L388.1,797.4L388.3,798.2L388.5,799L388.6,799.8L388.8,800.6L389,801.4L389.2,802.2L389.3,803L389.6,803.8L389.8,804.6L390.1,805.4L390.3,806.2L390.5,807L390.5,807.8L390.5,808.6L390.5,809.4L390.5,810.2L390.5,811L390.5,811.5L391,811.5L391.1,811L391.1,810.2L391.1,809.4L391.1,808.6L391.1,807.8L391.1,807L391.2,806.2L391.5,805.4L391.7,804.6L392,803.8L392.2,803L392.4,802.2L392.6,801.4L392.7,800.6L392.9,799.8L393.1,799L393.3,798.2L393.5,797.4L393.6,796.6L393.8,795.8L393.9,795L394,794.2L394.1,793.4L394,792.6L394,791.8L393.8,791L393.6,790.2L393.4,789.4L393.2,788.6L393,787.8L392.8,787L392.6,786.2L392.5,785.4L392.3,784.6L392,783.8L391.8,783L391.5,782.2L391.3,781.4L391.2,780.6L391.1,779.8L391.1,779L391.2,778.2L391.4,777.4L391.5,776.6L391.6,775.8L391.5,775L391.5,774.2L391.3,773.4L391.2,772.6L391.1,771.8L391.1,771L391.1,770.2L391.1,769.4L391.1,768.6L391.3,767.8L391.4,767L391.5,766.2L391.6,765.4L391.5,764.6L391.4,763.8L391.2,763L391.1,762.2L391.1,761.4L391.1,760.6L391.1,759.8L391.1,759L391.1,758.2L391.1,757.4L391.1,756.6L391.3,755.8L391.4,755L391.5,754.2L391,753.4Z" fill="#a8a8a8" stroke="#4a4a4a" stroke-width="0.6"/>
<line x1="387.5" y1="792.8" x2="394.04" y2="792.8" stroke="#000" stroke-width="2.0" />
<line x1="388.08" y1="797.26" x2="393.46" y2="797.26" stroke="#222" stroke-width="0.8" stroke-dasharray="0.9,0.9"/>
<line x1="389.28" y1="784.34" x2="392.26" y2="784.34" stroke="#222" stroke-width="0.8" stroke-dasharray="0.9,0.9"/>
<path d="M399.8,767.4L399.6,768.2L399.6,769L399.7,769.8L399.7,770.6L399.7,771.4L399.7,772.2L399.6,773L399.6,773.8L399.5,774.6L399.6,775.4L399.7,776.2L399.8,777L399.8,777.8L399.8,778.6L399.8,779.4L399.8,780.2L399.8,781L399.8,781.8L399.8,782.6L399.8,783.4L399.8,784.2L399.8,785L399.8,785.8L399.8,786.6L399.8,787.4L399.6,788.2L399.3,789L399,789.8L398.6,790.6L398.3,791.4L397.9,792.2L397.5,793L397.2,793.8L396.9,794.6L396.8,795.4L396.8,796.2L396.8,797L397,797.8L397.3,798.6L397.6,799.4L397.9,800.2L398.3,801L398.7,801.8L399,802.6L399.3,803.4L399.6,804.2L399.8,805L399.8,805.8L399.8,806.2L400.3,806.2L400.4,805.8L400.4,805L400.5,804.2L400.8,803.4L401.1,802.6L401.5,801.8L401.8,801L402.2,800.2L402.5,799.4L402.9,798.6L403.1,797.8L403.3,797L403.4,796.2L403.3,795.4L403.2,794.6L402.9,793.8L402.6,793L402.3,792.2L401.9,791.4L401.5,790.6L401.1,789.8L400.8,789L400.5,788.2L400.4,787.4L400.4,786.6L400.4,785.8L400.4,785L400.4,784.2L400.4,783.4L400.4,782.6L400.4,781.8L400.4,781L400.4,780.2L400.4,779.4L400.4,778.6L400.4,777.8L400.4,777L400.5,776.2L400.5,775.4L400.6,774.6L400.6,773.8L400.5,773L400.4,772.2L400.4,771.4L400.4,770.6L400.4,769.8L400.5,769L400.6,768.2L400.3,767.4Z" fill="#a8a8a8" stroke="#4a4a4a" stroke-width="0.6"/>
<line x1="396.8" y1="795.7" x2="403.32" y2="795.7" stroke="#000" stroke-width="2.0" />
<line x1="397.26" y1="798.2" x2="402.86" y2="798.2" stroke="#222" stroke-width="0.8" stroke-dasharray="0.9,0.9"/>
<line x1="398.64" y1="790.95" x2="401.48" y2="790.95" stroke="#222" stroke-width="0.8" stroke-dasharray="0.9,0.9"/>
<path d="M409.1,750.4L408.6,751.2L408.7,752L408.8,752.8L409,753.6L409,754.4L409,755.2L409,756L409,756.8L409,757.6L409,758.4L409,759.2L408.9,760L408.7,760.8L408.6,761.6L408.5,762.4L408.5,763.2L408.7,764L408.8,764.8L409,765.6L409,766.4L409,767.2L409,768L409,768.8L409,769.6L409,770.4L408.9,771.2L408.7,772L408.6,772.8L408.5,773.6L408.6,774.4L408.7,775.2L408.8,776L408.9,776.8L409,777.6L409,778.4L408.9,779.2L408.7,780L408.5,780.8L408.2,781.6L408,782.4L407.8,783.2L407.6,784L407.4,784.8L407.3,785.6L407.1,786.4L406.9,787.2L406.7,788L406.5,788.8L406.3,789.6L406.2,790.4L406.1,791.2L406,792L406.1,792.8L406.2,793.6L406.3,794.4L406.4,795.2L406.6,796L406.8,796.8L407,797.6L407.1,798.4L407.3,799.2L407.5,800L407.6,800.8L407.8,801.6L408,802.4L408.2,803.2L408.4,804L408.7,804.8L408.9,805.6L409,806.4L409,807.2L409,808L409,808.8L409,809.6L409,810.4L409,811.2L409.1,811.2L409.6,811.2L409.6,811.2L409.6,810.4L409.6,809.6L409.6,808.8L409.6,808L409.6,807.2L409.6,806.4L409.8,805.6L410,804.8L410.3,804L410.5,803.2L410.7,802.4L410.9,801.6L411.1,800.8L411.2,800L411.4,799.2L411.6,798.4L411.7,797.6L411.9,796.8L412.1,796L412.3,795.2L412.4,794.4L412.5,793.6L412.6,792.8L412.6,792L412.6,791.2L412.5,790.4L412.4,789.6L412.2,788.8L412,788L411.8,787.2L411.6,786.4L411.4,785.6L411.3,784.8L411.1,784L410.9,783.2L410.7,782.4L410.5,781.6L410.2,780.8L410,780L409.8,779.2L409.7,778.4L409.7,777.6L409.8,776.8L409.9,776L410,775.2L410.1,774.4L410.2,773.6L410.1,772.8L410,772L409.8,771.2L409.7,770.4L409.6,769.6L409.6,768.8L409.6,768L409.6,767.2L409.6,766.4L409.7,765.6L409.9,764.8L410,764L410.2,763.2L410.2,762.4L410.1,761.6L410,760.8L409.8,760L409.7,759.2L409.6,758.4L409.6,757.6L409.6,756.8L409.6,756L409.6,755.2L409.6,754.4L409.7,753.6L409.9,752.8L410,752L410.1,751.2L409.6,750.4Z" fill="#a8a8a8" stroke="#4a4a4a" stroke-width="0.6"/>
<line x1="406.08" y1="791.5" x2="412.62" y2="791.5" stroke="#000" stroke-width="2.0" />
<line x1="406.61" y1="796.2" x2="412.09" y2="796.2" stroke="#222" stroke-width="0.8" stroke-dasharray="0.9,0.9"/>
<line x1="407.98" y1="782.59" x2="410.72" y2="782.59" stroke="#222" stroke-width="0.8" stroke-dasharray="0.9,0.9"/>
<path d="M418.4,758.6L417.9,759.4L418,760.2L418.1,761L418.3,761.8L418.3,762.6L418.3,763.4L418.3,764.2L418.3,765L418.3,765.8L418.2,766.6L418,767.4L417.9,768.2L417.8,769L417.9,769.8L418,770.6L418.1,771.4L418.3,772.2L418.3,773L418.3,773.8L418.3,774.6L418.3,775.4L418.3,776.2L418.3,777L418.1,777.8L418,778.6L417.9,779.4L417.8,780.2L417.8,781L417.8,781.8L417.9,782.6L417.8,783.4L417.7,784.2L417.6,785L417.4,785.8L417.2,786.6L417,787.4L416.8,788.2L416.7,789L416.5,789.8L416.3,790.6L416.1,791.4L415.9,792.2L415.7,793L415.5,793.8L415.4,794.6L415.3,795.4L415.3,796.2L415.4,797L415.5,797.8L415.6,798.6L415.8,799.4L416,800.2L416.2,801L416.4,801.8L416.5,802.6L416.7,803.4L416.9,804.2L417,805L417.2,805.8L417.4,806.6L417.6,807.4L417.9,808.2L418.1,809L418.3,809.8L418.3,810.6L418.3,811.4L418.3,812.2L418.3,813L418.3,813.8L418.3,814.6L418.4,814.7L418.9,814.7L418.9,814.6L418.9,813.8L418.9,813L418.9,812.2L418.9,811.4L418.9,810.6L418.9,809.8L419.1,809L419.4,808.2L419.6,807.4L419.9,806.6L420.1,805.8L420.3,805L420.4,804.2L420.6,803.4L420.7,802.6L420.9,801.8L421.1,801L421.3,800.2L421.5,799.4L421.6,798.6L421.8,797.8L421.9,797L421.9,796.2L421.9,795.4L421.9,794.6L421.8,793.8L421.6,793L421.4,792.2L421.2,791.4L421,790.6L420.8,789.8L420.6,789L420.5,788.2L420.3,787.4L420.1,786.6L419.9,785.8L419.7,785L419.5,784.2L419.4,783.4L419.4,782.6L419.4,781.8L419.5,781L419.5,780.2L419.4,779.4L419.3,778.6L419.1,777.8L419,777L418.9,776.2L418.9,775.4L418.9,774.6L418.9,773.8L418.9,773L419,772.2L419.2,771.4L419.3,770.6L419.4,769.8L419.5,769L419.4,768.2L419.3,767.4L419.1,766.6L419,765.8L418.9,765L418.9,764.2L418.9,763.4L418.9,762.6L419,761.8L419.1,761L419.3,760.2L419.4,759.4L418.9,758.6Z" fill="#a8a8a8" stroke="#4a4a4a" stroke-width="0.6"/>
<line x1="415.34" y1="795.3" x2="421.94" y2="795.3" stroke="#000" stroke-width="2.0" />
<line x1="415.99" y1="799.93" x2="421.29" y2="799.93" stroke="#222" stroke-width="0.8" stroke-dasharray="0.9,0.9"/>
<line x1="417.17" y1="786.52" x2="420.11" y2="786.52" stroke="#222" stroke-width="0.8" stroke-dasharray="0.9,0.9"/>
<path d="M427.7,755.2L427.2,756L427.3,756.8L427.4,757.6L427.6,758.4L427.6,759.2L427.6,760L427.6,760.8L427.6,761.6L427.6,762.4L427.6,763.2L427.6,764L427.4,764.8L427.3,765.6L427.2,766.4L427.1,767.2L427.2,768L427.3,768.8L427.4,769.6L427.5,770.4L427.5,771.2L427.4,772L427.3,772.8L427.2,773.6L427.1,774.4L427.1,775.2L427.2,776L427.4,776.8L427.5,777.6L427.6,778.4L427.6,779.2L427.6,780L427.5,780.8L427.4,781.6L427.1,782.4L426.9,783.2L426.6,784L426.4,784.8L426.2,785.6L426,786.4L425.8,787.2L425.6,788L425.4,788.8L425.2,789.6L425,790.4L424.8,791.2L424.7,792L424.6,792.8L424.6,793.6L424.7,794.4L424.8,795.2L424.9,796L425.1,796.8L425.3,797.6L425.5,798.4L425.7,799.2L425.8,800L426,800.8L426.2,801.6L426.4,802.4L426.6,803.2L426.8,804L427,804.8L427.3,805.6L427.5,806.4L427.6,807.2L427.6,808L427.6,808.8L427.6,809.6L427.6,810.4L427.6,811.2L427.7,811.5L428.2,811.5L428.2,811.2L428.2,810.4L428.2,809.6L428.2,808.8L428.2,808L428.2,807.2L428.3,806.4L428.6,805.6L428.8,804.8L429.1,804L429.3,803.2L429.5,802.4L429.7,801.6L429.8,800.8L430,800L430.2,799.2L430.4,798.4L430.6,797.6L430.8,796.8L430.9,796L431.1,795.2L431.2,794.4L431.2,793.6L431.2,792.8L431.1,792L431,791.2L430.9,790.4L430.7,789.6L430.5,788.8L430.2,788L430,787.2L429.9,786.4L429.7,785.6L429.5,784.8L429.3,784L429,783.2L428.7,782.4L428.5,781.6L428.3,780.8L428.2,780L428.2,779.2L428.2,778.4L428.4,777.6L428.5,776.8L428.6,776L428.7,775.2L428.7,774.4L428.6,773.6L428.5,772.8L428.4,772L428.4,771.2L428.4,770.4L428.5,769.6L428.6,768.8L428.7,768L428.7,767.2L428.7,766.4L428.6,765.6L428.4,764.8L428.3,764L428.2,763.2L428.2,762.4L428.2,761.6L428.2,760.8L428.2,760L428.2,759.2L428.3,758.4L428.4,757.6L428.6,756.8L428.7,756L428.2,755.2Z" fill="#a8a8a8" stroke="#4a4a4a" stroke-width="0.6"/>
<line x1="424.64" y1="792.8" x2="431.22" y2="792.8" stroke="#000" stroke-width="2.0" />
<line x1="425.29" y1="797.26" x2="430.57" y2="797.26" stroke="#222" stroke-width="0.8" stroke-dasharray="0.9,0.9"/>
<line x1="426.61" y1="784.34" x2="429.25" y2="784.34" stroke="#222" stroke-width="0.8" stroke-dasharray="0.9,0.9"/>
<path d="M437,746L436.1,746.8L436.3,747.6L436.5,748.4L436.8,749.2L436.9,750L436.9,750.8L436.9,751.6L436.9,752.4L436.9,753.2L436.9,754L436.8,754.8L436.5,755.6L436.3,756.4L436.2,757.2L436.1,758L436.1,758.8L436.3,759.6L436.5,760.4L436.7,761.2L436.9,762L436.9,762.8L436.9,763.6L436.9,764.4L436.8,765.2L436.6,766L436.3,766.8L436.2,767.6L436.1,768.4L436.1,769.2L436.3,770L436.5,770.8L436.7,771.6L436.9,772.4L436.9,773.2L436.9,774L436.9,774.8L436.9,775.6L436.9,776.4L436.9,777.2L436.9,778L436.7,778.8L436.4,779.6L436.1,780.4L435.8,781.2L435.7,782L435.6,782.8L435.6,783.6L435.6,784.4L435.5,785.2L435.4,786L435.2,786.8L435.1,787.6L434.9,788.4L434.8,789.2L434.7,790L434.5,790.8L434.4,791.6L434.3,792.4L434.1,793.2L434,794L434,794.8L433.9,795.6L433.9,796.4L434,797.2L434.1,798L434.2,798.8L434.3,799.6L434.5,800.4L434.6,801.2L434.7,802L434.8,802.8L434.9,803.6L435,804.4L435.2,805.2L435.3,806L435.5,806.8L435.6,807.6L435.6,808.4L435.6,809.2L435.6,810L435.7,810.8L435.8,811.6L436.1,812.4L436.4,813.2L436.6,814L436.9,814.8L436.9,815.6L436.9,816.4L436.9,817.2L436.9,818L436.9,818.8L436.9,819.6L436.9,820.4L436.9,821.2L436.9,822L436.9,822.8L437,823.5L437.5,823.5L437.5,822.8L437.5,822L437.5,821.2L437.5,820.4L437.5,819.6L437.5,818.8L437.5,818L437.5,817.2L437.5,816.4L437.5,815.6L437.6,814.8L437.8,814L438.1,813.2L438.4,812.4L438.6,811.6L438.8,810.8L438.8,810L438.8,809.2L438.8,808.4L438.9,807.6L439,806.8L439.1,806L439.3,805.2L439.4,804.4L439.5,803.6L439.6,802.8L439.7,802L439.9,801.2L440,800.4L440.1,799.6L440.2,798.8L440.4,798L440.5,797.2L440.5,796.4L440.5,795.6L440.5,794.8L440.4,794L440.3,793.2L440.2,792.4L440.1,791.6L439.9,790.8L439.8,790L439.7,789.2L439.5,788.4L439.4,787.6L439.2,786.8L439,786L438.9,785.2L438.9,784.4L438.8,783.6L438.8,782.8L438.8,782L438.6,781.2L438.3,780.4L438.1,779.6L437.8,778.8L437.6,778L437.5,777.2L437.5,776.4L437.5,775.6L437.5,774.8L437.5,774L437.5,773.2L437.5,772.4L437.7,771.6L437.9,770.8L438.2,770L438.3,769.2L438.4,768.4L438.3,767.6L438.1,766.8L437.9,766L437.7,765.2L437.5,764.4L437.5,763.6L437.5,762.8L437.5,762L437.7,761.2L437.9,760.4L438.1,759.6L438.3,758.8L438.4,758L438.3,757.2L438.1,756.4L437.9,755.6L437.7,754.8L437.5,754L437.5,753.2L437.5,752.4L437.5,751.6L437.5,750.8L437.5,750L437.7,749.2L437.9,748.4L438.1,747.6L438.3,746.8L437.5,746Z" fill="#a8a8a8" stroke="#4a4a4a" stroke-width="0.6"/>
<line x1="433.95" y1="795" x2="440.49" y2="795" stroke="#000" stroke-width="2.0" />
<line x1="434.69" y1="801.8" x2="439.75" y2="801.8" stroke="#222" stroke-width="0.8" stroke-dasharray="0.9,0.9"/>
<line x1="435.67" y1="782.1" x2="438.77" y2="782.1" stroke="#222" stroke-width="0.8" stroke-dasharray="0.9,0.9"/>
<path d="M446.3,763.9L445.7,764.7L445.8,765.5L446,766.3L446.1,767.1L446.2,767.9L446.2,768.7L446.1,769.5L446,770.3L445.8,771.1L445.7,771.9L445.6,772.7L445.7,773.5L445.8,774.3L445.9,775.1L446.1,775.9L446.2,776.7L446.2,777.5L446.2,778.3L446.2,779.1L446.2,779.9L446.2,780.7L446.2,781.5L446,782.3L445.8,783.1L445.5,783.9L445.2,784.7L445,785.5L444.9,786.3L444.7,787.1L444.6,787.9L444.4,788.7L444.2,789.5L444,790.3L443.8,791.1L443.7,791.9L443.5,792.7L443.4,793.5L443.3,794.3L443.2,795.1L443.2,795.9L443.3,796.7L443.4,797.5L443.5,798.3L443.7,799.1L443.9,799.9L444,800.7L444.2,801.5L444.4,802.3L444.5,803.1L444.7,803.9L444.8,804.7L444.9,805.5L445.1,806.3L445.3,807.1L445.5,807.9L445.8,808.7L446,809.5L446.2,810.3L446.2,811.1L446.2,811.9L446.2,812.7L446.2,813.5L446.2,814.3L446.2,815.1L446.3,815.7L446.8,815.7L446.8,815.1L446.8,814.3L446.8,813.5L446.8,812.7L446.8,811.9L446.8,811.1L446.8,810.3L447,809.5L447.2,808.7L447.5,807.9L447.7,807.1L447.9,806.3L448.1,805.5L448.2,804.7L448.3,803.9L448.5,803.1L448.7,802.3L448.8,801.5L449,800.7L449.2,799.9L449.3,799.1L449.5,798.3L449.6,797.5L449.7,796.7L449.8,795.9L449.8,795.1L449.8,794.3L449.7,793.5L449.5,792.7L449.4,791.9L449.2,791.1L449,790.3L448.8,789.5L448.6,788.7L448.4,787.9L448.3,787.1L448.1,786.3L448,785.5L447.8,784.7L447.5,783.9L447.3,783.1L447,782.3L446.8,781.5L446.8,780.7L446.8,779.9L446.8,779.1L446.8,778.3L446.8,777.5L446.8,776.7L446.9,775.9L447.1,775.1L447.2,774.3L447.4,773.5L447.4,772.7L447.3,771.9L447.2,771.1L447,770.3L446.9,769.5L446.8,768.7L446.8,767.9L446.9,767.1L447.1,766.3L447.2,765.5L447.3,764.7L446.8,763.9Z" fill="#a8a8a8" stroke="#4a4a4a" stroke-width="0.6"/>
<line x1="443.21" y1="794.8" x2="449.81" y2="794.8" stroke="#000" stroke-width="2.0" />
<line x1="443.86" y1="799.78" x2="449.16" y2="799.78" stroke="#222" stroke-width="0.8" stroke-dasharray="0.9,0.9"/>
<line x1="445.04" y1="785.34" x2="447.98" y2="785.34" stroke="#222" stroke-width="0.8" stroke-dasharray="0.9,0.9"/>
<path d="M455.5,768.1L455,768.9L455.1,769.7L455.2,770.5L455.4,771.3L455.4,772.1L455.3,772.9L455.2,773.7L455.1,774.5L455,775.3L455,776.1L455,776.9L455.1,777.7L455.3,778.5L455.5,779.3L455.5,780.1L455.5,780.9L455.5,781.7L455.5,782.5L455.5,783.3L455.5,784.1L455.3,784.9L455.1,785.7L454.8,786.5L454.6,787.3L454.3,788.1L454.1,788.9L454,789.7L453.8,790.5L453.6,791.3L453.4,792.1L453.2,792.9L453,793.7L452.8,794.5L452.7,795.3L452.6,796.1L452.5,796.9L452.5,797.7L452.6,798.5L452.7,799.3L452.8,800.1L453,800.9L453.2,801.7L453.4,802.5L453.5,803.3L453.7,804.1L453.9,804.9L454,805.7L454.2,806.5L454.4,807.3L454.6,808.1L454.8,808.9L455.1,809.7L455.3,810.5L455.5,811.3L455.5,812.1L455.5,812.9L455.5,813.7L455.5,814.5L455.5,815.3L455.5,816.1L455.5,816.1L456,816.1L456.1,816.1L456.1,815.3L456.1,814.5L456.1,813.7L456.1,812.9L456.1,812.1L456.1,811.3L456.3,810.5L456.5,809.7L456.8,808.9L457,808.1L457.2,807.3L457.4,806.5L457.6,805.7L457.7,804.9L457.9,804.1L458.1,803.3L458.2,802.5L458.4,801.7L458.6,800.9L458.8,800.1L458.9,799.3L459,798.5L459.1,797.7L459.1,796.9L459,796.1L458.9,795.3L458.8,794.5L458.6,793.7L458.4,792.9L458.2,792.1L458,791.3L457.8,790.5L457.6,789.7L457.5,788.9L457.3,788.1L457,787.3L456.8,786.5L456.5,785.7L456.3,784.9L456.1,784.1L456.1,783.3L456.1,782.5L456.1,781.7L456.1,780.9L456.1,780.1L456.1,779.3L456.3,778.5L456.5,777.7L456.6,776.9L456.6,776.1L456.6,775.3L456.5,774.5L456.4,773.7L456.3,772.9L456.2,772.1L456.2,771.3L456.4,770.5L456.5,769.7L456.6,768.9L456,768.1Z" fill="#a8a8a8" stroke="#4a4a4a" stroke-width="0.6"/>
<line x1="452.5" y1="796.7" x2="459.1" y2="796.7" stroke="#000" stroke-width="2.0" />
<line x1="453.18" y1="801.33" x2="458.42" y2="801.33" stroke="#222" stroke-width="0.8" stroke-dasharray="0.9,0.9"/>
<line x1="454.33" y1="787.92" x2="457.27" y2="787.92" stroke="#222" stroke-width="0.8" stroke-dasharray="0.9,0.9"/>
<path d="M464.8,752.1L464.2,752.9L464.4,753.7L464.5,754.5L464.7,755.3L464.8,756.1L464.8,756.9L464.8,757.7L464.8,758.5L464.8,759.3L464.8,760.1L464.8,760.9L464.8,761.7L464.8,762.5L464.8,763.3L464.7,764.1L464.6,764.9L464.4,765.7L464.3,766.5L464.2,767.3L464.2,768.1L464.4,768.9L464.5,769.7L464.7,770.5L464.8,771.3L464.8,772.1L464.8,772.9L464.8,773.7L464.8,774.5L464.8,775.3L464.7,776.1L464.5,776.9L464.3,777.7L464.2,778.5L464.2,779.3L464.3,780.1L464.4,780.9L464.6,781.7L464.8,782.5L464.8,783.3L464.8,784.1L464.8,784.9L464.8,785.7L464.8,786.5L464.8,787.3L464.6,788.1L464.4,788.9L464.1,789.7L463.8,790.5L463.6,791.3L463.5,792.1L463.3,792.9L463.2,793.7L463.1,794.5L462.9,795.3L462.7,796.1L462.5,796.9L462.3,797.7L462.2,798.5L462,799.3L461.9,800.1L461.8,800.9L461.8,801.7L461.8,802.5L461.9,803.3L462,804.1L462.2,804.9L462.3,805.7L462.5,806.5L462.7,807.3L462.8,808.1L463,808.9L463.1,809.7L463.3,810.5L463.4,811.3L463.5,812.1L463.7,812.9L463.9,813.7L464.1,814.5L464.4,815.3L464.6,816.1L464.8,816.9L464.8,817.7L464.8,818.5L464.8,819.3L464.8,820.1L464.8,820.9L464.8,821.7L464.8,822.5L464.8,822.6L465.3,822.6L465.4,822.5L465.4,821.7L465.4,820.9L465.4,820.1L465.4,819.3L465.4,818.5L465.4,817.7L465.4,816.9L465.6,816.1L465.8,815.3L466.1,814.5L466.3,813.7L466.5,812.9L466.7,812.1L466.8,811.3L466.9,810.5L467,809.7L467.2,808.9L467.4,808.1L467.5,807.3L467.7,806.5L467.8,805.7L468,804.9L468.1,804.1L468.3,803.3L468.4,802.5L468.4,801.7L468.4,800.9L468.3,800.1L468.2,799.3L468,798.5L467.9,797.7L467.7,796.9L467.5,796.1L467.3,795.3L467.1,794.5L467,793.7L466.8,792.9L466.7,792.1L466.5,791.3L466.3,790.5L466.1,789.7L465.8,788.9L465.6,788.1L465.4,787.3L465.4,786.5L465.4,785.7L465.4,784.9L465.4,784.1L465.4,783.3L465.4,782.5L465.6,781.7L465.7,780.9L465.9,780.1L466,779.3L466,778.5L465.9,777.7L465.7,776.9L465.5,776.1L465.4,775.3L465.4,774.5L465.4,773.7L465.4,772.9L465.4,772.1L465.4,771.3L465.5,770.5L465.7,769.7L465.8,768.9L465.9,768.1L466,767.3L465.9,766.5L465.8,765.7L465.6,764.9L465.4,764.1L465.4,763.3L465.4,762.5L465.4,761.7L465.4,760.9L465.4,760.1L465.4,759.3L465.4,758.5L465.4,757.7L465.4,756.9L465.4,756.1L465.5,755.3L465.6,754.5L465.8,753.7L465.9,752.9L465.3,752.1Z" fill="#a8a8a8" stroke="#4a4a4a" stroke-width="0.6"/>
<line x1="461.81" y1="801" x2="468.37" y2="801" stroke="#000" stroke-width="2.0" />
<line x1="462.5" y1="806.15" x2="467.68" y2="806.15" stroke="#222" stroke-width="0.8" stroke-dasharray="0.9,0.9"/>
<line x1="463.64" y1="791.23" x2="466.54" y2="791.23" stroke="#222" stroke-width="0.8" stroke-dasharray="0.9,0.9"/>
<path d="M474.1,768.8L473.6,769.6L473.7,770.4L473.8,771.2L473.9,772L473.9,772.8L473.9,773.6L473.8,774.4L473.7,775.2L473.6,776L473.6,776.8L473.7,777.6L473.8,778.4L474,779.2L474.1,780L474.1,780.8L474.1,781.6L474.1,782.4L474.1,783.2L474.1,784L474.1,784.8L474.1,785.6L473.9,786.4L473.7,787.2L473.4,788L473.1,788.8L472.9,789.6L472.7,790.4L472.5,791.2L472.3,792L472.1,792.8L471.9,793.6L471.7,794.4L471.5,795.2L471.4,796L471.2,796.8L471.1,797.6L471.1,798.4L471.1,799.2L471.2,800L471.3,800.8L471.5,801.6L471.7,802.4L471.9,803.2L472,804L472.2,804.8L472.4,805.6L472.6,806.4L472.7,807.2L472.9,808L473.1,808.8L473.4,809.6L473.6,810.4L473.9,811.2L474.1,812L474.1,812.8L474.1,813.6L474.1,814.4L474.1,815.2L474.1,816L474.1,816.7L474.6,816.7L474.7,816L474.7,815.2L474.7,814.4L474.7,813.6L474.7,812.8L474.7,812L474.9,811.2L475.1,810.4L475.4,809.6L475.6,808.8L475.8,808L476,807.2L476.2,806.4L476.4,805.6L476.5,804.8L476.7,804L476.9,803.2L477.1,802.4L477.3,801.6L477.4,800.8L477.6,800L477.7,799.2L477.7,798.4L477.6,797.6L477.6,796.8L477.4,796L477.2,795.2L477,794.4L476.8,793.6L476.6,792.8L476.4,792L476.2,791.2L476.1,790.4L475.9,789.6L475.6,788.8L475.4,788L475.1,787.2L474.9,786.4L474.7,785.6L474.7,784.8L474.7,784L474.7,783.2L474.7,782.4L474.7,781.6L474.7,780.8L474.7,780L474.8,779.2L475,778.4L475.1,777.6L475.2,776.8L475.2,776L475.1,775.2L475,774.4L474.9,773.6L474.8,772.8L474.8,772L474.9,771.2L475,770.4L475.1,769.6L474.6,768.8Z" fill="#a8a8a8" stroke="#4a4a4a" stroke-width="0.6"/>
<line x1="471.11" y1="797.9" x2="477.65" y2="797.9" stroke="#000" stroke-width="2.0" />
<line x1="471.67" y1="802.38" x2="477.09" y2="802.38" stroke="#222" stroke-width="0.8" stroke-dasharray="0.9,0.9"/>
<line x1="472.9" y1="789.39" x2="475.86" y2="789.39" stroke="#222" stroke-width="0.8" stroke-dasharray="0.9,0.9"/>
<path d="M483.4,769.4L482.8,770.2L482.9,771L482.9,771.8L482.9,772.6L482.9,773.4L482.8,774.2L482.8,775L482.8,775.8L482.9,776.6L483.1,777.4L483.2,778.2L483.4,779L483.4,779.8L483.4,780.6L483.4,781.4L483.4,782.2L483.4,783L483.3,783.8L483.1,784.6L482.9,785.4L482.6,786.2L482.4,787L482.2,787.8L482,788.6L481.8,789.4L481.6,790.2L481.5,791L481.3,791.8L481.1,792.6L480.9,793.4L480.7,794.2L480.5,795L480.4,795.8L480.4,796.6L480.4,797.4L480.4,798.2L480.5,799L480.7,799.8L480.9,800.6L481,801.4L481.2,802.2L481.4,803L481.6,803.8L481.7,804.6L481.9,805.4L482,806.2L482.2,807L482.4,807.8L482.6,808.6L482.9,809.4L483.1,810.2L483.3,811L483.4,811.8L483.4,812.6L483.4,813.4L483.4,814.2L483.4,815L483.4,815.8L483.4,816.1L483.9,816.1L484,815.8L484,815L484,814.2L484,813.4L484,812.6L484,811.8L484,811L484.2,810.2L484.4,809.4L484.7,808.6L484.9,807.8L485.1,807L485.3,806.2L485.5,805.4L485.6,804.6L485.8,803.8L485.9,803L486.1,802.2L486.3,801.4L486.5,800.6L486.6,799.8L486.8,799L486.9,798.2L487,797.4L487,796.6L486.9,795.8L486.8,795L486.7,794.2L486.5,793.4L486.3,792.6L486.1,791.8L485.9,791L485.7,790.2L485.5,789.4L485.4,788.6L485.2,787.8L485,787L484.7,786.2L484.4,785.4L484.2,784.6L484,783.8L484,783L484,782.2L484,781.4L484,780.6L484,779.8L484,779L484.1,778.2L484.3,777.4L484.4,776.6L484.5,775.8L484.5,775L484.5,774.2L484.5,773.4L484.4,772.6L484.4,771.8L484.5,771L484.5,770.2L483.9,769.4Z" fill="#a8a8a8" stroke="#4a4a4a" stroke-width="0.6"/>
<line x1="480.37" y1="796.4" x2="486.97" y2="796.4" stroke="#000" stroke-width="2.0" />
<line x1="481.04" y1="801.1" x2="486.3" y2="801.1" stroke="#222" stroke-width="0.8" stroke-dasharray="0.9,0.9"/>
<line x1="482.16" y1="787.49" x2="485.18" y2="787.49" stroke="#222" stroke-width="0.8" stroke-dasharray="0.9,0.9"/>
<path d="M492.7,758.2L492.1,759L492.2,759.8L492.4,760.6L492.6,761.4L492.7,762.2L492.7,763L492.7,763.8L492.7,764.6L492.7,765.4L492.7,766.2L492.6,767L492.4,767.8L492.3,768.6L492.1,769.4L492,770.2L492.1,771L492.2,771.8L492.3,772.6L492.4,773.4L492.5,774.2L492.5,775L492.4,775.8L492.2,776.6L492.1,777.4L492,778.2L492.1,779L492.2,779.8L492.4,780.6L492.6,781.4L492.7,782.2L492.7,783L492.7,783.8L492.7,784.6L492.7,785.4L492.7,786.2L492.5,787L492.2,787.8L492,788.6L491.7,789.4L491.5,790.2L491.4,791L491.2,791.8L491.1,792.6L491,793.4L490.8,794.2L490.6,795L490.4,795.8L490.3,796.6L490.1,797.4L489.9,798.2L489.8,799L489.7,799.8L489.7,800.6L489.7,801.4L489.7,802.2L489.8,803L490,803.8L490.1,804.6L490.3,805.4L490.4,806.2L490.6,807L490.7,807.8L490.9,808.6L491.1,809.4L491.2,810.2L491.3,811L491.4,811.8L491.5,812.6L491.7,813.4L492,814.2L492.2,815L492.5,815.8L492.7,816.6L492.7,817.4L492.7,818.2L492.7,819L492.7,819.8L492.7,820.6L492.7,821.4L492.7,822.2L492.7,822.6L493.2,822.6L493.3,822.2L493.3,821.4L493.3,820.6L493.3,819.8L493.3,819L493.3,818.2L493.3,817.4L493.3,816.6L493.5,815.8L493.7,815L494,814.2L494.2,813.4L494.4,812.6L494.5,811.8L494.6,811L494.7,810.2L494.9,809.4L495,808.6L495.2,807.8L495.3,807L495.5,806.2L495.7,805.4L495.8,804.6L496,803.8L496.1,803L496.2,802.2L496.3,801.4L496.3,800.6L496.2,799.8L496.1,799L496,798.2L495.8,797.4L495.7,796.6L495.5,795.8L495.3,795L495.1,794.2L494.9,793.4L494.8,792.6L494.7,791.8L494.6,791L494.4,790.2L494.2,789.4L494,788.6L493.7,787.8L493.4,787L493.3,786.2L493.3,785.4L493.3,784.6L493.3,783.8L493.3,783L493.3,782.2L493.4,781.4L493.5,780.6L493.7,779.8L493.8,779L493.9,778.2L493.8,777.4L493.7,776.6L493.6,775.8L493.5,775L493.4,774.2L493.5,773.4L493.6,772.6L493.7,771.8L493.9,771L493.9,770.2L493.8,769.4L493.7,768.6L493.5,767.8L493.3,767L493.3,766.2L493.3,765.4L493.3,764.6L493.3,763.8L493.3,763L493.3,762.2L493.3,761.4L493.5,760.6L493.7,759.8L493.8,759L493.2,758.2Z" fill="#a8a8a8" stroke="#4a4a4a" stroke-width="0.6"/>
<line x1="489.66" y1="800.3" x2="496.26" y2="800.3" stroke="#000" stroke-width="2.0" />
<line x1="490.26" y1="805.62" x2="495.66" y2="805.62" stroke="#222" stroke-width="0.8" stroke-dasharray="0.9,0.9"/>
<line x1="491.51" y1="790.21" x2="494.41" y2="790.21" stroke="#222" stroke-width="0.8" stroke-dasharray="0.9,0.9"/>
<path d="M502,789.1L501.7,789.9L501.8,790.7L501.9,791.5L501.9,792.3L501.9,793.1L501.9,793.9L501.9,794.7L501.8,795.5L501.6,796.3L501.3,797.1L501,797.9L500.7,798.7L500.3,799.5L499.9,800.3L499.6,801.1L499.3,801.9L499.1,802.7L499,803.5L498.9,804.3L499,805.1L499.2,805.9L499.4,806.7L499.7,807.5L500,808.3L500.3,809.1L500.6,809.9L501,810.7L501.3,811.5L501.6,812.3L501.8,813.1L501.9,813.9L501.9,814.7L502,815.4L502.5,815.4L502.6,814.7L502.6,813.9L502.7,813.1L502.9,812.3L503.2,811.5L503.5,810.7L503.9,809.9L504.2,809.1L504.5,808.3L504.8,807.5L505.1,806.7L505.3,805.9L505.5,805.1L505.6,804.3L505.5,803.5L505.4,802.7L505.2,801.9L504.9,801.1L504.6,800.3L504.2,799.5L503.8,798.7L503.5,797.9L503.2,797.1L502.9,796.3L502.7,795.5L502.6,794.7L502.6,793.9L502.6,793.1L502.6,792.3L502.6,791.5L502.7,790.7L502.8,789.9L502.5,789.1Z" fill="#a8a8a8" stroke="#4a4a4a" stroke-width="0.6"/>
<line x1="498.99" y1="803.8" x2="505.51" y2="803.8" stroke="#000" stroke-width="2.0" />
<line x1="499.39" y1="806.57" x2="505.11" y2="806.57" stroke="#222" stroke-width="0.8" stroke-dasharray="0.9,0.9"/>
<line x1="499.94" y1="800.65" x2="504.56" y2="800.65" stroke="#222" stroke-width="0.8" stroke-dasharray="0.9,0.9"/>
<path d="M511.3,764.8L510.9,765.6L511,766.4L511.1,767.2L511.2,768L511.2,768.8L511.2,769.6L511.2,770.4L511.2,771.2L511.2,772L511.2,772.8L511.2,773.6L511.1,774.4L511,775.2L510.9,776L510.9,776.8L510.9,777.6L511,778.4L511.1,779.2L511.2,780L511.2,780.8L511.2,781.6L511.2,782.4L511.2,783.2L511.2,784L511.1,784.8L511,785.6L510.9,786.4L510.8,787.2L510.9,788L511,788.8L511.1,789.6L511.2,790.4L511.2,791.2L511.2,792L511,792.8L510.8,793.6L510.6,794.4L510.3,795.2L510,796L509.8,796.8L509.5,797.6L509.3,798.4L509,799.2L508.8,800L508.6,800.8L508.4,801.6L508.3,802.4L508.2,803.2L508.3,804L508.4,804.8L508.5,805.6L508.7,806.4L508.9,807.2L509.1,808L509.3,808.8L509.5,809.6L509.8,810.4L510,811.2L510.3,812L510.5,812.8L510.8,813.6L511,814.4L511.2,815.2L511.2,816L511.2,816.8L511.2,817.6L511.2,818.4L511.3,818.7L511.8,818.7L511.8,818.4L511.8,817.6L511.8,816.8L511.8,816L511.9,815.2L512,814.4L512.3,813.6L512.5,812.8L512.8,812L513.1,811.2L513.3,810.4L513.5,809.6L513.7,808.8L514,808L514.2,807.2L514.4,806.4L514.6,805.6L514.7,804.8L514.8,804L514.8,803.2L514.8,802.4L514.7,801.6L514.5,800.8L514.3,800L514,799.2L513.8,798.4L513.6,797.6L513.3,796.8L513.1,796L512.8,795.2L512.5,794.4L512.2,793.6L512,792.8L511.9,792L511.9,791.2L511.9,790.4L512,789.6L512.1,788.8L512.2,788L512.2,787.2L512.2,786.4L512.1,785.6L512,784.8L511.8,784L511.8,783.2L511.8,782.4L511.8,781.6L511.8,780.8L511.9,780L512,779.2L512.1,778.4L512.2,777.6L512.2,776.8L512.2,776L512.1,775.2L511.9,774.4L511.8,773.6L511.8,772.8L511.8,772L511.8,771.2L511.8,770.4L511.8,769.6L511.8,768.8L511.8,768L512,767.2L512.1,766.4L512.2,765.6L511.8,764.8Z" fill="#a8a8a8" stroke="#4a4a4a" stroke-width="0.6"/>
<line x1="508.24" y1="802.9" x2="514.84" y2="802.9" stroke="#000" stroke-width="2.0" />
<line x1="508.68" y1="806.67" x2="514.4" y2="806.67" stroke="#222" stroke-width="0.8" stroke-dasharray="0.9,0.9"/>
<line x1="510.03" y1="795.75" x2="513.05" y2="795.75" stroke="#222" stroke-width="0.8" stroke-dasharray="0.9,0.9"/>
<path d="M525.4,721.1L524.9,721.9L524.9,722.7L525,723.5L525.1,724.3L525.2,725.1L525.3,725.9L525.3,726.7L525.3,727.5L525.3,728.3L525.3,729.1L525.3,729.9L525.3,730.7L525.3,731.5L525.3,732.3L525.3,733.1L525.3,733.9L525.3,734.7L525.3,735.5L525.3,736.3L525.3,737.1L525.3,737.9L525.3,738.7L525.3,739.5L525.3,740.3L525.3,741.1L525.3,741.9L525.3,742.7L525.3,743.5L525.3,744.3L525.3,745.1L525.3,745.9L525.3,746.7L525.3,747.5L525.2,748.3L525.1,749.1L524.9,749.9L524.8,750.7L524.6,751.5L524.4,752.3L524.2,753.1L524.1,753.9L524,754.7L523.9,755.5L523.8,756.3L523.8,757.1L523.8,757.9L523.9,758.7L524.1,759.5L524.2,760.3L524.4,761.1L524.5,761.9L524.5,762.7L524.5,763.5L524.4,764.3L524.3,765.1L524.2,765.9L524.1,766.7L524,767.5L523.9,768.3L523.8,769.1L523.8,769.9L523.8,770.7L523.7,771.5L523.7,772.3L523.7,773.1L523.6,773.9L523.5,774.7L523.5,775.5L523.4,776.3L523.4,777.1L523.3,777.9L523.3,778.7L523.2,779.5L523.1,780.3L523.1,781.1L523,781.9L523,782.7L522.9,783.5L522.9,784.3L522.8,785.1L522.7,785.9L522.6,786.7L522.5,787.5L522.4,788.3L522.3,789.1L522.2,789.9L522,790.7L521.9,791.5L521.8,792.3L521.7,793.1L521.6,793.9L521.6,794.7L521.6,795.5L521.6,796.3L521.7,797.1L521.8,797.9L521.9,798.7L522,799.5L522.1,800.3L522.3,801.1L522.4,801.9L522.5,802.7L522.7,803.5L522.8,804.3L523,805.1L523.1,805.9L523.2,806.7L523.3,807.5L523.4,808.3L523.5,809.1L523.6,809.9L523.8,810.7L524,811.5L524.2,812.3L524.4,813.1L524.6,813.9L524.8,814.7L525,815.5L525.2,816.3L525.3,817.1L525.3,817.9L525.3,818.7L525.3,819.5L525.3,820.3L525.3,821.1L525.3,821.9L525.3,822.7L525.3,823.5L525.3,824.3L525.4,825L525.9,825L525.9,824.3L525.9,823.5L525.9,822.7L525.9,821.9L525.9,821.1L525.9,820.3L525.9,819.5L525.9,818.7L525.9,817.9L525.9,817.1L526,816.3L526.2,815.5L526.4,814.7L526.6,813.9L526.8,813.1L527,812.3L527.2,811.5L527.4,810.7L527.6,809.9L527.7,809.1L527.8,808.3L527.9,807.5L528,806.7L528.1,805.9L528.2,805.1L528.4,804.3L528.5,803.5L528.7,802.7L528.8,801.9L528.9,801.1L529.1,800.3L529.2,799.5L529.3,798.7L529.4,797.9L529.5,797.1L529.6,796.3L529.6,795.5L529.6,794.7L529.6,793.9L529.5,793.1L529.4,792.3L529.3,791.5L529.2,790.7L529,789.9L528.9,789.1L528.8,788.3L528.7,787.5L528.6,786.7L528.5,785.9L528.4,785.1L528.3,784.3L528.3,783.5L528.2,782.7L528.2,781.9L528.1,781.1L528.1,780.3L528,779.5L527.9,778.7L527.9,777.9L527.8,777.1L527.8,776.3L527.7,775.5L527.7,774.7L527.6,773.9L527.5,773.1L527.5,772.3L527.5,771.5L527.4,770.7L527.4,769.9L527.4,769.1L527.3,768.3L527.2,767.5L527.1,766.7L527,765.9L526.9,765.1L526.8,764.3L526.7,763.5L526.7,762.7L526.7,761.9L526.8,761.1L527,760.3L527.1,759.5L527.3,758.7L527.4,757.9L527.4,757.1L527.4,756.3L527.3,755.5L527.2,754.7L527.1,753.9L527,753.1L526.8,752.3L526.6,751.5L526.4,750.7L526.3,749.9L526.1,749.1L526,748.3L525.9,747.5L525.9,746.7L525.9,745.9L525.9,745.1L525.9,744.3L525.9,743.5L525.9,742.7L525.9,741.9L525.9,741.1L525.9,740.3L525.9,739.5L525.9,738.7L525.9,737.9L525.9,737.1L525.9,736.3L525.9,735.5L525.9,734.7L525.9,733.9L525.9,733.1L525.9,732.3L525.9,731.5L525.9,730.7L525.9,729.9L525.9,729.1L525.9,728.3L525.9,727.5L525.9,726.7L525.9,725.9L526,725.1L526.1,724.3L526.2,723.5L526.3,722.7L526.3,721.9L525.9,721.1Z" fill="#ec9aa0" stroke="#e27f86" stroke-width="0.6"/>
<line x1="521.8" y1="792.5" x2="529.4" y2="792.5" stroke="#a41a1a" stroke-width="2.0" />
<line x1="521.63" y1="796.67" x2="529.57" y2="796.67" stroke="#b52a2a" stroke-width="0.8" stroke-dasharray="0.9,0.9"/>
<line x1="523.87" y1="768.12" x2="527.33" y2="768.12" stroke="#b52a2a" stroke-width="0.8" stroke-dasharray="0.9,0.9"/>
<path d="M534.6,724.1L534.2,724.9L534.2,725.7L534.3,726.5L534.4,727.3L534.5,728.1L534.6,728.9L534.6,729.7L534.6,730.5L534.6,731.3L534.6,732.1L534.6,732.9L534.6,733.7L534.6,734.5L534.6,735.3L534.6,736.1L534.6,736.9L534.6,737.7L534.6,738.5L534.6,739.3L534.6,740.1L534.6,740.9L534.6,741.7L534.6,742.5L534.6,743.3L534.6,744.1L534.5,744.9L534.4,745.7L534.3,746.5L534.2,747.3L534.1,748.1L534,748.9L534,749.7L533.9,750.5L533.9,751.3L533.8,752.1L533.7,752.9L533.6,753.7L533.5,754.5L533.4,755.3L533.4,756.1L533.3,756.9L533.4,757.7L533.5,758.5L533.5,759.3L533.6,760.1L533.7,760.9L533.7,761.7L533.6,762.5L533.6,763.3L533.4,764.1L533.3,764.9L533.2,765.7L533.1,766.5L533,767.3L533,768.1L532.9,768.9L532.9,769.7L532.9,770.5L532.8,771.3L532.7,772.1L532.7,772.9L532.6,773.7L532.5,774.5L532.5,775.3L532.4,776.1L532.4,776.9L532.3,777.7L532.2,778.5L532.2,779.3L532.1,780.1L532,780.9L532,781.7L531.9,782.5L531.8,783.3L531.7,784.1L531.6,784.9L531.5,785.7L531.4,786.5L531.3,787.3L531.1,788.1L531,788.9L531,789.7L530.9,790.5L530.9,791.3L530.9,792.1L530.9,792.9L531,793.7L531.1,794.5L531.2,795.3L531.3,796.1L531.5,796.9L531.6,797.7L531.7,798.5L531.9,799.3L532,800.1L532.2,800.9L532.3,801.7L532.4,802.5L532.5,803.3L532.6,804.1L532.7,804.9L532.8,805.7L533,806.5L533.1,807.3L533.3,808.1L533.5,808.9L533.7,809.7L533.9,810.5L534.2,811.3L534.3,812.1L534.5,812.9L534.6,813.7L534.6,814.5L534.6,815.3L534.6,816.1L534.6,816.9L534.6,817.7L534.6,818.5L534.6,819.3L534.6,820.1L534.6,820.9L534.6,821.5L535.1,821.5L535.2,820.9L535.2,820.1L535.2,819.3L535.2,818.5L535.2,817.7L535.2,816.9L535.2,816.1L535.2,815.3L535.2,814.5L535.2,813.7L535.3,812.9L535.4,812.1L535.6,811.3L535.8,810.5L536.1,809.7L536.3,808.9L536.5,808.1L536.7,807.3L536.8,806.5L536.9,805.7L537,804.9L537.1,804.1L537.2,803.3L537.4,802.5L537.5,801.7L537.6,800.9L537.8,800.1L537.9,799.3L538,798.5L538.2,797.7L538.3,796.9L538.4,796.1L538.6,795.3L538.7,794.5L538.8,793.7L538.8,792.9L538.9,792.1L538.9,791.3L538.9,790.5L538.8,789.7L538.7,788.9L538.6,788.1L538.5,787.3L538.4,786.5L538.3,785.7L538.2,784.9L538.1,784.1L538,783.3L537.9,782.5L537.8,781.7L537.7,780.9L537.7,780.1L537.6,779.3L537.5,778.5L537.5,777.7L537.4,776.9L537.4,776.1L537.3,775.3L537.2,774.5L537.2,773.7L537.1,772.9L537,772.1L537,771.3L536.9,770.5L536.9,769.7L536.8,768.9L536.8,768.1L536.7,767.3L536.7,766.5L536.6,765.7L536.5,764.9L536.3,764.1L536.2,763.3L536.1,762.5L536.1,761.7L536.1,760.9L536.2,760.1L536.2,759.3L536.3,758.5L536.4,757.7L536.4,756.9L536.4,756.1L536.4,755.3L536.3,754.5L536.2,753.7L536.1,752.9L536,752.1L535.9,751.3L535.8,750.5L535.8,749.7L535.7,748.9L535.7,748.1L535.6,747.3L535.5,746.5L535.4,745.7L535.3,744.9L535.2,744.1L535.2,743.3L535.2,742.5L535.2,741.7L535.2,740.9L535.2,740.1L535.2,739.3L535.2,738.5L535.2,737.7L535.2,736.9L535.2,736.1L535.2,735.3L535.2,734.5L535.2,733.7L535.2,732.9L535.2,732.1L535.2,731.3L535.2,730.5L535.2,729.7L535.2,728.9L535.3,728.1L535.4,727.3L535.5,726.5L535.5,725.7L535.6,724.9L535.1,724.1Z" fill="#ec9aa0" stroke="#e27f86" stroke-width="0.6"/>
<line x1="531.04" y1="789.1" x2="538.74" y2="789.1" stroke="#a41a1a" stroke-width="2.0" />
<line x1="530.94" y1="793.25" x2="538.84" y2="793.25" stroke="#b52a2a" stroke-width="0.8" stroke-dasharray="0.9,0.9"/>
<line x1="533.11" y1="766.35" x2="536.67" y2="766.35" stroke="#b52a2a" stroke-width="0.8" stroke-dasharray="0.9,0.9"/>
<path d="M543.9,729.8L543.4,730.6L543.5,731.4L543.6,732.2L543.7,733L543.8,733.8L543.9,734.6L543.9,735.4L543.9,736.2L543.9,737L543.9,737.8L543.9,738.6L543.9,739.4L543.9,740.2L543.9,741L543.9,741.8L543.9,742.6L543.9,743.4L543.9,744.2L543.9,745L543.9,745.8L543.8,746.6L543.6,747.4L543.5,748.2L543.3,749L543.1,749.8L542.9,750.6L542.7,751.4L542.6,752.2L542.4,753L542.3,753.8L542.3,754.6L542.2,755.4L542.2,756.2L542.3,757L542.3,757.8L542.4,758.6L542.4,759.4L542.4,760.2L542.3,761L542.2,761.8L542.1,762.6L542,763.4L541.9,764.2L541.8,765L541.7,765.8L541.6,766.6L541.5,767.4L541.4,768.2L541.3,769L541.2,769.8L541.1,770.6L541,771.4L540.9,772.2L540.8,773L540.7,773.8L540.6,774.6L540.5,775.4L540.4,776.2L540.4,777L540.3,777.8L540.2,778.6L540.2,779.4L540.2,780.2L540.2,781L540.2,781.8L540.2,782.6L540.3,783.4L540.4,784.2L540.5,785L540.6,785.8L540.7,786.6L540.8,787.4L540.9,788.2L541,789L541.1,789.8L541.2,790.6L541.3,791.4L541.4,792.2L541.5,793L541.6,793.8L541.7,794.6L541.8,795.4L541.9,796.2L542,797L542.1,797.8L542.2,798.6L542.3,799.4L542.4,800.2L542.4,801L542.4,801.8L542.4,802.6L542.4,803.4L542.5,804.2L542.6,805L542.8,805.8L543,806.6L543.2,807.4L543.4,808.2L543.6,809L543.7,809.8L543.9,810.6L543.9,811.4L543.9,812.2L543.9,813L543.9,813.8L543.9,814.6L543.9,815.4L543.9,816.2L543.9,817L543.9,817.8L543.9,818.6L543.9,819.4L543.9,820.2L543.9,821L543.9,821.8L543.9,822.2L544.4,822.2L544.5,821.8L544.5,821L544.5,820.2L544.5,819.4L544.5,818.6L544.5,817.8L544.5,817L544.5,816.2L544.5,815.4L544.5,814.6L544.5,813.8L544.5,813L544.5,812.2L544.5,811.4L544.5,810.6L544.6,809.8L544.8,809L545,808.2L545.2,807.4L545.4,806.6L545.6,805.8L545.7,805L545.9,804.2L545.9,803.4L545.9,802.6L546,801.8L546,801L546,800.2L546.1,799.4L546.2,798.6L546.3,797.8L546.4,797L546.5,796.2L546.6,795.4L546.7,794.6L546.8,793.8L546.9,793L547,792.2L547.1,791.4L547.1,790.6L547.2,789.8L547.4,789L547.5,788.2L547.6,787.4L547.7,786.6L547.8,785.8L547.9,785L548,784.2L548.1,783.4L548.1,782.6L548.2,781.8L548.2,781L548.2,780.2L548.2,779.4L548.1,778.6L548.1,777.8L548,777L547.9,776.2L547.8,775.4L547.7,774.6L547.7,773.8L547.6,773L547.5,772.2L547.4,771.4L547.3,770.6L547.2,769.8L547.1,769L547,768.2L546.9,767.4L546.8,766.6L546.7,765.8L546.6,765L546.5,764.2L546.4,763.4L546.2,762.6L546.1,761.8L546,761L546,760.2L546,759.4L546,758.6L546,757.8L546.1,757L546.1,756.2L546.1,755.4L546.1,754.6L546,753.8L545.9,753L545.8,752.2L545.6,751.4L545.4,750.6L545.3,749.8L545.1,749L544.9,748.2L544.7,747.4L544.6,746.6L544.5,745.8L544.5,745L544.5,744.2L544.5,743.4L544.5,742.6L544.5,741.8L544.5,741L544.5,740.2L544.5,739.4L544.5,738.6L544.5,737.8L544.5,737L544.5,736.2L544.5,735.4L544.5,734.6L544.6,733.8L544.7,733L544.8,732.2L544.9,731.4L544.9,730.6L544.4,729.8Z" fill="#ec9aa0" stroke="#e27f86" stroke-width="0.6"/>
<line x1="540.2" y1="781.8" x2="548.16" y2="781.8" stroke="#a41a1a" stroke-width="2.0" />
<line x1="540.66" y1="786.98" x2="547.7" y2="786.98" stroke="#b52a2a" stroke-width="0.8" stroke-dasharray="0.9,0.9"/>
<line x1="542" y1="763.6" x2="546.36" y2="763.6" stroke="#b52a2a" stroke-width="0.8" stroke-dasharray="0.9,0.9"/>
<path d="M553.2,747.1L552.9,747.9L552.9,748.7L553,749.5L553.1,750.3L553.1,751.1L553.2,751.9L553.2,752.7L553.2,753.5L553.2,754.3L553.2,755.1L553.2,755.9L553.2,756.7L553.2,757.5L553.2,758.3L553.2,759.1L553.2,759.9L553.2,760.7L553.1,761.5L552.9,762.3L552.8,763.1L552.6,763.9L552.4,764.7L552.2,765.5L552,766.3L551.9,767.1L551.8,767.9L551.7,768.7L551.6,769.5L551.5,770.3L551.4,771.1L551.2,771.9L551.1,772.7L551,773.5L550.9,774.3L550.7,775.1L550.6,775.9L550.4,776.7L550.3,777.5L550.2,778.3L550,779.1L549.9,779.9L549.8,780.7L549.7,781.5L549.6,782.3L549.5,783.1L549.5,783.9L549.5,784.7L549.5,785.5L549.5,786.3L549.6,787.1L549.6,787.9L549.7,788.7L549.9,789.5L550,790.3L550.1,791.1L550.2,791.9L550.4,792.7L550.5,793.5L550.6,794.3L550.7,795.1L550.8,795.9L550.9,796.7L551.1,797.5L551.2,798.3L551.3,799.1L551.4,799.9L551.5,800.7L551.6,801.5L551.7,802.3L551.7,803.1L551.8,803.9L551.8,804.7L551.9,805.5L552,806.3L552.2,807.1L552.3,807.9L552.5,808.7L552.7,809.5L552.9,810.3L553,811.1L553.1,811.9L553.2,812.7L553.2,813.5L553.2,814.3L553.2,815.1L553.2,815.9L553.2,816.7L553.2,817.5L553.2,818.3L553.2,819.1L553.2,819.9L553.2,820.7L553.2,821.5L553.2,821.5L553.7,821.5L553.8,821.5L553.8,820.7L553.8,819.9L553.8,819.1L553.8,818.3L553.8,817.5L553.8,816.7L553.8,815.9L553.8,815.1L553.8,814.3L553.8,813.5L553.8,812.7L553.8,811.9L553.9,811.1L554.1,810.3L554.3,809.5L554.4,808.7L554.6,807.9L554.8,807.1L554.9,806.3L555,805.5L555.1,804.7L555.2,803.9L555.2,803.1L555.3,802.3L555.4,801.5L555.5,800.7L555.6,799.9L555.7,799.1L555.8,798.3L555.9,797.5L556,796.7L556.1,795.9L556.2,795.1L556.3,794.3L556.4,793.5L556.6,792.7L556.7,791.9L556.8,791.1L557,790.3L557.1,789.5L557.2,788.7L557.3,787.9L557.4,787.1L557.4,786.3L557.5,785.5L557.5,784.7L557.4,783.9L557.4,783.1L557.3,782.3L557.2,781.5L557.1,780.7L557,779.9L556.9,779.1L556.8,778.3L556.6,777.5L556.5,776.7L556.4,775.9L556.2,775.1L556.1,774.3L555.9,773.5L555.8,772.7L555.7,771.9L555.6,771.1L555.5,770.3L555.4,769.5L555.3,768.7L555.2,767.9L555.1,767.1L554.9,766.3L554.7,765.5L554.6,764.7L554.4,763.9L554.2,763.1L554,762.3L553.9,761.5L553.8,760.7L553.8,759.9L553.8,759.1L553.8,758.3L553.8,757.5L553.8,756.7L553.8,755.9L553.8,755.1L553.8,754.3L553.8,753.5L553.8,752.7L553.8,751.9L553.8,751.1L553.9,750.3L554,749.5L554,748.7L554.1,747.9L553.7,747.1Z" fill="#ec9aa0" stroke="#e27f86" stroke-width="0.6"/>
<line x1="549.56" y1="786.8" x2="557.38" y2="786.8" stroke="#a41a1a" stroke-width="2.0" />
<line x1="550.73" y1="795.07" x2="556.21" y2="795.07" stroke="#b52a2a" stroke-width="0.8" stroke-dasharray="0.9,0.9"/>
<line x1="550.44" y1="776.95" x2="556.5" y2="776.95" stroke="#b52a2a" stroke-width="0.8" stroke-dasharray="0.9,0.9"/>
<path d="M562.5,715.3L562,716.1L562,716.9L562.1,717.7L562.2,718.5L562.3,719.3L562.4,720.1L562.5,720.9L562.5,721.7L562.5,722.5L562.5,723.3L562.5,724.1L562.5,724.9L562.5,725.7L562.5,726.5L562.5,727.3L562.5,728.1L562.5,728.9L562.5,729.7L562.5,730.5L562.5,731.3L562.5,732.1L562.5,732.9L562.5,733.7L562.5,734.5L562.5,735.3L562.5,736.1L562.5,736.9L562.5,737.7L562.5,738.5L562.5,739.3L562.4,740.1L562.3,740.9L562.2,741.7L562.1,742.5L562,743.3L561.8,744.1L561.7,744.9L561.6,745.7L561.5,746.5L561.4,747.3L561.3,748.1L561.2,748.9L561.1,749.7L561,750.5L561,751.3L561,752.1L561.1,752.9L561.2,753.7L561.3,754.5L561.5,755.3L561.6,756.1L561.7,756.9L561.7,757.7L561.7,758.5L561.5,759.3L561.4,760.1L561.2,760.9L561.1,761.7L561,762.5L560.9,763.3L560.8,764.1L560.8,764.9L560.8,765.7L560.8,766.5L560.8,767.3L560.7,768.1L560.7,768.9L560.6,769.7L560.5,770.5L560.5,771.3L560.4,772.1L560.4,772.9L560.3,773.7L560.3,774.5L560.2,775.3L560.2,776.1L560.1,776.9L560,777.7L560,778.5L559.9,779.3L559.9,780.1L559.8,780.9L559.7,781.7L559.7,782.5L559.6,783.3L559.5,784.1L559.4,784.9L559.3,785.7L559.2,786.5L559.1,787.3L559,788.1L558.9,788.9L558.8,789.7L558.8,790.5L558.8,791.3L558.8,792.1L558.8,792.9L558.9,793.7L559,794.5L559.1,795.3L559.2,796.1L559.3,796.9L559.4,797.7L559.5,798.5L559.7,799.3L559.8,800.1L559.9,800.9L560,801.7L560.2,802.5L560.3,803.3L560.4,804.1L560.5,804.9L560.6,805.7L560.6,806.5L560.7,807.3L560.7,808.1L560.8,808.9L560.9,809.7L561.1,810.5L561.3,811.3L561.5,812.1L561.7,812.9L562,813.7L562.2,814.5L562.3,815.3L562.5,816.1L562.5,816.9L562.5,817.7L562.5,818.5L562.5,819.3L562.5,820.1L562.5,820.9L562.5,821.7L562.5,822.5L562.5,823.3L562.5,824.1L562.5,824.9L562.5,825.7L562.5,826.1L563,826.1L563.1,825.7L563.1,824.9L563.1,824.1L563.1,823.3L563.1,822.5L563.1,821.7L563.1,820.9L563.1,820.1L563.1,819.3L563.1,818.5L563.1,817.7L563.1,816.9L563.1,816.1L563.2,815.3L563.3,814.5L563.6,813.7L563.8,812.9L564,812.1L564.2,811.3L564.4,810.5L564.6,809.7L564.7,808.9L564.8,808.1L564.8,807.3L564.9,806.5L564.9,805.7L565,804.9L565.1,804.1L565.2,803.3L565.4,802.5L565.5,801.7L565.6,800.9L565.8,800.1L565.9,799.3L566,798.5L566.1,797.7L566.2,796.9L566.3,796.1L566.4,795.3L566.5,794.5L566.6,793.7L566.7,792.9L566.7,792.1L566.8,791.3L566.8,790.5L566.7,789.7L566.7,788.9L566.6,788.1L566.5,787.3L566.4,786.5L566.2,785.7L566.1,784.9L566,784.1L565.9,783.3L565.9,782.5L565.8,781.7L565.7,780.9L565.6,780.1L565.6,779.3L565.5,778.5L565.5,777.7L565.4,776.9L565.4,776.1L565.3,775.3L565.3,774.5L565.2,773.7L565.2,772.9L565.1,772.1L565.1,771.3L565,770.5L564.9,769.7L564.9,768.9L564.8,768.1L564.7,767.3L564.7,766.5L564.7,765.7L564.7,764.9L564.7,764.1L564.6,763.3L564.6,762.5L564.4,761.7L564.3,760.9L564.1,760.1L564,759.3L563.9,758.5L563.8,757.7L563.8,756.9L563.9,756.1L564,755.3L564.2,754.5L564.3,753.7L564.5,752.9L564.5,752.1L564.6,751.3L564.5,750.5L564.4,749.7L564.3,748.9L564.2,748.1L564.1,747.3L564,746.5L563.9,745.7L563.8,744.9L563.7,744.1L563.6,743.3L563.4,742.5L563.3,741.7L563.2,740.9L563.1,740.1L563.1,739.3L563.1,738.5L563.1,737.7L563.1,736.9L563.1,736.1L563.1,735.3L563.1,734.5L563.1,733.7L563.1,732.9L563.1,732.1L563.1,731.3L563.1,730.5L563.1,729.7L563.1,728.9L563.1,728.1L563.1,727.3L563.1,726.5L563.1,725.7L563.1,724.9L563.1,724.1L563.1,723.3L563.1,722.5L563.1,721.7L563.1,720.9L563.1,720.1L563.2,719.3L563.3,718.5L563.4,717.7L563.5,716.9L563.6,716.1L563,715.3Z" fill="#ec9aa0" stroke="#e27f86" stroke-width="0.6"/>
<line x1="558.87" y1="788.6" x2="566.65" y2="788.6" stroke="#a41a1a" stroke-width="2.0" />
<line x1="558.9" y1="793.41" x2="566.62" y2="793.41" stroke="#b52a2a" stroke-width="0.8" stroke-dasharray="0.9,0.9"/>
<line x1="560.89" y1="762.95" x2="564.63" y2="762.95" stroke="#b52a2a" stroke-width="0.8" stroke-dasharray="0.9,0.9"/>
<path d="M571.8,743.6L571.4,744.4L571.5,745.2L571.5,746L571.6,746.8L571.7,747.6L571.8,748.4L571.8,749.2L571.8,750L571.8,750.8L571.8,751.6L571.8,752.4L571.8,753.2L571.8,754L571.8,754.8L571.8,755.6L571.8,756.4L571.8,757.2L571.8,758L571.8,758.8L571.8,759.6L571.6,760.4L571.5,761.2L571.3,762L571.1,762.8L570.9,763.6L570.7,764.4L570.6,765.2L570.5,766L570.4,766.8L570.3,767.6L570.3,768.4L570.2,769.2L570.1,770L570,770.8L569.9,771.6L569.8,772.4L569.7,773.2L569.6,774L569.4,774.8L569.3,775.6L569.2,776.4L569.1,777.2L569,778L568.9,778.8L568.8,779.6L568.6,780.4L568.5,781.2L568.4,782L568.3,782.8L568.2,783.6L568.2,784.4L568.1,785.2L568.1,786L568.1,786.8L568.1,787.6L568.1,788.4L568.1,789.2L568.2,790L568.3,790.8L568.4,791.6L568.5,792.4L568.6,793.2L568.8,794L568.9,794.8L569,795.6L569.1,796.4L569.3,797.2L569.4,798L569.5,798.8L569.6,799.6L569.7,800.4L569.9,801.2L570,802L570.1,802.8L570.1,803.6L570.2,804.4L570.3,805.2L570.4,806L570.5,806.8L570.7,807.6L570.8,808.4L571,809.2L571.2,810L571.4,810.8L571.6,811.6L571.7,812.4L571.8,813.2L571.8,814L571.8,814.8L571.8,815.6L571.8,816.4L571.8,817.2L571.8,818L571.8,818.8L571.8,819.6L571.8,820.4L571.8,821.2L571.8,821.5L572.3,821.5L572.4,821.2L572.4,820.4L572.4,819.6L572.4,818.8L572.4,818L572.4,817.2L572.4,816.4L572.4,815.6L572.4,814.8L572.4,814L572.4,813.2L572.4,812.4L572.5,811.6L572.7,810.8L572.9,810L573.1,809.2L573.3,808.4L573.4,807.6L573.6,806.8L573.7,806L573.8,805.2L573.9,804.4L574,803.6L574,802.8L574.1,802L574.2,801.2L574.4,800.4L574.5,799.6L574.6,798.8L574.7,798L574.8,797.2L575,796.4L575.1,795.6L575.2,794.8L575.3,794L575.5,793.2L575.6,792.4L575.7,791.6L575.8,790.8L575.9,790L576,789.2L576,788.4L576,787.6L576.1,786.8L576,786L576,785.2L575.9,784.4L575.9,783.6L575.8,782.8L575.7,782L575.6,781.2L575.5,780.4L575.3,779.6L575.2,778.8L575.1,778L575,777.2L574.9,776.4L574.8,775.6L574.7,774.8L574.5,774L574.4,773.2L574.3,772.4L574.2,771.6L574.1,770.8L574,770L573.9,769.2L573.8,768.4L573.8,767.6L573.7,766.8L573.6,766L573.5,765.2L573.4,764.4L573.2,763.6L573,762.8L572.8,762L572.6,761.2L572.5,760.4L572.4,759.6L572.4,758.8L572.4,758L572.4,757.2L572.4,756.4L572.4,755.6L572.4,754.8L572.4,754L572.4,753.2L572.4,752.4L572.4,751.6L572.4,750.8L572.4,750L572.4,749.2L572.4,748.4L572.4,747.6L572.5,746.8L572.6,746L572.6,745.2L572.7,744.4L572.3,743.6Z" fill="#ec9aa0" stroke="#e27f86" stroke-width="0.6"/>
<line x1="568.05" y1="787.9" x2="576.05" y2="787.9" stroke="#a41a1a" stroke-width="2.0" />
<line x1="569.02" y1="795.91" x2="575.08" y2="795.91" stroke="#b52a2a" stroke-width="0.8" stroke-dasharray="0.9,0.9"/>
<line x1="569.1" y1="776.91" x2="575" y2="776.91" stroke="#b52a2a" stroke-width="0.8" stroke-dasharray="0.9,0.9"/>
<path d="M581.1,732.1L580.7,732.9L580.7,733.7L580.8,734.5L580.9,735.3L581,736.1L581,736.9L581,737.7L581,738.5L581,739.3L581,740.1L581,740.9L581,741.7L581,742.5L581,743.3L581,744.1L581,744.9L581,745.7L581,746.5L581,747.3L581,748.1L581,748.9L580.9,749.7L580.8,750.5L580.7,751.3L580.7,752.1L580.6,752.9L580.6,753.7L580.6,754.5L580.6,755.3L580.5,756.1L580.5,756.9L580.4,757.7L580.3,758.5L580.2,759.3L580.1,760.1L580,760.9L579.9,761.7L579.9,762.5L579.9,763.3L579.9,764.1L580,764.9L580,765.7L580,766.5L580,767.3L580,768.1L579.9,768.9L579.8,769.7L579.7,770.5L579.6,771.3L579.5,772.1L579.4,772.9L579.4,773.7L579.3,774.5L579.2,775.3L579.2,776.1L579.1,776.9L579.1,777.7L579,778.5L578.9,779.3L578.8,780.1L578.8,780.9L578.7,781.7L578.6,782.5L578.6,783.3L578.5,784.1L578.4,784.9L578.3,785.7L578.3,786.5L578.2,787.3L578.1,788.1L577.9,788.9L577.8,789.7L577.7,790.5L577.6,791.3L577.5,792.1L577.4,792.9L577.4,793.7L577.3,794.5L577.4,795.3L577.4,796.1L577.5,796.9L577.6,797.7L577.7,798.5L577.8,799.3L577.9,800.1L578.1,800.9L578.2,801.7L578.4,802.5L578.5,803.3L578.7,804.1L578.8,804.9L578.9,805.7L579,806.5L579.2,807.3L579.3,808.1L579.4,808.9L579.6,809.7L579.8,810.5L580,811.3L580.2,812.1L580.4,812.9L580.6,813.7L580.8,814.5L581,815.3L581,816.1L581,816.9L581,817.7L581,818.5L581,819.3L581,820.1L581,820.9L581,821.7L581,822.5L581.1,823L581.6,823L581.6,822.5L581.6,821.7L581.6,820.9L581.6,820.1L581.6,819.3L581.6,818.5L581.6,817.7L581.6,816.9L581.6,816.1L581.7,815.3L581.9,814.5L582,813.7L582.2,812.9L582.5,812.1L582.7,811.3L582.9,810.5L583.1,809.7L583.2,808.9L583.4,808.1L583.5,807.3L583.6,806.5L583.8,805.7L583.9,804.9L584,804.1L584.2,803.3L584.3,802.5L584.5,801.7L584.6,800.9L584.7,800.1L584.9,799.3L585,798.5L585.1,797.7L585.2,796.9L585.3,796.1L585.3,795.3L585.3,794.5L585.3,793.7L585.3,792.9L585.2,792.1L585.1,791.3L585,790.5L584.9,789.7L584.7,788.9L584.6,788.1L584.5,787.3L584.4,786.5L584.3,785.7L584.3,784.9L584.2,784.1L584.1,783.3L584,782.5L584,781.7L583.9,780.9L583.8,780.1L583.8,779.3L583.7,778.5L583.6,777.7L583.6,776.9L583.5,776.1L583.4,775.3L583.4,774.5L583.3,773.7L583.3,772.9L583.2,772.1L583.1,771.3L583,770.5L582.9,769.7L582.8,768.9L582.7,768.1L582.6,767.3L582.6,766.5L582.7,765.7L582.7,764.9L582.8,764.1L582.8,763.3L582.8,762.5L582.8,761.7L582.7,760.9L582.6,760.1L582.5,759.3L582.3,758.5L582.2,757.7L582.2,756.9L582.1,756.1L582.1,755.3L582.1,754.5L582.1,753.7L582.1,752.9L582,752.1L581.9,751.3L581.9,750.5L581.8,749.7L581.7,748.9L581.6,748.1L581.6,747.3L581.6,746.5L581.6,745.7L581.6,744.9L581.6,744.1L581.6,743.3L581.6,742.5L581.6,741.7L581.6,740.9L581.6,740.1L581.6,739.3L581.6,738.5L581.6,737.7L581.6,736.9L581.7,736.1L581.8,735.3L581.9,734.5L582,733.7L582,732.9L581.6,732.1Z" fill="#ec9aa0" stroke="#e27f86" stroke-width="0.6"/>
<line x1="577.41" y1="792.5" x2="585.27" y2="792.5" stroke="#a41a1a" stroke-width="2.0" />
<line x1="577.39" y1="796.41" x2="585.29" y2="796.41" stroke="#b52a2a" stroke-width="0.8" stroke-dasharray="0.9,0.9"/>
<line x1="579.58" y1="771.36" x2="583.1" y2="771.36" stroke="#b52a2a" stroke-width="0.8" stroke-dasharray="0.9,0.9"/>
<path d="M590.4,738.2L590,739L590,739.8L590.1,740.6L590.2,741.4L590.3,742.2L590.3,743L590.3,743.8L590.3,744.6L590.3,745.4L590.3,746.2L590.3,747L590.3,747.8L590.3,748.6L590.3,749.4L590.2,750.2L590.1,751L590,751.8L589.9,752.6L589.8,753.4L589.8,754.2L589.7,755L589.7,755.8L589.6,756.6L589.5,757.4L589.4,758.2L589.3,759L589.2,759.8L589.1,760.6L589,761.4L588.9,762.2L588.9,763L588.8,763.8L588.8,764.6L588.8,765.4L588.7,766.2L588.6,767L588.5,767.8L588.4,768.6L588.2,769.4L588.1,770.2L588,771L587.9,771.8L587.8,772.6L587.7,773.4L587.5,774.2L587.4,775L587.3,775.8L587.2,776.6L587.1,777.4L587,778.2L586.9,779L586.8,779.8L586.8,780.6L586.7,781.4L586.7,782.2L586.6,783L586.6,783.8L586.6,784.6L586.7,785.4L586.8,786.2L586.8,787L586.9,787.8L587,788.6L587.2,789.4L587.3,790.2L587.4,791L587.5,791.8L587.6,792.6L587.7,793.4L587.8,794.2L587.9,795L588,795.8L588.1,796.6L588.3,797.4L588.4,798.2L588.5,799L588.6,799.8L588.7,800.6L588.8,801.4L588.8,802.2L588.9,803L588.9,803.8L588.9,804.6L589,805.4L589.1,806.2L589.3,807L589.5,807.8L589.7,808.6L589.9,809.4L590,810.2L590.2,811L590.3,811.8L590.3,812.6L590.3,813.4L590.3,814.2L590.3,815L590.3,815.8L590.3,816.6L590.3,817.4L590.3,818.2L590.3,819L590.3,819.8L590.3,820.6L590.3,821.4L590.3,822.2L590.4,822.2L590.9,822.2L590.9,822.2L590.9,821.4L590.9,820.6L590.9,819.8L590.9,819L590.9,818.2L590.9,817.4L590.9,816.6L590.9,815.8L590.9,815L590.9,814.2L590.9,813.4L590.9,812.6L590.9,811.8L591.1,811L591.2,810.2L591.4,809.4L591.6,808.6L591.8,807.8L592,807L592.1,806.2L592.2,805.4L592.3,804.6L592.4,803.8L592.4,803L592.5,802.2L592.5,801.4L592.6,800.6L592.7,799.8L592.8,799L592.9,798.2L593,797.4L593.1,796.6L593.2,795.8L593.3,795L593.4,794.2L593.5,793.4L593.6,792.6L593.7,791.8L593.9,791L594,790.2L594.1,789.4L594.2,788.6L594.3,787.8L594.4,787L594.5,786.2L594.6,785.4L594.6,784.6L594.6,783.8L594.6,783L594.6,782.2L594.6,781.4L594.5,780.6L594.4,779.8L594.3,779L594.2,778.2L594.1,777.4L594,776.6L593.9,775.8L593.8,775L593.7,774.2L593.6,773.4L593.5,772.6L593.4,771.8L593.3,771L593.1,770.2L593,769.4L592.9,768.6L592.8,767.8L592.7,767L592.6,766.2L592.5,765.4L592.5,764.6L592.4,763.8L592.4,763L592.3,762.2L592.3,761.4L592.2,760.6L592.1,759.8L592,759L591.9,758.2L591.8,757.4L591.7,756.6L591.6,755.8L591.5,755L591.5,754.2L591.4,753.4L591.3,752.6L591.3,751.8L591.2,751L591.1,750.2L591,749.4L590.9,748.6L590.9,747.8L590.9,747L590.9,746.2L590.9,745.4L590.9,744.6L590.9,743.8L590.9,743L591,742.2L591.1,741.4L591.2,740.6L591.3,739.8L591.3,739L590.9,738.2Z" fill="#ec9aa0" stroke="#e27f86" stroke-width="0.6"/>
<line x1="586.65" y1="784.8" x2="594.61" y2="784.8" stroke="#a41a1a" stroke-width="2.0" />
<line x1="587.16" y1="789.6" x2="594.1" y2="789.6" stroke="#b52a2a" stroke-width="0.8" stroke-dasharray="0.9,0.9"/>
<line x1="588.36" y1="768.49" x2="592.9" y2="768.49" stroke="#b52a2a" stroke-width="0.8" stroke-dasharray="0.9,0.9"/>
<path d="M599.7,735.1L599.3,735.9L599.3,736.7L599.4,737.5L599.5,738.3L599.6,739.1L599.6,739.9L599.6,740.7L599.6,741.5L599.6,742.3L599.6,743.1L599.6,743.9L599.6,744.7L599.6,745.5L599.6,746.3L599.6,747.1L599.6,747.9L599.6,748.7L599.6,749.5L599.6,750.3L599.6,751.1L599.5,751.9L599.3,752.7L599.1,753.5L598.9,754.3L598.7,755.1L598.6,755.9L598.4,756.7L598.3,757.5L598.2,758.3L598.1,759.1L598.1,759.9L598,760.7L597.9,761.5L597.8,762.3L597.7,763.1L597.6,763.9L597.5,764.7L597.4,765.5L597.2,766.3L597.1,767.1L597,767.9L596.9,768.7L596.7,769.5L596.6,770.3L596.5,771.1L596.4,771.9L596.3,772.7L596.2,773.5L596.1,774.3L596,775.1L596,775.9L595.9,776.7L595.9,777.5L595.9,778.3L596,779.1L596,779.9L596.1,780.7L596.2,781.5L596.3,782.3L596.4,783.1L596.5,783.9L596.6,784.7L596.8,785.5L596.9,786.3L597,787.1L597.1,787.9L597.2,788.7L597.3,789.5L597.4,790.3L597.5,791.1L597.6,791.9L597.7,792.7L597.9,793.5L598,794.3L598,795.1L598.1,795.9L598.2,796.7L598.2,797.5L598.3,798.3L598.3,799.1L598.5,799.9L598.6,800.7L598.8,801.5L599,802.3L599.2,803.1L599.3,803.9L599.5,804.7L599.6,805.5L599.6,806.3L599.6,807.1L599.6,807.9L599.6,808.7L599.6,809.5L599.6,810.3L599.6,811.1L599.6,811.9L599.6,812.7L599.6,813.5L599.6,814.3L599.6,815.1L599.7,815.4L600.2,815.4L600.2,815.1L600.2,814.3L600.2,813.5L600.2,812.7L600.2,811.9L600.2,811.1L600.2,810.3L600.2,809.5L600.2,808.7L600.2,807.9L600.2,807.1L600.2,806.3L600.2,805.5L600.3,804.7L600.5,803.9L600.7,803.1L600.9,802.3L601.1,801.5L601.2,800.7L601.4,799.9L601.5,799.1L601.6,798.3L601.6,797.5L601.7,796.7L601.7,795.9L601.8,795.1L601.9,794.3L602,793.5L602.1,792.7L602.2,791.9L602.3,791.1L602.4,790.3L602.5,789.5L602.6,788.7L602.7,787.9L602.8,787.1L603,786.3L603.1,785.5L603.2,784.7L603.3,783.9L603.4,783.1L603.6,782.3L603.7,781.5L603.8,780.7L603.8,779.9L603.9,779.1L603.9,778.3L603.9,777.5L603.9,776.7L603.9,775.9L603.8,775.1L603.7,774.3L603.6,773.5L603.5,772.7L603.4,771.9L603.3,771.1L603.2,770.3L603.1,769.5L603,768.7L602.9,767.9L602.7,767.1L602.6,766.3L602.5,765.5L602.4,764.7L602.2,763.9L602.1,763.1L602,762.3L601.9,761.5L601.8,760.7L601.8,759.9L601.7,759.1L601.6,758.3L601.5,757.5L601.4,756.7L601.3,755.9L601.1,755.1L600.9,754.3L600.7,753.5L600.5,752.7L600.4,751.9L600.2,751.1L600.2,750.3L600.2,749.5L600.2,748.7L600.2,747.9L600.2,747.1L600.2,746.3L600.2,745.5L600.2,744.7L600.2,743.9L600.2,743.1L600.2,742.3L600.2,741.5L600.2,740.7L600.2,739.9L600.3,739.1L600.4,738.3L600.4,737.5L600.5,736.7L600.6,735.9L600.2,735.1Z" fill="#ec9aa0" stroke="#e27f86" stroke-width="0.6"/>
<line x1="595.95" y1="779.2" x2="603.89" y2="779.2" stroke="#a41a1a" stroke-width="2.0" />
<line x1="597.1" y1="787.83" x2="602.74" y2="787.83" stroke="#b52a2a" stroke-width="0.8" stroke-dasharray="0.9,0.9"/>
<line x1="596.99" y1="768.26" x2="602.85" y2="768.26" stroke="#b52a2a" stroke-width="0.8" stroke-dasharray="0.9,0.9"/>
<path d="M609,726.7L608.5,727.5L608.5,728.3L608.6,729.1L608.7,729.9L608.8,730.7L608.9,731.5L608.9,732.3L608.9,733.1L608.9,733.9L608.9,734.7L608.9,735.5L608.9,736.3L608.9,737.1L608.9,737.9L608.9,738.7L608.9,739.5L608.9,740.3L608.9,741.1L608.9,741.9L608.9,742.7L608.9,743.5L608.9,744.3L608.9,745.1L608.9,745.9L608.8,746.7L608.7,747.5L608.5,748.3L608.4,749.1L608.3,749.9L608.2,750.7L608.1,751.5L608,752.3L607.9,753.1L607.8,753.9L607.7,754.7L607.6,755.5L607.6,756.3L607.5,757.1L607.6,757.9L607.6,758.7L607.7,759.5L607.8,760.3L607.8,761.1L607.8,761.9L607.8,762.7L607.7,763.5L607.6,764.3L607.5,765.1L607.4,765.9L607.3,766.7L607.2,767.5L607.1,768.3L607.1,769.1L607,769.9L607,770.7L606.9,771.5L606.8,772.3L606.8,773.1L606.7,773.9L606.6,774.7L606.5,775.5L606.5,776.3L606.4,777.1L606.3,777.9L606.3,778.7L606.2,779.5L606.1,780.3L606,781.1L605.9,781.9L605.8,782.7L605.7,783.5L605.6,784.3L605.5,785.1L605.4,785.9L605.4,786.7L605.3,787.5L605.2,788.3L605.2,789.1L605.2,789.9L605.2,790.7L605.3,791.5L605.4,792.3L605.5,793.1L605.6,793.9L605.7,794.7L605.8,795.5L606,796.3L606.1,797.1L606.2,797.9L606.4,798.7L606.5,799.5L606.6,800.3L606.8,801.1L606.9,801.9L607,802.7L607.1,803.5L607.1,804.3L607.2,805.1L607.3,805.9L607.5,806.7L607.6,807.5L607.8,808.3L608.1,809.1L608.3,809.9L608.5,810.7L608.7,811.5L608.8,812.3L608.9,813.1L608.9,813.9L608.9,814.7L608.9,815.5L608.9,816.3L608.9,817.1L608.9,817.9L608.9,818.7L608.9,819.5L608.9,820.3L608.9,821.1L609,821.5L609.5,821.5L609.5,821.1L609.5,820.3L609.5,819.5L609.5,818.7L609.5,817.9L609.5,817.1L609.5,816.3L609.5,815.5L609.5,814.7L609.5,813.9L609.5,813.1L609.6,812.3L609.7,811.5L609.9,810.7L610.1,809.9L610.4,809.1L610.6,808.3L610.8,807.5L611,806.7L611.1,805.9L611.2,805.1L611.3,804.3L611.4,803.5L611.5,802.7L611.6,801.9L611.7,801.1L611.8,800.3L611.9,799.5L612.1,798.7L612.2,797.9L612.3,797.1L612.5,796.3L612.6,795.5L612.7,794.7L612.8,793.9L612.9,793.1L613,792.3L613.1,791.5L613.2,790.7L613.2,789.9L613.2,789.1L613.2,788.3L613.1,787.5L613.1,786.7L613,785.9L612.9,785.1L612.8,784.3L612.7,783.5L612.6,782.7L612.5,781.9L612.4,781.1L612.3,780.3L612.2,779.5L612.2,778.7L612.1,777.9L612,777.1L612,776.3L611.9,775.5L611.8,774.7L611.7,773.9L611.7,773.1L611.6,772.3L611.5,771.5L611.5,770.7L611.4,769.9L611.3,769.1L611.3,768.3L611.2,767.5L611.1,766.7L611,765.9L610.9,765.1L610.8,764.3L610.7,763.5L610.6,762.7L610.6,761.9L610.6,761.1L610.6,760.3L610.7,759.5L610.8,758.7L610.8,757.9L610.9,757.1L610.9,756.3L610.8,755.5L610.7,754.7L610.6,753.9L610.5,753.1L610.4,752.3L610.3,751.5L610.2,750.7L610.1,749.9L610,749.1L609.9,748.3L609.8,747.5L609.6,746.7L609.5,745.9L609.5,745.1L609.5,744.3L609.5,743.5L609.5,742.7L609.5,741.9L609.5,741.1L609.5,740.3L609.5,739.5L609.5,738.7L609.5,737.9L609.5,737.1L609.5,736.3L609.5,735.5L609.5,734.7L609.5,733.9L609.5,733.1L609.5,732.3L609.5,731.5L609.6,730.7L609.7,729.9L609.8,729.1L609.9,728.3L609.9,727.5L609.5,726.7Z" fill="#ec9aa0" stroke="#e27f86" stroke-width="0.6"/>
<line x1="605.28" y1="787.6" x2="613.14" y2="787.6" stroke="#a41a1a" stroke-width="2.0" />
<line x1="605.39" y1="791.95" x2="613.03" y2="791.95" stroke="#b52a2a" stroke-width="0.8" stroke-dasharray="0.9,0.9"/>
<line x1="607.38" y1="766.29" x2="611.04" y2="766.29" stroke="#b52a2a" stroke-width="0.8" stroke-dasharray="0.9,0.9"/>
<path d="M618.2,718L617.7,718.8L617.8,719.6L617.9,720.4L618,721.2L618.1,722L618.2,722.8L618.2,723.6L618.2,724.4L618.2,725.2L618.2,726L618.2,726.8L618.2,727.6L618.2,728.4L618.2,729.2L618.2,730L618.2,730.8L618.2,731.6L618.2,732.4L618.2,733.2L618.2,734L618.2,734.8L618.2,735.6L618.2,736.4L618.1,737.2L618,738L617.9,738.8L617.8,739.6L617.7,740.4L617.7,741.2L617.7,742L617.7,742.8L617.8,743.6L617.8,744.4L617.8,745.2L617.8,746L617.8,746.8L617.7,747.6L617.5,748.4L617.4,749.2L617.2,750L617,750.8L616.9,751.6L616.9,752.4L616.9,753.2L616.9,754L617,754.8L617.1,755.6L617.2,756.4L617.3,757.2L617.3,758L617.2,758.8L617.1,759.6L617,760.4L616.8,761.2L616.7,762L616.6,762.8L616.5,763.6L616.5,764.4L616.5,765.2L616.4,766L616.4,766.8L616.3,767.6L616.3,768.4L616.2,769.2L616.1,770L616.1,770.8L616,771.6L615.9,772.4L615.9,773.2L615.8,774L615.8,774.8L615.7,775.6L615.7,776.4L615.6,777.2L615.5,778L615.5,778.8L615.4,779.6L615.3,780.4L615.2,781.2L615.1,782L615,782.8L614.9,783.6L614.8,784.4L614.8,785.2L614.7,786L614.6,786.8L614.5,787.6L614.5,788.4L614.5,789.2L614.5,790L614.6,790.8L614.6,791.6L614.7,792.4L614.8,793.2L614.9,794L615.1,794.8L615.2,795.6L615.3,796.4L615.4,797.2L615.5,798L615.6,798.8L615.7,799.6L615.9,800.4L616,801.2L616.1,802L616.2,802.8L616.3,803.6L616.4,804.4L616.4,805.2L616.5,806L616.5,806.8L616.6,807.6L616.8,808.4L616.9,809.2L617.1,810L617.4,810.8L617.6,811.6L617.8,812.4L618,813.2L618.2,814L618.2,814.8L618.2,815.6L618.2,816.4L618.2,817.2L618.2,818L618.2,818.8L618.2,819.6L618.2,820.4L618.2,821.2L618.2,822L618.2,822.8L618.2,823.6L618.2,824.4L618.2,824.5L618.8,824.5L618.8,824.4L618.8,823.6L618.8,822.8L618.8,822L618.8,821.2L618.8,820.4L618.8,819.6L618.8,818.8L618.8,818L618.8,817.2L618.8,816.4L618.8,815.6L618.8,814.8L618.8,814L619,813.2L619.2,812.4L619.4,811.6L619.6,810.8L619.9,810L620.1,809.2L620.2,808.4L620.4,807.6L620.5,806.8L620.5,806L620.6,805.2L620.6,804.4L620.7,803.6L620.8,802.8L620.9,802L621,801.2L621.1,800.4L621.3,799.6L621.4,798.8L621.5,798L621.6,797.2L621.7,796.4L621.8,795.6L621.9,794.8L622.1,794L622.2,793.2L622.3,792.4L622.4,791.6L622.4,790.8L622.5,790L622.5,789.2L622.5,788.4L622.5,787.6L622.4,786.8L622.3,786L622.2,785.2L622.2,784.4L622.1,783.6L622,782.8L621.9,782L621.8,781.2L621.7,780.4L621.6,779.6L621.5,778.8L621.5,778L621.4,777.2L621.3,776.4L621.3,775.6L621.2,774.8L621.2,774L621.1,773.2L621.1,772.4L621,771.6L620.9,770.8L620.9,770L620.8,769.2L620.7,768.4L620.7,767.6L620.6,766.8L620.6,766L620.5,765.2L620.5,764.4L620.5,763.6L620.4,762.8L620.3,762L620.2,761.2L620,760.4L619.9,759.6L619.8,758.8L619.7,758L619.7,757.2L619.8,756.4L619.9,755.6L620,754.8L620.1,754L620.1,753.2L620.1,752.4L620.1,751.6L620,750.8L619.8,750L619.6,749.2L619.5,748.4L619.3,747.6L619.2,746.8L619.2,746L619.2,745.2L619.2,744.4L619.2,743.6L619.3,742.8L619.3,742L619.3,741.2L619.3,740.4L619.2,739.6L619.1,738.8L619,738L618.9,737.2L618.8,736.4L618.8,735.6L618.8,734.8L618.8,734L618.8,733.2L618.8,732.4L618.8,731.6L618.8,730.8L618.8,730L618.8,729.2L618.8,728.4L618.8,727.6L618.8,726.8L618.8,726L618.8,725.2L618.8,724.4L618.8,723.6L618.8,722.8L618.9,722L619,721.2L619.1,720.4L619.2,719.6L619.3,718.8L618.8,718Z" fill="#ec9aa0" stroke="#e27f86" stroke-width="0.6"/>
<line x1="614.59" y1="786.8" x2="622.41" y2="786.8" stroke="#a41a1a" stroke-width="2.0" />
<line x1="614.65" y1="791.63" x2="622.35" y2="791.63" stroke="#b52a2a" stroke-width="0.8" stroke-dasharray="0.9,0.9"/>
<line x1="616.6" y1="762.72" x2="620.4" y2="762.72" stroke="#b52a2a" stroke-width="0.8" stroke-dasharray="0.9,0.9"/>
<path d="M627.5,735.9L627.1,736.7L627.1,737.5L627.2,738.3L627.3,739.1L627.4,739.9L627.5,740.7L627.5,741.5L627.5,742.3L627.5,743.1L627.5,743.9L627.5,744.7L627.5,745.5L627.5,746.3L627.5,747.1L627.5,747.9L627.5,748.7L627.5,749.5L627.4,750.3L627.3,751.1L627.1,751.9L627,752.7L626.9,753.5L626.8,754.3L626.7,755.1L626.6,755.9L626.4,756.7L626.3,757.5L626.2,758.3L626.1,759.1L626,759.9L626,760.7L625.9,761.5L625.9,762.3L625.9,763.1L625.9,763.9L625.9,764.7L625.9,765.5L625.8,766.3L625.7,767.1L625.6,767.9L625.5,768.7L625.3,769.5L625.2,770.3L625.1,771.1L625,771.9L624.9,772.7L624.8,773.5L624.7,774.3L624.6,775.1L624.5,775.9L624.4,776.7L624.3,777.5L624.2,778.3L624.1,779.1L624,779.9L623.9,780.7L623.9,781.5L623.8,782.3L623.8,783.1L623.8,783.9L623.8,784.7L623.8,785.5L623.9,786.3L624,787.1L624.1,787.9L624.2,788.7L624.3,789.5L624.4,790.3L624.5,791.1L624.6,791.9L624.7,792.7L624.8,793.5L624.9,794.3L625,795.1L625.1,795.9L625.2,796.7L625.3,797.5L625.3,798.3L625.4,799.1L625.5,799.9L625.5,800.7L625.6,801.5L625.7,802.3L625.8,803.1L625.9,803.9L626.1,804.7L626.1,805.5L626.2,806.3L626.2,807.1L626.2,807.9L626.2,808.7L626.1,809.5L626.2,810.3L626.2,811.1L626.3,811.9L626.5,812.7L626.7,813.5L626.9,814.3L627.1,815.1L627.3,815.9L627.4,816.7L627.5,817.5L627.5,818.3L627.5,819.1L627.5,819.9L627.5,820.7L627.5,821.5L627.5,822.3L627.5,823.1L627.5,823.9L627.5,824.7L627.5,825.5L627.5,826.3L627.5,827.1L627.5,827.9L627.5,828.7L627.5,829.5L627.5,830.3L627.5,830.7L628,830.7L628.1,830.3L628.1,829.5L628.1,828.7L628.1,827.9L628.1,827.1L628.1,826.3L628.1,825.5L628.1,824.7L628.1,823.9L628.1,823.1L628.1,822.3L628.1,821.5L628.1,820.7L628.1,819.9L628.1,819.1L628.1,818.3L628.1,817.5L628.2,816.7L628.3,815.9L628.5,815.1L628.7,814.3L628.9,813.5L629.1,812.7L629.3,811.9L629.4,811.1L629.4,810.3L629.4,809.5L629.4,808.7L629.4,807.9L629.4,807.1L629.4,806.3L629.4,805.5L629.5,804.7L629.6,803.9L629.8,803.1L629.9,802.3L630,801.5L630,800.7L630.1,799.9L630.2,799.1L630.2,798.3L630.3,797.5L630.4,796.7L630.5,795.9L630.5,795.1L630.6,794.3L630.7,793.5L630.8,792.7L630.9,791.9L631.1,791.1L631.2,790.3L631.3,789.5L631.4,788.7L631.5,787.9L631.6,787.1L631.7,786.3L631.7,785.5L631.8,784.7L631.8,783.9L631.8,783.1L631.8,782.3L631.7,781.5L631.7,780.7L631.6,779.9L631.5,779.1L631.4,778.3L631.3,777.5L631.2,776.7L631.1,775.9L631,775.1L630.9,774.3L630.8,773.5L630.7,772.7L630.6,771.9L630.5,771.1L630.4,770.3L630.3,769.5L630.1,768.7L630,767.9L629.9,767.1L629.8,766.3L629.7,765.5L629.7,764.7L629.6,763.9L629.6,763.1L629.6,762.3L629.6,761.5L629.6,760.7L629.5,759.9L629.5,759.1L629.4,758.3L629.2,757.5L629.1,756.7L629,755.9L628.9,755.1L628.8,754.3L628.7,753.5L628.6,752.7L628.4,751.9L628.3,751.1L628.2,750.3L628.1,749.5L628.1,748.7L628.1,747.9L628.1,747.1L628.1,746.3L628.1,745.5L628.1,744.7L628.1,743.9L628.1,743.1L628.1,742.3L628.1,741.5L628.1,740.7L628.2,739.9L628.3,739.1L628.4,738.3L628.5,737.5L628.5,736.7L628,735.9Z" fill="#ec9aa0" stroke="#e27f86" stroke-width="0.6"/>
<line x1="623.9" y1="786" x2="631.68" y2="786" stroke="#a41a1a" stroke-width="2.0" />
<line x1="624.63" y1="791.73" x2="630.95" y2="791.73" stroke="#b52a2a" stroke-width="0.8" stroke-dasharray="0.9,0.9"/>
<line x1="625.45" y1="768.47" x2="630.13" y2="768.47" stroke="#b52a2a" stroke-width="0.8" stroke-dasharray="0.9,0.9"/>
<path d="M636.8,741L636.4,741.8L636.4,742.6L636.5,743.4L636.6,744.2L636.7,745L636.8,745.8L636.8,746.6L636.8,747.4L636.8,748.2L636.8,749L636.8,749.8L636.8,750.6L636.8,751.4L636.8,752.2L636.8,753L636.8,753.8L636.8,754.6L636.8,755.4L636.7,756.2L636.6,757L636.4,757.8L636.2,758.6L636,759.4L635.8,760.2L635.6,761L635.4,761.8L635.2,762.6L635.1,763.4L635,764.2L635,765L635.1,765.8L635.1,766.6L635.1,767.4L635.1,768.2L635.1,769L635.1,769.8L635,770.6L634.9,771.4L634.8,772.2L634.6,773L634.5,773.8L634.4,774.6L634.3,775.4L634.2,776.2L634.1,777L634,777.8L633.9,778.6L633.8,779.4L633.6,780.2L633.5,781L633.4,781.8L633.4,782.6L633.3,783.4L633.2,784.2L633.1,785L633.1,785.8L633.1,786.6L633.1,787.4L633.1,788.2L633.1,789L633.2,789.8L633.3,790.6L633.4,791.4L633.5,792.2L633.6,793L633.7,793.8L633.9,794.6L634,795.4L634.1,796.2L634.2,797L634.3,797.8L634.4,798.6L634.5,799.4L634.6,800.2L634.6,801L634.7,801.8L634.8,802.6L635,803.4L635.1,804.2L635.2,805L635.2,805.8L635.3,806.6L635.3,807.4L635.4,808.2L635.4,809L635.4,809.8L635.5,810.6L635.6,811.4L635.8,812.2L635.9,813L636.1,813.8L636.3,814.6L636.5,815.4L636.7,816.2L636.8,817L636.8,817.8L636.8,818.6L636.8,819.4L636.8,820.2L636.8,821L636.8,821.8L636.8,822.6L636.8,823.4L636.8,824.2L636.8,825L636.8,825.8L636.8,826.6L636.8,827.4L636.8,828.1L637.3,828.1L637.4,827.4L637.4,826.6L637.4,825.8L637.4,825L637.4,824.2L637.4,823.4L637.4,822.6L637.4,821.8L637.4,821L637.4,820.2L637.4,819.4L637.4,818.6L637.4,817.8L637.4,817L637.5,816.2L637.6,815.4L637.8,814.6L638,813.8L638.2,813L638.4,812.2L638.5,811.4L638.7,810.6L638.7,809.8L638.8,809L638.8,808.2L638.8,807.4L638.9,806.6L638.9,805.8L639,805L639.1,804.2L639.2,803.4L639.3,802.6L639.4,801.8L639.5,801L639.6,800.2L639.7,799.4L639.8,798.6L639.9,797.8L640,797L640.1,796.2L640.2,795.4L640.3,794.6L640.4,793.8L640.5,793L640.7,792.2L640.8,791.4L640.9,790.6L640.9,789.8L641,789L641.1,788.2L641.1,787.4L641.1,786.6L641.1,785.8L641,785L641,784.2L640.9,783.4L640.8,782.6L640.7,781.8L640.6,781L640.5,780.2L640.4,779.4L640.3,778.6L640.2,777.8L640.1,777L640,776.2L639.9,775.4L639.8,774.6L639.6,773.8L639.5,773L639.4,772.2L639.3,771.4L639.2,770.6L639.1,769.8L639,769L639,768.2L639,767.4L639.1,766.6L639.1,765.8L639.1,765L639.1,764.2L639.1,763.4L638.9,762.6L638.8,761.8L638.6,761L638.4,760.2L638.2,759.4L637.9,758.6L637.7,757.8L637.6,757L637.4,756.2L637.4,755.4L637.4,754.6L637.4,753.8L637.4,753L637.4,752.2L637.4,751.4L637.4,750.6L637.4,749.8L637.4,749L637.4,748.2L637.4,747.4L637.4,746.6L637.4,745.8L637.5,745L637.6,744.2L637.6,743.4L637.7,742.6L637.8,741.8L637.3,741Z" fill="#ec9aa0" stroke="#e27f86" stroke-width="0.6"/>
<line x1="633.15" y1="788.6" x2="641.01" y2="788.6" stroke="#a41a1a" stroke-width="2.0" />
<line x1="633.74" y1="793.66" x2="640.42" y2="793.66" stroke="#b52a2a" stroke-width="0.8" stroke-dasharray="0.9,0.9"/>
<line x1="634.76" y1="771.94" x2="639.4" y2="771.94" stroke="#b52a2a" stroke-width="0.8" stroke-dasharray="0.9,0.9"/>
<path d="M646.1,742.8L645.7,743.6L645.8,744.4L645.9,745.2L645.9,746L646,746.8L646.1,747.6L646.1,748.4L646.1,749.2L646.1,750L646.1,750.8L646.1,751.6L646.1,752.4L646.1,753.2L646.1,754L646.1,754.8L646.1,755.6L646.1,756.4L646.1,757.2L646.1,758L646.1,758.8L646.1,759.6L646,760.4L645.9,761.2L645.8,762L645.6,762.8L645.4,763.6L645.3,764.4L645.1,765.2L644.9,766L644.8,766.8L644.7,767.6L644.6,768.4L644.6,769.2L644.7,770L644.7,770.8L644.8,771.6L644.8,772.4L644.9,773.2L644.8,774L644.8,774.8L644.7,775.6L644.6,776.4L644.5,777.2L644.4,778L644.3,778.8L644.2,779.6L644.2,780.4L644.1,781.2L644,782L643.9,782.8L643.9,783.6L643.8,784.4L643.7,785.2L643.6,786L643.5,786.8L643.4,787.6L643.3,788.4L643.3,789.2L643.2,790L643.1,790.8L642.9,791.6L642.8,792.4L642.7,793.2L642.6,794L642.5,794.8L642.4,795.6L642.4,796.4L642.4,797.2L642.4,798L642.4,798.8L642.5,799.6L642.6,800.4L642.7,801.2L642.8,802L643,802.8L643.1,803.6L643.3,804.4L643.4,805.2L643.6,806L643.7,806.8L643.9,807.6L644,808.4L644.1,809.2L644.3,810L644.4,810.8L644.6,811.6L644.8,812.4L645,813.2L645.2,814L645.4,814.8L645.6,815.6L645.8,816.4L646,817.2L646.1,818L646.1,818.8L646.1,819.6L646.1,820.4L646.1,821.2L646.1,822L646.1,822.8L646.1,823.6L646.1,824.4L646.1,824.5L646.6,824.5L646.7,824.4L646.7,823.6L646.7,822.8L646.7,822L646.7,821.2L646.7,820.4L646.7,819.6L646.7,818.8L646.7,818L646.8,817.2L646.9,816.4L647.1,815.6L647.3,814.8L647.6,814L647.8,813.2L648,812.4L648.2,811.6L648.3,810.8L648.5,810L648.6,809.2L648.7,808.4L648.9,807.6L649,806.8L649.2,806L649.3,805.2L649.5,804.4L649.6,803.6L649.8,802.8L649.9,802L650,801.2L650.2,800.4L650.3,799.6L650.3,798.8L650.4,798L650.4,797.2L650.3,796.4L650.3,795.6L650.2,794.8L650.1,794L650,793.2L649.9,792.4L649.8,791.6L649.7,790.8L649.6,790L649.5,789.2L649.4,788.4L649.3,787.6L649.2,786.8L649.1,786L649.1,785.2L649,784.4L648.9,783.6L648.8,782.8L648.7,782L648.6,781.2L648.6,780.4L648.5,779.6L648.4,778.8L648.3,778L648.2,777.2L648.1,776.4L648,775.6L647.9,774.8L647.9,774L647.9,773.2L647.9,772.4L648,771.6L648,770.8L648.1,770L648.1,769.2L648.1,768.4L648,767.6L648,766.8L647.8,766L647.7,765.2L647.5,764.4L647.3,763.6L647.1,762.8L647,762L646.8,761.2L646.7,760.4L646.7,759.6L646.7,758.8L646.7,758L646.7,757.2L646.7,756.4L646.7,755.6L646.7,754.8L646.7,754L646.7,753.2L646.7,752.4L646.7,751.6L646.7,750.8L646.7,750L646.7,749.2L646.7,748.4L646.7,747.6L646.7,746.8L646.8,746L646.9,745.2L647,744.4L647,743.6L646.6,742.8Z" fill="#ec9aa0" stroke="#e27f86" stroke-width="0.6"/>
<line x1="642.45" y1="795.8" x2="650.29" y2="795.8" stroke="#a41a1a" stroke-width="2.0" />
<line x1="642.49" y1="799.48" x2="650.25" y2="799.48" stroke="#b52a2a" stroke-width="0.8" stroke-dasharray="0.9,0.9"/>
<line x1="644.52" y1="777.25" x2="648.22" y2="777.25" stroke="#b52a2a" stroke-width="0.8" stroke-dasharray="0.9,0.9"/>
<path d="M655.4,745.8L655,746.6L655,747.4L655.1,748.2L655.2,749L655.3,749.8L655.4,750.6L655.4,751.4L655.4,752.2L655.4,753L655.4,753.8L655.4,754.6L655.4,755.4L655.4,756.2L655.4,757L655.4,757.8L655.4,758.6L655.4,759.4L655.4,760.2L655.4,761L655.3,761.8L655.2,762.6L655,763.4L654.8,764.2L654.6,765L654.4,765.8L654.2,766.6L654.1,767.4L654,768.2L653.9,769L653.8,769.8L653.8,770.6L653.7,771.4L653.6,772.2L653.5,773L653.4,773.8L653.3,774.6L653.1,775.4L653,776.2L652.9,777L652.7,777.8L652.6,778.6L652.5,779.4L652.4,780.2L652.3,781L652.1,781.8L652,782.6L651.9,783.4L651.8,784.2L651.8,785L651.7,785.8L651.7,786.6L651.7,787.4L651.7,788.2L651.7,789L651.8,789.8L651.8,790.6L651.9,791.4L652.1,792.2L652.2,793L652.3,793.8L652.4,794.6L652.6,795.4L652.7,796.2L652.8,797L652.9,797.8L653,798.6L653.1,799.4L653.2,800.2L653.2,801L653.3,801.8L653.4,802.6L653.5,803.4L653.6,804.2L653.7,805L653.8,805.8L653.9,806.6L654,807.4L654,808.2L654,809L654.1,809.8L654.1,810.6L654.1,811.4L654.2,812.2L654.3,813L654.4,813.8L654.6,814.6L654.8,815.4L655,816.2L655.2,817L655.3,817.8L655.4,818.6L655.4,819.4L655.4,820.2L655.4,821L655.4,821.8L655.4,822.6L655.4,823.4L655.4,824.2L655.4,825L655.4,825.8L655.4,826.6L655.4,827.4L655.4,828.2L655.4,829L655.4,829.8L655.4,829.9L655.9,829.9L656,829.8L656,829L656,828.2L656,827.4L656,826.6L656,825.8L656,825L656,824.2L656,823.4L656,822.6L656,821.8L656,821L656,820.2L656,819.4L656,818.6L656,817.8L656.2,817L656.3,816.2L656.5,815.4L656.7,814.6L656.9,813.8L657,813L657.1,812.2L657.2,811.4L657.3,810.6L657.3,809.8L657.3,809L657.3,808.2L657.4,807.4L657.4,806.6L657.5,805.8L657.6,805L657.7,804.2L657.8,803.4L657.9,802.6L658,801.8L658.1,801L658.2,800.2L658.2,799.4L658.3,798.6L658.4,797.8L658.5,797L658.6,796.2L658.8,795.4L658.9,794.6L659,793.8L659.1,793L659.3,792.2L659.4,791.4L659.5,790.6L659.6,789.8L659.6,789L659.6,788.2L659.7,787.4L659.6,786.6L659.6,785.8L659.6,785L659.5,784.2L659.4,783.4L659.3,782.6L659.2,781.8L659.1,781L658.9,780.2L658.8,779.4L658.7,778.6L658.6,777.8L658.5,777L658.3,776.2L658.2,775.4L658.1,774.6L657.9,773.8L657.8,773L657.7,772.2L657.6,771.4L657.6,770.6L657.5,769.8L657.4,769L657.3,768.2L657.2,767.4L657.1,766.6L656.9,765.8L656.7,765L656.5,764.2L656.3,763.4L656.1,762.6L656,761.8L656,761L656,760.2L656,759.4L656,758.6L656,757.8L656,757L656,756.2L656,755.4L656,754.6L656,753.8L656,753L656,752.2L656,751.4L656,750.6L656,749.8L656.1,749L656.2,748.2L656.3,747.4L656.3,746.6L655.9,745.8Z" fill="#ec9aa0" stroke="#e27f86" stroke-width="0.6"/>
<line x1="651.77" y1="789.7" x2="659.55" y2="789.7" stroke="#a41a1a" stroke-width="2.0" />
<line x1="653.07" y1="799.28" x2="658.25" y2="799.28" stroke="#b52a2a" stroke-width="0.8" stroke-dasharray="0.9,0.9"/>
<line x1="652.62" y1="778.81" x2="658.7" y2="778.81" stroke="#b52a2a" stroke-width="0.8" stroke-dasharray="0.9,0.9"/>
<path d="M664.7,760.8L664.4,761.6L664.5,762.4L664.5,763.2L664.6,764L664.7,764.8L664.7,765.6L664.7,766.4L664.7,767.2L664.7,768L664.7,768.8L664.7,769.6L664.7,770.4L664.7,771.2L664.7,772L664.6,772.8L664.5,773.6L664.3,774.4L664.2,775.2L664,776L663.8,776.8L663.6,777.6L663.5,778.4L663.3,779.2L663.2,780L663.1,780.8L662.9,781.6L662.8,782.4L662.7,783.2L662.5,784L662.4,784.8L662.2,785.6L662.1,786.4L661.9,787.2L661.8,788L661.6,788.8L661.5,789.6L661.4,790.4L661.3,791.2L661.2,792L661.1,792.8L661,793.6L661,794.4L661,795.2L661,796L661,796.8L661.1,797.6L661.2,798.4L661.3,799.2L661.5,800L661.6,800.8L661.8,801.6L661.9,802.4L662.1,803.2L662.2,804L662.4,804.8L662.5,805.6L662.7,806.4L662.8,807.2L662.9,808L663.1,808.8L663.2,809.6L663.4,810.4L663.6,811.2L663.8,812L664,812.8L664.2,813.6L664.3,814.4L664.5,815.2L664.6,816L664.7,816.8L664.7,817.6L664.7,818.4L664.7,819.2L664.7,820L664.7,820.8L664.7,821.6L664.7,822.2L665.2,822.2L665.2,821.6L665.2,820.8L665.2,820L665.2,819.2L665.2,818.4L665.2,817.6L665.2,816.8L665.3,816L665.4,815.2L665.6,814.4L665.7,813.6L665.9,812.8L666.1,812L666.3,811.2L666.5,810.4L666.7,809.6L666.8,808.8L667,808L667.1,807.2L667.2,806.4L667.4,805.6L667.5,804.8L667.7,804L667.8,803.2L668,802.4L668.1,801.6L668.3,800.8L668.4,800L668.6,799.2L668.7,798.4L668.8,797.6L668.9,796.8L668.9,796L669,795.2L668.9,794.4L668.9,793.6L668.8,792.8L668.7,792L668.6,791.2L668.5,790.4L668.4,789.6L668.3,788.8L668.1,788L668,787.2L667.8,786.4L667.7,785.6L667.5,784.8L667.4,784L667.2,783.2L667.1,782.4L667,781.6L666.8,780.8L666.7,780L666.6,779.2L666.4,778.4L666.3,777.6L666.1,776.8L665.9,776L665.7,775.2L665.6,774.4L665.4,773.6L665.3,772.8L665.2,772L665.2,771.2L665.2,770.4L665.2,769.6L665.2,768.8L665.2,768L665.2,767.2L665.2,766.4L665.2,765.6L665.2,764.8L665.3,764L665.4,763.2L665.4,762.4L665.5,761.6L665.2,760.8Z" fill="#ec9aa0" stroke="#e27f86" stroke-width="0.6"/>
<line x1="660.97" y1="795.8" x2="668.93" y2="795.8" stroke="#a41a1a" stroke-width="2.0" />
<line x1="661.92" y1="802.09" x2="667.98" y2="802.09" stroke="#b52a2a" stroke-width="0.8" stroke-dasharray="0.9,0.9"/>
<line x1="661.94" y1="787.11" x2="667.96" y2="787.11" stroke="#b52a2a" stroke-width="0.8" stroke-dasharray="0.9,0.9"/>
<path d="M674,766L673.8,766.8L673.8,767.6L673.9,768.4L673.9,769.2L673.9,770L673.9,770.8L673.9,771.6L673.9,772.4L673.9,773.2L673.9,774L673.9,774.8L673.9,775.6L673.8,776.4L673.6,777.2L673.4,778L673.3,778.8L673.1,779.6L672.9,780.4L672.7,781.2L672.5,782L672.3,782.8L672.2,783.6L672,784.4L671.8,785.2L671.7,786L671.5,786.8L671.3,787.6L671.1,788.4L671,789.2L670.8,790L670.7,790.8L670.5,791.6L670.4,792.4L670.3,793.2L670.3,794L670.2,794.8L670.3,795.6L670.3,796.4L670.4,797.2L670.5,798L670.6,798.8L670.8,799.6L670.9,800.4L671.1,801.2L671.3,802L671.5,802.8L671.6,803.6L671.8,804.4L672,805.2L672.1,806L672.3,806.8L672.5,807.6L672.6,808.4L672.8,809.2L673,810L673.2,810.8L673.4,811.6L673.6,812.4L673.8,813.2L673.9,814L673.9,814.8L673.9,815.6L673.9,816.4L673.9,817.2L673.9,818L673.9,818.8L674,819.2L674.5,819.2L674.5,818.8L674.5,818L674.5,817.2L674.5,816.4L674.5,815.6L674.5,814.8L674.6,814L674.7,813.2L674.9,812.4L675.1,811.6L675.3,810.8L675.5,810L675.7,809.2L675.8,808.4L676,807.6L676.2,806.8L676.4,806L676.5,805.2L676.7,804.4L676.9,803.6L677,802.8L677.2,802L677.4,801.2L677.5,800.4L677.7,799.6L677.9,798.8L678,798L678.1,797.2L678.2,796.4L678.2,795.6L678.2,794.8L678.2,794L678.2,793.2L678.1,792.4L678,791.6L677.8,790.8L677.7,790L677.5,789.2L677.3,788.4L677.2,787.6L677,786.8L676.8,786L676.7,785.2L676.5,784.4L676.3,783.6L676.2,782.8L676,782L675.8,781.2L675.6,780.4L675.4,779.6L675.2,778.8L675,778L674.9,777.2L674.7,776.4L674.6,775.6L674.5,774.8L674.5,774L674.5,773.2L674.5,772.4L674.5,771.6L674.5,770.8L674.5,770L674.6,769.2L674.6,768.4L674.7,767.6L674.7,766.8L674.5,766Z" fill="#ec9aa0" stroke="#e27f86" stroke-width="0.6"/>
<line x1="670.25" y1="795.8" x2="678.23" y2="795.8" stroke="#a41a1a" stroke-width="2.0" />
<line x1="671.11" y1="801.38" x2="677.37" y2="801.38" stroke="#b52a2a" stroke-width="0.8" stroke-dasharray="0.9,0.9"/>
<line x1="671.14" y1="788.41" x2="677.34" y2="788.41" stroke="#b52a2a" stroke-width="0.8" stroke-dasharray="0.9,0.9"/>
<line x1="30.3" y1="791.2" x2="193.5" y2="791.2" stroke="#111" stroke-width="1.7" stroke-dasharray="1.6,2.87"/>
<line x1="356.5" y1="791.2" x2="518.5" y2="791.2" stroke="#111" stroke-width="1.7" stroke-dasharray="1.6,2.87"/>
<line x1="37.5" y1="851" x2="37.5" y2="857" stroke="#333" stroke-width="0.9" />
<text transform="translate(40.4,858.8) rotate(-90) scale(0.84,1)" font-size="8" text-anchor="end" fill="#111">Cer d18:0/18:0</text>
<line x1="46.79" y1="851" x2="46.79" y2="857" stroke="#333" stroke-width="0.9" />
<text transform="translate(49.69,858.8) rotate(-90) scale(0.84,1)" font-size="8" text-anchor="end" fill="#111">Cer d18:0/24:0</text>
<line x1="56.08" y1="851" x2="56.08" y2="857" stroke="#333" stroke-width="0.9" />
<text transform="translate(58.98,858.8) rotate(-90) scale(0.84,1)" font-size="8" text-anchor="end" fill="#111">Cer d18:0/24:1</text>
<line x1="65.37" y1="851" x2="65.37" y2="857" stroke="#333" stroke-width="0.9" />
<text transform="translate(68.27,858.8) rotate(-90) scale(0.84,1)" font-size="8" text-anchor="end" fill="#111">Cer d18:1/18:0</text>
<line x1="74.66" y1="851" x2="74.66" y2="857" stroke="#333" stroke-width="0.9" />
<text transform="translate(77.56,858.8) rotate(-90) scale(0.84,1)" font-size="8" text-anchor="end" fill="#111">Cer d18:1/20:0</text>
<line x1="83.95" y1="851" x2="83.95" y2="857" stroke="#333" stroke-width="0.9" />
<text transform="translate(86.85,858.8) rotate(-90) scale(0.84,1)" font-size="8" text-anchor="end" fill="#111">Cer d18:1/22:0</text>
<line x1="93.24" y1="851" x2="93.24" y2="857" stroke="#333" stroke-width="0.9" />
<text transform="translate(96.14,858.8) rotate(-90) scale(0.84,1)" font-size="8" text-anchor="end" fill="#111">Cer d18:1/24:0</text>
<line x1="102.53" y1="851" x2="102.53" y2="857" stroke="#333" stroke-width="0.9" />
<text transform="translate(105.43,858.8) rotate(-90) scale(0.84,1)" font-size="8" text-anchor="end" fill="#111">Cer d18:1/24:1</text>
<line x1="111.82" y1="851" x2="111.82" y2="857" stroke="#333" stroke-width="0.9" />
<text transform="translate(114.72,858.8) rotate(-90) scale(0.84,1)" font-size="8" text-anchor="end" fill="#111">GlcCer d18:1/16:0</text>
<line x1="121.11" y1="851" x2="121.11" y2="857" stroke="#333" stroke-width="0.9" />
<text transform="translate(124.01,858.8) rotate(-90) scale(0.84,1)" font-size="8" text-anchor="end" fill="#111">GlcCer d18:1/18:0</text>
<line x1="130.4" y1="851" x2="130.4" y2="857" stroke="#333" stroke-width="0.9" />
<text transform="translate(133.3,858.8) rotate(-90) scale(0.84,1)" font-size="8" text-anchor="end" fill="#111">GlcCer d18:1/24:1</text>
<line x1="139.69" y1="851" x2="139.69" y2="857" stroke="#333" stroke-width="0.9" />
<text transform="translate(142.59,858.8) rotate(-90) scale(0.84,1)" font-size="8" text-anchor="end" fill="#111">LacCer d18:1/16:0</text>
<line x1="148.98" y1="851" x2="148.98" y2="857" stroke="#333" stroke-width="0.9" />
<text transform="translate(151.88,858.8) rotate(-90) scale(0.84,1)" font-size="8" text-anchor="end" fill="#111">LacCer d18:1/18:0</text>
<line x1="158.27" y1="851" x2="158.27" y2="857" stroke="#333" stroke-width="0.9" />
<text transform="translate(161.17,858.8) rotate(-90) scale(0.84,1)" font-size="8" text-anchor="end" fill="#111">LacCer d18:1/24:0</text>
<line x1="167.56" y1="851" x2="167.56" y2="857" stroke="#333" stroke-width="0.9" />
<text transform="translate(170.46,858.8) rotate(-90) scale(0.84,1)" font-size="8" text-anchor="end" fill="#111">LacCer d18:1/24:1</text>
<line x1="176.85" y1="851" x2="176.85" y2="857" stroke="#333" stroke-width="0.9" />
<text transform="translate(179.75,858.8) rotate(-90) scale(0.84,1)" font-size="8" text-anchor="end" fill="#111">SPH d18:1</text>
<line x1="186.14" y1="851" x2="186.14" y2="857" stroke="#333" stroke-width="0.9" />
<text transform="translate(189.04,858.8) rotate(-90) scale(0.84,1)" font-size="8" text-anchor="end" fill="#111">S1P d18:1</text>
<line x1="200.1" y1="851" x2="200.1" y2="857" stroke="#333" stroke-width="0.9" />
<text transform="translate(203,858.8) rotate(-90) scale(0.84,1)" font-size="8" text-anchor="end" fill="#111">Cer d18:0/18:0</text>
<line x1="209.39" y1="851" x2="209.39" y2="857" stroke="#333" stroke-width="0.9" />
<text transform="translate(212.29,858.8) rotate(-90) scale(0.84,1)" font-size="8" text-anchor="end" fill="#111">Cer d18:0/24:0</text>
<line x1="218.68" y1="851" x2="218.68" y2="857" stroke="#333" stroke-width="0.9" />
<text transform="translate(221.58,858.8) rotate(-90) scale(0.84,1)" font-size="8" text-anchor="end" fill="#111">Cer d18:0/24:1</text>
<line x1="227.97" y1="851" x2="227.97" y2="857" stroke="#333" stroke-width="0.9" />
<text transform="translate(230.87,858.8) rotate(-90) scale(0.84,1)" font-size="8" text-anchor="end" fill="#111">Cer d18:1/18:0</text>
<line x1="237.26" y1="851" x2="237.26" y2="857" stroke="#333" stroke-width="0.9" />
<text transform="translate(240.16,858.8) rotate(-90) scale(0.84,1)" font-size="8" text-anchor="end" fill="#111">Cer d18:1/20:0</text>
<line x1="246.55" y1="851" x2="246.55" y2="857" stroke="#333" stroke-width="0.9" />
<text transform="translate(249.45,858.8) rotate(-90) scale(0.84,1)" font-size="8" text-anchor="end" fill="#111">Cer d18:1/22:0</text>
<line x1="255.84" y1="851" x2="255.84" y2="857" stroke="#333" stroke-width="0.9" />
<text transform="translate(258.74,858.8) rotate(-90) scale(0.84,1)" font-size="8" text-anchor="end" fill="#111">Cer d18:1/24:0</text>
<line x1="265.13" y1="851" x2="265.13" y2="857" stroke="#333" stroke-width="0.9" />
<text transform="translate(268.03,858.8) rotate(-90) scale(0.84,1)" font-size="8" text-anchor="end" fill="#111">Cer d18:1/24:1</text>
<line x1="274.42" y1="851" x2="274.42" y2="857" stroke="#333" stroke-width="0.9" />
<text transform="translate(277.32,858.8) rotate(-90) scale(0.84,1)" font-size="8" text-anchor="end" fill="#111">GlcCer d18:1/16:0</text>
<line x1="283.71" y1="851" x2="283.71" y2="857" stroke="#333" stroke-width="0.9" />
<text transform="translate(286.61,858.8) rotate(-90) scale(0.84,1)" font-size="8" text-anchor="end" fill="#111">GlcCer d18:1/18:0</text>
<line x1="293" y1="851" x2="293" y2="857" stroke="#333" stroke-width="0.9" />
<text transform="translate(295.9,858.8) rotate(-90) scale(0.84,1)" font-size="8" text-anchor="end" fill="#111">GlcCer d18:1/24:1</text>
<line x1="302.29" y1="851" x2="302.29" y2="857" stroke="#333" stroke-width="0.9" />
<text transform="translate(305.19,858.8) rotate(-90) scale(0.84,1)" font-size="8" text-anchor="end" fill="#111">LacCer d18:1/16:0</text>
<line x1="311.58" y1="851" x2="311.58" y2="857" stroke="#333" stroke-width="0.9" />
<text transform="translate(314.48,858.8) rotate(-90) scale(0.84,1)" font-size="8" text-anchor="end" fill="#111">LacCer d18:1/18:0</text>
<line x1="320.87" y1="851" x2="320.87" y2="857" stroke="#333" stroke-width="0.9" />
<text transform="translate(323.77,858.8) rotate(-90) scale(0.84,1)" font-size="8" text-anchor="end" fill="#111">LacCer d18:1/24:0</text>
<line x1="330.16" y1="851" x2="330.16" y2="857" stroke="#333" stroke-width="0.9" />
<text transform="translate(333.06,858.8) rotate(-90) scale(0.84,1)" font-size="8" text-anchor="end" fill="#111">LacCer d18:1/24:1</text>
<line x1="339.45" y1="851" x2="339.45" y2="857" stroke="#333" stroke-width="0.9" />
<text transform="translate(342.35,858.8) rotate(-90) scale(0.84,1)" font-size="8" text-anchor="end" fill="#111">SPH d18:1</text>
<line x1="348.74" y1="851" x2="348.74" y2="857" stroke="#333" stroke-width="0.9" />
<text transform="translate(351.64,858.8) rotate(-90) scale(0.84,1)" font-size="8" text-anchor="end" fill="#111">S1P d18:1</text>
<line x1="362.9" y1="851" x2="362.9" y2="857" stroke="#333" stroke-width="0.9" />
<text transform="translate(365.8,858.8) rotate(-90) scale(0.84,1)" font-size="8" text-anchor="end" fill="#111">Cer d18:0/18:0</text>
<line x1="372.19" y1="851" x2="372.19" y2="857" stroke="#333" stroke-width="0.9" />
<text transform="translate(375.09,858.8) rotate(-90) scale(0.84,1)" font-size="8" text-anchor="end" fill="#111">Cer d18:0/24:0</text>
<line x1="381.48" y1="851" x2="381.48" y2="857" stroke="#333" stroke-width="0.9" />
<text transform="translate(384.38,858.8) rotate(-90) scale(0.84,1)" font-size="8" text-anchor="end" fill="#111">Cer d18:0/24:1</text>
<line x1="390.77" y1="851" x2="390.77" y2="857" stroke="#333" stroke-width="0.9" />
<text transform="translate(393.67,858.8) rotate(-90) scale(0.84,1)" font-size="8" text-anchor="end" fill="#111">Cer d18:1/18:0</text>
<line x1="400.06" y1="851" x2="400.06" y2="857" stroke="#333" stroke-width="0.9" />
<text transform="translate(402.96,858.8) rotate(-90) scale(0.84,1)" font-size="8" text-anchor="end" fill="#111">Cer d18:1/20:0</text>
<line x1="409.35" y1="851" x2="409.35" y2="857" stroke="#333" stroke-width="0.9" />
<text transform="translate(412.25,858.8) rotate(-90) scale(0.84,1)" font-size="8" text-anchor="end" fill="#111">Cer d18:1/22:0</text>
<line x1="418.64" y1="851" x2="418.64" y2="857" stroke="#333" stroke-width="0.9" />
<text transform="translate(421.54,858.8) rotate(-90) scale(0.84,1)" font-size="8" text-anchor="end" fill="#111">Cer d18:1/24:0</text>
<line x1="427.93" y1="851" x2="427.93" y2="857" stroke="#333" stroke-width="0.9" />
<text transform="translate(430.83,858.8) rotate(-90) scale(0.84,1)" font-size="8" text-anchor="end" fill="#111">Cer d18:1/24:1</text>
<line x1="437.22" y1="851" x2="437.22" y2="857" stroke="#333" stroke-width="0.9" />
<text transform="translate(440.12,858.8) rotate(-90) scale(0.84,1)" font-size="8" text-anchor="end" fill="#111">GlcCer d18:1/16:0</text>
<line x1="446.51" y1="851" x2="446.51" y2="857" stroke="#333" stroke-width="0.9" />
<text transform="translate(449.41,858.8) rotate(-90) scale(0.84,1)" font-size="8" text-anchor="end" fill="#111">GlcCer d18:1/18:0</text>
<line x1="455.8" y1="851" x2="455.8" y2="857" stroke="#333" stroke-width="0.9" />
<text transform="translate(458.7,858.8) rotate(-90) scale(0.84,1)" font-size="8" text-anchor="end" fill="#111">GlcCer d18:1/24:1</text>
<line x1="465.09" y1="851" x2="465.09" y2="857" stroke="#333" stroke-width="0.9" />
<text transform="translate(467.99,858.8) rotate(-90) scale(0.84,1)" font-size="8" text-anchor="end" fill="#111">LacCer d18:1/16:0</text>
<line x1="474.38" y1="851" x2="474.38" y2="857" stroke="#333" stroke-width="0.9" />
<text transform="translate(477.28,858.8) rotate(-90) scale(0.84,1)" font-size="8" text-anchor="end" fill="#111">LacCer d18:1/18:0</text>
<line x1="483.67" y1="851" x2="483.67" y2="857" stroke="#333" stroke-width="0.9" />
<text transform="translate(486.57,858.8) rotate(-90) scale(0.84,1)" font-size="8" text-anchor="end" fill="#111">LacCer d18:1/24:0</text>
<line x1="492.96" y1="851" x2="492.96" y2="857" stroke="#333" stroke-width="0.9" />
<text transform="translate(495.86,858.8) rotate(-90) scale(0.84,1)" font-size="8" text-anchor="end" fill="#111">LacCer d18:1/24:1</text>
<line x1="502.25" y1="851" x2="502.25" y2="857" stroke="#333" stroke-width="0.9" />
<text transform="translate(505.15,858.8) rotate(-90) scale(0.84,1)" font-size="8" text-anchor="end" fill="#111">SPH d18:1</text>
<line x1="511.54" y1="851" x2="511.54" y2="857" stroke="#333" stroke-width="0.9" />
<text transform="translate(514.44,858.8) rotate(-90) scale(0.84,1)" font-size="8" text-anchor="end" fill="#111">S1P d18:1</text>
<line x1="525.6" y1="851" x2="525.6" y2="857" stroke="#333" stroke-width="0.9" />
<text transform="translate(528.5,858.8) rotate(-90) scale(0.84,1)" font-size="8" text-anchor="end" fill="#111">Cer d18:0/18:0</text>
<line x1="534.89" y1="851" x2="534.89" y2="857" stroke="#333" stroke-width="0.9" />
<text transform="translate(537.79,858.8) rotate(-90) scale(0.84,1)" font-size="8" text-anchor="end" fill="#111">Cer d18:0/24:0</text>
<line x1="544.18" y1="851" x2="544.18" y2="857" stroke="#333" stroke-width="0.9" />
<text transform="translate(547.08,858.8) rotate(-90) scale(0.84,1)" font-size="8" text-anchor="end" fill="#111">Cer d18:0/24:1</text>
<line x1="553.47" y1="851" x2="553.47" y2="857" stroke="#333" stroke-width="0.9" />
<text transform="translate(556.37,858.8) rotate(-90) scale(0.84,1)" font-size="8" text-anchor="end" fill="#111">Cer d18:1/18:0</text>
<line x1="562.76" y1="851" x2="562.76" y2="857" stroke="#333" stroke-width="0.9" />
<text transform="translate(565.66,858.8) rotate(-90) scale(0.84,1)" font-size="8" text-anchor="end" fill="#111">Cer d18:1/20:0</text>
<line x1="572.05" y1="851" x2="572.05" y2="857" stroke="#333" stroke-width="0.9" />
<text transform="translate(574.95,858.8) rotate(-90) scale(0.84,1)" font-size="8" text-anchor="end" fill="#111">Cer d18:1/22:0</text>
<line x1="581.34" y1="851" x2="581.34" y2="857" stroke="#333" stroke-width="0.9" />
<text transform="translate(584.24,858.8) rotate(-90) scale(0.84,1)" font-size="8" text-anchor="end" fill="#111">Cer d18:1/24:0</text>
<line x1="590.63" y1="851" x2="590.63" y2="857" stroke="#333" stroke-width="0.9" />
<text transform="translate(593.53,858.8) rotate(-90) scale(0.84,1)" font-size="8" text-anchor="end" fill="#111">Cer d18:1/24:1</text>
<line x1="599.92" y1="851" x2="599.92" y2="857" stroke="#333" stroke-width="0.9" />
<text transform="translate(602.82,858.8) rotate(-90) scale(0.84,1)" font-size="8" text-anchor="end" fill="#111">GlcCer d18:1/16:0</text>
<line x1="609.21" y1="851" x2="609.21" y2="857" stroke="#333" stroke-width="0.9" />
<text transform="translate(612.11,858.8) rotate(-90) scale(0.84,1)" font-size="8" text-anchor="end" fill="#111">GlcCer d18:1/18:0</text>
<line x1="618.5" y1="851" x2="618.5" y2="857" stroke="#333" stroke-width="0.9" />
<text transform="translate(621.4,858.8) rotate(-90) scale(0.84,1)" font-size="8" text-anchor="end" fill="#111">GlcCer d18:1/24:1</text>
<line x1="627.79" y1="851" x2="627.79" y2="857" stroke="#333" stroke-width="0.9" />
<text transform="translate(630.69,858.8) rotate(-90) scale(0.84,1)" font-size="8" text-anchor="end" fill="#111">LacCer d18:1/16:0</text>
<line x1="637.08" y1="851" x2="637.08" y2="857" stroke="#333" stroke-width="0.9" />
<text transform="translate(639.98,858.8) rotate(-90) scale(0.84,1)" font-size="8" text-anchor="end" fill="#111">LacCer d18:1/18:0</text>
<line x1="646.37" y1="851" x2="646.37" y2="857" stroke="#333" stroke-width="0.9" />
<text transform="translate(649.27,858.8) rotate(-90) scale(0.84,1)" font-size="8" text-anchor="end" fill="#111">LacCer d18:1/24:0</text>
<line x1="655.66" y1="851" x2="655.66" y2="857" stroke="#333" stroke-width="0.9" />
<text transform="translate(658.56,858.8) rotate(-90) scale(0.84,1)" font-size="8" text-anchor="end" fill="#111">LacCer d18:1/24:1</text>
<line x1="664.95" y1="851" x2="664.95" y2="857" stroke="#333" stroke-width="0.9" />
<text transform="translate(667.85,858.8) rotate(-90) scale(0.84,1)" font-size="8" text-anchor="end" fill="#111">SPH d18:1</text>
<line x1="674.24" y1="851" x2="674.24" y2="857" stroke="#333" stroke-width="0.9" />
<text transform="translate(677.14,858.8) rotate(-90) scale(0.84,1)" font-size="8" text-anchor="end" fill="#111">S1P d18:1</text>
<rect x="82.5" y="839.3" width="16" height="5" fill="#d3d3d3" stroke="#444" stroke-width="0.8"/>
<text x="107.4" y="844.9" font-size="10.35" fill="#111" text-anchor="start" >HC VEH</text>
<rect x="226.8" y="839.3" width="16" height="5" fill="#f8dfe1" stroke="#ec8f8d" stroke-width="0.8"/>
<text x="251.5" y="844.9" font-size="10.35" fill="#111" text-anchor="start" >PD VEH</text>
<rect x="403.5" y="839.3" width="16" height="5" fill="#a8a8a8" stroke="#555" stroke-width="0.8"/>
<text x="428.3" y="844.9" font-size="10.35" fill="#111" text-anchor="start" >HC PIM</text>
<rect x="575.5" y="839.3" width="16" height="5" fill="#ec9aa0" stroke="#e27f86" stroke-width="0.8"/>
<text x="600.9" y="844.9" font-size="10.35" fill="#111" text-anchor="start" >PD PIM</text>
</svg></body></html>
